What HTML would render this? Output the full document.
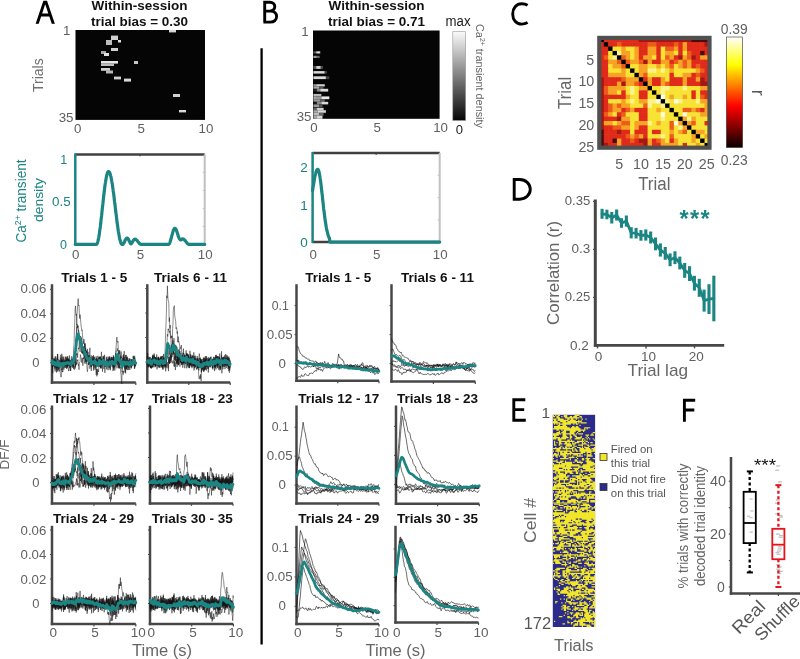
<!DOCTYPE html>
<html><head><meta charset="utf-8"><style>
html,body{margin:0;padding:0;background:#fff;}
svg{display:block;font-family:"Liberation Sans", sans-serif;will-change:transform;}
</style></head><body>
<svg width="800" height="659" viewBox="0 0 800 659">
<rect x="0" y="0" width="800" height="659" fill="#fff"/>
<g fill="none" stroke="#000" stroke-width="2.9" stroke-linejoin="miter" stroke-miterlimit="2"><path d="M36.7,25.2 L44.4,2.1 H46.0 L53.8,25.2 M40.2,15.0 H50.3"/><path d="M263.4,22.1 H270.3 C274.1,22.1 276.6,19.9 276.6,16.6 C276.6,13.4 274.3,11.1 270.3,11.1 H264.7 M264.7,22.1 V2.2 H269.8 C273.0,2.2 274.8,4.2 274.8,6.6 C274.8,9.2 272.8,11.1 269.8,11.1 H264.7"/><path d="M527.6,5.3 C525.8,4.2 524.0,3.8 521.8,3.8 C516.2,3.8 512.7,8.2 512.7,13.9 C512.7,19.8 516.2,24.1 521.8,24.1 C524.0,24.1 525.8,23.6 527.6,22.6"/><path d="M514.2,179.5 H519.8 A10.5 9.85 0 0 1 519.8 199.2 H514.2 Z"/><path d="M525.3,399.7 H513.8 V420.3 H525.8 M513.8,409.6 H524.2"/><path d="M695.2,400.2 H684.4 V421.7 M684.4,410.0 H694.3"/></g>
<rect x="33.00" y="23.80" width="24.00" height="2.60" fill="#fff" />
<text x="139.50" y="9.80" font-size="13.5" fill="#111" text-anchor="middle" font-weight="bold" textLength="96" lengthAdjust="spacingAndGlyphs" >Within-session</text>
<text x="139.50" y="25.60" font-size="13.5" fill="#111" text-anchor="middle" font-weight="bold" textLength="97" lengthAdjust="spacingAndGlyphs" >trial bias = 0.30</text>
<text x="376.60" y="9.80" font-size="13.5" fill="#111" text-anchor="middle" font-weight="bold" textLength="96" lengthAdjust="spacingAndGlyphs" >Within-session</text>
<text x="376.60" y="25.60" font-size="13.5" fill="#111" text-anchor="middle" font-weight="bold" textLength="97" lengthAdjust="spacingAndGlyphs" >trial bias = 0.71</text>
<rect x="75.50" y="30.00" width="129.50" height="89.90" fill="#050505" />
<rect x="169.00" y="30.00" width="7.00" height="2.40" fill="#d8d8d8" />
<rect x="111.00" y="35.60" width="7.00" height="4.40" fill="#cfcfcf" />
<rect x="106.00" y="40.00" width="6.00" height="5.00" fill="#bdbdbd" />
<rect x="118.00" y="40.00" width="3.00" height="2.50" fill="#e0e0e0" />
<rect x="111.00" y="48.00" width="7.00" height="3.00" fill="#d0d0d0" />
<rect x="101.00" y="51.00" width="5.00" height="3.00" fill="#a8a8a8" />
<rect x="104.00" y="53.00" width="5.00" height="3.00" fill="#e0e0e0" />
<rect x="134.00" y="61.00" width="4.00" height="3.00" fill="#c8c8c8" />
<rect x="101.00" y="61.00" width="17.00" height="2.60" fill="#e6e6e6" />
<rect x="101.00" y="63.50" width="13.00" height="2.50" fill="#bdbdbd" />
<rect x="101.00" y="68.00" width="9.00" height="2.80" fill="#cfcfcf" />
<rect x="106.00" y="70.50" width="7.00" height="3.00" fill="#b8b8b8" />
<rect x="114.00" y="76.60" width="7.00" height="2.80" fill="#cfcfcf" />
<rect x="124.00" y="78.60" width="7.00" height="3.00" fill="#d8d8d8" />
<rect x="173.00" y="94.00" width="7.00" height="3.00" fill="#d0d0d0" />
<rect x="179.00" y="110.00" width="7.00" height="2.40" fill="#d8d8d8" />
<text x="70.50" y="35.20" font-size="13.3" fill="#5f5f5f" text-anchor="end" >1</text>
<text x="73.50" y="122.00" font-size="13.3" fill="#5f5f5f" text-anchor="end" >35</text>
<text x="77.70" y="133.00" font-size="13.3" fill="#5f5f5f" text-anchor="middle" >0</text>
<text x="141.25" y="133.00" font-size="13.3" fill="#5f5f5f" text-anchor="middle" >5</text>
<text x="206.00" y="133.00" font-size="13.3" fill="#5f5f5f" text-anchor="middle" >10</text>
<text x="42.80" y="75.20" font-size="14" fill="#707070" text-anchor="middle" transform="rotate(-90 42.80 75.20)" >Trials</text>
<rect x="313.00" y="30.50" width="126.60" height="88.30" fill="#050505" />
<rect x="313.41" y="51.30" width="2.84" height="2.20" fill="#555" />
<rect x="316.25" y="51.30" width="3.98" height="2.20" fill="#d8d8d8" />
<rect x="313.41" y="55.80" width="3.41" height="2.20" fill="#999" />
<rect x="316.82" y="55.80" width="2.84" height="2.20" fill="#666" />
<rect x="313.41" y="66.00" width="2.84" height="2.90" fill="#555" />
<rect x="316.25" y="66.00" width="4.55" height="2.90" fill="#cfcfcf" />
<rect x="320.80" y="66.00" width="2.27" height="2.90" fill="#444" />
<rect x="313.41" y="71.10" width="11.36" height="2.50" fill="#dadada" />
<rect x="324.77" y="71.10" width="2.27" height="2.50" fill="#444" />
<rect x="313.41" y="76.30" width="12.50" height="2.80" fill="#dadada" />
<rect x="325.91" y="76.30" width="3.41" height="2.80" fill="#444" />
<rect x="313.41" y="84.20" width="2.84" height="2.30" fill="#999" />
<rect x="316.25" y="84.20" width="8.52" height="2.30" fill="#cfcfcf" />
<rect x="313.41" y="86.50" width="5.68" height="2.30" fill="#aaa" />
<rect x="319.09" y="86.50" width="4.55" height="2.30" fill="#555" />
<rect x="313.41" y="88.80" width="3.41" height="2.80" fill="#222" />
<rect x="316.82" y="88.80" width="3.41" height="2.80" fill="#888" />
<rect x="320.23" y="88.80" width="7.95" height="2.80" fill="#dadada" />
<rect x="313.41" y="93.90" width="7.95" height="2.50" fill="#bbb" />
<rect x="313.41" y="96.40" width="3.41" height="2.80" fill="#aaa" />
<rect x="316.82" y="96.40" width="4.55" height="2.80" fill="#999" />
<rect x="321.36" y="96.40" width="7.95" height="2.80" fill="#e8e8e8" />
<rect x="313.41" y="99.20" width="6.82" height="2.60" fill="#999" />
<rect x="320.23" y="99.20" width="4.55" height="2.60" fill="#666" />
<rect x="313.41" y="101.80" width="3.41" height="2.60" fill="#151515" />
<rect x="316.82" y="101.80" width="4.55" height="2.60" fill="#888" />
<rect x="321.36" y="101.80" width="6.82" height="2.60" fill="#d8d8d8" />
<rect x="313.41" y="104.40" width="5.68" height="2.80" fill="#999" />
<rect x="319.09" y="104.40" width="3.41" height="2.80" fill="#555" />
<rect x="313.41" y="107.80" width="3.41" height="2.40" fill="#666" />
<rect x="316.82" y="107.80" width="6.82" height="2.40" fill="#cfcfcf" />
<rect x="313.41" y="110.20" width="4.55" height="2.60" fill="#aaa" />
<rect x="317.95" y="110.20" width="7.95" height="2.60" fill="#dadada" />
<rect x="313.41" y="112.80" width="5.68" height="2.80" fill="#bbb" />
<rect x="319.09" y="112.80" width="4.55" height="2.80" fill="#666" />
<rect x="313.41" y="115.60" width="3.41" height="3.20" fill="#aaa" />
<rect x="316.82" y="115.60" width="5.68" height="3.20" fill="#d8d8d8" />
<text x="308.70" y="35.80" font-size="13.3" fill="#5f5f5f" text-anchor="end" >1</text>
<text x="311.50" y="120.50" font-size="13.3" fill="#5f5f5f" text-anchor="end" >35</text>
<text x="314.00" y="132.20" font-size="13.3" fill="#5f5f5f" text-anchor="middle" >0</text>
<text x="377.30" y="132.20" font-size="13.3" fill="#5f5f5f" text-anchor="middle" >5</text>
<text x="440.60" y="132.20" font-size="13.3" fill="#5f5f5f" text-anchor="middle" >10</text>
<defs><linearGradient id="gbar" x1="0" y1="0" x2="0" y2="1"><stop offset="0" stop-color="#fafafa"/><stop offset="1" stop-color="#050505"/></linearGradient><linearGradient id="hbar" x1="0" y1="1" x2="0" y2="0"><stop offset="0" stop-color="#0a0000"/><stop offset="0.375" stop-color="#ff0000"/><stop offset="0.75" stop-color="#ffff00"/><stop offset="1" stop-color="#ffffff"/></linearGradient></defs>
<rect x="452.80" y="31.70" width="12.90" height="88.80" fill="url(#gbar)" stroke="#9a9a9a" stroke-width="0.6"/>
<text x="458.00" y="25.80" font-size="14" fill="#1a1a1a" text-anchor="middle" textLength="25" lengthAdjust="spacingAndGlyphs" >max</text>
<text x="459.30" y="134.00" font-size="13" fill="#1a1a1a" text-anchor="middle" >0</text>
<text x="476" y="24" font-size="11" fill="#666" transform="rotate(90 476 24)" textLength="104" lengthAdjust="spacingAndGlyphs">Ca<tspan font-size="7" dy="-4">2+</tspan><tspan dy="4"> transient density</tspan></text>
<line x1="261.60" y1="48.20" x2="261.60" y2="644.60" stroke="#000" stroke-width="2.3" />
<line x1="75.30" y1="154.40" x2="204.70" y2="154.40" stroke="#404040" stroke-width="2.5" />
<line x1="204.70" y1="154.40" x2="204.70" y2="244.40" stroke="#c0c0c0" stroke-width="2" />
<line x1="202.70" y1="226.40" x2="204.70" y2="226.40" stroke="#c0c0c0" stroke-width="1" />
<line x1="202.70" y1="208.40" x2="204.70" y2="208.40" stroke="#c0c0c0" stroke-width="1" />
<line x1="202.70" y1="190.40" x2="204.70" y2="190.40" stroke="#c0c0c0" stroke-width="1" />
<line x1="202.70" y1="172.40" x2="204.70" y2="172.40" stroke="#c0c0c0" stroke-width="1" />
<line x1="140.00" y1="154.40" x2="140.00" y2="156.40" stroke="#404040" stroke-width="1" />
<polyline points="75.3,244.4 75.6,244.4 75.9,244.4 76.3,244.4 76.6,244.4 76.9,244.4 77.2,244.4 77.6,244.4 77.9,244.4 78.2,244.4 78.5,244.4 78.9,244.4 79.2,244.4 79.5,244.4 79.8,244.4 80.2,244.4 80.5,244.4 80.8,244.4 81.1,244.4 81.5,244.4 81.8,244.4 82.1,244.4 82.4,244.4 82.8,244.4 83.1,244.4 83.4,244.4 83.7,244.4 84.1,244.4 84.4,244.4 84.7,244.4 85.0,244.4 85.4,244.4 85.7,244.4 86.0,244.4 86.3,244.4 86.7,244.4 87.0,244.4 87.3,244.4 87.6,244.4 87.9,244.4 88.3,244.4 88.6,244.4 88.9,244.4 89.2,244.4 89.6,244.4 89.9,244.4 90.2,244.4 90.5,244.4 90.9,244.4 91.2,244.4 91.5,244.4 91.8,244.4 92.2,244.4 92.5,244.4 92.8,244.4 93.1,244.4 93.5,244.4 93.8,244.4 94.1,244.4 94.4,244.4 94.8,244.4 95.1,244.4 95.4,244.4 95.7,244.4 96.1,244.4 96.4,244.4 96.7,244.2 97.0,243.7 97.4,243.0 97.7,242.0 98.0,240.9 98.3,239.4 98.7,237.8 99.0,236.0 99.3,234.0 99.6,231.8 99.9,229.4 100.3,226.9 100.6,224.2 100.9,221.5 101.2,218.6 101.6,215.7 101.9,212.7 102.2,209.7 102.5,206.7 102.9,203.7 103.2,200.7 103.5,197.8 103.8,194.9 104.2,192.1 104.5,189.5 104.8,186.9 105.1,184.5 105.5,182.3 105.8,180.2 106.1,178.4 106.4,176.7 106.8,175.3 107.1,174.0 107.4,173.0 107.7,172.3 108.1,171.8 108.4,171.5 108.7,171.5 109.0,171.7 109.4,172.1 109.7,172.7 110.0,173.5 110.3,174.5 110.6,175.7 111.0,177.0 111.3,178.6 111.6,180.3 111.9,182.1 112.3,184.1 112.6,186.3 112.9,188.5 113.2,190.9 113.6,193.3 113.9,195.9 114.2,198.5 114.5,201.2 114.9,203.9 115.2,206.6 115.5,209.3 115.8,212.1 116.2,214.8 116.5,217.4 116.8,220.0 117.1,222.6 117.5,225.0 117.8,227.4 118.1,229.7 118.4,231.8 118.8,233.8 119.1,235.6 119.4,237.3 119.7,238.9 120.1,240.2 120.4,241.4 120.7,242.4 121.0,243.2 121.4,243.8 121.7,244.2 122.0,244.4 122.3,244.4 122.6,244.4 123.0,244.3 123.3,244.0 123.6,243.5 123.9,243.0 124.3,242.4 124.6,241.7 124.9,240.9 125.2,240.2 125.6,239.6 125.9,239.0 126.2,238.6 126.5,238.2 126.9,238.1 127.2,238.1 127.5,238.2 127.8,238.5 128.2,238.9 128.5,239.5 128.8,240.1 129.1,240.8 129.5,241.5 129.8,242.2 130.1,242.9 130.4,243.4 130.8,243.8 131.1,243.8 131.4,243.6 131.7,243.2 132.1,242.7 132.4,242.1 132.7,241.5 133.0,240.9 133.4,240.4 133.7,239.9 134.0,239.6 134.3,239.3 134.6,239.2 135.0,239.1 135.3,239.2 135.6,239.3 135.9,239.5 136.3,239.8 136.6,240.1 136.9,240.4 137.2,240.8 137.6,241.1 137.9,241.6 138.2,242.0 138.5,242.4 138.9,242.8 139.2,243.1 139.5,243.5 139.8,243.8 140.2,244.0 140.5,244.2 140.8,244.3 141.1,244.4 141.5,244.4 141.8,244.4 142.1,244.4 142.4,244.4 142.8,244.4 143.1,244.4 143.4,244.4 143.7,244.4 144.1,244.4 144.4,244.4 144.7,244.4 145.0,244.4 145.4,244.4 145.7,244.4 146.0,244.4 146.3,244.4 146.6,244.4 147.0,244.4 147.3,244.4 147.6,244.4 147.9,244.4 148.3,244.4 148.6,244.4 148.9,244.4 149.2,244.4 149.6,244.4 149.9,244.4 150.2,244.4 150.5,244.4 150.9,244.4 151.2,244.4 151.5,244.4 151.8,244.4 152.2,244.4 152.5,244.4 152.8,244.4 153.1,244.4 153.5,244.4 153.8,244.4 154.1,244.4 154.4,244.4 154.8,244.4 155.1,244.4 155.4,244.4 155.7,244.4 156.1,244.4 156.4,244.4 156.7,244.4 157.0,244.4 157.4,244.4 157.7,244.4 158.0,244.4 158.3,244.4 158.6,244.4 159.0,244.4 159.3,244.4 159.6,244.4 159.9,244.4 160.3,244.4 160.6,244.4 160.9,244.4 161.2,244.4 161.6,244.4 161.9,244.4 162.2,244.4 162.5,244.4 162.9,244.4 163.2,244.4 163.5,244.4 163.8,244.4 164.2,244.4 164.5,244.4 164.8,244.4 165.1,244.4 165.5,244.4 165.8,244.4 166.1,244.4 166.4,244.4 166.8,244.4 167.1,244.4 167.4,244.4 167.7,244.4 168.1,244.4 168.4,244.4 168.7,244.3 169.0,244.1 169.4,243.7 169.7,243.1 170.0,242.3 170.3,241.3 170.6,240.3 171.0,239.1 171.3,237.9 171.6,236.7 171.9,235.4 172.3,234.2 172.6,233.0 172.9,231.9 173.2,230.9 173.6,230.0 173.9,229.3 174.2,228.8 174.5,228.4 174.9,228.3 175.2,228.3 175.5,228.6 175.8,229.0 176.2,229.7 176.5,230.5 176.8,231.4 177.1,232.4 177.5,233.5 177.8,234.5 178.1,235.5 178.4,236.4 178.8,237.3 179.1,238.1 179.4,238.7 179.7,239.2 180.1,239.6 180.4,239.8 180.7,239.9 181.0,239.8 181.3,239.6 181.7,239.3 182.0,239.1 182.3,238.9 182.6,238.9 183.0,238.9 183.3,239.0 183.6,239.2 183.9,239.4 184.3,239.6 184.6,240.0 184.9,240.3 185.2,240.7 185.6,241.1 185.9,241.6 186.2,242.0 186.5,242.4 186.9,242.8 187.2,243.2 187.5,243.6 187.8,243.8 188.2,244.1 188.5,244.2 188.8,244.4 189.1,244.4 189.5,244.4 189.8,244.4 190.1,244.4 190.4,244.4 190.8,244.4 191.1,244.4 191.4,244.4 191.7,244.4 192.1,244.4 192.4,244.4 192.7,244.4 193.0,244.4 193.3,244.4 193.7,244.4 194.0,244.4 194.3,244.4 194.6,244.4 195.0,244.4 195.3,244.4 195.6,244.4 195.9,244.4 196.3,244.4 196.6,244.4 196.9,244.4 197.2,244.4 197.6,244.4 197.9,244.4 198.2,244.4 198.5,244.4 198.9,244.4 199.2,244.4 199.5,244.4 199.8,244.4 200.2,244.4 200.5,244.4 200.8,244.4 201.1,244.4 201.5,244.4 201.8,244.4 202.1,244.4 202.4,244.4 202.8,244.4 203.1,244.4 203.4,244.4 203.7,244.4 204.1,244.4 204.4,244.4 204.7,244.4" fill="none" stroke="#1a8582" stroke-width="3.2" stroke-linejoin="round" stroke-linecap="round" />
<line x1="75.30" y1="153.40" x2="75.30" y2="245.40" stroke="#1a8582" stroke-width="2.5" />
<text x="67.20" y="164.00" font-size="12.5" fill="#1a8582" text-anchor="end" >1</text>
<text x="70.60" y="206.30" font-size="12.5" fill="#1a8582" text-anchor="end" textLength="18.6" lengthAdjust="spacingAndGlyphs" >0.5</text>
<text x="67.00" y="248.60" font-size="12.5" fill="#1a8582" text-anchor="end" >0</text>
<text x="75.80" y="259.40" font-size="13.3" fill="#5f5f5f" text-anchor="middle" >0</text>
<text x="140.50" y="259.40" font-size="13.3" fill="#5f5f5f" text-anchor="middle" >5</text>
<text x="205.20" y="259.40" font-size="13.3" fill="#5f5f5f" text-anchor="middle" >10</text>
<text x="26.00" y="201.00" font-size="14" fill="#1a8582" text-anchor="middle" textLength="83" lengthAdjust="spacingAndGlyphs" transform="rotate(-90 26.00 201.00)" >Ca<tspan font-size="9" dy="-5">2+</tspan><tspan dy="5"> transient</tspan></text>
<text x="43.20" y="200.00" font-size="13.5" fill="#1a8582" text-anchor="middle" textLength="44" lengthAdjust="spacingAndGlyphs" transform="rotate(-90 43.20 200.00)" >density</text>
<line x1="312.60" y1="153.00" x2="439.70" y2="153.00" stroke="#404040" stroke-width="2.5" />
<line x1="439.70" y1="153.00" x2="439.70" y2="242.10" stroke="#c0c0c0" stroke-width="2" />
<line x1="437.70" y1="219.82" x2="439.70" y2="219.82" stroke="#c0c0c0" stroke-width="1" />
<line x1="437.70" y1="197.55" x2="439.70" y2="197.55" stroke="#c0c0c0" stroke-width="1" />
<line x1="437.70" y1="175.28" x2="439.70" y2="175.28" stroke="#c0c0c0" stroke-width="1" />
<line x1="376.15" y1="153.00" x2="376.15" y2="155.00" stroke="#404040" stroke-width="1" />
<line x1="312.60" y1="242.10" x2="439.70" y2="242.10" stroke="#404040" stroke-width="2.5" />
<polyline points="312.6,190.6 312.9,188.5 313.2,186.4 313.6,184.4 313.9,182.4 314.2,180.5 314.5,178.7 314.8,177.0 315.1,175.5 315.5,174.1 315.8,172.8 316.1,171.8 316.4,170.9 316.7,170.2 317.1,169.7 317.4,169.4 317.7,169.3 318.0,169.4 318.3,169.9 318.7,170.7 319.0,171.8 319.3,173.2 319.6,174.8 319.9,176.7 320.2,178.8 320.6,181.1 320.9,183.6 321.2,186.2 321.5,189.0 321.8,191.8 322.2,194.7 322.5,197.6 322.8,200.5 323.1,203.4 323.4,206.2 323.7,209.0 324.1,211.7 324.4,214.3 324.7,216.8 325.0,219.1 325.3,221.4 325.7,223.5 326.0,225.4 326.3,227.3 326.6,228.9 326.9,230.5 327.3,231.9 327.6,233.1 327.9,234.3 328.2,235.3 328.5,236.2 328.8,237.1 329.2,237.8 329.5,238.4 329.8,242.1 330.1,242.1 330.4,242.1 330.8,242.1 331.1,242.1 331.4,242.1 331.7,242.1 332.0,242.1 332.3,242.1 332.7,242.1 333.0,242.1 333.3,242.1 333.6,242.1 333.9,242.1 334.3,242.1 334.6,242.1 334.9,242.1 335.2,242.1 335.5,242.1 335.9,242.1 336.2,242.1 336.5,242.1 336.8,242.1 337.1,242.1 337.4,242.1 337.8,242.1 338.1,242.1 338.4,242.1 338.7,242.1 339.0,242.1 339.4,242.1 339.7,242.1 340.0,242.1 340.3,242.1 340.6,242.1 341.0,242.1 341.3,242.1 341.6,242.1 341.9,242.1 342.2,242.1 342.5,242.1 342.9,242.1 343.2,242.1 343.5,242.1 343.8,242.1 344.1,242.1 344.5,242.1 344.8,242.1 345.1,242.1 345.4,242.1 345.7,242.1 346.0,242.1 346.4,242.1 346.7,242.1 347.0,242.1 347.3,242.1 347.6,242.1 348.0,242.1 348.3,242.1 348.6,242.1 348.9,242.1 349.2,242.1 349.6,242.1 349.9,242.1 350.2,242.1 350.5,242.1 350.8,242.1 351.1,242.1 351.5,242.1 351.8,242.1 352.1,242.1 352.4,242.1 352.7,242.1 353.1,242.1 353.4,242.1 353.7,242.1 354.0,242.1 354.3,242.1 354.6,242.1 355.0,242.1 355.3,242.1 355.6,242.1 355.9,242.1 356.2,242.1 356.6,242.1 356.9,242.1 357.2,242.1 357.5,242.1 357.8,242.1 358.2,242.1 358.5,242.1 358.8,242.1 359.1,242.1 359.4,242.1 359.7,242.1 360.1,242.1 360.4,242.1 360.7,242.1 361.0,242.1 361.3,242.1 361.7,242.1 362.0,242.1 362.3,242.1 362.6,242.1 362.9,242.1 363.2,242.1 363.6,242.1 363.9,242.1 364.2,242.1 364.5,242.1 364.8,242.1 365.2,242.1 365.5,242.1 365.8,242.1 366.1,242.1 366.4,242.1 366.8,242.1 367.1,242.1 367.4,242.1 367.7,242.1 368.0,242.1 368.3,242.1 368.7,242.1 369.0,242.1 369.3,242.1 369.6,242.1 369.9,242.1 370.3,242.1 370.6,242.1 370.9,242.1 371.2,242.1 371.5,242.1 371.8,242.1 372.2,242.1 372.5,242.1 372.8,242.1 373.1,242.1 373.4,242.1 373.8,242.1 374.1,242.1 374.4,242.1 374.7,242.1 375.0,242.1 375.4,242.1 375.7,242.1 376.0,242.1 376.3,242.1 376.6,242.1 376.9,242.1 377.3,242.1 377.6,242.1 377.9,242.1 378.2,242.1 378.5,242.1 378.9,242.1 379.2,242.1 379.5,242.1 379.8,242.1 380.1,242.1 380.5,242.1 380.8,242.1 381.1,242.1 381.4,242.1 381.7,242.1 382.0,242.1 382.4,242.1 382.7,242.1 383.0,242.1 383.3,242.1 383.6,242.1 384.0,242.1 384.3,242.1 384.6,242.1 384.9,242.1 385.2,242.1 385.5,242.1 385.9,242.1 386.2,242.1 386.5,242.1 386.8,242.1 387.1,242.1 387.5,242.1 387.8,242.1 388.1,242.1 388.4,242.1 388.7,242.1 389.1,242.1 389.4,242.1 389.7,242.1 390.0,242.1 390.3,242.1 390.6,242.1 391.0,242.1 391.3,242.1 391.6,242.1 391.9,242.1 392.2,242.1 392.6,242.1 392.9,242.1 393.2,242.1 393.5,242.1 393.8,242.1 394.1,242.1 394.5,242.1 394.8,242.1 395.1,242.1 395.4,242.1 395.7,242.1 396.1,242.1 396.4,242.1 396.7,242.1 397.0,242.1 397.3,242.1 397.7,242.1 398.0,242.1 398.3,242.1 398.6,242.1 398.9,242.1 399.2,242.1 399.6,242.1 399.9,242.1 400.2,242.1 400.5,242.1 400.8,242.1 401.2,242.1 401.5,242.1 401.8,242.1 402.1,242.1 402.4,242.1 402.7,242.1 403.1,242.1 403.4,242.1 403.7,242.1 404.0,242.1 404.3,242.1 404.7,242.1 405.0,242.1 405.3,242.1 405.6,242.1 405.9,242.1 406.3,242.1 406.6,242.1 406.9,242.1 407.2,242.1 407.5,242.1 407.8,242.1 408.2,242.1 408.5,242.1 408.8,242.1 409.1,242.1 409.4,242.1 409.8,242.1 410.1,242.1 410.4,242.1 410.7,242.1 411.0,242.1 411.3,242.1 411.7,242.1 412.0,242.1 412.3,242.1 412.6,242.1 412.9,242.1 413.3,242.1 413.6,242.1 413.9,242.1 414.2,242.1 414.5,242.1 414.9,242.1 415.2,242.1 415.5,242.1 415.8,242.1 416.1,242.1 416.4,242.1 416.8,242.1 417.1,242.1 417.4,242.1 417.7,242.1 418.0,242.1 418.4,242.1 418.7,242.1 419.0,242.1 419.3,242.1 419.6,242.1 420.0,242.1 420.3,242.1 420.6,242.1 420.9,242.1 421.2,242.1 421.5,242.1 421.9,242.1 422.2,242.1 422.5,242.1 422.8,242.1 423.1,242.1 423.5,242.1 423.8,242.1 424.1,242.1 424.4,242.1 424.7,242.1 425.0,242.1 425.4,242.1 425.7,242.1 426.0,242.1 426.3,242.1 426.6,242.1 427.0,242.1 427.3,242.1 427.6,242.1 427.9,242.1 428.2,242.1 428.6,242.1 428.9,242.1 429.2,242.1 429.5,242.1 429.8,242.1 430.1,242.1 430.5,242.1 430.8,242.1 431.1,242.1 431.4,242.1 431.7,242.1 432.1,242.1 432.4,242.1 432.7,242.1 433.0,242.1 433.3,242.1 433.6,242.1 434.0,242.1 434.3,242.1 434.6,242.1 434.9,242.1 435.2,242.1 435.6,242.1 435.9,242.1 436.2,242.1 436.5,242.1 436.8,242.1 437.2,242.1 437.5,242.1 437.8,242.1 438.1,242.1 438.4,242.1 438.7,242.1 439.1,242.1 439.4,242.1 439.7,242.1" fill="none" stroke="#1a8582" stroke-width="3.2" stroke-linejoin="round" stroke-linecap="round" />
<line x1="312.60" y1="152.00" x2="312.60" y2="243.10" stroke="#1a8582" stroke-width="2.5" />
<text x="307.80" y="172.00" font-size="13.5" fill="#1a8582" text-anchor="end" >2</text>
<text x="307.80" y="209.60" font-size="13.5" fill="#1a8582" text-anchor="end" >1</text>
<text x="307.80" y="246.80" font-size="13.5" fill="#1a8582" text-anchor="end" >0</text>
<text x="313.10" y="259.40" font-size="13.3" fill="#5f5f5f" text-anchor="middle" >0</text>
<text x="376.65" y="259.40" font-size="13.3" fill="#5f5f5f" text-anchor="middle" >5</text>
<text x="440.20" y="259.40" font-size="13.3" fill="#5f5f5f" text-anchor="middle" >10</text>
<line x1="52.00" y1="284.20" x2="52.00" y2="383.80" stroke="#474747" stroke-width="2.5" />
<line x1="50.80" y1="382.60" x2="135.80" y2="382.60" stroke="#474747" stroke-width="2.5" />
<line x1="50.00" y1="289.30" x2="52.00" y2="289.30" stroke="#474747" stroke-width="1" />
<line x1="50.00" y1="313.80" x2="52.00" y2="313.80" stroke="#474747" stroke-width="1" />
<line x1="50.00" y1="338.30" x2="52.00" y2="338.30" stroke="#474747" stroke-width="1" />
<line x1="50.00" y1="362.80" x2="52.00" y2="362.80" stroke="#474747" stroke-width="1" />
<line x1="93.90" y1="382.60" x2="93.90" y2="385.00" stroke="#474747" stroke-width="1.2" />
<line x1="135.80" y1="382.60" x2="135.80" y2="385.00" stroke="#474747" stroke-width="1.2" />
<path d="M52.0 362.8l0.4-0.9 0.3 1.1 0.4 3.1 0.3-2.7 0.4 1.8 0.3-1 0.4-1.6 0.3 7.6 0.4 1.3 0.3-3.5 0.4-3 0.3-2.6 0.4 4 0.3-0.2 0.4-3.2 0.3 4.6 0.4-3.6 0.3 5.7 0.4-1.7 0.3 1.1 0.4-5.7 0.3 2.4 0.4-2.6 0.3 0.3 0.4 2 0.3 4.8 0.4-4 0.3-2.2 0.4 0.8 0.3 5 0.4-5.4 0.3 0 0.4-1.5 0.3-4.3 0.4 6.6 0.3 0 0.4-2.3 0.3 4.6 0.4-4 0.3 1 0.4 0.3 0.3 4.1 0.4-6.3 0.3-4.5 0.4 8.7 0.3-7.5 0.4 3.1 0.3 2.5 0.4-4.2 0.3 1.4 0.4 4.7 0.3-6.4 0.4-0.5 0.3 3.1 0.4-1.7 0.3 3.1 0.4-2 0.3-2.1 0.4 4 0.3-6.2 0.4-3.2 0.3-7.2 0.4-3.8 0.3-12.8 0.4-11 0.3-10.9 0.4-3.4 0.3 7.1 0.4 2.5 0.3-1.5 0.4 11.1 0.3-1 0.4 3.1 0.3-1.7 0.4 5.6 0.3 5.7 0.4 3.4 0.3-0.8 0.4-2.4 0.4 6 0.3 0.7 0.4-0.8 0.3 4.1 0.4 2.8 0.3 3.4 0.4-1.7 0.3 1.8 0.4-6.1 0.3 1.5 0.4 3.6 0.3 1.8 0.4 3.2 0.3-2.4 0.4 3.7 0.3-2.2 0.4 5.5 0.3-6.6 0.4 6.2 0.3 0.1 0.4-4.2 0.3 1.3 0.4-2.4 0.3-4.4 0.4 12.8 0.3-0.5 0.4-4.4 0.3-3 0.4 3.1 0.3 2.4 0.4-0.8 0.3-0.7 0.4 3.9 0.3-3.4 0.4 0.2 0.3 3.4 0.4-3.6 0.3 3.6 0.4-5.2 0.3 1.8 0.4-1.5 0.3 1.5 0.4-0.9 0.3 9.2 0.4-2.3 0.3-1.9 0.4 9.3 0.3-6.2 0.4 7.6 0.3-7.5 0.4 5.8 0.3-5 0.4 1.2 0.3 1.2 0.4-11.7 0.3-2.3 0.4 5.2 0.3 3.7 0.4-0.4 0.3 1.3 0.4-6.4 0.3 4.5 0.4-0.6 0.3-0.5 0.4-2 0.3-0.4 0.4-5.6 0.3 4.7 0.4-2.1 0.3 2.9 0.4 2.9 0.3-0.3 0.4 1.7 0.3-2.7 0.4-0.1 0.3-1.7 0.4 2.9 0.3 0.1 0.4-6 0.3 7.7 0.4-1.1 0.4-4.6 0.3-3.9 0.4 8.9 0.3-2.8 0.4 3.4 0.3 2.6 0.4-8.9 0.3 3.3 0.4-0.8 0.3 1.9 0.4-7.2 0.3 4.7 0.4-0.2 0.3 5.4 0.4-2.9 0.3-7.6 0.4 2.6 0.3 0.8 0.4 0.5 0.3 5 0.4 0.1 0.3-4.2 0.4 2.3 0.3-1.8 0.4 0.1 0.3-3.5 0.4 3 0.3 1.5 0.4 1.9 0.3 2.4 0.4-6.2 0.3 0.1 0.4 3.6 0.3-1.4 0.4-1 0.3-2 0.4-0.2 0.3 4.2 0.4-3.9 0.3 7.8 0.4-7.1 0.3 0.8 0.4-3.6 0.3-1.2 0.4 0 0.3 9.4 0.4 1.6 0.3-7.6 0.4 5.1 0.3-4.6 0.4-2 0.3 8.1 0.4 1.8 0.3-7.1 0.4-1.6 0.3 2 0.4-0.8 0.3 5.5 0.4 0.1 0.3-3 0.4 2.4 0.3 3.1 0.4-8.7 0.3 1.4 0.4-0.3 0.3 6 0.4-1.2 0.3-0.7 0.4-0.4 0.3-3.6 0.4 3 0.3-3.2 0.4-1.1 0.3-3.3 0.4 10.9 0.3-4.4 0.4 0 0.3-1 0.4 2.7 " fill="none" stroke="#141414" stroke-width="0.55" stroke-opacity="0.9" stroke-linejoin="round"/>
<path d="M52.0 361.8l0.4 2.8 0.3 8.6 0.4-9.2 0.3-0.1 0.4-4.3 0.3-1.8 0.4 5.7 0.3 5.3 0.4-2.7 0.3 0.1 0.4 0.7 0.3-2.6 0.4 8.2 0.3-10.4 0.4 6.1 0.3-5.7 0.4 1.7 0.3 1.1 0.4-0.8 0.3 3 0.4-0.9 0.3 1.8 0.4-7.4 0.3-5.3 0.4-1 0.3 2.9 0.4 1.7 0.3 4.7 0.4-7.5 0.3 4.7 0.4 1 0.3 1.8 0.4-1.8 0.3 2 0.4-2.1 0.3 3.4 0.4-3.3 0.3-5.7 0.4 5.9 0.3 0.5 0.4-2.5 0.3-2.2 0.4 5.1 0.3-5 0.4-2 0.3 3.1 0.4 2.7 0.3-3.4 0.4 5.9 0.3-2.5 0.4 2.7 0.3-4.1 0.4 10.3 0.3-1.7 0.4-2.8 0.3-2.8 0.4-1.8 0.3-1.7 0.4 7.7 0.3-6 0.4 4.7 0.3 2.5 0.4-2.9 0.3 3.4 0.4-0.1 0.3-8.6 0.4-3.4 0.3-6.7 0.4-12.9 0.3-8.1 0.4-14.3 0.3-3.6 0.4-4.9 0.3-7.3 0.4-1.1 0.3 7.2 0.4-0.7 0.3 7.4 0.4 6 0.4-3.9 0.3 3.4 0.4 4.4 0.3 3.8 0.4 1.9 0.3 2.5 0.4-0.8 0.3 6 0.4 3 0.3 1 0.4 4.1 0.3-4.8 0.4 3.1 0.3 3.6 0.4 7.6 0.3-10 0.4 5.4 0.3 5 0.4 2.7 0.3-5.2 0.4 0.2 0.3 4.6 0.4 0.9 0.3 3.6 0.4-1.7 0.3 1.7 0.4-1.9 0.3-5.6 0.4-5.3 0.3 9.1 0.4 0.5 0.3 2.3 0.4-4.3 0.3 5.7 0.4 0.4 0.3 0.1 0.4 3.6 0.3-2.4 0.4 0.9 0.3 4.4 0.4 0.4 0.3-5.5 0.4-2.7 0.3 0.5 0.4 4.7 0.3-4.7 0.4-1.2 0.3 0.7 0.4 3.8 0.3 0.3 0.4-4.7 0.3 4 0.4 2.8 0.3-1.7 0.4-7.9 0.3 3.9 0.4-3.6 0.3 3 0.4-3.3 0.3 6.2 0.4-1.6 0.3-9.7 0.4 5.3 0.3 6.4 0.4 0.1 0.3-0.6 0.4-2.1 0.3 3.8 0.4 4.2 0.3-4.2 0.4 1 0.3-0.5 0.4-3 0.3 2 0.4-2.6 0.3 4.3 0.4-6.3 0.3-3 0.4 4.1 0.3 2.3 0.4 1 0.4-5.7 0.3 8.9 0.4-4 0.3-0.9 0.4-1.5 0.3 5 0.4-1.4 0.3 0.5 0.4-0.7 0.3-1.1 0.4 3.7 0.3-1.9 0.4-0.6 0.3 6.8 0.4-4.5 0.3-4.3 0.4 2.6 0.3-2.8 0.4 5.3 0.3-7.8 0.4-5 0.3-0.3 0.4 7 0.3-5.2 0.4 0.6 0.3 1 0.4-1.9 0.3 9.5 0.4-6.2 0.3 4.6 0.4-3.5 0.3 4.4 0.4 3.3 0.3 0 0.4-1.1 0.3 6.6 0.4 1.2 0.3 7.4 0.4 2 0.3-12.2 0.4-0.6 0.3 1.6 0.4 1.9 0.3-3.8 0.4 1.9 0.3-1.9 0.4-2.6 0.3-3.3 0.4 7.2 0.3-9.3 0.4 4.9 0.3 1.2 0.4-4.7 0.3 4.5 0.4 1.3 0.3-2.7 0.4-5 0.3 0.2 0.4 2.5 0.3-2.1 0.4-0.8 0.3 3.5 0.4-3.5 0.3 3.2 0.4 1.9 0.3 0.8 0.4-2.8 0.3-0.2 0.4 0.3 0.3-1.7 0.4-3.8 0.3 2.5 0.4-2.3 0.3-2.4 0.4 1.6 0.3-3.5 0.4 10.7 0.3-4.1 0.4 2.3 " fill="none" stroke="#141414" stroke-width="0.55" stroke-opacity="0.9" stroke-linejoin="round"/>
<path d="M52.0 365.1l0.4 2.4 0.3-4 0.4-2.2 0.3 4.9 0.4-2.1 0.3 2.4 0.4-6 0.3-0.9 0.4 1.2 0.3 4.7 0.4-5.5 0.3 9.8 0.4-8 0.3 5.4 0.4 4.3 0.3-17.5 0.4 4.2 0.3 9.4 0.4-2.1 0.3-0.1 0.4 0.2 0.3 2.6 0.4-1.4 0.3-4.9 0.4 1.7 0.3-4.2 0.4 2.1 0.3-7.7 0.4 9.6 0.3-3.7 0.4 6.4 0.3-1.7 0.4-7.8 0.3 7.9 0.4-4.6 0.3 4.4 0.4 3.7 0.3-3.1 0.4 1 0.3-1.1 0.4-3.2 0.3-1.6 0.4 6.6 0.3 1.3 0.4-3.7 0.3-0.6 0.4-3.6 0.3-1.4 0.4 3.8 0.3 3 0.4-2.9 0.3 4.4 0.4-1.4 0.3 1.6 0.4-4.4 0.3 1.8 0.4-3.2 0.3 2.1 0.4-0.9 0.3 3 0.4-5.7 0.3 3.6 0.4-5.8 0.3 0.4 0.4-4 0.3 4.8 0.4-6.7 0.3-12.6 0.4 3.6 0.3-12.4 0.4-3.9 0.3 1.2 0.4-0.6 0.3-1.7 0.4 6.2 0.3-1.5 0.4 2 0.3 1.9 0.4 1.6 0.4 1.7 0.3-0.9 0.4-0.7 0.3 9.1 0.4-7.5 0.3 2.9 0.4 1.6 0.3 5.4 0.4 0.4 0.3-1.4 0.4 1.5 0.3 8.4 0.4-5.6 0.3-7.3 0.4 14.3 0.3-9.8 0.4 1.9 0.3 3.7 0.4-3.1 0.3 8.1 0.4-5.6 0.3-4.1 0.4 7.1 0.3 2.3 0.4-1.2 0.3 2.7 0.4-4.9 0.3 7.6 0.4-5.2 0.3 4.7 0.4-2.9 0.3 3.2 0.4 8.7 0.3-8.4 0.4 1.7 0.3-0.9 0.4-7.2 0.3 9.8 0.4-1.1 0.3-7.4 0.4 3 0.3-3.8 0.4 2.4 0.3 4.7 0.4-4.1 0.3-2.2 0.4-1.2 0.3 3.8 0.4-1.2 0.3 2.7 0.4-0.1 0.3-5.7 0.4 5.3 0.3 2.9 0.4-3 0.3-3.9 0.4 0.2 0.3 2.3 0.4 2.6 0.3-0.3 0.4 6.8 0.3-3.4 0.4-6.6 0.3 3 0.4-0.8 0.3-1.2 0.4 1.4 0.3 2.2 0.4-6.9 0.3 6.8 0.4 2.8 0.3-2.4 0.4-0.7 0.3 2.7 0.4-1.9 0.3-0.4 0.4 6.1 0.3-6.2 0.4 2.7 0.3 1.7 0.4 2.6 0.4-4.3 0.3-2.6 0.4-1.2 0.3 1.6 0.4-7.2 0.3 6.9 0.4-0.8 0.3-4.2 0.4 5.2 0.3-3 0.4-3.5 0.3 3.3 0.4 0.3 0.3-2.3 0.4-1.7 0.3 10 0.4-3.6 0.3 1.1 0.4-0.4 0.3-0.8 0.4-5.3 0.3-7.9 0.4-3.8 0.3-6.1 0.4-2.8 0.3 4.4 0.4 0.9 0.3-1.3 0.4 8.6 0.3 4.7 0.4-3.9 0.3 3.1 0.4-3.4 0.3 2.5 0.4 6.1 0.3-0.7 0.4-6.6 0.3 6.7 0.4-1.4 0.3 5.7 0.4 0 0.3 0 0.4-7.3 0.3 9.5 0.4-0.4 0.3-0.3 0.4-2.9 0.3-0.4 0.4 0.3 0.3-6 0.4 3.2 0.3-3.3 0.4 4.4 0.3-0.8 0.4 7.9 0.3-4.3 0.4 0.6 0.3 0.3 0.4 4.4 0.3-9.4 0.4 4 0.3 1.6 0.4-1.2 0.3 0.5 0.4-1.5 0.3 5.7 0.4-0.8 0.3-3.8 0.4 1.2 0.3-0.9 0.4-0.6 0.3-0.1 0.4 0.3 0.3-4.4 0.4 7.1 0.3-7.4 0.4 4.2 0.3 4.2 0.4-3.7 " fill="none" stroke="#141414" stroke-width="0.55" stroke-opacity="0.9" stroke-linejoin="round"/>
<path d="M52.0 358.5l0.4 3.6 0.3-1.6 0.4 3.2 0.3 2.1 0.4-3.1 0.3 0.7 0.4-3.8 0.3 4.8 0.4-7.9 0.3 5.2 0.4 1.4 0.3 0.5 0.4-0.6 0.3 2.2 0.4-1.9 0.3-4.2 0.4 0.2 0.3 4.9 0.4 0.8 0.3 6.7 0.4-0.7 0.3-1.8 0.4 1.1 0.3 3.8 0.4 2.9 0.3 0.1 0.4-0.5 0.3-8.2 0.4 3.7 0.3-1.4 0.4 1.2 0.3-3.4 0.4-7.5 0.3 4.7 0.4-0.8 0.3 1.5 0.4-5.7 0.3 4.1 0.4 0 0.3 1.9 0.4 1.1 0.3-4.8 0.4-6.7 0.3 10.3 0.4-4.8 0.3 4.5 0.4 4.8 0.3-1.3 0.4-2.5 0.3 0.7 0.4-7.9 0.3 10.8 0.4-7.6 0.3-1.9 0.4 1.7 0.3-3.5 0.4-0.7 0.3 2.4 0.4 0.6 0.3-2.8 0.4 8.1 0.3-9.4 0.4-1.3 0.3 5.9 0.4-0.2 0.3 6.1 0.4-4 0.3 0.5 0.4-3.1 0.3-8.4 0.4 1.7 0.3-1.5 0.4 4.2 0.3-6.1 0.4-3.9 0.3 1.4 0.4-1.1 0.3-6.6 0.4 9.4 0.4 1.1 0.3-0.7 0.4-4.8 0.3-3.1 0.4 5.8 0.3 2.9 0.4 0.9 0.3-4.2 0.4 5.6 0.3-7.6 0.4 1 0.3 4.6 0.4-0.2 0.3-0.9 0.4-1.2 0.3 10.3 0.4-6.4 0.3 4.6 0.4 0.6 0.3-0.6 0.4 2.5 0.3-0.8 0.4 1.5 0.3-1.1 0.4-4.9 0.3-0.2 0.4 0.6 0.3 0.1 0.4 6.9 0.3 0.8 0.4-1.6 0.3 2.2 0.4 2.2 0.3-3.9 0.4-0.9 0.3 2.1 0.4-5.1 0.3 4.4 0.4-8.3 0.3 4 0.4 0.3 0.3-0.1 0.4 0.8 0.3 2 0.4-0.4 0.3-2.2 0.4 1.7 0.3-3.3 0.4 8.8 0.3-5 0.4 1.5 0.3-0.5 0.4 2.4 0.3 1.2 0.4-5 0.3 0.1 0.4 2 0.3-7.2 0.4 0.6 0.3 5.1 0.4-3.2 0.3 5 0.4-4.1 0.3 1.8 0.4 1.9 0.3-2.5 0.4 3.8 0.3-2.4 0.4 1.2 0.3-1.8 0.4 2.1 0.3 9.3 0.4-11.2 0.3 4.9 0.4-6.6 0.3-2.7 0.4 3.9 0.3 2 0.4 0.5 0.3 0.2 0.4 1.4 0.4 0.6 0.3-1.2 0.4-8.4 0.3 3.9 0.4-2.8 0.3 5.4 0.4-2 0.3 1.4 0.4-2.2 0.3-3.2 0.4 2.4 0.3 4.5 0.4 1.6 0.3-6.5 0.4 4.8 0.3 4.7 0.4-6.4 0.3 0 0.4-2.2 0.3 2.9 0.4-9.1 0.3 6.4 0.4-0.2 0.3 4.7 0.4 3.9 0.3-0.7 0.4-6.3 0.3 1.2 0.4 2.4 0.3 3.3 0.4 0.2 0.3-3.5 0.4 3.6 0.3-6.2 0.4 0.9 0.3-7.4 0.4 6 0.3 3.1 0.4 1.9 0.3 5.2 0.4-7 0.3-0.3 0.4-3.2 0.3-1.2 0.4 0.5 0.3 2.3 0.4-1.8 0.3-4.3 0.4 5.6 0.3 0 0.4 3.6 0.3-8.2 0.4-0.8 0.3 3.7 0.4 5.7 0.3-2.9 0.4 0.9 0.3-1.1 0.4 0.6 0.3-2.7 0.4 2.3 0.3-2.1 0.4 1.3 0.3 1.5 0.4-2.4 0.3-0.2 0.4-2.1 0.3 5 0.4-0.9 0.3 0.3 0.4-0.7 0.3-7.6 0.4 7.3 0.3-3.8 0.4 2.2 0.3 6.9 0.4-4 0.3-2.6 0.4-1 " fill="none" stroke="#141414" stroke-width="0.55" stroke-opacity="0.9" stroke-linejoin="round"/>
<path d="M52.0 355.0l0.4 4.7 0.3 2.6 0.4 1 0.3-1.9 0.4-2.7 0.3 2.4 0.4 1.5 0.3-3.1 0.4 8.2 0.3-4.3 0.4-7.1 0.3 8.9 0.4-3.8 0.3-3.2 0.4 8.6 0.3-12.9 0.4 16.7 0.3-9.9 0.4-0.8 0.3 0.2 0.4 2.4 0.3-2.5 0.4 2.9 0.3-5.2 0.4 6.7 0.3-0.8 0.4-3.9 0.3 5.4 0.4-2.5 0.3-1.5 0.4 6.1 0.3-5.7 0.4 3.9 0.3 4.3 0.4-6.4 0.3-0.6 0.4 0.5 0.3-2.7 0.4 2.6 0.3-6.1 0.4 6.6 0.3-3.4 0.4 4.1 0.3-2.3 0.4 3.3 0.3-0.9 0.4 1.5 0.3-6.6 0.4 0.4 0.3-4.2 0.4 5.1 0.3 3.2 0.4 0.8 0.3-2.1 0.4-1.3 0.3-4.9 0.4 1 0.3 7.2 0.4 1.9 0.3-5.6 0.4 3.4 0.3-0.9 0.4-3.9 0.3 1.8 0.4 0 0.3-0.5 0.4 5.9 0.3-7.8 0.4 6.4 0.3-2.5 0.4 1.3 0.3-3.9 0.4 0.6 0.3-1.2 0.4 6 0.3-1.2 0.4 5.4 0.3-6.7 0.4-1 0.4-0.4 0.3-7 0.4 2 0.3 1.1 0.4 2.1 0.3 2.9 0.4-4.7 0.3 0.3 0.4 7.5 0.3-8.3 0.4 1.5 0.3-1.6 0.4 1.7 0.3 4.4 0.4-0.4 0.3-8 0.4 3.8 0.3 4.9 0.4-4.9 0.3 4.7 0.4 5.5 0.3 2.6 0.4-3 0.3-6.3 0.4 2.1 0.3 0.5 0.4-2 0.3-3.3 0.4 9 0.3-6 0.4 2.3 0.3 1.5 0.4 0.5 0.3-1.7 0.4-1.8 0.3 1.3 0.4-3.2 0.3-4.9 0.4 10.9 0.3 2.9 0.4-6.7 0.3 0.3 0.4-0.5 0.3 3.8 0.4-7.8 0.3 5.2 0.4 2.7 0.3-0.3 0.4-0.1 0.3-4.7 0.4-2.5 0.3 1.5 0.4-3 0.3 4.2 0.4-4.3 0.3 7.7 0.4 0.7 0.3-6.1 0.4 7.6 0.3-2.6 0.4 1.9 0.3 0 0.4-1.1 0.3-7 0.4 12.2 0.3-12.1 0.4-3.7 0.3 6.9 0.4 0.5 0.3-3.9 0.4-4.5 0.3 12 0.4-1.5 0.3 0.5 0.4-4.1 0.3-1.4 0.4 0.8 0.3 2.7 0.4 1 0.3-0.7 0.4 0.9 0.4-3.4 0.3 2.1 0.4 4.3 0.3-5.8 0.4 4.9 0.3 3.1 0.4-9.7 0.3 3.4 0.4-5.2 0.3 4 0.4 0.8 0.3 1.4 0.4-0.6 0.3-2.3 0.4-6.8 0.3 14.6 0.4-4.4 0.3 0.3 0.4 4.9 0.3-1.8 0.4-12.8 0.3 4.3 0.4-9.4 0.3 0.2 0.4-0.7 0.3-2.2 0.4 2.3 0.3-0.5 0.4 3.4 0.3 1.5 0.4-1.2 0.3-1.1 0.4 2.7 0.3 7.8 0.4-2.2 0.3-2.3 0.4 3.7 0.3-1.3 0.4 2.4 0.3-2.2 0.4-0.9 0.3-2.2 0.4 3.2 0.3-6.9 0.4 6.6 0.3-9.8 0.4 7.7 0.3 2.8 0.4 4.2 0.3 7.5 0.4-9.1 0.3-0.8 0.4-5.2 0.3 9.4 0.4-11 0.3 7.2 0.4-4.3 0.3 10.3 0.4-9.9 0.3 2 0.4-3.1 0.3 2.2 0.4 2.6 0.3-4.9 0.4 0.2 0.3 1.7 0.4-1.3 0.3-0.4 0.4 3.7 0.3 0.3 0.4 0.9 0.3-7.6 0.4 3.6 0.3 0.6 0.4 2.6 0.3-1.3 0.4 0 0.3-1 0.4 0.9 " fill="none" stroke="#141414" stroke-width="0.55" stroke-opacity="0.9" stroke-linejoin="round"/>
<path d="M52.0 360.7l0.4 1.2 0.3 1.9 0.4 0.3 0.3-0.2 0.4-0.8 0.3-0.8 0.4-0.1 0.3 0.9 0.4 1.4 0.3 0.2 0.4-1.1 0.3 0.1 0.4 1.3 0.3-0.6 0.4 0.8 0.3-2.2 0.4-1.6 0.3 3 0.4 0.6 0.3 0.7 0.4 0.6 0.3-0.2 0.4-0.5 0.3-1.9 0.4 0.1 0.3 1.5 0.4-0.2 0.3-1.2 0.4-0.4 0.3 0.7 0.4 1.2 0.3 0.1 0.4-2.4 0.3 0 0.4 0.7 0.3 0.2 0.4 0.1 0.3-1 0.4 0.3 0.3 0.2 0.4-0.2 0.3-0.5 0.4-0.5 0.3 0.2 0.4 0.2 0.3 0 0.4 0.7 0.3-0.2 0.4-0.7 0.3 0.2 0.4 0 0.3 1 0.4 0.9 0.3 0.1 0.4-1 0.3-1.5 0.4-1.2 0.3 0.1 0.4 2.1 0.3-0.4 0.4-1.1 0.3-0.4 0.4-2.9 0.3-1.9 0.4-1.7 0.3-2.4 0.4-2.1 0.3-3.1 0.4-2.3 0.3-3.6 0.4-3.7 0.3-1.3 0.4-0.6 0.3-1.6 0.4-0.5 0.3 2.4 0.4 2.1 0.3 0.4 0.4 0.9 0.4 1.8 0.3 0 0.4-0.5 0.3 1.6 0.4 2 0.3 1.9 0.4 1 0.3 0.5 0.4 1.9 0.3-0.4 0.4-0.3 0.3 2 0.4 1.1 0.3-0.1 0.4 2.2 0.3 0.4 0.4-0.9 0.3 2.1 0.4 1.4 0.3 0.8 0.4 0.6 0.3 0.1 0.4 0.8 0.3-0.1 0.4 0.1 0.3 1.1 0.4-0.8 0.3-1.7 0.4 0.4 0.3 2 0.4 0.8 0.3 0.6 0.4 2 0.3-0.1 0.4-1.2 0.3 0.5 0.4-0.9 0.3-0.5 0.4 0.8 0.3 0.3 0.4 0.1 0.3-1.2 0.4-0.9 0.3 1.9 0.4 1.1 0.3-1.6 0.4 0.6 0.3 0.6 0.4 1.3 0.3 0.5 0.4-1.4 0.3-0.6 0.4 0.3 0.3 1.6 0.4-2.4 0.3-2.6 0.4 1 0.3 0 0.4 0.3 0.3 1.7 0.4 0.7 0.3-0.6 0.4-1.1 0.3-0.3 0.4 1.5 0.3-0.6 0.4-2.3 0.3 0.9 0.4 1.3 0.3-0.4 0.4 0.4 0.3 2.3 0.4 0.3 0.3-0.7 0.4-0.8 0.3-1.7 0.4 0.5 0.3 0.3 0.4-0.2 0.3 1.4 0.4 1.6 0.4-1.3 0.3-1.4 0.4 0.3 0.3-0.4 0.4-0.8 0.3 2 0.4 0 0.3-1.8 0.4 0 0.3-0.5 0.4-0.5 0.3 0.8 0.4 1.3 0.3 0.2 0.4-1.1 0.3 0.7 0.4 0.8 0.3-1 0.4 0.8 0.3 0.5 0.4-3.4 0.3-3.4 0.4-0.6 0.3-1.2 0.4-0.7 0.3 0 0.4-0.3 0.3 0.8 0.4 2.1 0.3 2.6 0.4 0.2 0.3-1.2 0.4 1.3 0.3 1.3 0.4 0.5 0.3-0.3 0.4-0.1 0.3 2.4 0.4 2.1 0.3 0.5 0.4-1.1 0.3-1.6 0.4-0.9 0.3-1.3 0.4 0.5 0.3 0.9 0.4 0.1 0.3-1 0.4 0.9 0.3 1 0.4-1.2 0.3-0.2 0.4-0.8 0.3 0.6 0.4 1.2 0.3 0.1 0.4-0.9 0.3 0.7 0.4 1.2 0.3-1.7 0.4-1 0.3 1.3 0.4-0.1 0.3-0.8 0.4-0.1 0.3 1.2 0.4 0.6 0.3-0.8 0.4 0.4 0.3-0.2 0.4-0.7 0.3-1.7 0.4-0.8 0.3-0.6 0.4 1.1 0.3 1.5 0.4 0.1 0.3 0.7 0.4-0.4 " fill="none" stroke="#1a8582" stroke-width="2.8" stroke-linejoin="round" stroke-linecap="round"/>
<text x="94.30" y="281.60" font-size="13.5" fill="#111" text-anchor="middle" font-weight="bold" >Trials 1 - 5</text>
<line x1="147.30" y1="284.20" x2="147.30" y2="383.80" stroke="#474747" stroke-width="2.5" />
<line x1="146.10" y1="382.60" x2="230.20" y2="382.60" stroke="#474747" stroke-width="2.5" />
<line x1="145.30" y1="288.50" x2="147.30" y2="288.50" stroke="#474747" stroke-width="1" />
<line x1="145.30" y1="313.00" x2="147.30" y2="313.00" stroke="#474747" stroke-width="1" />
<line x1="145.30" y1="337.50" x2="147.30" y2="337.50" stroke="#474747" stroke-width="1" />
<line x1="145.30" y1="362.00" x2="147.30" y2="362.00" stroke="#474747" stroke-width="1" />
<line x1="188.75" y1="382.60" x2="188.75" y2="385.00" stroke="#474747" stroke-width="1.2" />
<line x1="230.20" y1="382.60" x2="230.20" y2="385.00" stroke="#474747" stroke-width="1.2" />
<path d="M147.3 356.3l0.3 5.9 0.4-3.9 0.3 4.5 0.4 0.9 0.3 2.9 0.4-2.5 0.3-0.9 0.4-0.4 0.3 5 0.4-2.7 0.3 0.3 0.4 3.2 0.3-3.8 0.4-1 0.3-6.8 0.3 9.9 0.4-8 0.3 4.7 0.4-4.2 0.3-2.8 0.4 4.1 0.3-1.3 0.4 5 0.3-7.4 0.4 3.5 0.3-2.8 0.4 6.8 0.3-0.7 0.4-6.4 0.3 2.1 0.4-0.9 0.3-1.8 0.3 6.2 0.4-5 0.3 3 0.4-1.7 0.3 3.6 0.4-5.1 0.3 3.9 0.4-4.3 0.3 0.8 0.4-1.5 0.3 0.1 0.4-1 0.3 11.8 0.4-9.5 0.3 5.3 0.3-1.2 0.4-1.3 0.3 2 0.4-10 0.3-9 0.4-14 0.3-4.8 0.4-12.3 0.3-17.1 0.4 2.4 0.3-12.3 0.4 9.7 0.3 4.7 0.4 1 0.3 2.1 0.4 18.3 0.3-4 0.3 11 0.4-3.6 0.3 8.5 0.4 4.7 0.3-2 0.4 1.5 0.3-1.9 0.4 3.5 0.3 5.9 0.4 5.6 0.3 2.6 0.4-1.1 0.3 2.1 0.4-0.9 0.3 6.5 0.3-5.7 0.4-1.1 0.3-7.3 0.4 5.8 0.3 6.1 0.4-0.5 0.3 4.9 0.4-3 0.3 5 0.4-10 0.3 5.1 0.4 4.9 0.3-0.5 0.4-6.8 0.3 0.5 0.4-1.7 0.3 6.8 0.3-1.6 0.4 0.4 0.3-3.1 0.4 4.2 0.3-1 0.4-6.5 0.3 8 0.4-5.6 0.3 2.5 0.4-1.8 0.3-3.5 0.4 2.6 0.3 1.2 0.4 4.9 0.3-0.2 0.3-5.9 0.4-2.7 0.3 0.7 0.4 1.5 0.3 6 0.4-0.5 0.3-3.9 0.4 6 0.3 2.6 0.4 0.9 0.3-7 0.4 5.7 0.3-4.1 0.4 3.4 0.3-7.9 0.4 6.5 0.3-3.6 0.3 5.9 0.4-4.7 0.3-5.5 0.4 8.9 0.3-0.5 0.4 0.9 0.3 4.8 0.4-9.8 0.3-0.1 0.4 3.7 0.3-4.3 0.4 4 0.3 2.1 0.4-1.7 0.3-0.2 0.3-8.3 0.4 11.7 0.3-5.4 0.4-2.2 0.3 9 0.4 1.4 0.3-7.3 0.4 1.4 0.3-5.2 0.4-1.5 0.3 4.3 0.4 4.8 0.3 4.9 0.4-6.7 0.3 2.1 0.4-4.5 0.3-1.7 0.3 6.2 0.4-9.6 0.3 3.6 0.4 0.6 0.3 7.6 0.4-1.2 0.3-0.9 0.4-0.9 0.3 0.3 0.4-5.3 0.3 1.1 0.4-0.8 0.3 4.9 0.4-5.6 0.3 3.8 0.3 7.7 0.4-6 0.3-3 0.4-1.8 0.3 5.2 0.4 0.3 0.3-1.2 0.4-6.2 0.3 2.2 0.4-0.5 0.3 0.2 0.4-2.8 0.3 5.7 0.4 4.9 0.3-6.2 0.4 2.5 0.3-4.4 0.3-0.5 0.4-1.8 0.3-0.2 0.4 4.7 0.3-1.5 0.4 3.7 0.3-8 0.4 5.4 0.3-3 0.4 4 0.3 4 0.4-9.5 0.3 2.4 0.4 0.3 0.3 0 0.3 0.5 0.4 0.7 0.3 5.8 0.4-9.5 0.3 2.6 0.4-0.6 0.3-5.3 0.4 3 0.3 3.2 0.4 5.1 0.3-5.2 0.4-0.3 0.3 0.8 0.4 2.4 0.3-2 0.4 4.4 0.3-5.5 0.3-3.3 0.4-4.2 0.3 6.9 0.4 0.4 0.3 0.3 0.4 3.6 0.3-2.7 0.4-5.8 0.3 3.7 0.4-2.6 0.3 5.5 0.4-0.5 0.3 7.4 0.4-5.5 0.3-1.6 " fill="none" stroke="#141414" stroke-width="0.55" stroke-opacity="0.9" stroke-linejoin="round"/>
<path d="M147.3 357.0l0.3-4.2 0.4 3.2 0.3 3.3 0.4 0.2 0.3 1.4 0.4-3.1 0.3-0.3 0.4 0.6 0.3 2.1 0.4 2.9 0.3 1.4 0.4-0.2 0.3-5 0.4 2.4 0.3 5.9 0.3-3.7 0.4 3.4 0.3-2.5 0.4-2.3 0.3 0.5 0.4 1.7 0.3-2.8 0.4 2.1 0.3 0.7 0.4 0.7 0.3-2.5 0.4-3.7 0.3 10.1 0.4-6.6 0.3-0.8 0.4 3.1 0.3-1.9 0.3 3.7 0.4-1.1 0.3 0.6 0.4-2.2 0.3-3.4 0.4-2.4 0.3 4.6 0.4-1.4 0.3 1 0.4-2.5 0.3 7.8 0.4-6 0.3 0.6 0.4 0.3 0.3-8.8 0.3 9.5 0.4 0.2 0.3-2.7 0.4 5.7 0.3-3.5 0.4 2.7 0.3-0.4 0.4-3.9 0.3-2.2 0.4-2.9 0.3-0.4 0.4 1.5 0.3 1.8 0.4 3.1 0.3-5.7 0.4 6.1 0.3 0.9 0.3-7.2 0.4 1.7 0.3 2.5 0.4-1.5 0.3-3.6 0.4 2 0.3-11.5 0.4-5.1 0.3-12.3 0.4-4.9 0.3-13.8 0.4-2.8 0.3-0.8 0.4-0.7 0.3 9.4 0.3 2.4 0.4 2.1 0.3 1.8 0.4 7.5 0.3-1.4 0.4 1 0.3 5.1 0.4-2.1 0.3 10.6 0.4-5.5 0.3 5.7 0.4-1.1 0.3 1.6 0.4 2.3 0.3 4.5 0.4-2 0.3 0 0.3 0.8 0.4-3.4 0.3 7.9 0.4 4.8 0.3 0.4 0.4-2 0.3-3.4 0.4 1.5 0.3-1.2 0.4 7.4 0.3-5.2 0.4 1 0.3 3.2 0.4 1.2 0.3 1.4 0.3-7.8 0.4-1.1 0.3 5 0.4 4.1 0.3-8.7 0.4 9.7 0.3-5.5 0.4-3.1 0.3 5.7 0.4-2.9 0.3 3.9 0.4-2.6 0.3-1.2 0.4-3.3 0.3 5.6 0.4 3.5 0.3-6.1 0.3 4.6 0.4 0.2 0.3-6 0.4 5.9 0.3-0.5 0.4-1.6 0.3 6.1 0.4 2.4 0.3-10 0.4 6 0.3 0.2 0.4 1.9 0.3 1.6 0.4 1.6 0.3-3.5 0.3-6.6 0.4 4.7 0.3-1.8 0.4 4.9 0.3-5.1 0.4 4.9 0.3-5.8 0.4 5.2 0.3-0.1 0.4 0.6 0.3-1.5 0.4-0.6 0.3-5.1 0.4 7.7 0.3 0.9 0.4-3.3 0.3 0.5 0.3-2.6 0.4-0.5 0.3 2.5 0.4-1.6 0.3-1.4 0.4-2.4 0.3 9.9 0.4-5.4 0.3 2 0.4 0.6 0.3-4.2 0.4 4.2 0.3-2.8 0.4-2.2 0.3 6.9 0.3-6.8 0.4-4.7 0.3 3.4 0.4-2.3 0.3 3.5 0.4 4.5 0.3-1.3 0.4-7.2 0.3-1.1 0.4 6 0.3-0.3 0.4-0.6 0.3 6.7 0.4-3.3 0.3-6.7 0.4-1.5 0.3 4.8 0.3-4.9 0.4 5.4 0.3 1.4 0.4 4.1 0.3-10.9 0.4 5.2 0.3-7.2 0.4 7.6 0.3-2.1 0.4 4.7 0.3-8.9 0.4 7.8 0.3 1 0.4 4.9 0.3-9.5 0.3-3.4 0.4 6.8 0.3-2.9 0.4 1.2 0.3-3.1 0.4 3.8 0.3-3.6 0.4 4.9 0.3-0.2 0.4 0.7 0.3 4.8 0.4-3.9 0.3-8.4 0.4 2.9 0.3 1.4 0.4-2.5 0.3 6.4 0.3-4 0.4-1 0.3-0.1 0.4 3.3 0.3-8.2 0.4-0.2 0.3 7.5 0.4-2.4 0.3 5.8 0.4 1 0.3-4.3 0.4 10 0.3 0 0.4-2.5 0.3-4.6 " fill="none" stroke="#141414" stroke-width="0.55" stroke-opacity="0.9" stroke-linejoin="round"/>
<path d="M147.3 358.8l0.3 4.9 0.4-7 0.3 3.6 0.4 1.7 0.3-0.6 0.4-2.9 0.3-1.6 0.4 1.9 0.3-1.5 0.4 0.7 0.3 8.1 0.4-2.3 0.3 2.1 0.4-4.4 0.3-5.9 0.3-0.7 0.4 4.4 0.3 0.6 0.4-3.6 0.3 6.7 0.4-2.2 0.3-1.7 0.4 6.8 0.3-8.4 0.4 3.3 0.3-1.8 0.4 6.4 0.3-0.7 0.4-0.5 0.3-4.6 0.4-0.2 0.3 0.6 0.3-3.1 0.4 3 0.3 5.6 0.4 0.7 0.3-7.4 0.4 5 0.3-4.3 0.4-0.1 0.3 5.4 0.4-1 0.3-0.3 0.4 1.8 0.3-2.2 0.4-1.3 0.3-0.4 0.3 5 0.4-1.3 0.3-0.3 0.4 3.4 0.3-10.2 0.4 13.3 0.3-5.2 0.4-6.1 0.3-3.6 0.4-14.4 0.3-7.7 0.4 2.1 0.3-7.5 0.4 1.3 0.3-1.4 0.4 3.5 0.3 0.2 0.3-1.7 0.4 4 0.3 0.5 0.4 4.2 0.3 8.5 0.4-3.4 0.3 0.5 0.4 6 0.3-7.9 0.4 4.1 0.3-1.2 0.4 7.4 0.3-2.1 0.4 1.7 0.3 1.6 0.3 1.1 0.4 5.2 0.3-11.2 0.4 7.5 0.3 6.1 0.4-2.1 0.3-0.1 0.4-6.4 0.3 6.1 0.4-2 0.3 6.3 0.4-10.5 0.3 3 0.4-5 0.3 6.6 0.4-4.3 0.3 6.2 0.3-0.5 0.4-0.8 0.3 5.2 0.4-2.8 0.3-1 0.4 1.9 0.3-3.9 0.4 1.5 0.3 2.6 0.4-2.2 0.3 0.7 0.4 6.3 0.3-3.1 0.4-4 0.3-3 0.3 1.7 0.4-3.3 0.3 2.9 0.4-0.7 0.3 2 0.4-6.8 0.3 1.3 0.4 6.1 0.3 0.7 0.4-3.8 0.3 6.5 0.4-5 0.3 2.4 0.4 0.6 0.3-3.2 0.4 1.8 0.3 0.3 0.3 6.6 0.4-11.8 0.3 2.7 0.4 0.8 0.3 5.7 0.4-5.5 0.3-2.5 0.4-1.7 0.3 1.9 0.4 6.8 0.3-3.1 0.4 2.2 0.3 2.2 0.4-1.8 0.3-3.3 0.3-1.2 0.4 8.5 0.3-6.9 0.4 2.2 0.3 10.4 0.4 5.1 0.3 0.2 0.4-2.5 0.3-0.9 0.4 3 0.3-4.6 0.4 6.8 0.3-9.3 0.4-5.8 0.3 3.2 0.4-2.2 0.3 2.3 0.3-2 0.4 3 0.3 1.2 0.4-3.3 0.3-1.3 0.4-5.1 0.3-1.1 0.4 4.1 0.3 5.1 0.4 0.8 0.3-3 0.4-6.3 0.3 4.4 0.4-0.4 0.3 1.7 0.3-7 0.4 3.8 0.3 1.8 0.4-0.3 0.3-6.9 0.4 5.4 0.3-6.8 0.4 2.4 0.3 1.6 0.4 0.9 0.3 3.2 0.4 2.7 0.3-2.6 0.4-0.5 0.3-2.7 0.4-0.3 0.3-0.1 0.3-1.6 0.4 11.2 0.3-10.9 0.4 6 0.3-8.2 0.4 3.1 0.3-2.1 0.4-2.6 0.3 8.3 0.4-8 0.3 0 0.4 7 0.3-7.5 0.4 2.7 0.3 0.6 0.3 1.2 0.4-7.2 0.3 11.4 0.4 2.5 0.3-3.8 0.4-1.6 0.3 1.5 0.4-3.8 0.3 0.5 0.4-2.5 0.3 3.5 0.4 3.4 0.3-2 0.4-1.1 0.3-4.6 0.4-1.7 0.3 2.1 0.3 3.9 0.4 1.1 0.3-4.9 0.4 5.6 0.3-3.3 0.4-3.4 0.3 4.9 0.4-2.3 0.3 3.1 0.4 2.2 0.3-3.6 0.4-1 0.3-1.3 0.4 3.4 0.3-1.4 " fill="none" stroke="#141414" stroke-width="0.55" stroke-opacity="0.9" stroke-linejoin="round"/>
<path d="M147.3 366.9l0.3-0.6 0.4-5 0.3 0.9 0.4 1.6 0.3-2.5 0.4-0.2 0.3 4.1 0.4-2.9 0.3 3.4 0.4 2.4 0.3-1.4 0.4-8.3 0.3 8.2 0.4-5.3 0.3-5.5 0.3 5.9 0.4-7.1 0.3 0.7 0.4 1.8 0.3-3.6 0.4 3 0.3 5.7 0.4-4.5 0.3 4.3 0.4 1.4 0.3 1.9 0.4-10.8 0.3 10.4 0.4-0.9 0.3 1.7 0.4-2.1 0.3-1.8 0.3 1.7 0.4 0.5 0.3 2.2 0.4-2.7 0.3-2.6 0.4-4.4 0.3 3.4 0.4-3.7 0.3 2.5 0.4 0.3 0.3 4.1 0.4-2.5 0.3 9.3 0.4-5.7 0.3-6.9 0.3 2.7 0.4-2.2 0.3 4 0.4 2.3 0.3-3 0.4 1.2 0.3-2.9 0.4-0.6 0.3 8.8 0.4-3.6 0.3-0.1 0.4 0.4 0.3 4.1 0.4-5.1 0.3-1.2 0.4-2.2 0.3 3.2 0.3-4.2 0.4 4.3 0.3-8.6 0.4 3.8 0.3-5.4 0.4 1.3 0.3-1.3 0.4 1 0.3-2.9 0.4-10.7 0.3 3.4 0.4 0 0.3-5.7 0.4 9.2 0.3 0 0.3 2.9 0.4-5.4 0.3 3.2 0.4-2.4 0.3 2.8 0.4-1.4 0.3-0.2 0.4 11.5 0.3-7 0.4-0.7 0.3-0.9 0.4 5 0.3-5.3 0.4 4.3 0.3-2.9 0.4 1.7 0.3 2.8 0.3-1.9 0.4 4.7 0.3 0.3 0.4 0.8 0.3-3.5 0.4-1.1 0.3 0 0.4-6 0.3 4.6 0.4 4.3 0.3-0.7 0.4-0.5 0.3-0.4 0.4-0.4 0.3 2.5 0.3-7.6 0.4 5.9 0.3 0.6 0.4 1.5 0.3 0.7 0.4-2.7 0.3 1.8 0.4-2.2 0.3 12.1 0.4-11.1 0.3-0.7 0.4-5.5 0.3 6.4 0.4 6.2 0.3-3.5 0.4 4.5 0.3 2.3 0.3-4.4 0.4-6.9 0.3-0.5 0.4 1.4 0.3 6.1 0.4-10.1 0.3 10.9 0.4-3.7 0.3 3.3 0.4-7.2 0.3 5.4 0.4 0.1 0.3 1.6 0.4 1.4 0.3-0.7 0.3 5.8 0.4-10.7 0.3 0.9 0.4 2.5 0.3-3.1 0.4-1.8 0.3-3.4 0.4 3.2 0.3 2.3 0.4 0.1 0.3 5.1 0.4-3.6 0.3 2.2 0.4-0.2 0.3 0.2 0.4-3.3 0.3 0.1 0.3-1.1 0.4-0.8 0.3 0.8 0.4 1.8 0.3-2.6 0.4 8.9 0.3-10.2 0.4 8.5 0.3-6.6 0.4 2.8 0.3-2.6 0.4 3.9 0.3 2.3 0.4-6.8 0.3 3.4 0.3 1.6 0.4 0.6 0.3-4 0.4-0.5 0.3 0.9 0.4 5.9 0.3-3.3 0.4 0.2 0.3-2.6 0.4 4.2 0.3 1.4 0.4-5.7 0.3 5.2 0.4-2.4 0.3-0.3 0.4 3.1 0.3-6.1 0.3 1.5 0.4 3.7 0.3 1.6 0.4-5.7 0.3-5.7 0.4 4.3 0.3 1.4 0.4-3.9 0.3 8.4 0.4 2.1 0.3-4.8 0.4 1.7 0.3-3.1 0.4 2.3 0.3-3.5 0.3 3.3 0.4-0.8 0.3 1.1 0.4-2.3 0.3-0.4 0.4 0.2 0.3 0.6 0.4 11.7 0.3-7.3 0.4-2.6 0.3-0.9 0.4 4.2 0.3-7.6 0.4 1.7 0.3 3.2 0.4-3.3 0.3 3.1 0.3 2 0.4-2.7 0.3 1.5 0.4 1.4 0.3-4.2 0.4-0.9 0.3 3.3 0.4-4.1 0.3 8.9 0.4-7.4 0.3 1.5 0.4 4.8 0.3-2.4 0.4-4.3 0.3 1.9 " fill="none" stroke="#141414" stroke-width="0.55" stroke-opacity="0.9" stroke-linejoin="round"/>
<path d="M147.3 364.8l0.3-2.5 0.4-2.9 0.3 8.1 0.4-3.7 0.3 1.3 0.4-3.7 0.3-2.5 0.4 0.8 0.3 8.4 0.4-5.6 0.3-1.4 0.4 6.8 0.3-7 0.4 3.5 0.3-3.3 0.3 2.2 0.4-4.3 0.3 5.8 0.4-0.8 0.3-8.3 0.4 6.9 0.3 0.1 0.4 3.6 0.3-7.8 0.4 2.6 0.3-1.6 0.4 1.7 0.3 1.3 0.4 2.5 0.3-0.7 0.4-2.8 0.3-0.7 0.3-3.5 0.4 5.4 0.3 0.8 0.4 0 0.3-3.7 0.4 5.7 0.3-4.5 0.4-2.7 0.3 6.8 0.4-5 0.3 6.2 0.4-3.7 0.3 6.4 0.4-6.4 0.3 0.7 0.3 1.8 0.4-3 0.3-2 0.4 2.6 0.3-1.4 0.4 5.7 0.3-4.6 0.4-8.4 0.3 4.1 0.4-5.1 0.3 0.9 0.4-5.5 0.3-0.3 0.4 2.8 0.3 5.5 0.4-3.5 0.3-3.9 0.3 5.6 0.4-2.9 0.3 4 0.4 3.9 0.3-4.9 0.4-0.8 0.3 3.1 0.4-0.8 0.3-2 0.4 0.7 0.3-4.8 0.4 4.4 0.3 7.2 0.4-4.8 0.3-0.2 0.3 2.9 0.4-3.2 0.3 1 0.4-3.8 0.3-0.9 0.4 5.3 0.3 6.1 0.4-3.3 0.3-7.2 0.4 4 0.3 2.5 0.4 0.3 0.3-2 0.4 0.5 0.3-1.7 0.4 5.2 0.3 0.2 0.3-0.2 0.4-2.6 0.3 4.6 0.4-3.7 0.3 3.9 0.4-7.5 0.3-0.6 0.4 0.5 0.3 3.4 0.4 2.5 0.3-4.2 0.4 2.2 0.3-1.9 0.4 4.2 0.3 0.1 0.3-2.3 0.4-5.5 0.3 4.5 0.4-5.2 0.3 0.7 0.4 11.3 0.3-5.2 0.4 1.1 0.3-1.5 0.4-0.3 0.3 0.4 0.4-3.7 0.3 2.4 0.4-0.1 0.3 0.5 0.4 0.1 0.3 0.3 0.3 0.4 0.4 0.6 0.3-1.1 0.4 5.8 0.3-5.6 0.4-3.3 0.3 2.3 0.4 4.1 0.3-6 0.4 3.3 0.3 6.1 0.4-9.7 0.3 1.4 0.4 2.4 0.3-2 0.3 1.6 0.4-0.9 0.3 6.2 0.4-3.5 0.3-0.9 0.4-0.5 0.3 6.2 0.4-2.5 0.3-3.7 0.4 6.1 0.3 0.1 0.4-5.4 0.3-3.2 0.4 2.7 0.3 6.7 0.4-5.4 0.3 2.2 0.3-6.3 0.4 2.4 0.3 0.9 0.4-2.3 0.3 3 0.4-3.4 0.3-0.5 0.4 1.8 0.3-4.7 0.4 4.5 0.3-4.5 0.4 3.4 0.3 5 0.4-2.5 0.3 2.3 0.3-0.1 0.4 0.8 0.3-3.6 0.4 4.6 0.3-2.2 0.4 3.4 0.3-4.4 0.4-3.7 0.3 1.9 0.4 1.2 0.3 1 0.4 1.6 0.3-3.5 0.4 6.5 0.3-0.3 0.4-5.9 0.3 4.1 0.3-7.5 0.4 8.8 0.3-7.1 0.4 4.2 0.3-3.3 0.4 5.8 0.3-6.1 0.4-1.2 0.3 0 0.4-0.8 0.3-0.7 0.4 6.6 0.3-3.6 0.4 1.5 0.3 1 0.3-5.5 0.4 12.5 0.3-5.6 0.4 4.9 0.3-4 0.4-1.3 0.3-13.1 0.4 9.8 0.3-1.4 0.4-0.3 0.3 6.3 0.4-2.8 0.3-2.2 0.4 0.9 0.3-0.4 0.4 0 0.3 8 0.3-2.9 0.4-6.2 0.3 1.1 0.4 6.2 0.3 0.6 0.4-2.2 0.3-1.9 0.4-3.8 0.3 3.7 0.4 1.4 0.3 5.8 0.4-3.5 0.3-5.1 0.4 5.8 0.3-4 " fill="none" stroke="#141414" stroke-width="0.55" stroke-opacity="0.9" stroke-linejoin="round"/>
<path d="M147.3 364.4l0.3-3.5 0.4 5.8 0.3-0.7 0.4-1.5 0.3-0.5 0.4 2.6 0.3-7.1 0.4 2.3 0.3 0.8 0.4-2.2 0.3 1.9 0.4 0.1 0.3-2.3 0.4 0.9 0.3 1.4 0.3-4.9 0.4 7.4 0.3-4.5 0.4 3.3 0.3 0.8 0.4-4.3 0.3 7.1 0.4-5.8 0.3 5.3 0.4-3.9 0.3-2.9 0.4 3.2 0.3 2 0.4-0.4 0.3 0.2 0.4 2.6 0.3-1.2 0.3-3.8 0.4-0.9 0.3 6.3 0.4-6.1 0.3-1.9 0.4 2.5 0.3 5.1 0.4-5.4 0.3 4.9 0.4-7.1 0.3-3.7 0.4 9.8 0.3-5.8 0.4 0.5 0.3 1.9 0.3 0.8 0.4 0.1 0.3 2.7 0.4-2.9 0.3-3.3 0.4 1.5 0.3 0.3 0.4-1.7 0.3 1.6 0.4 0.4 0.3 1.5 0.4-1.4 0.3 4.2 0.4 4.6 0.3-10.2 0.4-3.8 0.3 6.5 0.3-1.5 0.4 0.5 0.3-1.9 0.4-0.1 0.3-3.4 0.4 5.1 0.3-0.8 0.4 0.9 0.3 1 0.4-3 0.3 2.1 0.4-0.6 0.3 4.5 0.4-5.1 0.3 5.5 0.3-4.4 0.4 7.7 0.3-3.7 0.4-7.2 0.3 4 0.4-2.2 0.3 5.9 0.4-7.3 0.3 3.2 0.4 2.2 0.3-4.4 0.4-1.5 0.3-2.7 0.4 4.5 0.3 5.8 0.4-4.5 0.3-4 0.3 1.8 0.4 3 0.3-2.3 0.4 2.1 0.3-1 0.4 5.9 0.3-1.6 0.4-4.9 0.3 3.3 0.4-1.8 0.3-6.3 0.4 5.4 0.3-0.7 0.4 2.5 0.3 0.5 0.3-2.8 0.4 3.8 0.3 3.2 0.4-9.2 0.3 6.2 0.4-3.4 0.3 0.5 0.4-1.9 0.3-0.9 0.4 1.5 0.3 7 0.4-9.7 0.3 6.6 0.4-3.8 0.3-6 0.4 6.3 0.3-4.7 0.3 6.2 0.4-2.3 0.3 1.1 0.4-0.1 0.3 3.7 0.4 0.7 0.3-4.1 0.4 4.6 0.3-1 0.4-4.7 0.3 5.4 0.4-1 0.3 0.5 0.4-4.9 0.3 1.6 0.3-0.7 0.4 0.8 0.3-4.5 0.4 5.1 0.3 4.7 0.4-7.3 0.3-0.3 0.4-2.5 0.3 6.4 0.4-5.1 0.3 7.7 0.4 1.5 0.3 4.4 0.4-5.5 0.3 2.8 0.4-3.8 0.3 4 0.3 0.8 0.4-4 0.3 4.9 0.4-3.7 0.3 2.1 0.4-5.7 0.3 1.7 0.4 0.2 0.3 3.1 0.4-3.6 0.3-2.4 0.4 0.8 0.3-1.3 0.4 2.2 0.3 3.7 0.3-5.9 0.4-4 0.3 3.4 0.4 0.4 0.3-2.5 0.4 3.1 0.3 2.5 0.4-3 0.3-2.6 0.4-0.9 0.3-0.2 0.4 0.2 0.3 2.1 0.4-2.2 0.3 2.7 0.4-0.2 0.3 2.1 0.3-1.2 0.4-2 0.3 1.9 0.4 5.1 0.3-7.9 0.4 9.6 0.3-10.2 0.4 2.4 0.3-0.5 0.4 2.7 0.3 2.1 0.4-1.8 0.3-1.2 0.4 2 0.3-5.4 0.3-0.4 0.4-0.5 0.3 6.9 0.4 3.2 0.3-7.1 0.4 1.8 0.3-3.1 0.4-1.9 0.3-0.8 0.4 3.9 0.3-3.7 0.4-1.1 0.3 3.4 0.4-0.8 0.3-2.6 0.4 1.6 0.3 2.7 0.3 0.6 0.4-2.9 0.3 2.7 0.4-2.4 0.3 4.8 0.4-5.4 0.3 1.9 0.4 5.7 0.3-7 0.4 2.9 0.3-5.5 0.4 3 0.3 1.6 0.4-0.6 0.3 2.6 " fill="none" stroke="#141414" stroke-width="0.55" stroke-opacity="0.9" stroke-linejoin="round"/>
<path d="M147.3 361.4l0.3 0 0.4-0.8 0.3 0.8 0.4 1.5 0.3 0.1 0.4-0.6 0.3-1.5 0.4-0.5 0.3 1.7 0.4 1.1 0.3 0.4 0.4 0.7 0.3-0.7 0.4-1 0.3-1.5 0.3-0.5 0.4 0.4 0.3 0.1 0.4-0.1 0.3-1.1 0.4 0.2 0.3 1.4 0.4 1.2 0.3-0.5 0.4-0.5 0.3-0.2 0.4-0.5 0.3 2.2 0.4 0.8 0.3-1.2 0.4-0.2 0.3-0.6 0.3-0.4 0.4 0.2 0.3 1.7 0.4 0.6 0.3-2.3 0.4-1.2 0.3 0.8 0.4-0.8 0.3 0.3 0.4 0.4 0.3-0.2 0.4 1.1 0.3 1.5 0.4-0.2 0.3-2.5 0.3 0.9 0.4 0.9 0.3-0.3 0.4 0.4 0.3-2.5 0.4-1.6 0.3-0.6 0.4-4.2 0.3-3.5 0.4-2.6 0.3-3.4 0.4-1 0.3 1.2 0.4 1.2 0.3-0.3 0.4 0.6 0.3 1.8 0.3 0.4 0.4 0.5 0.3 0.8 0.4 1.6 0.3 0.4 0.4-0.4 0.3-0.5 0.4-0.6 0.3-1 0.4-2.2 0.3-1.7 0.4-0.4 0.3 1.1 0.4 0.4 0.3 1.8 0.3 1.8 0.4 0.4 0.3-0.9 0.4-0.7 0.3 2 0.4 1.4 0.3 1.8 0.4 0.9 0.3 0 0.4-0.1 0.3 0.2 0.4 0.9 0.3-0.7 0.4-0.5 0.3 1.1 0.4 0.6 0.3 0.5 0.3 0.9 0.4-0.1 0.3 1.2 0.4 1.5 0.3 0.3 0.4-1 0.3-0.9 0.4-1.2 0.3 0.2 0.4 1.9 0.3-0.8 0.4-0.2 0.3 1.2 0.4 0.6 0.3 0.8 0.3-1.9 0.4-2.3 0.3 1.1 0.4 0.8 0.3-0.1 0.4 1.2 0.3-0.3 0.4-0.4 0.3 2 0.4 0.3 0.3-0.5 0.4-0.9 0.3-0.6 0.4 1.2 0.3-0.9 0.4 0.7 0.3 0.9 0.3 0.6 0.4-0.4 0.3-2.9 0.4 1.1 0.3 2.7 0.4-0.9 0.3-0.1 0.4 1.1 0.3-1.3 0.4-0.3 0.3 1.4 0.4 0.6 0.3 0.6 0.4 0.6 0.3-1 0.3-1.4 0.4 0.4 0.3 0.2 0.4-0.2 0.3 2 0.4 1.4 0.3-0.8 0.4-0.6 0.3 0.1 0.4 0.1 0.3 1.2 0.4 1.2 0.3-0.2 0.4-1.1 0.3 0.6 0.4-0.5 0.3-1.3 0.3 0.2 0.4-1.2 0.3 0.4 0.4 0.4 0.3-0.1 0.4-0.1 0.3-0.8 0.4 0.6 0.3 0.6 0.4-0.1 0.3-1.3 0.4-0.9 0.3 1.5 0.4-0.2 0.3 0.5 0.3 1 0.4-1.7 0.3-0.9 0.4-0.2 0.3-0.2 0.4 1.8 0.3 0.6 0.4-2.6 0.3-1.6 0.4 0.9 0.3 1.4 0.4 0 0.3 0.8 0.4 1.4 0.3-0.9 0.4-1.3 0.3-0.2 0.3-1.1 0.4 0.9 0.3 1 0.4 0.4 0.3-1.6 0.4-0.5 0.3 0 0.4-2.1 0.3 1.6 0.4 1.3 0.3-0.3 0.4 0.3 0.3 0 0.4 0.1 0.3-0.2 0.3-1.8 0.4 0.6 0.3 2.4 0.4 1.3 0.3-1.3 0.4-1.1 0.3-1.7 0.4 0.1 0.3 1.4 0.4-0.1 0.3 0.7 0.4 0.4 0.3-1.4 0.4-0.8 0.3 0.1 0.4-0.6 0.3 1.3 0.3 1.1 0.4-1.6 0.3-0.7 0.4 1.8 0.3 0.3 0.4-1.5 0.3 0.4 0.4 0 0.3 0.5 0.4 1.3 0.3-0.3 0.4 1 0.3 1.1 0.4-0.3 0.3-0.9 " fill="none" stroke="#1a8582" stroke-width="2.8" stroke-linejoin="round" stroke-linecap="round"/>
<text x="190.50" y="281.60" font-size="13.5" fill="#111" text-anchor="middle" font-weight="bold" >Trials 6 - 11</text>
<line x1="52.00" y1="405.50" x2="52.00" y2="504.60" stroke="#474747" stroke-width="2.5" />
<line x1="50.80" y1="503.40" x2="135.80" y2="503.40" stroke="#474747" stroke-width="2.5" />
<line x1="50.00" y1="408.90" x2="52.00" y2="408.90" stroke="#474747" stroke-width="1" />
<line x1="50.00" y1="433.40" x2="52.00" y2="433.40" stroke="#474747" stroke-width="1" />
<line x1="50.00" y1="457.90" x2="52.00" y2="457.90" stroke="#474747" stroke-width="1" />
<line x1="50.00" y1="482.40" x2="52.00" y2="482.40" stroke="#474747" stroke-width="1" />
<line x1="93.90" y1="503.40" x2="93.90" y2="505.80" stroke="#474747" stroke-width="1.2" />
<line x1="135.80" y1="503.40" x2="135.80" y2="505.80" stroke="#474747" stroke-width="1.2" />
<path d="M52.0 488.1l0.4-1.8 0.3-2.8 0.4 0.1 0.3-0.9 0.4 4.5 0.3-7.6 0.4 4.1 0.3-0.7 0.4 2.2 0.3-5.9 0.4 6 0.3-3.5 0.4-0.1 0.3-2 0.4 1 0.3 0.5 0.4 4.8 0.3-10.7 0.4 1.4 0.3 1.2 0.4 4 0.3 2.1 0.4 2 0.3-6.7 0.4-0.6 0.3 6.8 0.4-4.4 0.3 2.2 0.4-2.4 0.3 0.5 0.4-3.4 0.3-0.4 0.4-0.1 0.3 9.1 0.4-4.8 0.3 3.6 0.4 2.1 0.3-6.9 0.4 4.9 0.3-7.3 0.4-1.8 0.3 6 0.4-4 0.3 1.8 0.4-0.2 0.3 4.9 0.4-7.3 0.3 2.1 0.4-2 0.3 4.3 0.4-2.2 0.3 2.5 0.4-0.5 0.3-5.2 0.4-0.2 0.3-8.1 0.4-0.3 0.3-4.5 0.4-0.6 0.3-8.7 0.4-6.3 0.3-0.6 0.4-6 0.3-0.5 0.4 2 0.3-5.9 0.4-4 0.3 3.4 0.4 5.1 0.3-3.3 0.4 6.1 0.3-5.3 0.4 8 0.3 3.6 0.4 2.9 0.3-1.3 0.4 2.3 0.3 2.8 0.4 0.9 0.4 4.8 0.3-5 0.4 6.1 0.3 0.5 0.4 3 0.3 6.4 0.4-10.6 0.3 11.6 0.4-11.5 0.3 9.2 0.4-3.4 0.3-4.4 0.4 13.9 0.3-2.3 0.4-7.6 0.3 4.2 0.4 5.1 0.3-2.1 0.4 3.6 0.3-3.1 0.4-1.5 0.3 6.1 0.4-1.7 0.3-4.3 0.4-3.7 0.3 6 0.4-2.5 0.3 4.4 0.4 1.4 0.3-0.4 0.4-2.2 0.3 5.5 0.4 3.7 0.3-2 0.4-3.3 0.3-3.4 0.4 5.2 0.3-0.5 0.4-1 0.3 0.2 0.4 1.2 0.3-3.1 0.4-6.1 0.3 6.5 0.4 1.5 0.3 4.9 0.4-4.1 0.3 2.2 0.4-7.7 0.3 4.2 0.4-6.1 0.3 0.9 0.4 0.5 0.3 9.4 0.4-9.4 0.3 4.1 0.4 2.8 0.3 1.7 0.4-1.8 0.3-0.8 0.4 6.3 0.3-6.7 0.4 1.5 0.3 4.3 0.4-3.4 0.3-7.9 0.4 5.1 0.3 5.1 0.4-8 0.3 7.3 0.4-3.7 0.3 4.3 0.4-2.3 0.3-1.7 0.4-0.9 0.3 4.3 0.4-4.2 0.3 0.5 0.4 1.6 0.3 0.2 0.4-1.1 0.4 0.5 0.3-3.1 0.4 5.8 0.3-6 0.4 1.1 0.3 1.4 0.4-1.2 0.3 0.1 0.4-0.1 0.3-0.7 0.4 3.2 0.3 1.7 0.4-6.1 0.3 0.2 0.4 1.4 0.3-3.7 0.4 1.1 0.3 1.2 0.4 1.8 0.3-7.5 0.4 5.8 0.3-2.4 0.4 5.8 0.3-3.2 0.4-6 0.3 3.1 0.4-1.1 0.3-0.1 0.4 1.8 0.3-4.4 0.4 3.6 0.3 0.6 0.4 5 0.3-8.1 0.4 6.9 0.3 1 0.4-3.9 0.3 6 0.4-1.1 0.3 2.7 0.4-2.8 0.3 0.7 0.4-0.3 0.3 0.3 0.4 1.1 0.3-2.9 0.4-0.1 0.3 0.9 0.4-3.5 0.3-0.8 0.4 2.3 0.3 2 0.4-4.8 0.3 4.9 0.4-3.2 0.3 3 0.4 0 0.3 1.1 0.4-0.1 0.3-8.2 0.4 5.4 0.3-0.9 0.4-3.4 0.3 2.3 0.4-5.4 0.3 6.2 0.4 0.6 0.3-9.1 0.4 12.4 0.3 0.5 0.4-1.2 0.3-3.8 0.4 6.4 0.3-2.2 0.4 2.6 0.3-3 0.4-1 0.3 1.4 0.4 2.8 " fill="none" stroke="#141414" stroke-width="0.55" stroke-opacity="0.9" stroke-linejoin="round"/>
<path d="M52.0 480.3l0.4 3.4 0.3 1 0.4-3.7 0.3 3.1 0.4 4.7 0.3 2.5 0.4-5.6 0.3 2.1 0.4-5.3 0.3 5.3 0.4-3.5 0.3 3.4 0.4-4.4 0.3 0.3 0.4-5 0.3-2.9 0.4 4 0.3 3.5 0.4-7.1 0.3 6.3 0.4-4.1 0.3 0.5 0.4-3.6 0.3 2.7 0.4 2.1 0.3 1.3 0.4 6.5 0.3-1.1 0.4-1.1 0.3-0.6 0.4-2.1 0.3-2.9 0.4 0.1 0.3 2.7 0.4 5.8 0.3-7.9 0.4 0.3 0.3 4.1 0.4-3.4 0.3 1 0.4 0.5 0.3 6.8 0.4-1.2 0.3-1.3 0.4-8.2 0.3 6.3 0.4-2.6 0.3 3 0.4-1.3 0.3-4.2 0.4 8.7 0.3 0.7 0.4-8.7 0.3-0.2 0.4 3.6 0.3-4.4 0.4 0.5 0.3 8.9 0.4-7.2 0.3-5.2 0.4 0.6 0.3-5 0.4-4.6 0.3 3.1 0.4 0.8 0.3-8.4 0.4-2.9 0.3-8.9 0.4 3.2 0.3-11.5 0.4 3.9 0.3-6.2 0.4 2.6 0.3-1.2 0.4-4.5 0.3 1.6 0.4-2.5 0.3 4.3 0.4 0.1 0.4 4.7 0.3 3.8 0.4 5.4 0.3-4.3 0.4 3 0.3-1.6 0.4 6.7 0.3 0.4 0.4 6.6 0.3-1.7 0.4 3.7 0.3-2.1 0.4 1.8 0.3 1 0.4 6.9 0.3-14.8 0.4 7.8 0.3-3.1 0.4 2.9 0.3 11 0.4-5.7 0.3-6.3 0.4 13.2 0.3-9.8 0.4 7.4 0.3-1.3 0.4-1.1 0.3 7 0.4-5.5 0.3 3.4 0.4-0.2 0.3-4.4 0.4-8.3 0.3 10.3 0.4-0.3 0.3-0.2 0.4 2 0.3-2.2 0.4-1.2 0.3 2.9 0.4-2 0.3 3.4 0.4-7 0.3 12.1 0.4-7.1 0.3-0.4 0.4 2.9 0.3 5.5 0.4 3.3 0.3-5.1 0.4-3.2 0.3-0.4 0.4 0.4 0.3-4.5 0.4 0 0.3 5.2 0.4 3.4 0.3 0.9 0.4-8.8 0.3 2.9 0.4-1 0.3-3.1 0.4-3.3 0.3 4.6 0.4 8.3 0.3-1.8 0.4 1.9 0.3 0.4 0.4 0.9 0.3-3 0.4 0.4 0.3-4.4 0.4-0.2 0.3 4.7 0.4-0.1 0.3-1.6 0.4-4.4 0.3 1.2 0.4 0.8 0.3 11.3 0.4-8.4 0.4 0.7 0.3-3.6 0.4 2.5 0.3-3.2 0.4 1.6 0.3-10.3 0.4 5.8 0.3 3.6 0.4 0.8 0.3 0 0.4-2.2 0.3 1.9 0.4-0.4 0.3-2.5 0.4 1.8 0.3 3 0.4-4.4 0.3 3.3 0.4 2 0.3 5 0.4-3.7 0.3-0.3 0.4-6.1 0.3-0.8 0.4 4.9 0.3 2.8 0.4-7.1 0.3 0.1 0.4 5.5 0.3-2.1 0.4-4.1 0.3 2.8 0.4 2.4 0.3 5.9 0.4-8.9 0.3 1.9 0.4 1.6 0.3-0.6 0.4 2.2 0.3-4.2 0.4 1.7 0.3-4.2 0.4 4.5 0.3-7 0.4 3.8 0.3-2.1 0.4 5.9 0.3-3.2 0.4-2.4 0.3 1.8 0.4 5.1 0.3-3 0.4-0.1 0.3 4.3 0.4-0.5 0.3-6.2 0.4 5.5 0.3-4.6 0.4 6.9 0.3 0.8 0.4-3 0.3-4.3 0.4 6.2 0.3-2.6 0.4-1.4 0.3 4 0.4-7.6 0.3 1.4 0.4-1.5 0.3 8 0.4 0.5 0.3 4.6 0.4-7.3 0.3-2 0.4-4.8 0.3-2 0.4 5.5 0.3 0.8 0.4-2.7 " fill="none" stroke="#141414" stroke-width="0.55" stroke-opacity="0.9" stroke-linejoin="round"/>
<path d="M52.0 482.4l0.4 4.9 0.3-2.9 0.4 4 0.3-4.4 0.4-5.8 0.3 3.4 0.4 2.4 0.3 9.2 0.4-7.3 0.3-0.6 0.4-6.5 0.3 7 0.4-2.1 0.3 1.1 0.4-11 0.3 8.5 0.4-3.2 0.3-6.8 0.4 7.5 0.3 2.3 0.4-3.9 0.3-0.3 0.4 3.2 0.3 10.1 0.4-7.6 0.3 5 0.4-11.8 0.3 4.1 0.4 0.2 0.3-4.8 0.4 2.9 0.3 8.2 0.4-7.6 0.3 5.5 0.4 5 0.3-9.3 0.4-1.8 0.3-1.1 0.4 2.6 0.3 2.1 0.4-5.9 0.3-4.6 0.4 5.7 0.3-2.9 0.4 8.1 0.3-7.4 0.4 0.7 0.3 7.7 0.4 2.4 0.3-4.4 0.4-5.4 0.3-3.2 0.4 1.8 0.3-1.7 0.4-1.4 0.3-2.6 0.4-3 0.3-2.5 0.4-1.5 0.3-3.2 0.4-1.6 0.3-5.5 0.4 0.5 0.3-7.9 0.4 2.4 0.3-1.4 0.4 3.5 0.3 2 0.4 0.7 0.3 3.8 0.4 3.3 0.3 2.9 0.4-3 0.3 0.1 0.4 1.7 0.3-2.9 0.4 6.9 0.3 4.6 0.4-3 0.4 4.3 0.3 0.1 0.4-4.9 0.3 5.1 0.4 4.4 0.3 0.7 0.4-3.5 0.3 3.4 0.4-4.9 0.3 4.9 0.4-4.7 0.3 5.5 0.4-7 0.3 5.2 0.4-3.8 0.3 6.3 0.4-6.2 0.3 3.7 0.4 3.4 0.3 0.5 0.4-0.9 0.3 0.2 0.4-3.2 0.3 3.3 0.4 10 0.3-7.4 0.4 5 0.3-4 0.4-1.8 0.3 5.5 0.4-3.6 0.3-5 0.4 0 0.3-3.8 0.4 6.3 0.3 0.6 0.4-1.8 0.3 5.9 0.4 0.1 0.3 0.1 0.4-3.5 0.3-2.7 0.4-0.4 0.3 1.9 0.4 3.3 0.3 1.5 0.4 3.6 0.3-5.6 0.4-4.6 0.3 11.1 0.4-0.6 0.3-11.2 0.4 9.9 0.3-5.6 0.4 6.1 0.3-6.1 0.4 0.1 0.3 3.4 0.4-3 0.3 2.3 0.4-3.7 0.3-4.8 0.4 1.4 0.3 6.5 0.4 0.8 0.3-1.2 0.4 0.8 0.3-1.8 0.4 1.8 0.3-6 0.4 4.4 0.3-1.6 0.4-0.1 0.3-3.9 0.4 7.6 0.3-6.1 0.4 4.1 0.3-2.1 0.4-0.2 0.3-2.1 0.4 1.6 0.4 0.9 0.3 2.4 0.4 3.6 0.3-6.4 0.4 1 0.3-0.5 0.4-5.8 0.3 12.2 0.4-4.8 0.3-5.7 0.4 1.3 0.3-2.3 0.4 10.2 0.3-1.6 0.4-4.6 0.3 0.4 0.4-5 0.3 6.7 0.4 0.1 0.3-0.3 0.4 0.1 0.3 0.2 0.4 1 0.3-3.9 0.4-1 0.3-3 0.4 8.6 0.3 1.5 0.4-4.8 0.3-0.4 0.4 2.4 0.3-0.2 0.4 2.2 0.3-7.9 0.4 9.7 0.3-11.2 0.4 8.9 0.3-4.3 0.4 3.7 0.3 1.5 0.4-2.3 0.3 1.3 0.4 0.1 0.3-0.5 0.4-10.3 0.3 2.4 0.4 7.1 0.3 1.6 0.4-1.2 0.3-3.1 0.4-4.2 0.3 3.6 0.4-2.3 0.3 3.3 0.4-2.4 0.3-1 0.4 7.7 0.3-4 0.4-1.1 0.3 3.8 0.4 3.7 0.3-6.4 0.4 0.6 0.3 1.9 0.4-5.7 0.3 5.2 0.4 3.7 0.3-5.5 0.4-0.9 0.3-6.7 0.4 7.4 0.3 2.7 0.4 0.6 0.3-3.4 0.4 4.1 0.3-5 0.4 3.1 0.3-6.3 0.4-3 " fill="none" stroke="#141414" stroke-width="0.55" stroke-opacity="0.9" stroke-linejoin="round"/>
<path d="M52.0 480.3l0.4 4.4 0.3-0.5 0.4-8.3 0.3 8.6 0.4-3.6 0.3 1.7 0.4-6.4 0.3 1.7 0.4 4.3 0.3 3.6 0.4-1 0.3-5.5 0.4-1.2 0.3 7.5 0.4-8.1 0.3 7 0.4-0.4 0.3-3.1 0.4 3.6 0.3 0.9 0.4 1.2 0.3-2.3 0.4 0.9 0.3 3.3 0.4-8 0.3 4.8 0.4-7.9 0.3 1 0.4-2.8 0.3 5.5 0.4 0.1 0.3 6.5 0.4 0.5 0.3-8.5 0.4 6.7 0.3-6.9 0.4-0.4 0.3 1.9 0.4-5.4 0.3 1.7 0.4 2.8 0.3 2.5 0.4-2 0.3 6 0.4-2.6 0.3-3.4 0.4 1.8 0.3-4.3 0.4 8 0.3 0.9 0.4-7.5 0.3-6.3 0.4 3.4 0.3-5.2 0.4 0.1 0.3 6 0.4-3.4 0.3 0.6 0.4-4.4 0.3-2.9 0.4-2 0.3 4.7 0.4-0.8 0.3 2.7 0.4-0.2 0.3-3.2 0.4-0.1 0.3-6.4 0.4 0.4 0.3-0.6 0.4 2.7 0.3 0.4 0.4-1.2 0.3 1.6 0.4 5.4 0.3 0.2 0.4 0.3 0.3 0.4 0.4 0.1 0.4 5.3 0.3-6.5 0.4 5.9 0.3-5 0.4 7.1 0.3-5.7 0.4 1.5 0.3 1.6 0.4-2.9 0.3 2.2 0.4 1.2 0.3 0.1 0.4-4.3 0.3 11.8 0.4-9.1 0.3 2.3 0.4-0.4 0.3-2.4 0.4 1.8 0.3 1.1 0.4 1.7 0.3 2.9 0.4-3.2 0.3-3.8 0.4 6.9 0.3-2.4 0.4 4.7 0.3-0.9 0.4-1.2 0.3-6.2 0.4-2.6 0.3 3 0.4 6.8 0.3-2.4 0.4 4 0.3-3.3 0.4-4.7 0.3 0.9 0.4-1.8 0.3 2.2 0.4 8.1 0.3 1.1 0.4-3.4 0.3-3.3 0.4-2.1 0.3 3.9 0.4-0.1 0.3-0.3 0.4-2.2 0.3 1.4 0.4 3.3 0.3-8.4 0.4 2.3 0.3 1.9 0.4 6.4 0.3-2.1 0.4 2.2 0.3-0.9 0.4-6.7 0.3 1.1 0.4-0.1 0.3-0.2 0.4 5.6 0.3-6.6 0.4 6.5 0.3-4.5 0.4 5.6 0.3-6.4 0.4-0.3 0.3-0.7 0.4-1.7 0.3 9.1 0.4-5.7 0.3 3.8 0.4-4.1 0.3-1 0.4 1.5 0.3 2.3 0.4-0.7 0.3-6.4 0.4 2 0.4-1.1 0.3 5.6 0.4-7.5 0.3 8.3 0.4-4.5 0.3 4.3 0.4-0.6 0.3 0.7 0.4-2.5 0.3 2.2 0.4-5.5 0.3 3.5 0.4-2.9 0.3-0.5 0.4 5.5 0.3-4.3 0.4 0.4 0.3 4.1 0.4-8.5 0.3 3.9 0.4-5.2 0.3 8.2 0.4-0.8 0.3-0.5 0.4 6.4 0.3-7.3 0.4 6.5 0.3-6.8 0.4-1.8 0.3 4.2 0.4 4.1 0.3-4.5 0.4 0.4 0.3-0.3 0.4 3.7 0.3 2.1 0.4-3.9 0.3 0.2 0.4-7 0.3 9.3 0.4 0.3 0.3-2.6 0.4 1.5 0.3-4.3 0.4-3 0.3 0.5 0.4 1 0.3-2.8 0.4 2.2 0.3 7.1 0.4-1.9 0.3-2 0.4 1.8 0.3-4.6 0.4 0.5 0.3-1.2 0.4 4 0.3-1.9 0.4 3.9 0.3-4.9 0.4 5.3 0.3-7.9 0.4 6.2 0.3 0.4 0.4-3 0.3 3.8 0.4-2.3 0.3 0.2 0.4 2.3 0.3 4.7 0.4 1.8 0.3-6.9 0.4 1.3 0.3-2 0.4-0.3 0.3-0.3 0.4-7 0.3 7.6 0.4-7.2 " fill="none" stroke="#141414" stroke-width="0.55" stroke-opacity="0.9" stroke-linejoin="round"/>
<path d="M52.0 484.2l0.4-4.2 0.3 9.4 0.4-2.4 0.3-2.7 0.4 0.5 0.3 1.8 0.4-7.3 0.3 3.2 0.4-1.2 0.3 3.6 0.4-5.5 0.3 5 0.4 1.3 0.3 4 0.4-10.2 0.3 0.4 0.4-1.8 0.3-0.3 0.4 5.2 0.3-0.6 0.4-0.5 0.3 1.6 0.4-1.3 0.3 1 0.4 0.4 0.3 3.7 0.4-6 0.3 3 0.4 5.2 0.3-4.3 0.4 3.1 0.3 4.2 0.4-14.5 0.3-1.3 0.4 8.4 0.3-1.1 0.4-0.7 0.3-0.4 0.4 1.9 0.3-2.7 0.4-0.1 0.3-0.1 0.4-2 0.3 2.8 0.4 1 0.3-2.7 0.4 2.6 0.3-6.5 0.4 8.9 0.3-2.7 0.4-2.7 0.3 0.5 0.4 0.2 0.3-4 0.4 6.4 0.3-1.6 0.4 1.3 0.3 3.5 0.4-0.5 0.3-4.9 0.4 5.7 0.3-2.1 0.4-0.3 0.3 1.5 0.4-0.6 0.3-0.5 0.4-2.4 0.3-0.2 0.4-0.8 0.3-3.4 0.4 6.9 0.3-6.1 0.4 6.2 0.3-1.7 0.4 0 0.3-0.4 0.4 4.3 0.3-11.2 0.4 10.5 0.4 0.4 0.3-2.8 0.4-1 0.3-5.6 0.4-1.4 0.3 6.7 0.4 0.5 0.3-1.2 0.4 4.2 0.3-1.5 0.4 0.4 0.3 0.9 0.4-6.5 0.3 4.8 0.4-4.3 0.3 0.2 0.4 7 0.3-5.1 0.4-5.2 0.3 4.9 0.4 3.1 0.3-0.4 0.4-5.2 0.3-6 0.4 9.1 0.3-4.4 0.4 6 0.3-1.2 0.4-1.1 0.3 1.8 0.4 3.4 0.3-9 0.4 5.2 0.3 1.1 0.4-1.3 0.3 2.8 0.4-11.2 0.3-13.7 0.4 9.2 0.3-2.8 0.4 2.1 0.3 2.3 0.4 4.7 0.3-0.9 0.4 5 0.3-4.7 0.4 1.2 0.3 0 0.4 4.8 0.3 1.9 0.4 1.7 0.3-3.1 0.4-1.6 0.3-3.7 0.4 2.3 0.3 2.4 0.4-1.9 0.3 1.7 0.4-1.4 0.3 6.5 0.4-2.3 0.3-0.3 0.4-3 0.3 3.9 0.4-2.4 0.3-4.6 0.4 4.6 0.3-4.1 0.4 3.2 0.3 0.5 0.4-5.2 0.3 8.2 0.4 2.2 0.3-2.6 0.4-0.8 0.3 2.4 0.4 4.8 0.3-6.4 0.4-2.3 0.3-6.9 0.4 2.7 0.4 3.1 0.3 1.1 0.4-2.5 0.3 8.8 0.4-3.9 0.3-2.2 0.4 0 0.3-2.1 0.4 2.4 0.3-0.3 0.4-3.6 0.3 2.1 0.4 3.2 0.3 0.6 0.4-3.7 0.3-1.8 0.4 0.3 0.3-1.3 0.4 2.4 0.3 3.8 0.4-8.4 0.3 3.6 0.4 0.3 0.3-1.8 0.4 7.6 0.3-3.2 0.4-1.6 0.3-3.6 0.4 7.1 0.3-2.4 0.4-8.6 0.3 2.2 0.4 5.2 0.3-2.6 0.4 7.9 0.3-5.5 0.4 1.7 0.3-1.7 0.4 1.1 0.3 0.2 0.4-4.9 0.3 4.4 0.4-5.1 0.3 5 0.4-2.9 0.3 3.2 0.4-0.4 0.3-3.6 0.4-1.6 0.3 9.6 0.4-6.5 0.3-1 0.4 8.2 0.3-2 0.4-5 0.3 3.5 0.4 1.2 0.3-5.8 0.4 9 0.3 0.1 0.4 5.5 0.3-5.7 0.4 0.2 0.3-11.2 0.4 1.9 0.3 6.5 0.4-8 0.3 3.7 0.4 4.7 0.3-4.2 0.4 0.7 0.3 2.4 0.4 3.6 0.3-1.9 0.4-2.6 0.3 0.8 0.4-0.6 0.3-5.5 0.4 6.4 " fill="none" stroke="#141414" stroke-width="0.55" stroke-opacity="0.9" stroke-linejoin="round"/>
<path d="M52.0 482.5l0.4 0.2 0.3 1.1 0.4 1.2 0.3 2.7 0.4-0.4 0.3-1.9 0.4-4.3 0.3 0.9 0.4 3.3 0.3 0 0.4 0.8 0.3-11.9 0.4 3.3 0.3-2.6 0.4 10.4 0.3-0.7 0.4-2.9 0.3 0.6 0.4 0.6 0.3 4.7 0.4-3.2 0.3 0.5 0.4-1 0.3 3.4 0.4 3.5 0.3-8.9 0.4-5.2 0.3 8 0.4 0.6 0.3-3 0.4 1.1 0.3 1.3 0.4-9.2 0.3 2.8 0.4 5.8 0.3 1.5 0.4-8 0.3-4.8 0.4 5.7 0.3-0.4 0.4 10.1 0.3-4.8 0.4 4.8 0.3-13.5 0.4 6.9 0.3 8.4 0.4-1.8 0.3-8.2 0.4 0.1 0.3 3.3 0.4-4 0.3-6.3 0.4 3.1 0.3 5.9 0.4-4 0.3 0.7 0.4-1.9 0.3-5.5 0.4 0.3 0.3 1.8 0.4-2.3 0.3 4.5 0.4-4.2 0.3-1.1 0.4-2.7 0.3 2.4 0.4-1.3 0.3 1.9 0.4 0.5 0.3 1.4 0.4-1 0.3 4.6 0.4-8.7 0.3 11.1 0.4-3.2 0.3-0.1 0.4-1.8 0.3-0.5 0.4 3.6 0.4 1.9 0.3 2.7 0.4-2.6 0.3 2.1 0.4-9.6 0.3 11.2 0.4-1.3 0.3-1.1 0.4-3.1 0.3 9.5 0.4-1.1 0.3-5.1 0.4-0.1 0.3 4.2 0.4-0.1 0.3-3.4 0.4-5.9 0.3 3.1 0.4-0.7 0.3 5.7 0.4 0.4 0.3-1.7 0.4 2.5 0.3-2.8 0.4 4.5 0.3-2.9 0.4-1.8 0.3 0.5 0.4-0.9 0.3-3.6 0.4 1 0.3 2.7 0.4 2.7 0.3-4.6 0.4-1.6 0.3 9.7 0.4 0.7 0.3-3.6 0.4 1.4 0.3 0.5 0.4-2.2 0.3-6.6 0.4 0.7 0.3 0.2 0.4 0.2 0.3 4.3 0.4-2.8 0.3 7 0.4-2.9 0.3 0.4 0.4-5.8 0.3 4.1 0.4 6.7 0.3-1.4 0.4-3.7 0.3-2.2 0.4-5.6 0.3 2.1 0.4-0.8 0.3 6.6 0.4-2 0.3 6.1 0.4-9.1 0.3-0.4 0.4 2 0.3-2 0.4-2.4 0.3 2.1 0.4 8.4 0.3-3 0.4 5.7 0.3-5.2 0.4 1.7 0.3-4.8 0.4-1.2 0.3 2.2 0.4 1.6 0.3 1.7 0.4 1.9 0.3-1.3 0.4 5.6 0.4-3.7 0.3-1.1 0.4 3.7 0.3 8.1 0.4-1.5 0.3-0.4 0.4 4.8 0.3-8 0.4 5.6 0.3-6.4 0.4 0.8 0.3-10.7 0.4 8 0.3-1.3 0.4-4.9 0.3 3.8 0.4-1 0.3 7 0.4-9.1 0.3-0.7 0.4 5.8 0.3-6.3 0.4 3.5 0.3-2.7 0.4 1.4 0.3-0.1 0.4-3.5 0.3 5.7 0.4-8.1 0.3-0.8 0.4 1.3 0.3 5.4 0.4-3.2 0.3 2.7 0.4-5.7 0.3-1.9 0.4 1.4 0.3-2 0.4-0.9 0.3-2.3 0.4 9.1 0.3-5.7 0.4 3.2 0.3 0.8 0.4-7.2 0.3 4.8 0.4-0.4 0.3 1.1 0.4-0.3 0.3 7.2 0.4-8.2 0.3 4.8 0.4-0.3 0.3-2.2 0.4-5.6 0.3 5.1 0.4-3.6 0.3 3.2 0.4-5.3 0.3 4 0.4-7.4 0.3 12.1 0.4-1.7 0.3 1.4 0.4 0.7 0.3-3.6 0.4 2.8 0.3 0.2 0.4-2.1 0.3 2.1 0.4-4.3 0.3-0.2 0.4-3.1 0.3 5.6 0.4-3.4 0.3 3.2 0.4-2.9 0.3-3.1 0.4 5.2 " fill="none" stroke="#141414" stroke-width="0.55" stroke-opacity="0.9" stroke-linejoin="round"/>
<path d="M52.0 483.0l0.4 0.5 0.3 1.1 0.4-0.3 0.3-0.3 0.4 0.5 0.3 0 0.4-1.4 0.3-0.1 0.4 1.1 0.3 0.1 0.4-0.3 0.3-1.2 0.4-0.8 0.3 0.5 0.4-1.2 0.3-0.9 0.4 1.1 0.3-1.3 0.4-0.5 0.3 2.2 0.4 0.7 0.3-0.4 0.4 0.2 0.3 1.1 0.4 0.3 0.3 0.2 0.4-1.3 0.3-1 0.4 1.5 0.3-0.6 0.4-0.5 0.3 1.6 0.4-1.2 0.3-1.7 0.4 3.1 0.3 0.6 0.4-2.4 0.3-1.3 0.4-0.1 0.3 0.1 0.4 0 0.3 0.9 0.4 0.6 0.3-0.5 0.4-0.1 0.3 0.9 0.4-0.1 0.3-1 0.4 0.8 0.3 1.1 0.4-1.3 0.3-2.1 0.4-1.1 0.3-0.9 0.4-0.5 0.3-0.4 0.4-1.5 0.3-0.5 0.4-1.1 0.3-3.1 0.4-2.4 0.3-0.8 0.4-1.6 0.3-1.5 0.4 0 0.3-1.3 0.4-2 0.3-1.3 0.4 0.1 0.3-0.4 0.4 0.7 0.3 1 0.4-0.5 0.3 1.5 0.4 1.3 0.3-0.1 0.4 0.6 0.3 0.8 0.4 1.1 0.4 2.8 0.3 1.1 0.4 0.1 0.3 0.1 0.4 0 0.3 2 0.4 0.9 0.3 0.7 0.4 0.2 0.3 0.9 0.4 1.6 0.3-0.7 0.4-0.6 0.3 1.8 0.4 0.6 0.3-1.9 0.4 0.1 0.3 0.2 0.4 0 0.3 2.1 0.4 1.4 0.3-0.1 0.4 0.2 0.3-1.7 0.4 0.9 0.3 1.8 0.4-0.2 0.3 1.4 0.4-0.3 0.3-0.7 0.4-0.3 0.3-1 0.4 0.2 0.3 0.8 0.4 0.2 0.3 0.8 0.4-0.3 0.3-1.9 0.4-0.5 0.3 0.8 0.4 0.5 0.3-0.1 0.4-1.5 0.3 0.5 0.4 1.4 0.3 0.9 0.4 0.8 0.3 0.8 0.4 0 0.3 0.4 0.4 0.2 0.3-2.4 0.4 0 0.3 1.2 0.4-0.1 0.3 0.2 0.4 0.2 0.3 0.8 0.4-1.1 0.3-0.4 0.4 1.4 0.3-1 0.4-1.3 0.3 0.4 0.4 2 0.3-0.8 0.4-0.6 0.3 0.9 0.4 0.1 0.3 0.1 0.4-0.4 0.3 0.9 0.4 0.5 0.3-0.8 0.4-0.3 0.3 0.1 0.4 0.3 0.3 0 0.4-0.1 0.3-0.4 0.4-0.2 0.4 0.2 0.3 0.2 0.4 0.6 0.3 1.2 0.4 0.3 0.3-1.2 0.4-0.3 0.3 0.7 0.4 0.7 0.3-0.8 0.4-1.4 0.3-0.8 0.4 0.7 0.3 0.5 0.4-0.7 0.3-0.6 0.4-1 0.3 1 0.4 0.8 0.3-0.5 0.4-0.1 0.3-0.3 0.4 0.6 0.3-0.8 0.4 0.1 0.3 0.4 0.4-0.5 0.3-0.1 0.4-0.3 0.3-0.5 0.4-0.6 0.3 0.4 0.4 1.5 0.3 0.2 0.4 0.3 0.3 0 0.4-0.7 0.3 0.3 0.4-0.4 0.3 0.5 0.4 0.7 0.3-0.5 0.4-0.1 0.3-0.2 0.4-2 0.3-1.1 0.4 1.6 0.3 0.6 0.4-1 0.3 1.2 0.4 0.7 0.3-0.7 0.4 0.5 0.3 0.6 0.4-1.1 0.3-1.1 0.4 1.5 0.3 0.3 0.4 0.1 0.3 0.7 0.4 0.4 0.3-0.3 0.4-0.4 0.3 0 0.4-1.7 0.3 0.8 0.4 0.9 0.3-1.6 0.4 0.4 0.3 1.6 0.4 0.8 0.3 0.4 0.4 0 0.3-0.4 0.4-0.9 0.3-0.9 0.4-0.7 0.3-0.7 0.4-0.3 " fill="none" stroke="#1a8582" stroke-width="2.8" stroke-linejoin="round" stroke-linecap="round"/>
<text x="93.50" y="402.50" font-size="13.5" fill="#111" text-anchor="middle" font-weight="bold" >Trials 12 - 17</text>
<line x1="150.00" y1="405.50" x2="150.00" y2="504.60" stroke="#474747" stroke-width="2.5" />
<line x1="148.80" y1="503.40" x2="233.00" y2="503.40" stroke="#474747" stroke-width="2.5" />
<line x1="148.00" y1="408.50" x2="150.00" y2="408.50" stroke="#474747" stroke-width="1" />
<line x1="148.00" y1="433.00" x2="150.00" y2="433.00" stroke="#474747" stroke-width="1" />
<line x1="148.00" y1="457.50" x2="150.00" y2="457.50" stroke="#474747" stroke-width="1" />
<line x1="148.00" y1="482.00" x2="150.00" y2="482.00" stroke="#474747" stroke-width="1" />
<line x1="191.50" y1="503.40" x2="191.50" y2="505.80" stroke="#474747" stroke-width="1.2" />
<line x1="233.00" y1="503.40" x2="233.00" y2="505.80" stroke="#474747" stroke-width="1.2" />
<path d="M150.0 483.9l0.3-3.7 0.4-1.5 0.3-2.5 0.4 7.4 0.3-2.9 0.4 0.8 0.3 4.5 0.4 2.5 0.3-2.1 0.4-10.1 0.3 0.1 0.4 6 0.3-1.7 0.4 0.4 0.3-2.2 0.4 2 0.3-7.8 0.4 11.4 0.3-5.6 0.3 4.9 0.4-1.8 0.3 2.4 0.4-0.8 0.3 3.2 0.4-2.8 0.3-2 0.4 4.5 0.3-7.4 0.4 10.3 0.3-6.8 0.4-6.9 0.3 8.8 0.4-4.9 0.3-0.4 0.4 2.6 0.3 4.1 0.3-9.3 0.4 3 0.3 3.3 0.4-6.3 0.3 6.7 0.4-6.9 0.3 6.2 0.4-2.9 0.3 6.3 0.4-3 0.3 0.9 0.4-4.6 0.3-2.8 0.4 1 0.3 1.9 0.4-4.3 0.3 4.3 0.4 4 0.3-3.8 0.3-3.1 0.4-3.2 0.3 1.9 0.4 2.2 0.3 4.9 0.4-2.1 0.3 7.2 0.4-7.5 0.3 0.8 0.4-1.1 0.3 4.1 0.4-2.4 0.3 1.5 0.4-5.6 0.3 6.9 0.4-5.9 0.3 2.2 0.4-6.1 0.3 5.6 0.3-2.4 0.4-2.1 0.3-11.6 0.4-8.5 0.3-0.7 0.4 7.4 0.3 0.9 0.4 2.1 0.3 3.8 0.4 1 0.3-0.6 0.4-0.8 0.3 4.7 0.4-1.4 0.3 1.5 0.4 2 0.3 3.6 0.3-0.4 0.4 4.3 0.3-2 0.4-2.8 0.3 4.5 0.4-7.6 0.3-4 0.4-1.1 0.3-13.7 0.4-0.5 0.3-0.9 0.4 2.6 0.3 3.6 0.4 3.5 0.3 2.3 0.4-4.7 0.3 7.9 0.4 2.9 0.3 0.1 0.3 0.5 0.4 4.4 0.3 1.3 0.4 7.1 0.3-10.3 0.4 5.8 0.3 0.9 0.4-3.6 0.3 2.6 0.4-7.8 0.3 5.9 0.4-0.6 0.3-1.4 0.4 3.9 0.3-0.9 0.4 2.9 0.3-1.3 0.4-0.6 0.3-1.9 0.3 0 0.4-5 0.3 1.1 0.4 4 0.3 3.7 0.4-5 0.3-1 0.4 5.3 0.3 2.9 0.4-5 0.3-1.1 0.4 7.7 0.3-8.3 0.4 6.2 0.3-5.6 0.4-3.2 0.3 7 0.4 0.1 0.3 1.5 0.3-5.2 0.4-7.4 0.3 1.5 0.4 7.1 0.3-2.1 0.4-0.3 0.3-6.3 0.4 8.4 0.3-1.6 0.4 5.9 0.3 3.1 0.4-10 0.3 2.9 0.4 1.7 0.3 1.6 0.4 0.9 0.3-0.4 0.3 2.7 0.4-9.5 0.3 1.5 0.4 0.2 0.3 4.7 0.4-2.2 0.3 0.1 0.4-2.3 0.3 2.3 0.4-0.7 0.3 1.9 0.4 2 0.3-0.6 0.4-1.2 0.3-0.7 0.4 0.9 0.3-8.1 0.4 5.5 0.3 9.5 0.3-2.2 0.4-0.2 0.3-6.2 0.4-2.9 0.3 4.1 0.4-4.7 0.3 1.5 0.4-1.9 0.3 0.5 0.4 3.8 0.3-2.3 0.4 1.1 0.3 1.7 0.4 3.2 0.3-5.9 0.4 0.2 0.3 1.5 0.4 1.5 0.3 1.3 0.3 0.2 0.4-2.1 0.3-3.4 0.4 4 0.3-4.7 0.4 5.3 0.3 1 0.4-5.8 0.3-1.6 0.4 3.8 0.3-1.9 0.4-1 0.3 0.3 0.4 4.3 0.3 1.2 0.4 5.3 0.3-7.1 0.3-2 0.4-2.4 0.3 7.5 0.4-0.6 0.3 0.4 0.4-5.9 0.3 10.7 0.4-4.5 0.3-9.2 0.4 2.3 0.3 5.4 0.4-4 0.3-2.9 0.4 0.7 0.3 1.1 0.4 2.7 0.3-5.8 0.4 7.1 0.3-0.2 " fill="none" stroke="#141414" stroke-width="0.55" stroke-opacity="0.9" stroke-linejoin="round"/>
<path d="M150.0 482.7l0.3-2.9 0.4-4.6 0.3 7.8 0.4 6.9 0.3-6.8 0.4 2.1 0.3-1 0.4-0.6 0.3-11 0.4 9.9 0.3 2.5 0.4-1.5 0.3-4.3 0.4 3.1 0.3-1 0.4 1.3 0.3 2.8 0.4-1.8 0.3-0.9 0.3 2.6 0.4-3.1 0.3 4.4 0.4-6.7 0.3 7.1 0.4-2.7 0.3 5.2 0.4-6.3 0.3 1 0.4-8.7 0.3 6.8 0.4-1.1 0.3 6.1 0.4-3.6 0.3-1.7 0.4 4.7 0.3-6.5 0.3 2.5 0.4-2.1 0.3-0.9 0.4 3.2 0.3-4.4 0.4 5.6 0.3-4.7 0.4-1.2 0.3 0.4 0.4-0.4 0.3 1.2 0.4-1 0.3-0.9 0.4 2.8 0.3 3.8 0.4-4.7 0.3 3.2 0.4 0.7 0.3-0.9 0.3-11.6 0.4 0.5 0.3 1.6 0.4-1.8 0.3 5.2 0.4-0.3 0.3 3 0.4 7.9 0.3-9.3 0.4-2.2 0.3 4 0.4 5 0.3-3.2 0.4 2 0.3-3.1 0.4-4.5 0.3 7.6 0.4 3.1 0.3-5.6 0.3-2.6 0.4 2.6 0.3 3.1 0.4-2.8 0.3 3.1 0.4-0.9 0.3 1.6 0.4-2.3 0.3 0.8 0.4-0.3 0.3 2.4 0.4-1.6 0.3 1.6 0.4-0.7 0.3-5.1 0.4-0.3 0.3 0.9 0.3 1.6 0.4 0.6 0.3-1.9 0.4 2.9 0.3 0.3 0.4 0.1 0.3-2.2 0.4 0.4 0.3-4.5 0.4 4.2 0.3 1.4 0.4-4.2 0.3 4.1 0.4-3.7 0.3 0.8 0.4-8.2 0.3 11.1 0.4-4.8 0.3 1.5 0.3-1.7 0.4 1.4 0.3 5.8 0.4 0 0.3-3.7 0.4-3.1 0.3 6.1 0.4 2.1 0.3-6.3 0.4 1.2 0.3-1.4 0.4 4 0.3 0.7 0.4-1.5 0.3-0.6 0.4-3.3 0.3 0.2 0.4-2.7 0.3 6.2 0.3 1.2 0.4-0.3 0.3 1 0.4-1.2 0.3 1.5 0.4 0.8 0.3-6.1 0.4 5 0.3 0.2 0.4-4.5 0.3 3.9 0.4-0.4 0.3 0.5 0.4 2.9 0.3-1.2 0.4-2.1 0.3 0.8 0.4-3.1 0.3-1.5 0.3-0.6 0.4-2.2 0.3-5.3 0.4 5.5 0.3 2.8 0.4-0.8 0.3 1.7 0.4 0.8 0.3 2.2 0.4-8.5 0.3 6.5 0.4-6.3 0.3 1.1 0.4 5.6 0.3-2.6 0.4 0.2 0.3 1 0.3-9.6 0.4 6.1 0.3 2.9 0.4 1.6 0.3-1.7 0.4-1 0.3 1.7 0.4 6.5 0.3-3.4 0.4-2.2 0.3-0.9 0.4 2.3 0.3 0.4 0.4-2.7 0.3-0.9 0.4 3.7 0.3 5.6 0.4-8.6 0.3-3.5 0.3 1.2 0.4-1.1 0.3 0.9 0.4 5.8 0.3 4.6 0.4-8.1 0.3 1.7 0.4-3.1 0.3 1.8 0.4 0.6 0.3-4.7 0.4 7.2 0.3-3.2 0.4 4.7 0.3-4.2 0.4-1.1 0.3-1.7 0.4 1.7 0.3 3.3 0.3-2.6 0.4-2 0.3 1.7 0.4-4.2 0.3 4.7 0.4 1.6 0.3 0.6 0.4-1.4 0.3-1.9 0.4 5 0.3-5.4 0.4 1.4 0.3 5.7 0.4-4.7 0.3 6.2 0.4-3.6 0.3-0.4 0.3-5.4 0.4 3.1 0.3-3 0.4 7.8 0.3-3.7 0.4 0 0.3-5.5 0.4 5.7 0.3 1.9 0.4 0.5 0.3-7.1 0.4 3.6 0.3-8.4 0.4 14.1 0.3-7 0.4 9.4 0.3-9.6 0.4 3.3 0.3-7.8 " fill="none" stroke="#141414" stroke-width="0.55" stroke-opacity="0.9" stroke-linejoin="round"/>
<path d="M150.0 482.6l0.3-1.5 0.4 0.9 0.3 2.4 0.4-9.4 0.3 4.2 0.4 7.2 0.3-4.6 0.4 5.4 0.3-8.9 0.4 3.7 0.3 0.3 0.4-2.9 0.3 2.2 0.4 0.6 0.3-3.3 0.4 3.8 0.3-2 0.4 2.4 0.3-3.1 0.3 1.5 0.4-1.7 0.3 5.6 0.4-9.4 0.3 5.2 0.4-5.7 0.3 7.2 0.4-0.5 0.3 0.3 0.4-4.4 0.3 4.6 0.4-2.5 0.3 5.6 0.4-0.4 0.3-2 0.4 0.9 0.3 4.7 0.3-5.6 0.4 6.1 0.3-9.4 0.4 4 0.3-6.4 0.4 3.7 0.3 3.1 0.4 0.4 0.3 0.3 0.4-3.1 0.3 6.3 0.4-8.2 0.3 8.1 0.4-2.4 0.3 4.8 0.4-9.2 0.3-1.7 0.4 2.1 0.3 0.8 0.3 1.3 0.4-0.9 0.3-7.4 0.4 3.9 0.3-2.3 0.4 1.5 0.3 5.4 0.4-0.2 0.3-0.6 0.4 1.5 0.3-9.3 0.4 9.2 0.3-6.9 0.4 0.5 0.3 8.7 0.4-5.9 0.3-1.2 0.4-1.7 0.3 6.9 0.3-1.8 0.4 5.7 0.3-2.6 0.4-4.9 0.3-2.2 0.4-5.6 0.3 5.8 0.4-1.5 0.3 8.4 0.4-1.9 0.3-1.5 0.4-7.6 0.3 10.3 0.4 0.8 0.3-3.1 0.4-4.3 0.3 8.7 0.3-3.2 0.4 1.6 0.3-8.8 0.4-0.1 0.3 3.1 0.4 3.2 0.3 2.2 0.4-2.1 0.3-0.5 0.4-1.3 0.3-0.8 0.4-4.2 0.3 2.6 0.4-3.9 0.3 10.6 0.4-7.7 0.3 1 0.4-1.8 0.3 4.2 0.3 2.7 0.4-3.2 0.3-4.5 0.4 3 0.3 0.9 0.4-0.1 0.3 0.9 0.4 1.9 0.3 5.4 0.4-4.8 0.3-4.2 0.4-3.4 0.3 6.1 0.4 0.4 0.3-4.1 0.4 4.4 0.3 1.3 0.4-4.1 0.3-2.3 0.3-0.2 0.4 8.7 0.3-5.2 0.4 2.4 0.3-4.3 0.4 3.3 0.3 0.6 0.4 1.3 0.3-1.9 0.4-1.8 0.3 9.2 0.4-10.1 0.3 4.3 0.4 2.1 0.3-0.9 0.4-2.5 0.3-1.2 0.4 5 0.3-2.1 0.3 0 0.4-0.5 0.3 1.3 0.4-5.4 0.3 3.1 0.4-4.7 0.3 0.3 0.4 0.5 0.3 3.8 0.4-0.7 0.3-0.3 0.4-1.2 0.3 2.2 0.4 0.4 0.3 2.7 0.4-2.7 0.3 0.2 0.3-1.1 0.4-6.6 0.3 7.8 0.4 0.2 0.3-8.5 0.4 3.7 0.3-3.4 0.4-4.7 0.3-4 0.4 3.4 0.3-2.1 0.4-0.1 0.3 8.2 0.4-2 0.3-2.1 0.4 5.5 0.3 2.6 0.4-1.3 0.3-3.7 0.3 6.5 0.4-3.3 0.3-0.7 0.4 3.1 0.3-3.6 0.4-0.9 0.3-0.7 0.4 1.1 0.3 9.3 0.4-6.7 0.3 0.6 0.4-3.4 0.3 4.9 0.4-4.4 0.3 3.4 0.4 4.4 0.3-5.9 0.4 4.7 0.3 0.9 0.3-4.2 0.4 2.7 0.3-2.5 0.4 0 0.3-0.5 0.4-2.4 0.3 1.4 0.4-3.1 0.3-0.1 0.4 7 0.3-4.3 0.4 3.4 0.3 0.8 0.4-2.4 0.3-3.5 0.4 4.4 0.3 6 0.3-5.1 0.4-1 0.3 1.4 0.4-1.2 0.3-0.4 0.4-8.1 0.3 3.3 0.4 6 0.3-0.7 0.4-0.7 0.3-4.3 0.4 0.2 0.3 1.4 0.4-0.5 0.3 6 0.4 0.8 0.3-9.5 0.4 4.8 0.3-7.7 " fill="none" stroke="#141414" stroke-width="0.55" stroke-opacity="0.9" stroke-linejoin="round"/>
<path d="M150.0 476.7l0.3 0.7 0.4 1.5 0.3 3.8 0.4 3.2 0.3-5.2 0.4 1.7 0.3 0.8 0.4-0.7 0.3-6.2 0.4 3.2 0.3 5.4 0.4-1.4 0.3-2.8 0.4 1.9 0.3 1 0.4 4.9 0.3-1.1 0.4-1.7 0.3 2.7 0.3-4.8 0.4 0.2 0.3 2.4 0.4-3.9 0.3-0.1 0.4-0.8 0.3 2.4 0.4-8.1 0.3 1.5 0.4 7.3 0.3-7.5 0.4 7.2 0.3 3.8 0.4-0.9 0.3 1.9 0.4-7.1 0.3 5.3 0.3-6.8 0.4 3.8 0.3 2.4 0.4-5 0.3 4.8 0.4-4.8 0.3-2.6 0.4 1.1 0.3 5.2 0.4-2.2 0.3-0.7 0.4-2.8 0.3-5.6 0.4 0.1 0.3 1.1 0.4 7.1 0.3-0.4 0.4-3.9 0.3-2.5 0.3 9.6 0.4-3.7 0.3-4 0.4 7.9 0.3-0.5 0.4-2.4 0.3-3.6 0.4 0.1 0.3 2 0.4 3 0.3-5.5 0.4 1.2 0.3 4.1 0.4-2 0.3-2.4 0.4 4.6 0.3 1 0.4-1 0.3 0 0.3 5.7 0.4-8 0.3-6.5 0.4 5.6 0.3-5.3 0.4 17.1 0.3-9.6 0.4-1.6 0.3-5.7 0.4 8 0.3-1.5 0.4-0.5 0.3 5.1 0.4-2.3 0.3 1.9 0.4-5.8 0.3-1.4 0.3-3.8 0.4 1.2 0.3 6.9 0.4-0.9 0.3 5.4 0.4-3.9 0.3-0.3 0.4 0.4 0.3-3 0.4 9.7 0.3-8.3 0.4-1.2 0.3 5.1 0.4-9.5 0.3 6.8 0.4-9.8 0.3 4.1 0.4-1 0.3 2.1 0.3-2.7 0.4 7.9 0.3-1.4 0.4 3.7 0.3-6.8 0.4 6.3 0.3-2.5 0.4 0.8 0.3 3.4 0.4-6.6 0.3 0.8 0.4 0.3 0.3-1.4 0.4-0.4 0.3 1.1 0.4-3.3 0.3 7 0.4 0.8 0.3-1 0.3-3.4 0.4 3.4 0.3-7 0.4 15.6 0.3-6 0.4 0.5 0.3-3.9 0.4-3.4 0.3 3.1 0.4 3.5 0.3-5.8 0.4-2.4 0.3 11.1 0.4-9.8 0.3 1.3 0.4 2.7 0.3-2.7 0.4-1.9 0.3 2.7 0.3 3.3 0.4-0.1 0.3-4.6 0.4 3.1 0.3-0.9 0.4 0 0.3-2.4 0.4-1 0.3 3.7 0.4-1.9 0.3 4.4 0.4-7 0.3-0.1 0.4 4.5 0.3-1.3 0.4 8.8 0.3-4.8 0.3 6.3 0.4 6.3 0.3-5.8 0.4 2.4 0.3-0.2 0.4-2.6 0.3-3.2 0.4-0.9 0.3-0.7 0.4-1.9 0.3-1.8 0.4 11.1 0.3-7.6 0.4 1.4 0.3 1.4 0.4-7.8 0.3-1.3 0.4 6.3 0.3 0.9 0.3-3.3 0.4 2.5 0.3-3.2 0.4 2.8 0.3-6.7 0.4-2.8 0.3 2.9 0.4 0.7 0.3-4.3 0.4 4.9 0.3-2.7 0.4 1.2 0.3-0.8 0.4 9.9 0.3-2.6 0.4 2.4 0.3-12.3 0.4 6.6 0.3-1.3 0.3 0.9 0.4-2.1 0.3 7.2 0.4-14.5 0.3 8.9 0.4-1.2 0.3 4.7 0.4-4.1 0.3 0.8 0.4 1.3 0.3-3.1 0.4 4.2 0.3-3.2 0.4-1.7 0.3-2.3 0.4 0.4 0.3 1.1 0.3 2.1 0.4-6.2 0.3 3.9 0.4 4.1 0.3-4.8 0.4 6.3 0.3-3 0.4-2.6 0.3-0.4 0.4 3.7 0.3-1.1 0.4-0.6 0.3 3.3 0.4 0.1 0.3-5 0.4-2.3 0.3 2.3 0.4-1.6 0.3 4 " fill="none" stroke="#141414" stroke-width="0.55" stroke-opacity="0.9" stroke-linejoin="round"/>
<path d="M150.0 488.6l0.3-3.8 0.4 1.7 0.3-2.1 0.4-6.4 0.3 0 0.4 2.2 0.3-0.6 0.4-5.7 0.3 5.4 0.4 0 0.3 0.9 0.4 7.5 0.3 0.3 0.4-5.1 0.3-2.6 0.4 1.8 0.3 1.3 0.4-0.7 0.3-5.7 0.3 3.5 0.4 2.7 0.3-4.3 0.4 1.3 0.3 0.6 0.4-4 0.3-1.4 0.4 3 0.3 3.7 0.4 5.8 0.3-7.9 0.4 1.3 0.3-4.4 0.4 0.1 0.3 1.9 0.4-4 0.3 5.5 0.3 0.4 0.4 1.3 0.3-3.4 0.4-2.5 0.3-1.1 0.4 6.4 0.3-3.7 0.4-4 0.3 10.9 0.4-4.9 0.3 1.9 0.4-3.3 0.3-1.5 0.4 1 0.3 4.9 0.4 3.3 0.3-1.7 0.4 0.2 0.3-1.8 0.3 3.7 0.4-7.4 0.3 9.9 0.4-5.3 0.3 0.9 0.4 1.7 0.3-4.3 0.4 1.7 0.3-0.1 0.4-1.6 0.3 1.2 0.4-8.3 0.3 3.7 0.4 5.2 0.3 5.3 0.4-12.3 0.3 4.6 0.4 0.2 0.3 2.9 0.3 0.8 0.4 1 0.3-11.6 0.4 3 0.3 6.2 0.4-6.9 0.3 12.2 0.4-5 0.3-0.3 0.4 3.7 0.3-5.3 0.4 1.3 0.3-4.2 0.4-4.4 0.3 1.5 0.4 3.4 0.3-1.2 0.3 9.1 0.4-11.9 0.3 5.5 0.4 2.2 0.3-4.1 0.4 3.7 0.3-1.8 0.4-0.5 0.3 7.5 0.4-10.6 0.3-0.7 0.4 8.7 0.3-8.6 0.4 2 0.3-1.6 0.4-1.9 0.3 10 0.4-6.9 0.3 7.3 0.3-11.9 0.4 11.4 0.3-1.2 0.4-5.5 0.3 0.3 0.4 2.5 0.3-1.6 0.4-0.6 0.3-2.3 0.4 5.8 0.3-0.9 0.4-0.1 0.3 0.7 0.4 0.1 0.3 3.3 0.4-5.6 0.3 3 0.4-0.1 0.3-3.1 0.3 1.8 0.4-5.9 0.3 4 0.4 0.8 0.3-3.2 0.4 3.5 0.3-3.7 0.4 4.7 0.3-0.7 0.4-1.8 0.3 4.6 0.4-2.4 0.3 1.3 0.4-2.1 0.3 1.5 0.4 1.6 0.3 1.1 0.4-4.4 0.3 4.5 0.3 3 0.4-1.8 0.3-1.9 0.4 1.6 0.3-0.3 0.4-10.7 0.3-1.8 0.4 5.5 0.3 2.4 0.4 5.7 0.3-7.4 0.4 5.7 0.3-5.4 0.4 1.9 0.3-0.8 0.4 0.6 0.3 3.7 0.3-12.8 0.4 11.7 0.3-2.7 0.4 2.5 0.3-2.7 0.4-4.6 0.3 10.1 0.4-3.8 0.3-1 0.4 2.1 0.3-2.1 0.4 1.5 0.3 1.3 0.4 0.4 0.3-2.2 0.4-2.3 0.3 0.2 0.4-4.6 0.3 5.8 0.3 2.1 0.4-1.5 0.3 3.6 0.4-7.6 0.3 4.8 0.4-0.9 0.3-9.2 0.4 10.6 0.3-3.6 0.4 0.9 0.3 3.5 0.4-0.5 0.3 0.3 0.4-10.3 0.3 11.8 0.4-1.7 0.3-5.8 0.4 6.5 0.3 6.2 0.3 3.5 0.4-0.7 0.3-8.1 0.4 7.5 0.3 3.1 0.4-4.6 0.3 2.1 0.4-8.4 0.3 2.3 0.4-4.2 0.3 4.4 0.4-4.3 0.3 4.2 0.4-0.1 0.3 1.9 0.4-1.9 0.3-3.6 0.3 2.2 0.4-8.1 0.3 8.2 0.4 2.6 0.3-5.7 0.4 3.9 0.3-4.9 0.4 1.2 0.3 3.4 0.4-5.3 0.3-0.7 0.4-4.4 0.3 3.7 0.4 6.8 0.3-2 0.4-3.3 0.3-1.2 0.4-1.2 0.3-1 " fill="none" stroke="#141414" stroke-width="0.55" stroke-opacity="0.9" stroke-linejoin="round"/>
<path d="M150.0 480.5l0.3 12.7 0.4-6.7 0.3-6.3 0.4 2.6 0.3-4.8 0.4 6.8 0.3-2.8 0.4 1.4 0.3 2.4 0.4-0.5 0.3-2.7 0.4-3.4 0.3 3.1 0.4 1 0.3-12.1 0.4 15.5 0.3-3 0.4-1.5 0.3 4 0.3-3.9 0.4-2.6 0.3 3.4 0.4-4.3 0.3 6.7 0.4-1.7 0.3-6.8 0.4 7.4 0.3-4.5 0.4-1.7 0.3 1.7 0.4 0.2 0.3 3 0.4 0.7 0.3-3 0.4-1.1 0.3 3.8 0.3 1 0.4-6.5 0.3 6.2 0.4-3.4 0.3 4.5 0.4 4.2 0.3-11.7 0.4 3.1 0.3-2.4 0.4 6.1 0.3-5.1 0.4-0.8 0.3 3.7 0.4-6.7 0.3 11.5 0.4-9.5 0.3 8.3 0.4-2.6 0.3-0.7 0.3-5.2 0.4 6.3 0.3-0.6 0.4-1 0.3 0.6 0.4-3.1 0.3-0.2 0.4-3.5 0.3 2.2 0.4 7.7 0.3-4.7 0.4-4 0.3 3.3 0.4-0.3 0.3 2.3 0.4 1.6 0.3-0.6 0.4 2.4 0.3-5.4 0.3 4.1 0.4-7.3 0.3 6.4 0.4-5.8 0.3 1.3 0.4 8.6 0.3-7.2 0.4 2.9 0.3-5.4 0.4 4.3 0.3-1.8 0.4 1.6 0.3-3.2 0.4 11.9 0.3-6.5 0.4 1.7 0.3 0.1 0.3-2.7 0.4-3.9 0.3-1.7 0.4-1.6 0.3 7.2 0.4 6.3 0.3-4.2 0.4-2.8 0.3 0.1 0.4-7 0.3-0.6 0.4 3.5 0.3 5.2 0.4-8.5 0.3 6.9 0.4 0.6 0.3-3.8 0.4 3.1 0.3 0.6 0.3-0.8 0.4-2.4 0.3 3 0.4-3 0.3 14.9 0.4-9.8 0.3-0.7 0.4-3.4 0.3 1.9 0.4-3.2 0.3 4.6 0.4-3 0.3-3.2 0.4 2.2 0.3 3.1 0.4-1.1 0.3-4.1 0.4 8.9 0.3-12.2 0.3 5.3 0.4 2.5 0.3-1.7 0.4 1.6 0.3-2.3 0.4 5.8 0.3-3.8 0.4 4.6 0.3-5 0.4-1.9 0.3 3.8 0.4-0.9 0.3 2.3 0.4-4.7 0.3 2.7 0.4 2.7 0.3-3.3 0.4 0.4 0.3-0.7 0.3-4.1 0.4 4.3 0.3 0.5 0.4 4.9 0.3-1.2 0.4-4.1 0.3 3.7 0.4-2.9 0.3-2.7 0.4-3.1 0.3 1.6 0.4 1.3 0.3 6.3 0.4-5.8 0.3 4.2 0.4-3.5 0.3 4 0.3-7.9 0.4 4.1 0.3 3.1 0.4 3.5 0.3-6.8 0.4 2.1 0.3-2.3 0.4 2.2 0.3 0.7 0.4-5.5 0.3-0.8 0.4 8.2 0.3-1.6 0.4-3.3 0.3-0.7 0.4 0.4 0.3-7 0.4 9.9 0.3-2.3 0.3 2.6 0.4-0.7 0.3 5.3 0.4-11.3 0.3 2.7 0.4 3.9 0.3-5.5 0.4 7.6 0.3 1.8 0.4 0.7 0.3-7.3 0.4 3.4 0.3 2.6 0.4 2.1 0.3-4.3 0.4-3.3 0.3 1.9 0.4 6.8 0.3-4.4 0.3-1.8 0.4-6.5 0.3 9.2 0.4 3.3 0.3-10.4 0.4 1.8 0.3 1 0.4-3.9 0.3 4.3 0.4 2.2 0.3 1.2 0.4-5.3 0.3-0.8 0.4 5.7 0.3-7.2 0.4 6.5 0.3-8.5 0.3 5.8 0.4 4.1 0.3 0.1 0.4 2.3 0.3-0.9 0.4-4 0.3 6.4 0.4-4.9 0.3 5.7 0.4-0.3 0.3-2.3 0.4 5.3 0.3-6.8 0.4 8 0.3-3.4 0.4-1.2 0.3-5.9 0.4-1.3 0.3 1.9 " fill="none" stroke="#141414" stroke-width="0.55" stroke-opacity="0.9" stroke-linejoin="round"/>
<path d="M150.0 482.5l0.3 0.1 0.4-0.6 0.3-0.4 0.4 0.6 0.3-1 0.4 0.5 0.3 1.4 0.4-0.1 0.3-1.5 0.4-1.2 0.3 1.1 0.4 0.8 0.3 0.1 0.4-0.1 0.3-1.5 0.4 0.8 0.3 1.6 0.4-0.1 0.3-0.1 0.3-0.4 0.4-0.2 0.3 0.6 0.4-0.8 0.3-0.1 0.4 0.4 0.3-1.1 0.4 0.4 0.3-0.4 0.4 0.3 0.3-0.1 0.4-0.9 0.3 1.8 0.4 1.1 0.3-1 0.4-0.6 0.3 1.1 0.3-0.1 0.4-1 0.3 0.3 0.4-1 0.3-0.5 0.4 1 0.3-0.4 0.4-1.4 0.3 1.4 0.4 1.1 0.3-0.2 0.4-1.4 0.3-1.6 0.4-0.3 0.3 2 0.4 0.9 0.3-0.5 0.4 1.1 0.3-0.8 0.3-1.2 0.4-1.1 0.3-0.6 0.4 0.5 0.3 1.2 0.4 0.3 0.3 0.2 0.4 0.4 0.3-0.6 0.4 0.1 0.3-0.4 0.4-0.9 0.3 0.1 0.4 0.1 0.3 1.3 0.4-0.5 0.3-0.9 0.4 0.7 0.3 0 0.3 0.5 0.4-0.5 0.3-2.7 0.4-3.1 0.3-1 0.4 1.8 0.3 1.9 0.4-0.1 0.3-0.3 0.4 1.4 0.3 0.7 0.4-1.2 0.3 0.7 0.4 1.6 0.3-0.4 0.4-0.9 0.3 0.8 0.3 1.1 0.4-0.5 0.3-0.7 0.4-0.1 0.3 1.5 0.4 1.6 0.3-0.6 0.4-1.2 0.3-1.6 0.4-1.5 0.3-1.3 0.4-0.3 0.3 1.4 0.4-0.6 0.3 0.5 0.4-0.4 0.3-0.2 0.4 1.9 0.3 0.6 0.3 0.2 0.4 0.4 0.3 1.9 0.4 0.7 0.3 0 0.4-0.2 0.3 0.4 0.4 0 0.3 0.2 0.4-0.9 0.3-0.9 0.4 0.2 0.3-0.1 0.4 0.5 0.3 0.5 0.4-0.3 0.3 0 0.4 0.7 0.3-1 0.3-0.8 0.4 0.6 0.3-0.3 0.4 1.3 0.3 1 0.4-0.1 0.3-0.8 0.4 0 0.3 1.3 0.4-1 0.3 0.2 0.4 0.5 0.3 0.3 0.4 0.4 0.3-0.6 0.4-0.2 0.3 0.1 0.4-0.1 0.3 0.1 0.3 0.1 0.4-0.9 0.3-1.3 0.4 0.7 0.3 1.5 0.4-1.5 0.3-2.1 0.4 0.6 0.3 1.6 0.4 0.5 0.3 0.5 0.4-0.8 0.3-0.8 0.4 1.3 0.3 1 0.4 0.7 0.3 0.7 0.3-1.5 0.4-0.8 0.3 1.6 0.4 1.5 0.3-0.4 0.4-1.6 0.3-0.1 0.4 0.1 0.3-0.8 0.4-0.9 0.3-0.8 0.4 1.7 0.3 2.1 0.4-0.6 0.3-1 0.4-0.4 0.3-0.6 0.4 0 0.3 1.2 0.3 1.2 0.4 0.3 0.3-0.4 0.4-0.8 0.3-0.3 0.4-0.6 0.3-1.9 0.4 0.5 0.3 1.7 0.4 0.9 0.3-0.7 0.4-0.3 0.3 1.3 0.4 0.9 0.3 0.3 0.4 0 0.3-1.7 0.4 0.5 0.3 2.8 0.3 0.2 0.4-1.2 0.3-0.5 0.4 0.1 0.3-0.2 0.4 0.1 0.3 1 0.4-1.3 0.3-1.8 0.4 1.6 0.3 0.5 0.4-0.8 0.3 0.4 0.4 0.8 0.3-0.2 0.4 0.6 0.3 0 0.3-1.2 0.4-1.1 0.3 0.7 0.4 2.8 0.3 0 0.4-1.8 0.3-0.1 0.4 0.7 0.3 0.2 0.4 0.1 0.3-0.8 0.4-0.8 0.3-0.7 0.4 1.6 0.3 1.7 0.4-0.4 0.3-1.9 0.4-1.5 0.3 0.1 " fill="none" stroke="#1a8582" stroke-width="2.8" stroke-linejoin="round" stroke-linecap="round"/>
<text x="192.30" y="402.50" font-size="13.5" fill="#111" text-anchor="middle" font-weight="bold" >Trials 18 - 23</text>
<line x1="52.00" y1="525.80" x2="52.00" y2="625.20" stroke="#474747" stroke-width="2.5" />
<line x1="50.80" y1="624.00" x2="135.80" y2="624.00" stroke="#474747" stroke-width="2.5" />
<line x1="50.00" y1="530.00" x2="52.00" y2="530.00" stroke="#474747" stroke-width="1" />
<line x1="50.00" y1="554.50" x2="52.00" y2="554.50" stroke="#474747" stroke-width="1" />
<line x1="50.00" y1="579.00" x2="52.00" y2="579.00" stroke="#474747" stroke-width="1" />
<line x1="50.00" y1="603.50" x2="52.00" y2="603.50" stroke="#474747" stroke-width="1" />
<line x1="93.90" y1="624.00" x2="93.90" y2="626.40" stroke="#474747" stroke-width="1.2" />
<line x1="135.80" y1="624.00" x2="135.80" y2="626.40" stroke="#474747" stroke-width="1.2" />
<path d="M52.0 597.4l0.4 0.9 0.3 6.5 0.4-8 0.3 1.9 0.4 9 0.3-6.6 0.4 5.5 0.3-4.7 0.4 0.5 0.3-0.1 0.4 7.2 0.3-4.3 0.4 0.6 0.3-4.7 0.4-0.6 0.3 2.8 0.4-3.5 0.3 3.9 0.4 1.4 0.3-2.5 0.4 5.5 0.3-3.2 0.4 4.2 0.3-6.2 0.4 1.6 0.3-3.2 0.4 6.7 0.3-0.6 0.4-0.3 0.3-1.3 0.4-1.7 0.3 3.6 0.4 0.7 0.3 1.5 0.4-7.7 0.3 7.4 0.4-3.2 0.3 1 0.4-5.3 0.3 4.9 0.4-5.6 0.3 5.2 0.4-4.8 0.3-2 0.4-0.1 0.3 7.8 0.4-0.6 0.3-0.5 0.4 6.3 0.3-9.8 0.4-0.5 0.3-4.9 0.4 8 0.3-4.9 0.4 1.4 0.3-2.5 0.4 4.2 0.3-3.2 0.4-3.9 0.3 7.9 0.4 2.1 0.3 0 0.4 4.5 0.3-7.3 0.4-7.1 0.3 5.9 0.4-1.2 0.3-3.1 0.4 0.9 0.3 2 0.4 2.7 0.3 0.5 0.4-1.6 0.3-3.4 0.4 1.9 0.3-2.1 0.4 6.5 0.3-8 0.4 3.3 0.4-0.2 0.3-0.2 0.4 0 0.3 1.4 0.4-0.3 0.3 2.6 0.4-0.4 0.3-4 0.4 0.6 0.3 4 0.4 0.2 0.3 1.8 0.4-1.6 0.3-0.2 0.4-2.9 0.3 1.5 0.4-3.4 0.3-3.2 0.4 9 0.3-5.4 0.4 2.2 0.3 3.3 0.4-1.8 0.3-0.3 0.4-6.9 0.3 4 0.4 1.7 0.3 0.3 0.4 5.5 0.3-3.5 0.4-0.8 0.3 2.9 0.4-3.7 0.3-9.5 0.4 6.6 0.3 3.2 0.4-2.6 0.3 4.5 0.4-3 0.3-3.4 0.4 8.8 0.3-3.4 0.4-0.7 0.3 0.9 0.4 1.1 0.3-2.8 0.4-3.8 0.3 2.6 0.4-3.3 0.3 1 0.4 4.5 0.3-0.9 0.4 2.3 0.3-1.5 0.4 2.6 0.3-2.4 0.4-6.6 0.3 7.8 0.4 5 0.3-5 0.4-2.8 0.3 1 0.4-2.4 0.3-3 0.4 3.9 0.3 1.7 0.4 1.4 0.3-1.1 0.4-1.5 0.3 3.3 0.4-1.8 0.3-4.2 0.4 9.9 0.3-1.7 0.4-6.3 0.3 5.9 0.4-11.7 0.3 10.8 0.4-3.1 0.3 1.1 0.4-5.6 0.4 2 0.3 1.2 0.4 2.3 0.3-2 0.4 6.6 0.3-8.4 0.4-3.3 0.3 7.2 0.4-1.5 0.3-1.8 0.4-0.7 0.3 3.6 0.4-6 0.3 7.1 0.4-1.9 0.3 7.5 0.4-3.1 0.3-2 0.4-9.2 0.3 12.2 0.4 0.3 0.3-7.8 0.4 3.4 0.3 8.5 0.4-9.7 0.3-1.7 0.4-6.6 0.3 9.4 0.4-10.1 0.3-8 0.4-2.6 0.3 4.9 0.4-4.5 0.3 1.7 0.4-8.4 0.3 8.3 0.4-4 0.3 2 0.4 5.3 0.3 1.3 0.4 2.2 0.3 3.8 0.4-4.1 0.3 1.2 0.4 2.5 0.3 0.1 0.4 4 0.3 0.6 0.4-4 0.3-0.1 0.4 2.3 0.3-2.6 0.4 1.2 0.3 0.8 0.4-3.8 0.3 9.9 0.4-0.4 0.3-2.7 0.4-1.3 0.3-0.9 0.4 2.9 0.3-3.7 0.4 0.6 0.3 2.7 0.4 0.4 0.3 0.7 0.4-2.3 0.3-1.7 0.4 4.5 0.3-3.4 0.4 5 0.3 7.8 0.4-3.7 0.3-4.6 0.4-2.5 0.3 4.4 0.4-8.3 0.3 9.6 0.4 2.8 " fill="none" stroke="#141414" stroke-width="0.55" stroke-opacity="0.9" stroke-linejoin="round"/>
<path d="M52.0 605.3l0.4 1.1 0.3-4.5 0.4-0.5 0.3 3 0.4-2.8 0.3-2.7 0.4-1.2 0.3 2 0.4 4 0.3 5 0.4 1.3 0.3-7.8 0.4 0.5 0.3-4.3 0.4 7.9 0.3 2.7 0.4-2.5 0.3 1.2 0.4 1.3 0.3-6.9 0.4-3 0.3 3.4 0.4 2.5 0.3 0.6 0.4 1.3 0.3 2.7 0.4-8.5 0.3 0.6 0.4-1.2 0.3 5.4 0.4-1.9 0.3 0.7 0.4 7.3 0.3-13.9 0.4 11.5 0.3-5.1 0.4-1.7 0.3 6 0.4-7.2 0.3 3.6 0.4-3.9 0.3 1.2 0.4 0.5 0.3 0.1 0.4-1.1 0.3-2.1 0.4-0.6 0.3 4.7 0.4-0.9 0.3 0 0.4-2.1 0.3 3.9 0.4 1.6 0.3 3.2 0.4-8.4 0.3 7.2 0.4-8.9 0.3 0.6 0.4 0.9 0.3 2.7 0.4 0.2 0.3-2 0.4 0.3 0.3 0.3 0.4-2.4 0.3 5.4 0.4-4.1 0.3-3.2 0.4-0.7 0.3 4 0.4-0.1 0.3 1.7 0.4 2 0.3 5.2 0.4-6.6 0.3 3.8 0.4-10.4 0.3 2.3 0.4 2.9 0.4-3.2 0.3 1 0.4 3.6 0.3-1.1 0.4-0.3 0.3 5.2 0.4-4.8 0.3-0.8 0.4-1.6 0.3 0.9 0.4 0.5 0.3 2.5 0.4-0.3 0.3 1.9 0.4-3.5 0.3-4.7 0.4 0.1 0.3 6.6 0.4 3.6 0.3-9.7 0.4 6.5 0.3-2.3 0.4-0.7 0.3 0.7 0.4 3.3 0.3 2.6 0.4-6 0.3 1.5 0.4 1.3 0.3 4.3 0.4-3.4 0.3 1.7 0.4-2.7 0.3 8.2 0.4-9.3 0.3-2.7 0.4 6.7 0.3-3.7 0.4-0.2 0.3 2.2 0.4-3.3 0.3 2.9 0.4-1.5 0.3 1.3 0.4 0.1 0.3 0.7 0.4 0.7 0.3-5.9 0.4 5.9 0.3-5.5 0.4 3.2 0.3 1.5 0.4-2 0.3 3.1 0.4-1.6 0.3-1.5 0.4-2.7 0.3 0.4 0.4 1.4 0.3 2.8 0.4 3.1 0.3-4.9 0.4 1.2 0.3-2.8 0.4 0.2 0.3-1.6 0.4-2.2 0.3 9.3 0.4-4.8 0.3-2.1 0.4 2.5 0.3 3.1 0.4-4.1 0.3 2.1 0.4-2.1 0.3-2.6 0.4 3.5 0.3 1 0.4 7 0.3 2.1 0.4-1.9 0.4 2.6 0.3-3 0.4 7.8 0.3 2.1 0.4 2.7 0.3-3.7 0.4 0.3 0.3-3.5 0.4 3.4 0.3-4.9 0.4-5.4 0.3 10.1 0.4-10.6 0.3 6.2 0.4-4.7 0.3 3 0.4-11 0.3 11.2 0.4-2.8 0.3-2.7 0.4 6.4 0.3 3.2 0.4-6.8 0.3 2.9 0.4 1.8 0.3-3.4 0.4-1.1 0.3-8.5 0.4 1.7 0.3 8 0.4-5.2 0.3 1.6 0.4-6.4 0.3 6 0.4-9 0.3 7.3 0.4 1.3 0.3-1.2 0.4-1.9 0.3-5.1 0.4 5.7 0.3 2.2 0.4-4.2 0.3-5 0.4 5.7 0.3 0.5 0.4-8.3 0.3 2.8 0.4 3.1 0.3-1.4 0.4-2.7 0.3 12.2 0.4-9.3 0.3 3.5 0.4-3.9 0.3 1.3 0.4-8.2 0.3 9.9 0.4-3.6 0.3 11.6 0.4-6.7 0.3-4.9 0.4 7.4 0.3 3.3 0.4-5.4 0.3-5 0.4-1.7 0.3 8 0.4-2.6 0.3 5.1 0.4-11.1 0.3 9.2 0.4-6.7 0.3 3.9 0.4-1.4 0.3-4.7 0.4 7.1 0.3-6.8 0.4 4.6 " fill="none" stroke="#141414" stroke-width="0.55" stroke-opacity="0.9" stroke-linejoin="round"/>
<path d="M52.0 611.3l0.4-3.2 0.3 0 0.4-8.1 0.3 2.6 0.4 0.7 0.3 3.2 0.4-3.6 0.3-2.5 0.4 1.6 0.3-2.4 0.4 3.1 0.3-1.1 0.4 0.8 0.3 4.6 0.4-3.4 0.3 3.1 0.4-3.8 0.3 2.9 0.4-1.8 0.3-2.6 0.4 3.5 0.3-0.8 0.4 2.1 0.3-2.8 0.4 1 0.3 3.6 0.4-5.5 0.3 3.3 0.4 0.4 0.3-1.2 0.4 1.3 0.3-3.9 0.4-8 0.3 6.3 0.4-0.7 0.3 6.6 0.4-1.8 0.3 0 0.4-1.7 0.3-4.9 0.4 3.7 0.3-0.2 0.4 5.3 0.3-6.4 0.4 6.6 0.3-1.9 0.4-4.1 0.3-0.9 0.4 0.9 0.3 0 0.4 6.8 0.3-2.1 0.4-6.2 0.3-1.8 0.4 10 0.3-0.4 0.4 4 0.3-4 0.4-2.1 0.3-1.5 0.4 4 0.3-6.9 0.4 1.5 0.3-1.1 0.4-1.5 0.3 3.9 0.4 3.6 0.3-7.4 0.4-7.9 0.3 4.8 0.4-0.8 0.3-0.4 0.4-0.8 0.3-2.2 0.4 10.8 0.3-3.3 0.4-1 0.3 0.6 0.4-6.4 0.4-2.5 0.3 3.2 0.4 4.4 0.3-1.6 0.4 0.4 0.3 7.3 0.4-0.8 0.3-3.9 0.4-2.2 0.3 5.6 0.4-5.5 0.3 6.8 0.4-4.7 0.3 0.2 0.4 9.6 0.3-8.3 0.4-0.7 0.3 4.4 0.4-6 0.3-1.5 0.4 1 0.3 5 0.4 1.7 0.3 0.7 0.4 0.1 0.3-6.5 0.4 3.1 0.3 1.9 0.4-3.8 0.3 0.8 0.4-0.2 0.3 2.5 0.4-1.2 0.3-2.9 0.4 5 0.3-5.8 0.4 5 0.3 0.2 0.4-6.3 0.3 6.7 0.4-4.2 0.3 2 0.4-5.4 0.3 4.4 0.4 2 0.3 1.6 0.4 4.1 0.3-7.4 0.4 2.5 0.3-4.1 0.4 6.9 0.3-4.9 0.4 10 0.3-9.5 0.4 3.9 0.3 0.1 0.4 0.9 0.3-8.6 0.4 6.3 0.3-2.2 0.4 2.6 0.3 0 0.4-1.6 0.3-1.6 0.4 5.4 0.3-0.2 0.4 1.3 0.3-4.8 0.4 2.4 0.3 1.3 0.4-4.9 0.3 0.3 0.4 0.5 0.3 3.8 0.4-1.3 0.3-3 0.4 1.7 0.3-3.5 0.4 2.7 0.3 0.7 0.4-1.5 0.4 2.5 0.3 3.7 0.4-7.8 0.3-2.4 0.4 4.4 0.3-2.7 0.4 4.1 0.3 2.1 0.4-0.5 0.3-3 0.4-1.3 0.3 2.1 0.4 0.1 0.3 5.6 0.4-9 0.3 5.3 0.4-0.2 0.3-4.7 0.4-0.5 0.3-4.6 0.4 3.9 0.3 3.1 0.4-3.1 0.3 4.7 0.4-0.9 0.3 0.8 0.4-4.3 0.3 8.6 0.4-9.4 0.3 6.9 0.4-9.1 0.3 9.7 0.4-5.8 0.3-2.2 0.4 8.3 0.3 1.7 0.4-12.8 0.3 6 0.4 3.5 0.3-5.7 0.4 11 0.3-5.1 0.4-1.3 0.3-0.8 0.4 4.9 0.3-6.4 0.4-0.6 0.3-0.6 0.4-0.5 0.3 3.3 0.4-3.7 0.3 4 0.4-3.7 0.3-0.7 0.4 3.2 0.3 5 0.4-5.3 0.3-8.5 0.4 4.4 0.3-2.2 0.4 12.7 0.3-5.5 0.4 0.6 0.3 2.8 0.4-3.8 0.3-5.5 0.4 1.3 0.3 2.4 0.4-1.4 0.3-0.2 0.4 5.4 0.3-3.6 0.4-4.3 0.3 6.6 0.4-5.9 0.3 3.1 0.4-3.6 0.3 0.1 0.4 4 " fill="none" stroke="#141414" stroke-width="0.55" stroke-opacity="0.9" stroke-linejoin="round"/>
<path d="M52.0 605.6l0.4 2.5 0.3-3.1 0.4-0.9 0.3 2.5 0.4-4.2 0.3 4.9 0.4 0.2 0.3-2.8 0.4-0.4 0.3 3.6 0.4-2.6 0.3 3 0.4-4.8 0.3 4.6 0.4-1.6 0.3 0.3 0.4-3.3 0.3 6.6 0.4-4.9 0.3 4 0.4-5.5 0.3 1.3 0.4-3.8 0.3 6.9 0.4-0.7 0.3-5.5 0.4 2.5 0.3-3.3 0.4 4.7 0.3-3.3 0.4 4.8 0.3 2.3 0.4-7.5 0.3 4.4 0.4-3.6 0.3 1.7 0.4 5.3 0.3-5 0.4-0.8 0.3 1.8 0.4-2.2 0.3 0.3 0.4 0 0.3 0.9 0.4 4 0.3-6.8 0.4-1.3 0.3 2.2 0.4 3.4 0.3-3.9 0.4 2.2 0.3-5 0.4 4.7 0.3 0 0.4 0.6 0.3 2.7 0.4-0.4 0.3-3.9 0.4 7.1 0.3-12.6 0.4 6.7 0.3-1.2 0.4 3.7 0.3-0.9 0.4 0.1 0.3-0.1 0.4 2.6 0.3-1.7 0.4 5.5 0.3-4.5 0.4 0.5 0.3-2 0.4-2.3 0.3-3.8 0.4 0.1 0.3 2.7 0.4 3.8 0.3-8.7 0.4 8.8 0.4-2.4 0.3-1.8 0.4 1.4 0.3-6.2 0.4 2.2 0.3-2.8 0.4 5.3 0.3 0.5 0.4 5.2 0.3-2 0.4-4.7 0.3-1.5 0.4-0.2 0.3 2.3 0.4 3.5 0.3-3.1 0.4 7.9 0.3-7.4 0.4 1.8 0.3-3.8 0.4 12.4 0.3-15.7 0.4 5.6 0.3 2.4 0.4-4.1 0.3 0.4 0.4-0.3 0.3-5.5 0.4 7.6 0.3-1.9 0.4 0.3 0.3 3 0.4-3.5 0.3-4.3 0.4 7 0.3-4.9 0.4 0.9 0.3 1.3 0.4 10.5 0.3-7.1 0.4-0.4 0.3-5.7 0.4 5.2 0.3-4.4 0.4 9.8 0.3-5.4 0.4 3.5 0.3-8.8 0.4 1.9 0.3 7.5 0.4-6.2 0.3 2.6 0.4 4.7 0.3-2.1 0.4-1.8 0.3-1.6 0.4 1.5 0.3-3.5 0.4-1.1 0.3 2.1 0.4 2.3 0.3-2.3 0.4-0.4 0.3 8.1 0.4-11.8 0.3 0.6 0.4 2.3 0.3-4.3 0.4 6.7 0.3 0.3 0.4 2.5 0.3 1.1 0.4-6.1 0.3 5 0.4-0.5 0.3-3.7 0.4-4.8 0.3 5.2 0.4 1.9 0.3-3.7 0.4-2.4 0.4 3.4 0.3-4.6 0.4 2.1 0.3 3.6 0.4-1.4 0.3-5 0.4 3.6 0.3-3.4 0.4 1.5 0.3 3.2 0.4-0.9 0.3-0.4 0.4 0.1 0.3 0 0.4-0.4 0.3 3.7 0.4 0.9 0.3 0.3 0.4-0.8 0.3-0.7 0.4 2.4 0.3-2.8 0.4 3.2 0.3-5.1 0.4-1.6 0.3-0.2 0.4 6.1 0.3-7.1 0.4-1.2 0.3 6.4 0.4-1.5 0.3 2.7 0.4-0.6 0.3-2.8 0.4 4.3 0.3-7.3 0.4 3.2 0.3-0.3 0.4-3.3 0.3 2.5 0.4 2.9 0.3-0.9 0.4 1.6 0.3-2.7 0.4-0.8 0.3 0.4 0.4 1.6 0.3-1 0.4 0.3 0.3 1 0.4-0.2 0.3-10 0.4 12.9 0.3 3.5 0.4-6.5 0.3 3.8 0.4-1.3 0.3-1.6 0.4 0 0.3-0.1 0.4-2.7 0.3-3.7 0.4-3.6 0.3 3 0.4 4.7 0.3-3.5 0.4 3 0.3-4 0.4 2.3 0.3-7 0.4 6.3 0.3-4.1 0.4 6.9 0.3 4.2 0.4-1.7 0.3-1.2 0.4-0.1 0.3 5.5 0.4-5.7 " fill="none" stroke="#141414" stroke-width="0.55" stroke-opacity="0.9" stroke-linejoin="round"/>
<path d="M52.0 604.4l0.4 1.7 0.3-3.8 0.4 2.5 0.3 1 0.4-5.6 0.3-0.2 0.4 8.7 0.3 0.7 0.4-4.9 0.3 4.7 0.4-5.4 0.3 3.1 0.4-4.4 0.3 3 0.4-1 0.3-1.9 0.4 0.1 0.3 2.8 0.4-7 0.3 8.4 0.4-6.7 0.3 7.6 0.4-0.4 0.3-4 0.4 0 0.3 1.3 0.4 6.7 0.3-3.2 0.4-5.2 0.3-1.7 0.4 1.8 0.3-5.3 0.4 4.5 0.3-5.3 0.4 2 0.3 2 0.4 2 0.3-1.7 0.4 0.8 0.3 0.1 0.4 1.2 0.3-3.2 0.4-4.1 0.3 7 0.4-0.4 0.3 1.5 0.4-4.5 0.3 9.4 0.4-11.3 0.3 2.9 0.4-0.1 0.3 0.4 0.4-2.8 0.3 2.6 0.4-2.5 0.3-0.3 0.4 3.8 0.3-0.1 0.4-1.3 0.3 1.1 0.4 3.7 0.3-4.2 0.4-3 0.3 6.3 0.4-0.7 0.3 1.2 0.4-1.1 0.3 0 0.4-2.6 0.3-5 0.4 6.7 0.3 4.9 0.4-5.4 0.3 1.7 0.4-5.2 0.3 11.1 0.4-6.3 0.3-2.9 0.4 7.8 0.4-1.2 0.3-2.6 0.4-2 0.3 0.9 0.4-1.6 0.3 5.2 0.4-1.5 0.3-7.4 0.4 5.7 0.3-4.1 0.4 0.3 0.3-0.5 0.4 3 0.3-0.4 0.4-1.6 0.3 1 0.4 8.5 0.3-6.4 0.4-6.4 0.3 0.2 0.4 6.5 0.3 7.3 0.4-2.9 0.3-9.4 0.4 0 0.3 0.3 0.4 7.2 0.3-0.6 0.4-3.2 0.3 4.7 0.4-4.4 0.3 1 0.4-5.5 0.3 4.2 0.4 3.6 0.3-5.3 0.4-2.4 0.3 1.6 0.4 3 0.3 1.6 0.4 4.5 0.3 1.3 0.4-4.6 0.3-1 0.4-5 0.3 1.7 0.4 1.8 0.3-2 0.4 4.1 0.3-3.7 0.4 0 0.3 0.4 0.4 1.7 0.3-4.3 0.4 0.3 0.3 4.3 0.4-3.7 0.3 6.8 0.4-5 0.3 1.3 0.4-4.8 0.3 8 0.4 0.3 0.3 0.6 0.4-4.5 0.3 2.4 0.4 1.8 0.3-3.5 0.4-2.4 0.3 0 0.4 0.6 0.3 4.7 0.4-0.6 0.3-1.5 0.4 4.2 0.3-10.4 0.4 9.9 0.3-6 0.4 6 0.3-3.2 0.4-1.7 0.4-0.4 0.3 4.4 0.4 0.1 0.3-3.6 0.4 1.8 0.3 0.7 0.4-1.8 0.3 11.4 0.4-9.8 0.3-6.9 0.4-3.9 0.3 2 0.4 6.4 0.3-5.5 0.4-1.9 0.3 7.1 0.4 0.8 0.3-0.1 0.4 3.3 0.3 7.2 0.4-1.9 0.3-6 0.4-3.5 0.3-1.4 0.4 3.7 0.3-2.4 0.4-2.9 0.3-5.4 0.4 7.4 0.3 2.9 0.4-4.6 0.3 2.6 0.4 0.4 0.3-1.4 0.4-0.4 0.3 7.4 0.4-0.7 0.3-4.2 0.4-3.4 0.3-4.4 0.4 2.9 0.3 5 0.4 0.2 0.3 2.3 0.4 0 0.3 0 0.4-4.3 0.3-2.1 0.4 3.1 0.3-3.4 0.4 0.9 0.3-0.9 0.4 2.3 0.3-1.5 0.4 0.9 0.3 7.7 0.4-7.8 0.3 0.6 0.4 2.1 0.3-5.1 0.4 2.2 0.3-1.3 0.4 3.7 0.3-2.9 0.4 1.5 0.3 7.3 0.4-1.8 0.3-1.9 0.4 0.3 0.3-2.1 0.4 0.2 0.3-3.1 0.4 1.2 0.3 0.5 0.4 0.8 0.3 0.4 0.4-0.5 0.3 2 0.4 0.6 " fill="none" stroke="#141414" stroke-width="0.55" stroke-opacity="0.9" stroke-linejoin="round"/>
<path d="M52.0 603.0l0.4-2 0.3 1.2 0.4 6.2 0.3-7.6 0.4 4.3 0.3-2.8 0.4 0.5 0.3 3.4 0.4-2.5 0.3-5.5 0.4 5.5 0.3-3.8 0.4 0 0.3 3.9 0.4-0.7 0.3 0.6 0.4-1.2 0.3-2.5 0.4 3.5 0.3 1.5 0.4 0.8 0.3 2 0.4-2.8 0.3-2.4 0.4-3 0.3 8.7 0.4-2.1 0.3 0 0.4-4.5 0.3 1.4 0.4-1.9 0.3 2 0.4-7.3 0.3 6.3 0.4 2.8 0.3 2 0.4 1.3 0.3-1.9 0.4 1.9 0.3-2.4 0.4 0.1 0.3-5.2 0.4 2.5 0.3 2.6 0.4-2.9 0.3-1 0.4-4.5 0.3 3.1 0.4 7.5 0.3-3 0.4 2.3 0.3 0.2 0.4 0.6 0.3-7.8 0.4-0.7 0.3 1.7 0.4-0.4 0.3 3.1 0.4 1.6 0.3-6 0.4 9.9 0.3-5.1 0.4-4.4 0.3-0.3 0.4 9.7 0.3-3.2 0.4 4.6 0.3-3.8 0.4 3.9 0.3-9 0.4-6.1 0.3 3.4 0.4 5.9 0.3 4.2 0.4-6.8 0.3-3.5 0.4 6 0.3-4.7 0.4 7.3 0.4-2.5 0.3-6.1 0.4 6.1 0.3-5.3 0.4 0.3 0.3 3 0.4-1.5 0.3-2.8 0.4-0.1 0.3-2.6 0.4-1.3 0.3 10.5 0.4-7.5 0.3 2.3 0.4 3.6 0.3-2.2 0.4 3 0.3-0.2 0.4 1.6 0.3-3.3 0.4 0.1 0.3-4 0.4 1.6 0.3-1 0.4 3.6 0.3-4.6 0.4 11.1 0.3-5.7 0.4-5 0.3 1.8 0.4-3.1 0.3-1.8 0.4 5.3 0.3 7.6 0.4-2.6 0.3 0.2 0.4-4.4 0.3 0 0.4 4.9 0.3-3.4 0.4 0.6 0.3-6.5 0.4 7.3 0.3-1.5 0.4 0 0.3-3 0.4 0.6 0.3 2.4 0.4-0.6 0.3-0.1 0.4-1 0.3 2.1 0.4 0.8 0.3-0.8 0.4-2.3 0.3 0.2 0.4 2.5 0.3 0.2 0.4 1.1 0.3-2.9 0.4 2.7 0.3 1.8 0.4-7.7 0.3 5.6 0.4 2.1 0.3-6.1 0.4 3.3 0.3 3.1 0.4-2 0.3 7.1 0.4-7 0.3-0.8 0.4-1.4 0.3 5.3 0.4-2.2 0.3-3.5 0.4-4.7 0.3 8.1 0.4-6.1 0.3 3.2 0.4-2.4 0.4 5.9 0.3-7.5 0.4 4.9 0.3-0.3 0.4 3.6 0.3 7.4 0.4-7.8 0.3-1 0.4-2.9 0.3 2.5 0.4-1.8 0.3-4.1 0.4 4.4 0.3-2 0.4-1.5 0.3 5.3 0.4-0.8 0.3 3.5 0.4 3.2 0.3-3 0.4-4.8 0.3-0.1 0.4 1.9 0.3-4.7 0.4 6.4 0.3-3.1 0.4 1.9 0.3-3.6 0.4 1.1 0.3 1.5 0.4 0.7 0.3-3.3 0.4-1 0.3 3.9 0.4-5.3 0.3 3.9 0.4-5.4 0.3 3.6 0.4 5.8 0.3-1.2 0.4-7.1 0.3 5.9 0.4-1.1 0.3 1.1 0.4-3.4 0.3-1 0.4 2.8 0.3-5 0.4 8.9 0.3-2.8 0.4 1.4 0.3-2.9 0.4-2.7 0.3-2.4 0.4 9.6 0.3-0.9 0.4-3.7 0.3-1 0.4-2.1 0.3 2 0.4-4.5 0.3 6.5 0.4-5 0.3-0.4 0.4-3.9 0.3 10.5 0.4-3.8 0.3-1.1 0.4 3.7 0.3-2.7 0.4 4.1 0.3 1.4 0.4-0.4 0.3-4.4 0.4 0 0.3 1 0.4-6.8 0.3 6.3 0.4-5.6 " fill="none" stroke="#141414" stroke-width="0.55" stroke-opacity="0.9" stroke-linejoin="round"/>
<path d="M52.0 603.3l0.4 0.1 0.3-0.3 0.4-1 0.3-0.5 0.4 0.5 0.3-0.3 0.4 0.5 0.3 0.5 0.4-0.4 0.3 0.3 0.4 1.2 0.3-0.2 0.4-1.5 0.3 0 0.4 0.6 0.3 0.7 0.4-0.6 0.3 0.1 0.4 0.6 0.3-0.4 0.4-0.3 0.3 0.4 0.4 1 0.3-0.5 0.4-0.7 0.3 0.7 0.4 0.6 0.3-0.3 0.4-0.8 0.3-0.5 0.4 0.1 0.3 0.2 0.4-1 0.3-0.9 0.4 0.4 0.3 1.5 0.4 1.4 0.3 0 0.4-1.2 0.3-0.7 0.4-0.3 0.3-0.7 0.4-0.3 0.3 0.2 0.4 0.7 0.3 0.3 0.4-1.5 0.3 0.2 0.4 2 0.3-0.7 0.4-0.4 0.3 0.1 0.4-0.2 0.3-0.2 0.4-0.7 0.3 0.7 0.4 0.9 0.3-0.4 0.4-0.4 0.3-0.5 0.4 1.5 0.3 0.6 0.4-1.4 0.3 0 0.4-0.4 0.3 0.9 0.4 1.4 0.3-1.2 0.4-1.7 0.3-0.7 0.4-0.4 0.3 0.9 0.4 0.5 0.3 0 0.4-0.3 0.3 0.2 0.4 0.6 0.3-1.9 0.4 0.2 0.4 1 0.3-1.5 0.4 0.6 0.3 0.1 0.4-0.9 0.3 1.8 0.4 1.4 0.3-1.9 0.4-0.8 0.3 0.8 0.4-0.8 0.3 0.8 0.4 0.7 0.3-0.4 0.4 1.2 0.3-0.5 0.4-0.1 0.3 0.8 0.4-0.2 0.3-1.6 0.4 0.5 0.3 1.8 0.4-0.2 0.3-0.2 0.4-0.9 0.3-0.6 0.4 1.1 0.3 0.8 0.4-0.5 0.3 0.8 0.4-0.4 0.3-0.2 0.4-0.1 0.3-0.6 0.4 1.1 0.3-0.3 0.4-1 0.3 0.7 0.4 1.1 0.3 0.5 0.4 0.3 0.3-0.3 0.4-0.7 0.3 0.1 0.4 0.7 0.3 0.1 0.4 0.1 0.3-1 0.4-0.6 0.3 0.5 0.4 0.3 0.3 0.7 0.4 1.6 0.3 0.3 0.4-1.1 0.3 0.1 0.4-0.7 0.3-0.3 0.4 0.9 0.3 0.4 0.4 0 0.3 0.7 0.4-0.6 0.3-0.2 0.4 0.2 0.3-0.5 0.4 0.4 0.3 0.6 0.4-0.1 0.3 0.7 0.4 0.2 0.3-0.3 0.4 0.3 0.3 1 0.4 0.4 0.3-2.1 0.4-1.9 0.3 0.9 0.4 2 0.3 0.8 0.4-1.3 0.4 0.1 0.3 0.8 0.4 0.4 0.3 0.5 0.4 1.3 0.3 0.5 0.4-1.4 0.3 0.7 0.4 0.2 0.3-1.7 0.4-2.1 0.3 0 0.4 0.6 0.3 0.4 0.4-0.7 0.3 1 0.4 1.6 0.3-0.5 0.4 0.1 0.3 0.1 0.4 1.1 0.3-0.4 0.4-1.3 0.3 0 0.4 0.3 0.3-0.9 0.4-1.5 0.3-1.2 0.4-1.5 0.3 0.6 0.4-0.5 0.3-0.4 0.4 0 0.3-1.2 0.4-0.5 0.3 0.8 0.4 0.2 0.3-1.1 0.4 0.9 0.3-0.6 0.4 0.4 0.3 2.3 0.4 0.1 0.3-1.2 0.4 0.4 0.3 0.1 0.4-1 0.3-0.9 0.4 0.4 0.3 0.5 0.4-0.5 0.3-0.2 0.4 0 0.3 0.2 0.4 0.2 0.3 2.1 0.4 0 0.3-2.5 0.4-0.4 0.3 0.3 0.4 0.8 0.3-0.8 0.4-0.8 0.3 1 0.4 0.1 0.3-0.2 0.4-0.1 0.3-0.3 0.4 0.6 0.3-0.3 0.4-0.1 0.3 1.5 0.4 0 0.3-0.1 0.4-0.4 0.3-0.7 0.4-0.7 0.3 0.3 0.4 1.4 " fill="none" stroke="#1a8582" stroke-width="2.8" stroke-linejoin="round" stroke-linecap="round"/>
<text x="93.50" y="523.00" font-size="13.5" fill="#111" text-anchor="middle" font-weight="bold" >Trials 24 - 29</text>
<line x1="150.00" y1="525.80" x2="150.00" y2="625.20" stroke="#474747" stroke-width="2.5" />
<line x1="148.80" y1="624.00" x2="233.40" y2="624.00" stroke="#474747" stroke-width="2.5" />
<line x1="148.00" y1="530.00" x2="150.00" y2="530.00" stroke="#474747" stroke-width="1" />
<line x1="148.00" y1="554.50" x2="150.00" y2="554.50" stroke="#474747" stroke-width="1" />
<line x1="148.00" y1="579.00" x2="150.00" y2="579.00" stroke="#474747" stroke-width="1" />
<line x1="148.00" y1="603.50" x2="150.00" y2="603.50" stroke="#474747" stroke-width="1" />
<line x1="191.70" y1="624.00" x2="191.70" y2="626.40" stroke="#474747" stroke-width="1.2" />
<line x1="233.40" y1="624.00" x2="233.40" y2="626.40" stroke="#474747" stroke-width="1.2" />
<path d="M150.0 608.3l0.3-0.5 0.4-8 0.3 5.5 0.4 1.6 0.3-4.5 0.4 8 0.3-4.7 0.4-2.6 0.3 1.9 0.4 0.5 0.3-6.4 0.4 5.3 0.3-2.3 0.4 0.9 0.3 6.2 0.4-6.2 0.3 5.5 0.4-2.1 0.3-0.3 0.4-5.1 0.3 5.6 0.4 0.3 0.3-0.9 0.4-3 0.3 4.8 0.4-8.8 0.3 6.8 0.4-1.4 0.3 0.5 0.4 0.2 0.3 2.1 0.4-5.5 0.3-2.8 0.4 5.4 0.3-0.7 0.4-1.8 0.3-0.4 0.4 0.5 0.3 0.8 0.4-1.2 0.3 4.1 0.4-1 0.3 2.6 0.4 0.2 0.3 5.9 0.4-2.2 0.3-8.8 0.3-2.3 0.4 1.4 0.3 4.1 0.4 2.5 0.3-3.1 0.4 1.2 0.3-1.9 0.4-4 0.3 9.8 0.4-4.4 0.3-0.9 0.4 3 0.3-2.8 0.4-4.1 0.3 1.4 0.4 3.3 0.3-6.1 0.4 6.9 0.3-9.5 0.4 6.2 0.3 2.4 0.4-5.6 0.3-0.3 0.4-0.1 0.3 1.6 0.4 5.5 0.3 1.8 0.4-5.1 0.3-3 0.4 5.3 0.3-1 0.4 5.5 0.3-1.4 0.4-5.3 0.3-3.2 0.4-0.2 0.3-2.3 0.4 6.4 0.3-1.2 0.4-2.3 0.3 4.3 0.4-1.4 0.3 0.8 0.4-0.4 0.3-2.3 0.4 0.3 0.3 4.5 0.4 4.5 0.3-10.3 0.3-2.7 0.4 2.7 0.3 3.4 0.4 4.9 0.3-4 0.4 2 0.3-4.9 0.4 3.5 0.3-1.4 0.4 2.8 0.3-1 0.4 2.6 0.3-7.6 0.4-2.9 0.3 13.5 0.4-10.6 0.3 5.5 0.4-0.7 0.3-4.4 0.4 0.7 0.3 1.4 0.4-3.3 0.3 4 0.4-1.3 0.3 1.5 0.4-1.4 0.3 2.3 0.4 0.7 0.3 2.4 0.4-4.1 0.3 3 0.4-5.3 0.3-2.4 0.4-0.7 0.3 7.2 0.4-6.4 0.3 8.6 0.4-8.2 0.3 10.1 0.4-2.1 0.3-5.6 0.4 1.7 0.3 3.3 0.4 0.9 0.3-5.3 0.4 4.8 0.3-8.9 0.3-0.3 0.4-0.1 0.3 4.7 0.4 0.2 0.3 1.3 0.4-9.6 0.3 5.6 0.4 2.6 0.3 1.5 0.4-1.9 0.3 7.4 0.4-8.5 0.3 3.5 0.4 6.8 0.3-10.6 0.4 5.1 0.3-3.4 0.4 3.9 0.3-1.5 0.4-5.7 0.3 5.3 0.4-1.4 0.3 4.8 0.4-9.6 0.3 5 0.4-3.5 0.3 5.9 0.4-4.7 0.3-0.1 0.4 5.7 0.3-2.6 0.4 2.9 0.3-5.7 0.4 1.8 0.3 2.2 0.4-10.2 0.3 6.4 0.4 1.7 0.3-2.3 0.4 0.7 0.3-4.7 0.4 6.1 0.3-6.6 0.4 8.4 0.3-0.3 0.4 0.2 0.3-1.2 0.4-5.4 0.3 4.5 0.3 5.6 0.4-2.9 0.3 0 0.4-4.7 0.3 2.8 0.4-2.2 0.3-5.5 0.4 7.4 0.3-2.5 0.4-2.1 0.3-10.8 0.4-1.2 0.3-9.2 0.4-2.9 0.3-2.6 0.4 0.9 0.3 3 0.4 3.4 0.3 0.7 0.4 4.7 0.3 3.2 0.4 0.4 0.3 1 0.4 3.4 0.3 0.1 0.4 0.9 0.3 3.7 0.4-10.6 0.3 5.3 0.4-0.2 0.3-0.1 0.4 10.6 0.3-5.1 0.4 1.4 0.3 1.8 0.4 1.8 0.3-1.2 0.4 5.8 0.3-1.9 0.4-4.8 0.3 6.1 0.4-3.9 0.3-1.9 0.4 1.5 0.3-0.6 0.4 4.2 0.3 3.1 " fill="none" stroke="#141414" stroke-width="0.55" stroke-opacity="0.9" stroke-linejoin="round"/>
<path d="M150.0 607.6l0.3-8.2 0.4 3.9 0.3 2 0.4-1.1 0.3-1.5 0.4 3.7 0.3-4 0.4-1.3 0.3 7.4 0.4-4.7 0.3 6.2 0.4-3.8 0.3-6.7 0.4 0.2 0.3-3.4 0.4 8.5 0.3-4.6 0.4-0.2 0.3-4.4 0.4 2.1 0.3 2.5 0.4 2 0.3 3 0.4-3.2 0.3 2.9 0.4-2.9 0.3 1.8 0.4-1.6 0.3 3.1 0.4 0.7 0.3 0.8 0.4-4.7 0.3 5.8 0.4-10.8 0.3 4.4 0.4 4.4 0.3-3.8 0.4 6.6 0.3-2.4 0.4 3.2 0.3-4.8 0.4-0.7 0.3-1.4 0.4 2.1 0.3-4.9 0.4 3 0.3-1.6 0.3-2.1 0.4 1.5 0.3 5.7 0.4-5.8 0.3 5.4 0.4-6.9 0.3 3.5 0.4 0 0.3 5.2 0.4-6.5 0.3 2.6 0.4-2.9 0.3 2.6 0.4 1.7 0.3-3.8 0.4 0.6 0.3 4.7 0.4-0.6 0.3-1.5 0.4-0.3 0.3 0.3 0.4-3.2 0.3 1.7 0.4 1.5 0.3-3.9 0.4-2.8 0.3 6.3 0.4 0.6 0.3-2 0.4-5.7 0.3 12.6 0.4-6.1 0.3-4.3 0.4 4.9 0.3-5.5 0.4 2 0.3 4.1 0.4-2.1 0.3-0.9 0.4 4.8 0.3-4.4 0.4-0.1 0.3 2.4 0.4-1.3 0.3 0.9 0.4-2.7 0.3 5.6 0.4-5.5 0.3 3.5 0.3-4.7 0.4-1.7 0.3 1.6 0.4 3.5 0.3 0 0.4 2.1 0.3 0 0.4 2.4 0.3 1.5 0.4-6.6 0.3-1.9 0.4-4.1 0.3-1.2 0.4 12.2 0.3-0.6 0.4-4.7 0.3-1.5 0.4 1.1 0.3 0.8 0.4 3.6 0.3-10.1 0.4 10 0.3-2.3 0.4 1 0.3 2.7 0.4-7.3 0.3-1.3 0.4 4.2 0.3 2.5 0.4-2.4 0.3-1.5 0.4-2.4 0.3 3.1 0.4-0.4 0.3 0.7 0.4 7.7 0.3-3.8 0.4-4 0.3 2.7 0.4 0.2 0.3-3.5 0.4 0.3 0.3-0.6 0.4 4.1 0.3 0.2 0.4-1.5 0.3-5.1 0.3 7.1 0.4-1.4 0.3-3.1 0.4-1.6 0.3 3.3 0.4 2.4 0.3-4.6 0.4 4.8 0.3-1.9 0.4 1.6 0.3-7.8 0.4 0.9 0.3 8 0.4-0.5 0.3-3.3 0.4-1.3 0.3-1.4 0.4 6.1 0.3 5.2 0.4-3.4 0.3-2.9 0.4 4.8 0.3-2.6 0.4 4.3 0.3 2.6 0.4-2.2 0.3-3.4 0.4 2 0.3 4.6 0.4 1.4 0.3-5.2 0.4 6.6 0.3-1.2 0.4-6.7 0.3 10.4 0.4-4.7 0.3 3 0.4-1.4 0.3-4.9 0.4 4.2 0.3 1.2 0.4-1.5 0.3-1.1 0.4-3.1 0.3-7.8 0.4 8.6 0.3-1 0.4-1.1 0.3 4.9 0.3-10.3 0.4 2.1 0.3 6.4 0.4-2.3 0.3-0.8 0.4 2 0.3-7.1 0.4 5.3 0.3 2.3 0.4-6.3 0.3 1.5 0.4-0.8 0.3 4.2 0.4-0.5 0.3-2.2 0.4-1.5 0.3-1.2 0.4-2.9 0.3-3 0.4 3.4 0.3-2.2 0.4-3.4 0.3 7 0.4-0.1 0.3 3.4 0.4-3.6 0.3-1.7 0.4 0.3 0.3-0.3 0.4 2.6 0.3-2.3 0.4-2.1 0.3-1.1 0.4 12.8 0.3-6 0.4-5.4 0.3 1.9 0.4-3.2 0.3 1.4 0.4-1.1 0.3 2.4 0.4 0.5 0.3 0.5 0.4 3.4 0.3-2.9 0.4 5.5 0.3-0.5 " fill="none" stroke="#141414" stroke-width="0.55" stroke-opacity="0.9" stroke-linejoin="round"/>
<path d="M150.0 601.2l0.3-2 0.4 3.7 0.3 6.3 0.4-2.9 0.3-3.5 0.4-0.7 0.3-5 0.4 7.7 0.3 0.7 0.4 4.6 0.3-12.5 0.4 3.1 0.3 4 0.4 5.9 0.3-8.9 0.4 6.7 0.3-1.8 0.4 1.8 0.3-0.7 0.4-0.6 0.3 0.9 0.4-9.1 0.3 2.7 0.4 0.2 0.3 3.8 0.4-3.1 0.3 5.4 0.4-4.3 0.3 4.4 0.4-1.5 0.3-2.8 0.4 3 0.3 1.5 0.4-7.9 0.3 7.6 0.4-1.2 0.3-0.5 0.4-0.9 0.3-1.5 0.4 9.5 0.3-9 0.4-6 0.3 3.1 0.4 1.3 0.3 1.6 0.4-1.6 0.3 3.3 0.3 4 0.4-4.4 0.3-2.9 0.4 2.1 0.3-2.5 0.4-3.6 0.3 3.5 0.4-2.7 0.3 3.7 0.4 5.6 0.3-5.5 0.4 0.4 0.3 3.2 0.4-1.8 0.3-0.9 0.4 9.1 0.3-16.4 0.4 4.5 0.3 2.3 0.4 1.1 0.3 1.2 0.4-12.6 0.3 12.2 0.4-0.2 0.3 3.8 0.4-1.6 0.3-5.8 0.4 3.7 0.3-2.4 0.4 3 0.3-0.7 0.4-0.1 0.3 1.8 0.4-5.4 0.3 2.2 0.4-1.8 0.3-1.1 0.4 3.9 0.3-1.4 0.4 10.4 0.3-3.3 0.4 2.7 0.3-12.8 0.4 1 0.3 1.8 0.4-2.1 0.3 6.6 0.4-2.9 0.3-3.5 0.3 2.9 0.4-5.1 0.3 7.2 0.4-2.4 0.3 1.7 0.4-1 0.3-1.9 0.4 0.3 0.3-4.4 0.4 5 0.3-2.7 0.4 5.4 0.3-3.5 0.4 5 0.3-5.6 0.4 1.8 0.3 0.8 0.4 0.6 0.3 1.8 0.4 0.8 0.3-1.8 0.4 0.6 0.3-4.1 0.4 3.1 0.3 3.8 0.4-1.7 0.3-6.8 0.4-2.3 0.3 2.4 0.4-6.1 0.3 9 0.4-2.7 0.3 6.5 0.4-7.9 0.3 3.9 0.4-2.8 0.3 0 0.4 3.7 0.3 0 0.4 7.8 0.3-8.3 0.4 0 0.3-4.8 0.4 1.4 0.3 3.8 0.4 4.6 0.3 0.5 0.3-5.7 0.4-0.7 0.3-2.1 0.4 3.5 0.3-1.5 0.4 2.2 0.3-2.3 0.4 4 0.3-1.9 0.4 4.7 0.3-3.5 0.4 0.4 0.3 1.4 0.4-6.4 0.3 3.6 0.4-10.5 0.3 7.1 0.4 1 0.3-0.2 0.4 0.5 0.3 0.6 0.4-2.8 0.3 3.6 0.4-1.6 0.3 2.3 0.4-4.6 0.3 0.2 0.4 6.3 0.3-8.4 0.4 2.7 0.3 0 0.4 0.2 0.3 1.1 0.4-0.6 0.3-6.5 0.4 9.1 0.3 0.5 0.4-1.5 0.3-2.5 0.4-3.1 0.3 6.6 0.4 1.8 0.3 3.1 0.4-3.1 0.3-2.9 0.4 0.4 0.3-5.5 0.4 1.2 0.3 0.6 0.3 7.8 0.4-3.4 0.3-0.1 0.4-3.7 0.3 3.2 0.4 3.4 0.3-4.6 0.4-1.1 0.3-1.2 0.4 4.3 0.3 0.3 0.4-4.8 0.3 3.8 0.4-3.2 0.3 5.9 0.4-1.5 0.3-1.6 0.4-0.3 0.3-3.6 0.4 8.6 0.3-3.9 0.4 7.9 0.3-9.1 0.4 3.2 0.3-6.8 0.4-2.9 0.3 8.7 0.4-0.6 0.3 2.8 0.4-1.7 0.3-0.2 0.4 0.3 0.3-4.2 0.4 0.7 0.3-0.2 0.4 5 0.3-2.2 0.4 3.9 0.3-4.1 0.4 5.9 0.3-8 0.4 4.3 0.3 5.8 0.4 2.8 0.3 4.4 0.4-5.9 0.3-1.5 " fill="none" stroke="#141414" stroke-width="0.55" stroke-opacity="0.9" stroke-linejoin="round"/>
<path d="M150.0 602.3l0.3-0.1 0.4-1.9 0.3 3.7 0.4 0.9 0.3 4.1 0.4-8.3 0.3 1.8 0.4 3.6 0.3 1.8 0.4-3.4 0.3-1.4 0.4-2.5 0.3-0.6 0.4 3.5 0.3 0.6 0.4 2.6 0.3-3.5 0.4 1.6 0.3-3.5 0.4 1.1 0.3 1 0.4 5.3 0.3-6.7 0.4 3.7 0.3 0.5 0.4-2.1 0.3 0.3 0.4 1.5 0.3-2.9 0.4-0.3 0.3-5 0.4 4.8 0.3-3.1 0.4 11.8 0.3-10.5 0.4 2.5 0.3-3.2 0.4 4.4 0.3-2.7 0.4-0.2 0.3 1.9 0.4 0.6 0.3 8.7 0.4-8.6 0.3 2.2 0.4-0.5 0.3-3.3 0.3 0.6 0.4-0.3 0.3 5.3 0.4-2.5 0.3 0.7 0.4-3.6 0.3 1.3 0.4 1.1 0.3-2.5 0.4-4.2 0.3 8.5 0.4-7.8 0.3 3.1 0.4 6.1 0.3-6.4 0.4-4.7 0.3 6.5 0.4 5.8 0.3-3.1 0.4 1.2 0.3-12.4 0.4 8.2 0.3 9.1 0.4-11.4 0.3 0.7 0.4 5 0.3-1 0.4-1.8 0.3-4.7 0.4 7.7 0.3 0.9 0.4-6.8 0.3 5.3 0.4 1.8 0.3-1.4 0.4-4.3 0.3-0.9 0.4 1.2 0.3-6.2 0.4 1.6 0.3 7.5 0.4-2.2 0.3-0.4 0.4-0.2 0.3 1.3 0.4-0.2 0.3-3.7 0.4-2.4 0.3 4.1 0.3 3.9 0.4-5.4 0.3-0.3 0.4 3.4 0.3 0.1 0.4-3.9 0.3 3.8 0.4 2.5 0.3-1.2 0.4-4.7 0.3 1.7 0.4-2.2 0.3 3 0.4-1.8 0.3-1.9 0.4 4.6 0.3 0.5 0.4-4.3 0.3 7.1 0.4 3 0.3-2.4 0.4-7.6 0.3 3.6 0.4-4.9 0.3 4 0.4-1 0.3-2.1 0.4 5.9 0.3-4.4 0.4 1.6 0.3 0.3 0.4-2.2 0.3 3.1 0.4 0.6 0.3 1.8 0.4-4.2 0.3 1.4 0.4-1.4 0.3-1 0.4 4.7 0.3 1 0.4-6.7 0.3 6.3 0.4-8.7 0.3 4.4 0.4-1.3 0.3-0.4 0.3 2.4 0.4 0.7 0.3 0.3 0.4 4.8 0.3-1.1 0.4-7.4 0.3 3.7 0.4 0.5 0.3-0.1 0.4-1 0.3 4.3 0.4-3.4 0.3 4.6 0.4 4.2 0.3 0.4 0.4 0 0.3-2.6 0.4 7 0.3-6.7 0.4 2.3 0.3-5.5 0.4-0.1 0.3-2.4 0.4 1.8 0.3 3.5 0.4 3.4 0.3-9.1 0.4 5.6 0.3-5.9 0.4-6.9 0.3 4.3 0.4 3.1 0.3 2.5 0.4-2.2 0.3-0.2 0.4-7.6 0.3 0.7 0.4 1.1 0.3 2.1 0.4 3.5 0.3 1.1 0.4-2.9 0.3-3.4 0.4-0.7 0.3 3.9 0.4 2.6 0.3-5.3 0.4 5.7 0.3-4 0.3 3.9 0.4-3.4 0.3 8.9 0.4-3.7 0.3 5 0.4-13 0.3 4.7 0.4 5.1 0.3-7.9 0.4 1.5 0.3-2.5 0.4 7.3 0.3-6.2 0.4-3.6 0.3 1.1 0.4 3 0.3 4 0.4 1.8 0.3-8 0.4 5 0.3-0.3 0.4-1.8 0.3 1.9 0.4-4.9 0.3 7.7 0.4-10.5 0.3 10.1 0.4-2.2 0.3-0.7 0.4-6.4 0.3 1.1 0.4 0.9 0.3-0.7 0.4-4.2 0.3 7 0.4-1 0.3 0.8 0.4 3.8 0.3 0.4 0.4-1.2 0.3-4 0.4 4.2 0.3 2.2 0.4-0.7 0.3 1.4 0.4-12.3 0.3 2.3 " fill="none" stroke="#141414" stroke-width="0.55" stroke-opacity="0.9" stroke-linejoin="round"/>
<path d="M150.0 602.2l0.3 0.9 0.4-0.4 0.3-1.4 0.4 1.9 0.3-0.5 0.4 3.9 0.3-1.8 0.4-5.2 0.3 3 0.4 1.2 0.3-1.1 0.4-2 0.3 0.3 0.4 0.3 0.3 4.7 0.4-2 0.3 0.2 0.4-0.3 0.3-4 0.4 0.8 0.3 3.9 0.4-3.8 0.3 0.7 0.4-1.5 0.3 0.1 0.4 7 0.3-0.9 0.4 0.7 0.3-6.5 0.4 5.1 0.3-3 0.4 3.3 0.3-2.4 0.4 6.1 0.3-7.5 0.4 0.8 0.3-1.6 0.4-6.6 0.3 8.8 0.4-1.9 0.3 2.7 0.4-4.5 0.3-1.5 0.4 0.9 0.3 4.4 0.4 4.8 0.3-4.2 0.3 7.4 0.4-1.6 0.3-2 0.4 0 0.3-4.3 0.4 2.5 0.3 1.4 0.4-4.6 0.3 2.5 0.4-4.8 0.3 2.3 0.4 2.1 0.3-4.8 0.4 4.6 0.3 1.2 0.4-4 0.3 7.7 0.4-8 0.3-3.6 0.4 13 0.3-15.6 0.4 12.5 0.3-1.2 0.4 3 0.3-3.6 0.4-0.6 0.3 1.8 0.4-4.9 0.3-2.1 0.4 5.9 0.3-1.2 0.4 0.2 0.3-1.6 0.4 2.2 0.3-6.1 0.4-3 0.3 2.5 0.4 3.8 0.3 1.2 0.4-1 0.3 5.3 0.4-3.1 0.3-0.4 0.4 0 0.3 1 0.4-5.5 0.3 1.3 0.4 3.5 0.3-9.7 0.3 6.1 0.4 0.7 0.3-5.4 0.4 3.9 0.3 5.5 0.4-6.9 0.3 0 0.4-0.3 0.3 7.9 0.4-6.1 0.3 2.8 0.4-5.8 0.3 7.3 0.4 0 0.3 3.7 0.4-3.6 0.3-5.7 0.4 3.7 0.3 2.8 0.4-6.3 0.3 2.5 0.4-2.3 0.3-0.5 0.4 1.6 0.3-1.8 0.4 1 0.3-1.7 0.4 1.7 0.3-1.7 0.4 5.4 0.3 2.7 0.4-8.6 0.3 2 0.4-0.3 0.3 6.5 0.4-4.3 0.3 4.5 0.4-2.1 0.3 0.6 0.4 0 0.3-2 0.4 0.5 0.3-1.7 0.4-1.5 0.3-1.5 0.4 2.9 0.3-0.3 0.3 1.8 0.4-1.5 0.3-3 0.4 6.7 0.3-5.4 0.4 0.3 0.3-2.3 0.4 12 0.3-4 0.4 2.4 0.3-11.3 0.4 4.6 0.3-1.6 0.4 2.3 0.3-1.9 0.4 1.4 0.3 4 0.4 4.4 0.3-9.8 0.4-1.3 0.3 3.3 0.4 0.4 0.3-4.7 0.4 7.2 0.3 2.1 0.4-5.1 0.3-2.5 0.4 8.5 0.3-0.4 0.4-1.3 0.3-5.6 0.4-2.3 0.3-3 0.4 6.5 0.3 1.6 0.4 1.1 0.3-6.6 0.4 7.2 0.3 4.7 0.4-1.4 0.3-0.8 0.4-5.7 0.3 4.6 0.4-8.8 0.3 1 0.4 8.8 0.3-2.9 0.4 3.2 0.3-4.5 0.3 1.4 0.4-4 0.3-1.8 0.4 1.3 0.3 6.1 0.4 3.1 0.3-0.4 0.4-7.8 0.3 6.7 0.4-2.1 0.3-6.2 0.4 3 0.3-2.9 0.4 2.2 0.3-0.8 0.4 4.8 0.3-3.1 0.4-2 0.3-0.7 0.4 5.2 0.3-2.1 0.4-2.5 0.3 2.6 0.4-3 0.3 1.1 0.4 1.9 0.3 2.3 0.4 0.2 0.3 2 0.4-5.3 0.3 2.4 0.4-1 0.3-2.7 0.4 3.8 0.3-0.6 0.4-0.1 0.3-4.7 0.4-2.2 0.3 6.1 0.4 2.6 0.3 0.7 0.4-6.9 0.3 2.4 0.4 2.3 0.3 8.1 0.4-4.1 0.3 0.1 " fill="none" stroke="#141414" stroke-width="0.55" stroke-opacity="0.9" stroke-linejoin="round"/>
<path d="M150.0 601.2l0.3 9 0.4-3.5 0.3 4.8 0.4-6 0.3-2.9 0.4-0.9 0.3 3.7 0.4 3.5 0.3-0.9 0.4-2.4 0.3-2.9 0.4-6.7 0.3 0.5 0.4 4.1 0.3 1.7 0.4 1.3 0.3-1.2 0.4 2.5 0.3-3.9 0.4 8.1 0.3-1.5 0.4-1 0.3-6.2 0.4-4.1 0.3 3.3 0.4 3.8 0.3 1.5 0.4-0.7 0.3-0.5 0.4-6.8 0.3-1.3 0.4 6.3 0.3 0.5 0.4 3.6 0.3-8.2 0.4 9.4 0.3-2.1 0.4-9.1 0.3 8.4 0.4 3 0.3 2.3 0.4-9.9 0.3-0.4 0.4 2.6 0.3 7.5 0.4-5.5 0.3 1.2 0.3-4.5 0.4-2 0.3 4.7 0.4-0.2 0.3-3.8 0.4 0.4 0.3 7.9 0.4-2.9 0.3 3.6 0.4-2.3 0.3-8.2 0.4 7.6 0.3-1.2 0.4-4.3 0.3 2.5 0.4 5 0.3-4.5 0.4-0.9 0.3 4.6 0.4-6 0.3 7.4 0.4-2.6 0.3-3 0.4 1.2 0.3 5 0.4-4.7 0.3-0.3 0.4 1.6 0.3-4.2 0.4 0.5 0.3-1.4 0.4 4.2 0.3 1.1 0.4-5.7 0.3 10.5 0.4-10.3 0.3 3.8 0.4 2.1 0.3-1.6 0.4-0.9 0.3 7.2 0.4-5.2 0.3-1.5 0.4 1.1 0.3-2.7 0.4-6.1 0.3 5.5 0.4 2.2 0.3 3.9 0.3 0.8 0.4-7 0.3 2.9 0.4-3.9 0.3 1.1 0.4 1.8 0.3-5.2 0.4 1.8 0.3-2.9 0.4 7.9 0.3-5.3 0.4 0.6 0.3 7.8 0.4-0.8 0.3-1.5 0.4-6.7 0.3 1.2 0.4 3.8 0.3-4 0.4 6.2 0.3-1 0.4 0.2 0.3 1.8 0.4-7.9 0.3 4.3 0.4 7.9 0.3-4.4 0.4-5 0.3 9.9 0.4-9.7 0.3 1.3 0.4 3.6 0.3-4.3 0.4 3.6 0.3 1.9 0.4-3.8 0.3 2.4 0.4 4.4 0.3-5.9 0.4-2.9 0.3 6.2 0.4-5.9 0.3 3.8 0.4-4.1 0.3-1.5 0.4 4.8 0.3-2 0.3 0.4 0.4-0.7 0.3 0 0.4-3.3 0.3 1.2 0.4-2.2 0.3-2.3 0.4 6.8 0.3-4.3 0.4 0.9 0.3-2.4 0.4 8.2 0.3-4.3 0.4-1.1 0.3-0.1 0.4-2.9 0.3 4.6 0.4-3.1 0.3 4.3 0.4-1.7 0.3 2.2 0.4 0.7 0.3-6 0.4 7 0.3-2.8 0.4 0.4 0.3 2.5 0.4-1.6 0.3-0.6 0.4 0.8 0.3-2.5 0.4-0.1 0.3-2.8 0.4 3.6 0.3-2.7 0.4 5.1 0.3-3.6 0.4 7 0.3-2.5 0.4 1.7 0.3-7.4 0.4 8.8 0.3-6.5 0.4 1.6 0.3-3.3 0.4 5.9 0.3 0.3 0.4-4.8 0.3 4.2 0.3-1.5 0.4-4.9 0.3 9.2 0.4-8 0.3 0.8 0.4-0.2 0.3 6.9 0.4 0.9 0.3-2.2 0.4-1.4 0.3-6.6 0.4 4.8 0.3-5.7 0.4 4.4 0.3-3 0.4 5.5 0.3 0.5 0.4-2.1 0.3-2.4 0.4 4.1 0.3-6.4 0.4 5.4 0.3-4.5 0.4 7.9 0.3-3 0.4-3.9 0.3 5.3 0.4 0.7 0.3-3.7 0.4-2.6 0.3 2.9 0.4-3.3 0.3 1.4 0.4 2.7 0.3-3.6 0.4 4.7 0.3 1.2 0.4-7.3 0.3 6.3 0.4-0.5 0.3 1.5 0.4-0.8 0.3-2.4 0.4 0.8 0.3 2 0.4-0.1 0.3-3.7 " fill="none" stroke="#141414" stroke-width="0.55" stroke-opacity="0.9" stroke-linejoin="round"/>
<path d="M150.0 600.4l0.3 0.2 0.4-0.4 0.3 1.4 0.4 1.5 0.3-1 0.4-0.1 0.3-0.2 0.4-0.2 0.3 1.9 0.4 0.9 0.3-1.7 0.4-1.9 0.3-0.8 0.4 1 0.3 1.5 0.4 1.1 0.3 0.6 0.4 0 0.3-1 0.4-0.8 0.3 1.7 0.4 0.7 0.3-1.1 0.4-1.1 0.3 0.7 0.4 0.9 0.3 0.8 0.4 0.9 0.3-0.5 0.4-0.3 0.3-0.9 0.4-0.1 0.3 0.7 0.4 0.7 0.3-0.5 0.4 0 0.3 0.3 0.4-1.3 0.3 0.6 0.4 2 0.3 0.9 0.4-2 0.3-0.8 0.4 0.8 0.3 1.3 0.4 1.3 0.3-1.3 0.3-0.9 0.4-0.1 0.3 0.8 0.4 0.9 0.3-1 0.4-1.4 0.3 0.4 0.4 0.2 0.3 0.8 0.4 0.4 0.3-1.5 0.4 0.1 0.3 0.1 0.4 0.2 0.3-0.4 0.4 0.3 0.3 0 0.4-0.1 0.3-0.3 0.4 0.3 0.3-0.1 0.4-1.8 0.3 1.3 0.4 0.9 0.3-0.2 0.4 0.3 0.3 0.2 0.4-0.3 0.3-2.1 0.4-0.2 0.3 2.1 0.4 0.5 0.3-0.2 0.4-0.6 0.3-1 0.4-1.8 0.3-1 0.4 1.7 0.3 0.4 0.4 0.1 0.3 2.5 0.4 0.5 0.3-1.8 0.4-1 0.3 0 0.4-1.4 0.3 0.3 0.4 1.5 0.3-1 0.3-0.5 0.4-0.8 0.3-0.6 0.4 1.5 0.3 1.2 0.4-0.2 0.3-1.2 0.4 0.2 0.3 0.8 0.4-0.2 0.3-0.7 0.4-0.8 0.3 0.2 0.4 1.4 0.3 1.6 0.4-1 0.3-1.5 0.4 0.4 0.3 0.7 0.4 1 0.3-0.3 0.4-1.2 0.3 0.1 0.4-0.5 0.3 0.5 0.4 1 0.3-1.4 0.4-0.7 0.3 1.3 0.4-0.3 0.3-0.1 0.4-0.2 0.3-0.8 0.4 0.2 0.3 1.4 0.4 0.7 0.3-0.1 0.4 0.5 0.3-0.1 0.4 1.2 0.3-0.4 0.4-1.8 0.3-0.3 0.4-0.2 0.3-0.7 0.4 1.2 0.3-0.1 0.3-0.9 0.4 0.2 0.3-0.6 0.4 0.6 0.3 0.7 0.4-1.4 0.3-1.4 0.4 2.4 0.3 1.7 0.4-0.4 0.3-0.5 0.4-1 0.3 1.2 0.4 1.4 0.3-0.5 0.4-1.7 0.3 0 0.4 2.3 0.3 0.9 0.4-1.5 0.3-0.5 0.4 0.4 0.3-0.5 0.4 0.1 0.3 1.8 0.4 0.1 0.3-1.5 0.4 0.8 0.3 0.5 0.4-0.7 0.3-0.8 0.4-0.1 0.3 0.1 0.4-0.6 0.3 0.6 0.4-0.2 0.3-0.6 0.4 1.2 0.3 0.8 0.4 0 0.3 0.1 0.4 0.2 0.3-0.3 0.4-1.4 0.3-1.3 0.4 1.5 0.3 0.8 0.4-1.4 0.3 0.3 0.3 1.1 0.4-0.9 0.3 0.5 0.4 0 0.3-0.3 0.4 0.8 0.3-1.2 0.4 0.3 0.3 0.4 0.4-1 0.3-2.6 0.4-1.4 0.3-0.7 0.4-1.6 0.3-0.5 0.4 0.8 0.3 1 0.4-0.1 0.3-1.6 0.4 1.2 0.3 1.5 0.4-0.4 0.3 0.4 0.4 0.4 0.3 0.8 0.4-1.3 0.3 0.9 0.4 1.3 0.3-0.5 0.4-0.6 0.3-0.8 0.4 0.8 0.3-0.5 0.4 0.4 0.3 1.4 0.4 0.3 0.3 0.1 0.4-0.2 0.3 0.8 0.4 0.8 0.3 0 0.4-0.3 0.3 0.4 0.4 1.4 0.3 1.9 0.4 0.1 0.3-1.1 " fill="none" stroke="#1a8582" stroke-width="2.8" stroke-linejoin="round" stroke-linecap="round"/>
<text x="192.30" y="523.00" font-size="13.5" fill="#111" text-anchor="middle" font-weight="bold" >Trials 30 - 35</text>
<text x="46.30" y="293.40" font-size="13" fill="#5f5f5f" text-anchor="end" textLength="25.7" lengthAdjust="spacingAndGlyphs" >0.06</text>
<text x="46.30" y="317.90" font-size="13" fill="#5f5f5f" text-anchor="end" textLength="25.7" lengthAdjust="spacingAndGlyphs" >0.04</text>
<text x="46.30" y="342.40" font-size="13" fill="#5f5f5f" text-anchor="end" textLength="25.7" lengthAdjust="spacingAndGlyphs" >0.02</text>
<text x="39.60" y="366.90" font-size="13" fill="#5f5f5f" text-anchor="end" >0</text>
<text x="46.30" y="413.60" font-size="13" fill="#5f5f5f" text-anchor="end" textLength="25.7" lengthAdjust="spacingAndGlyphs" >0.06</text>
<text x="46.30" y="438.10" font-size="13" fill="#5f5f5f" text-anchor="end" textLength="25.7" lengthAdjust="spacingAndGlyphs" >0.04</text>
<text x="46.30" y="462.60" font-size="13" fill="#5f5f5f" text-anchor="end" textLength="25.7" lengthAdjust="spacingAndGlyphs" >0.02</text>
<text x="39.60" y="487.10" font-size="13" fill="#5f5f5f" text-anchor="end" >0</text>
<text x="46.30" y="534.50" font-size="13" fill="#5f5f5f" text-anchor="end" textLength="25.7" lengthAdjust="spacingAndGlyphs" >0.06</text>
<text x="46.30" y="559.00" font-size="13" fill="#5f5f5f" text-anchor="end" textLength="25.7" lengthAdjust="spacingAndGlyphs" >0.04</text>
<text x="46.30" y="583.50" font-size="13" fill="#5f5f5f" text-anchor="end" textLength="25.7" lengthAdjust="spacingAndGlyphs" >0.02</text>
<text x="39.60" y="608.00" font-size="13" fill="#5f5f5f" text-anchor="end" >0</text>
<text x="8.50" y="454.50" font-size="13" fill="#666" text-anchor="middle" textLength="30" lengthAdjust="spacingAndGlyphs" transform="rotate(-90 8.50 454.50)" >DF/F</text>
<text x="53.20" y="636.80" font-size="13.5" fill="#5f5f5f" text-anchor="middle" >0</text>
<text x="95.10" y="636.80" font-size="13.5" fill="#5f5f5f" text-anchor="middle" >5</text>
<text x="138.20" y="636.80" font-size="13.5" fill="#5f5f5f" text-anchor="middle" >10</text>
<text x="151.20" y="636.80" font-size="13.5" fill="#5f5f5f" text-anchor="middle" >0</text>
<text x="192.90" y="636.80" font-size="13.5" fill="#5f5f5f" text-anchor="middle" >5</text>
<text x="235.80" y="636.80" font-size="13.5" fill="#5f5f5f" text-anchor="middle" >10</text>
<text x="162.00" y="656.00" font-size="16" fill="#666" text-anchor="middle" textLength="60" lengthAdjust="spacingAndGlyphs" >Time (s)</text>
<line x1="296.50" y1="284.20" x2="296.50" y2="382.00" stroke="#474747" stroke-width="2.5" />
<line x1="295.30" y1="380.80" x2="379.00" y2="380.80" stroke="#474747" stroke-width="2.5" />
<line x1="294.50" y1="305.60" x2="296.50" y2="305.60" stroke="#474747" stroke-width="1" />
<line x1="294.50" y1="334.60" x2="296.50" y2="334.60" stroke="#474747" stroke-width="1" />
<line x1="294.50" y1="363.60" x2="296.50" y2="363.60" stroke="#474747" stroke-width="1" />
<line x1="337.75" y1="380.80" x2="337.75" y2="383.20" stroke="#474747" stroke-width="1.2" />
<line x1="379.00" y1="380.80" x2="379.00" y2="383.20" stroke="#474747" stroke-width="1.2" />
<path d="M296.5 345.8l0.6 0.8 0.5 0.4 0.6-0.1 0.5 1.9 0.6 2.4 0.5 0.7 0.6 1.5 0.5 0.6 0.6 0.2 0.5 0.5 0.6 1.5 0.5 0 0.6-0.1 0.6 1 0.5-0.3 0.6 0.9 0.5 0.8 0.6-0.4 0.5 0.4 0.6 0.7 0.5 0.2 0.6-0.6 0.5 1 0.6 1.1 0.5-0.4 0.6-0.1 0.5 0.6 0.6 0.3 0.6-0.4 0.5-0.1 0.6 0.5 0.5 1.1 0.6-0.8 0.5-0.4 0.6 0.3 0.5 0.5 0.6 0.9 0.5 0.9 0.6 0.8 0.5-0.8 0.6-0.6 0.6 0.2 0.5-0.3 0.6-0.5 0.5 0.7 0.6 0.1 0.5-0.1 0.6 0.6 0.5 0 0.6-1 0.5-1.6 0.6 2.4 0.5 0.4 0.6-0.5 0.6 0.7 0.5 0.1 0.6 0.9 0.5 0.4 0.6 0.3 0.5-0.1 0.6 0.8 0.5 0.6 0.6 0.1 0.5-1.4 0.6 0 0.5-0.9 0.6 0.2 0.6 0.4 0.5-1 0.6 1.5 0.5 0.4 0.6-0.6 0.5 1.4 0.6-1.1 0.5-1.5 0.6 1.2 0.5-0.3 0.6-0.7 0.5 0.9 0.6-0.6 0.5 0 0.6 1.3 0.6-0.3 0.5-0.5 0.6 0.7 0.5 0.6 0.6 0.4 0.5-0.3 0.6 0.5 0.5 0.1 0.6-1.3 0.5 0.7 0.6 0.6 0.5 0.6 0.6-0.5 0.6-0.7 0.5-1.1 0.6 0.8 0.5-0.7 0.6-0.2 0.5 1.6 0.6-1.6 0.5-0.6 0.6 0.8 0.5 0 0.6 0.1 0.5 0.2 0.6-0.4 0.6-0.4 0.5 0.7 0.6 2.5 0.5 0.1 0.6-0.8 0.5-0.2 0.6 0.2 0.5-0.1 0.6-1 0.5 0.1 0.6 1 0.5-0.7 0.6-0.2 0.6 1.2 0.5-0.3 0.6 0.3 0.5-0.6 0.6-0.3 0.5-0.4 0.6-1 0.5 0.7 0.6 0.6 0.5-0.9 0.6-0.2 0.5-0.8 0.6 0.2 0.5 0.8 0.6 0.2 0.6 0.9 0.5-0.6 0.6 0.8 0.5 0.4 0.6-0.3 0.5 0.7 0.6-0.3 0.5 0 0.6 0.2 0.5-0.3 0.6 0.1 0.5 1.4 0.6-0.9 " fill="none" stroke="#151515" stroke-width="0.7" stroke-opacity="0.9" stroke-linejoin="round"/>
<path d="M296.5 362.6l0.6-0.3 0.5-1.3 0.6-1.1 0.5 1.7 0.6 2 0.5-0.1 0.6-0.5 0.5-0.1 0.6 0.5 0.5-0.2 0.6-0.3 0.5 0.1 0.6 0.7 0.6-0.3 0.5 0 0.6 0.2 0.5-0.3 0.6 0.4 0.5 0.1 0.6 0.1 0.5 0.2 0.6 0.1 0.5 0.3 0.6 0 0.5-1.3 0.6-0.3 0.5 1.3 0.6 0.9 0.6-0.5 0.5-1.3 0.6 0.3 0.5-0.8 0.6 1.2 0.5 0.5 0.6-1.1 0.5-1.5 0.6 0.3 0.5 0.9 0.6-0.1 0.5 0.8 0.6-0.4 0.6 0.8 0.5 0.3 0.6 0.1 0.5-0.8 0.6-0.3 0.5 0.6 0.6 1.6 0.5-0.5 0.6-0.4 0.5 0.6 0.6 0 0.5 1.3 0.6 0.1 0.6 0 0.5-0.5 0.6 0.7 0.5 0.3 0.6-0.7 0.5 0.1 0.6-0.2 0.5-0.1 0.6-0.4 0.5-0.2 0.6-2.1 0.5-0.4 0.6 1.7 0.6 0.5 0.5 0.2 0.6 0.3 0.5 0.6 0.6-0.7 0.5-1.2 0.6-2.8 0.5-3.3 0.6-4.7 0.5 2.2 0.6 1.5 0.5-0.1 0.6 1 0.5 0.9 0.6-0.6 0.6 1.2 0.5 1.1 0.6-0.1 0.5 3.1 0.6 2 0.5-1.3 0.6 0.1 0.5 1 0.6-1 0.5-0.8 0.6 1.5 0.5 0.3 0.6-0.5 0.6 0.7 0.5 0.5 0.6 0.3 0.5-0.7 0.6 0.5 0.5 0.8 0.6-0.6 0.5-0.5 0.6 1.7 0.5 0.7 0.6-1.2 0.5 0.5 0.6-0.5 0.6-0.9 0.5-0.5 0.6 1.3 0.5 0.3 0.6-0.7 0.5-1 0.6 0.7 0.5 0.7 0.6-0.2 0.5 0.5 0.6 1.3 0.5-0.5 0.6-1.5 0.6 0.7 0.5 0.8 0.6 0.2 0.5-1.5 0.6 1 0.5 1.3 0.6-0.7 0.5-0.9 0.6 0.2 0.5 0.4 0.6-0.4 0.5-0.4 0.6 2.5 0.5 0.5 0.6-2.7 0.6 0.8 0.5 1.7 0.6-0.3 0.5-1.7 0.6 0.1 0.5 0.1 0.6 0.1 0.5 1.3 0.6 0 0.5-1 0.6 0 0.5 0.8 0.6-0.9 " fill="none" stroke="#151515" stroke-width="0.7" stroke-opacity="0.9" stroke-linejoin="round"/>
<path d="M296.5 378.9l0.6-0.8 0.5-0.3 0.6-0.2 0.5-1 0.6-0.2 0.5 0.6 0.6 0.4 0.5-1.1 0.6-1.6 0.5 1.5 0.6 0.1 0.5-0.5 0.6 0.6 0.6-1.4 0.5-1 0.6-0.4 0.5 0.7 0.6 0.9 0.5 0.3 0.6-0.1 0.5 0.1 0.6 0.1 0.5-1.6 0.6-0.9 0.5 0.3 0.6 0 0.5-0.3 0.6 0 0.6 0.5 0.5-0.7 0.6-1.1 0.5-0.4 0.6 0.2 0.5-1.2 0.6 0.2 0.5 0.7 0.6-1.6 0.5-1 0.6 0 0.5 1.1 0.6-0.3 0.6-0.7 0.5 1.3 0.6 0.3 0.5-1.1 0.6 1 0.5 1.1 0.6-1.5 0.5-1.3 0.6-0.4 0.5-0.2 0.6-0.1 0.5-0.3 0.6-0.6 0.6 1.3 0.5-0.7 0.6-0.5 0.5 0.9 0.6-0.6 0.5 0.9 0.6 0.5 0.5-0.3 0.6-1 0.5-0.7 0.6-0.9 0.5 0.5 0.6-1.1 0.6-0.8 0.5-0.6 0.6 1 0.5 0.2 0.6-0.6 0.5 1 0.6-0.3 0.5 0.5 0.6 0.2 0.5 0.2 0.6-1.1 0.5 1.2 0.6 2.2 0.5-0.4 0.6-0.9 0.6-0.6 0.5 0.2 0.6-1 0.5 0.3 0.6 1.7 0.5-0.3 0.6-1.8 0.5-0.2 0.6 0.5 0.5 0.1 0.6-0.1 0.5 0 0.6 0.2 0.6 0.3 0.5-1.1 0.6-1 0.5 0.8 0.6 0.9 0.5 0.9 0.6 0 0.5 0.6 0.6 0.4 0.5 0.1 0.6-0.7 0.5 0 0.6 0.2 0.6 0.2 0.5 1 0.6-0.6 0.5-1 0.6-1 0.5 0.3 0.6 0.3 0.5-0.7 0.6-1.4 0.5-0.4 0.6 0.8 0.5 1 0.6 0.4 0.6 0.4 0.5 0.5 0.6-0.1 0.5 0.1 0.6-1 0.5-1 0.6 0.1 0.5 1 0.6 0.6 0.5-0.7 0.6-0.9 0.5 0.8 0.6 0.3 0.5-0.9 0.6 0.1 0.6 0.4 0.5 0.9 0.6 1 0.5-0.9 0.6-0.8 0.5 1.2 0.6 0.8 0.5-0.4 0.6 1.1 0.5-1.1 0.6-0.4 0.5 1.5 0.6 1.5 " fill="none" stroke="#151515" stroke-width="0.7" stroke-opacity="0.9" stroke-linejoin="round"/>
<path d="M296.5 364.8l0.6-0.4 0.5 0.4 0.6 1.1 0.5 0 0.6 0.8 0.5-0.1 0.6 0.2 0.5 1.1 0.6 0.1 0.5 1.2 0.6 0.2 0.5 0.1 0.6-0.5 0.6-1.6 0.5-0.7 0.6 0.9 0.5-0.3 0.6 0 0.5-0.7 0.6-0.8 0.5 1.2 0.6 0.2 0.5-1 0.6 0.4 0.5 0.4 0.6-0.3 0.5-0.1 0.6 0.2 0.6-1 0.5 0.1 0.6 0.8 0.5-1 0.6 0.2 0.5 0.4 0.6 0.8 0.5 1.8 0.6-0.6 0.5-0.4 0.6 1.2 0.5-1.3 0.6-0.9 0.6 0.9 0.5 0 0.6-1.2 0.5 0.5 0.6-0.8 0.5 0.2 0.6 1 0.5-1.5 0.6-0.5 0.5 0.8 0.6 0 0.5-0.3 0.6-0.8 0.6-0.5 0.5 1.1 0.6 0 0.5-0.1 0.6 1 0.5 0.3 0.6-1.2 0.5 0 0.6-0.4 0.5 0.2 0.6 1.6 0.5-0.1 0.6-0.9 0.6-0.8 0.5 0.5 0.6 0.1 0.5-0.7 0.6-0.3 0.5-0.2 0.6 1.4 0.5-0.2 0.6-1.7 0.5 0.9 0.6-0.5 0.5-0.4 0.6 0.4 0.5-0.5 0.6 1.5 0.6 0.1 0.5-0.3 0.6 0.4 0.5 0.8 0.6-0.7 0.5 0.4 0.6-0.1 0.5 0.1 0.6 0 0.5-0.1 0.6 0.6 0.5-0.5 0.6-0.1 0.6-0.2 0.5 0.2 0.6-0.6 0.5-0.8 0.6 0.8 0.5 0.1 0.6 0.4 0.5-0.6 0.6-0.1 0.5 2.1 0.6 0.1 0.5 0 0.6 0.3 0.6 0.4 0.5 0.2 0.6-0.3 0.5-0.2 0.6 0.5 0.5 0.3 0.6 0.3 0.5 0.2 0.6-0.9 0.5-0.9 0.6 1 0.5 0.1 0.6 0.5 0.6 1.4 0.5-1 0.6 0.4 0.5-1.2 0.6-1.7 0.5 1.1 0.6 0.2 0.5 2.2 0.6 0.3 0.5-0.4 0.6-1.1 0.5 0.2 0.6 1 0.5-1.8 0.6 0.1 0.6 1.6 0.5-1 0.6-1.7 0.5 2.6 0.6 1.9 0.5-0.2 0.6-1.3 0.5-0.1 0.6 0.2 0.5 0.6 0.6-0.4 0.5-0.2 0.6 0.6 " fill="none" stroke="#151515" stroke-width="0.7" stroke-opacity="0.9" stroke-linejoin="round"/>
<path d="M296.5 361.4l0.6-1 0.5-0.1 0.6 1.6 0.5-0.5 0.6-0.6 0.5 0.9 0.6 0.5 0.5-0.2 0.6-0.5 0.5 1 0.6 0.4 0.5-1.1 0.6 0.2 0.6 2.2 0.5-1.3 0.6-0.1 0.5 1.6 0.6 0.4 0.5-0.5 0.6 0.3 0.5-0.1 0.6-1.1 0.5-0.8 0.6-0.1 0.5 1.7 0.6 0.4 0.5 0.2 0.6-0.7 0.6-0.8 0.5 2 0.6 1.6 0.5-1.1 0.6-1.9 0.5 0.6 0.6 0.4 0.5 0 0.6 0.4 0.5-0.6 0.6-1 0.5-0.2 0.6 1 0.6-1 0.5-0.1 0.6-0.1 0.5 0.4 0.6-1 0.5 0 0.6 1.4 0.5 0.5 0.6-0.1 0.5 0 0.6 1.2 0.5 0.3 0.6 0 0.6-0.2 0.5-1.7 0.6-1.6 0.5 2.3 0.6 0.8 0.5-1.4 0.6 0.9 0.5 1.6 0.6-1.1 0.5-0.8 0.6 0.7 0.5 0.1 0.6 1.2 0.6 0.7 0.5-0.5 0.6-1.1 0.5 0.2 0.6 1.1 0.5-0.5 0.6-0.1 0.5 0.4 0.6 1.3 0.5 0.9 0.6-1.2 0.5-0.5 0.6 0.4 0.5 0.1 0.6-1 0.6 0.3 0.5 0.5 0.6-0.7 0.5-0.7 0.6 0 0.5 0.5 0.6 0.3 0.5-0.7 0.6-0.9 0.5 0.4 0.6 0.4 0.5-0.2 0.6 0.1 0.6-1.6 0.5 0.4 0.6 0.6 0.5 0 0.6 1.2 0.5-0.8 0.6-0.7 0.5 0.6 0.6-0.1 0.5 0.1 0.6-1.7 0.5 0.3 0.6 2 0.6-0.4 0.5-1.7 0.6 0.5 0.5 1.9 0.6 0.2 0.5-1 0.6-1.4 0.5 0.6 0.6-0.4 0.5-1.3 0.6-1 0.5 0.4 0.6 2.8 0.6 1.5 0.5-1.1 0.6-0.6 0.5 2 0.6 1.1 0.5-1.2 0.6 0.2 0.5 1.1 0.6 1.8 0.5 0.6 0.6 0.3 0.5 0.3 0.6 1 0.5-1.2 0.6-0.7 0.6 0.9 0.5 1.4 0.6-0.8 0.5 0.4 0.6 1.7 0.5-0.4 0.6 0 0.5-1 0.6-0.7 0.5 0.2 0.6 1.3 0.5-0.4 0.6-0.9 " fill="none" stroke="#151515" stroke-width="0.7" stroke-opacity="0.9" stroke-linejoin="round"/>
<path d="M296.5 362.7l0.6 0.2 0.5-0.1 0.6 0 0.5 0.2 0.6-0.2 0.5 0.2 0.6-0.1 0.5 0 0.6 0 0.5 0 0.6 0.3 0.5 0 0.6 0.1 0.6-0.2 0.5-0.4 0.6 0 0.5-0.1 0.6 0.7 0.5 0.4 0.6 0.4 0.5 0.1 0.6-0.4 0.5-0.1 0.6-0.2 0.5 0.1 0.6 0.2 0.5 0.2 0.6 0 0.6 0.1 0.5-0.1 0.6 0.1 0.5 0.2 0.6 0.1 0.5 0.2 0.6 0.1 0.5 0.3 0.6 0.1 0.5 0.3 0.6-0.1 0.5-0.2 0.6-0.3 0.6-0.1 0.5-0.1 0.6-0.2 0.5 0.1 0.6 0 0.5 0.3 0.6 0.2 0.5 0.2 0.6 0.1 0.5 0 0.6 0.1 0.5 0.1 0.6 0 0.6-0.2 0.5 0 0.6 0.1 0.5-0.1 0.6 0.5 0.5 0.2 0.6 0.2 0.5 0.3 0.6 0 0.5 0.1 0.6-0.1 0.5-0.1 0.6-0.4 0.6-0.1 0.5-0.2 0.6 0.2 0.5 0.3 0.6 0.3 0.5 0.3 0.6 0.3 0.5-0.1 0.6 0.1 0.5-0.2 0.6 0.1 0.5-0.2 0.6-0.2 0.5 0.2 0.6-0.4 0.6 0.3 0.5 0.1 0.6 0.1 0.5 0.4 0.6-0.1 0.5 0.1 0.6-0.1 0.5-0.1 0.6 0.2 0.5 0.3 0.6 0.1 0.5 0.5 0.6 0 0.6-0.2 0.5 0.2 0.6-0.5 0.5 0.1 0.6 0.4 0.5 0 0.6 0.3 0.5-0.1 0.6 0 0.5 0.1 0.6 0 0.5 0.1 0.6-0.2 0.6 0.3 0.5 0.1 0.6-0.1 0.5 0 0.6-0.1 0.5 0.2 0.6 0.2 0.5 0.3 0.6 0.2 0.5 0.1 0.6 0.4 0.5-0.1 0.6-0.2 0.6 0.1 0.5-0.2 0.6 0.2 0.5 0.3 0.6-0.3 0.5 0.1 0.6 0.3 0.5 0 0.6 0.1 0.5 0.1 0.6-0.3 0.5-0.1 0.6 0 0.5-0.1 0.6 0.2 0.6 0.1 0.5 0.2 0.6 0.5 0.5 0.2 0.6-0.1 0.5-0.2 0.6-0.1 0.5 0 0.6 0.3 0.5 0.4 0.6 0 0.5-0.1 0.6-0.2 " fill="none" stroke="#1a8582" stroke-width="2.7" stroke-linejoin="round" stroke-linecap="round"/>
<text x="338.20" y="281.60" font-size="13.5" fill="#111" text-anchor="middle" font-weight="bold" >Trials 1 - 5</text>
<line x1="391.50" y1="284.20" x2="391.50" y2="382.70" stroke="#474747" stroke-width="2.5" />
<line x1="390.30" y1="381.50" x2="475.30" y2="381.50" stroke="#474747" stroke-width="2.5" />
<line x1="389.50" y1="305.60" x2="391.50" y2="305.60" stroke="#474747" stroke-width="1" />
<line x1="389.50" y1="334.60" x2="391.50" y2="334.60" stroke="#474747" stroke-width="1" />
<line x1="389.50" y1="363.60" x2="391.50" y2="363.60" stroke="#474747" stroke-width="1" />
<line x1="433.40" y1="381.50" x2="433.40" y2="383.90" stroke="#474747" stroke-width="1.2" />
<line x1="475.30" y1="381.50" x2="475.30" y2="383.90" stroke="#474747" stroke-width="1.2" />
<path d="M391.5 338.6l0.6 1.5 0.5 2.1 0.6-0.3 0.5 0.5 0.6 2 0.6-0.3 0.5 0.8 0.6 0.8 0.6 2.6 0.5 0.8 0.6 0.2 0.5 1.3 0.6 1 0.6 0 0.5 0.9 0.6 0 0.6-0.5 0.5 1.4 0.6 1.7 0.5 0.8 0.6-0.4 0.6 1.2 0.5 0.3 0.6 0 0.6 0.4 0.5 0.1 0.6 0.3 0.5 0.6 0.6-0.5 0.6 0.8 0.5 1.4 0.6 0.5 0.6-0.3 0.5-0.2 0.6 1 0.5 0.8 0.6-0.2 0.6-0.3 0.5 0.5 0.6-0.2 0.6 0.8 0.5 0.9 0.6-0.9 0.5 0.9 0.6 1.2 0.6-1.1 0.5 0.4 0.6 0.4 0.6-1.6 0.5 0.1 0.6 0.1 0.5-0.2 0.6 1.5 0.6 0.7 0.5-0.5 0.6-0.5 0.6-0.5 0.5 0.3 0.6 1.1 0.5 1 0.6-0.4 0.6-0.2 0.5 0.4 0.6-0.5 0.6 1.5 0.5-0.4 0.6-0.7 0.5 0.6 0.6-0.5 0.6 0.1 0.5-0.4 0.6-0.1 0.6 0 0.5 1.1 0.6 0.6 0.5-1.3 0.6-0.9 0.6 0.8 0.5 0.9 0.6 0.5 0.6 0.3 0.5-2.7 0.6-0.4 0.5 2 0.6-0.4 0.6-0.5 0.5 0.1 0.6 1.1 0.6 0.2 0.5-0.5 0.6-1 0.5 0.2 0.6 0.2 0.6 0.5 0.5 0.4 0.6-1.4 0.6-0.9 0.5 0.7 0.6 0.6 0.5 1.7 0.6-0.6 0.6-1 0.5 0.2 0.6 0.2 0.6 0.2 0.5 1.9 0.6-0.4 0.5-2.1 0.6 0.6 0.6 0.8 0.5 0.1 0.6-0.2 0.6 0.9 0.5-0.5 0.6-0.5 0.5-1.3 0.6 0.5 0.6 0.1 0.5-0.3 0.6-0.6 0.6-0.6 0.5 0.1 0.6 0.3 0.5 1.2 0.6-0.3 0.6 0.8 0.5 0.3 0.6-0.6 0.6 0.9 0.5 1.2 0.6-0.7 0.5-0.2 0.6-0.8 0.6 1.1 0.5 1.2 0.6-0.7 0.6-0.5 0.5-0.9 0.6-1 0.5-0.3 0.6 0.6 0.6 0.6 0.5-0.3 0.6-0.9 0.6 0.2 0.5 1.2 0.6 0.3 0.5-0.2 0.6 0.4 " fill="none" stroke="#151515" stroke-width="0.7" stroke-opacity="0.9" stroke-linejoin="round"/>
<path d="M391.5 350.4l0.6-0.5 0.5-1 0.6 1.2 0.5 1.2 0.6 1.5 0.6 1.5 0.5 0.2 0.6-0.1 0.6 0.2 0.5 0.8 0.6 0.7 0.5 0.2 0.6-0.1 0.6-0.7 0.5 0 0.6 0.3 0.6 1.2 0.5 1.6 0.6 0.8 0.5 1.9 0.6-0.9 0.6-1.2 0.5 0.6 0.6 1 0.6 1.3 0.5 2.1 0.6 0.1 0.5-0.9 0.6 1 0.6-0.8 0.5-1.1 0.6-0.4 0.6-1 0.5-0.1 0.6 1.2 0.5 0.3 0.6-0.8 0.6 0.1 0.5 1.2 0.6 0.6 0.6-0.2 0.5 0.1 0.6 0.7 0.5 0.2 0.6-0.3 0.6 0.4 0.5 0.3 0.6 0.1 0.6-1.4 0.5-0.2 0.6 0.8 0.5 0 0.6 0.8 0.6-0.5 0.5-0.1 0.6-1.4 0.6-1.4 0.5 0.2 0.6 0.7 0.5 0.1 0.6 0.7 0.6 0.3 0.5-1 0.6 0.7 0.6 0.8 0.5 0.8 0.6 0.4 0.5-0.3 0.6 0 0.6 0.7 0.5 0.5 0.6 0 0.6 0.3 0.5-1.3 0.6-0.6 0.5 0.9 0.6 0.5 0.6-0.4 0.5-0.8 0.6 0.3 0.6 0.1 0.5 0.1 0.6 1.7 0.5-1.1 0.6-0.6 0.6-0.3 0.5 0 0.6 0.9 0.6 0.3 0.5-0.3 0.6-0.8 0.5-0.1 0.6-0.4 0.6 0.6 0.5 0.8 0.6 0.3 0.6-1 0.5 1.8 0.6 1.1 0.5-1.8 0.6-0.7 0.6-1.1 0.5-0.7 0.6 0.9 0.6 1.1 0.5-0.4 0.6 0.4 0.5 0 0.6-1.2 0.6-0.9 0.5 0.4 0.6 1.2 0.6-0.4 0.5-1 0.6-2 0.5 1.4 0.6 1.5 0.6-0.5 0.5-0.5 0.6 0.6 0.6 1.8 0.5-0.3 0.6 0.9 0.5-0.9 0.6-0.5 0.6 0.7 0.5 0.7 0.6-0.4 0.6 0.2 0.5 0.8 0.6-1 0.5 0.1 0.6-0.5 0.6 0 0.5-1.2 0.6-0.6 0.6 0.3 0.5-0.7 0.6 0.5 0.5-0.5 0.6 0.1 0.6 1 0.5-1 0.6 0.3 0.6 2 0.5-0.2 0.6-2.2 0.5-0.6 0.6 0.4 " fill="none" stroke="#151515" stroke-width="0.7" stroke-opacity="0.9" stroke-linejoin="round"/>
<path d="M391.5 362.1l0.6-0.2 0.5-0.7 0.6-0.7 0.5 1.1 0.6-0.2 0.6-0.4 0.5 0.9 0.6-0.3 0.6 0.6 0.5-0.8 0.6-0.5 0.5-0.5 0.6 0 0.6 0.9 0.5 0.2 0.6-1.1 0.6 1.3 0.5 1.9 0.6-0.3 0.5-1.4 0.6-0.2 0.6 1.8 0.5-0.2 0.6 1 0.6 1.1 0.5 0.1 0.6-0.4 0.5 0.5 0.6 0.8 0.6 0.2 0.5-1.1 0.6-0.4 0.6-0.1 0.5-0.6 0.6 0.2 0.5-1.6 0.6 0.9 0.6 0.7 0.5-1.3 0.6-0.3 0.6 0.9 0.5 0.8 0.6-0.3 0.5 1.2 0.6-0.3 0.6-1.4 0.5 0.3 0.6 1.2 0.6 0 0.5-1.4 0.6 1.4 0.5 0.4 0.6-2.1 0.6 0.9 0.5 1 0.6 0.1 0.6-0.4 0.5 0 0.6 1.3 0.5 0.3 0.6-0.4 0.6 0.2 0.5-1.7 0.6 0 0.6 1.1 0.5 0.1 0.6-0.3 0.5-0.6 0.6 0.7 0.6 0 0.5-0.7 0.6 0.9 0.6 1.6 0.5-1.2 0.6-1.8 0.5 1.2 0.6 0.1 0.6-0.7 0.5-0.4 0.6 0.6 0.6-0.4 0.5-0.9 0.6 1.7 0.5 1 0.6-2.2 0.6-0.8 0.5 1.2 0.6-0.3 0.6 1.2 0.5-0.9 0.6-1.2 0.5-0.3 0.6 1.8 0.6 0.4 0.5-2.3 0.6-0.1 0.6 1.2 0.5 0 0.6-0.5 0.5 1.8 0.6 0 0.6-2 0.5-0.2 0.6 0.6 0.6-0.6 0.5 0.1 0.6 1.4 0.5-0.5 0.6-0.5 0.6-0.4 0.5 0.1 0.6 0.6 0.6 0.2 0.5-0.4 0.6-2.1 0.5 0.5 0.6 0.4 0.6-0.4 0.5 0.6 0.6 0.6 0.6-0.5 0.5-0.1 0.6 0.4 0.5-0.2 0.6-1.1 0.6 0.8 0.5 1.2 0.6-2 0.6 0.5 0.5-0.5 0.6 0.5 0.5 1.3 0.6-0.5 0.6 0.4 0.5 0.6 0.6-0.8 0.6 0.8 0.5 0.2 0.6-1 0.5 0.9 0.6 0.5 0.6-1.2 0.5 0.2 0.6-0.5 0.6-1.4 0.5 0.6 0.6 0.2 0.5-0.1 0.6-0.4 " fill="none" stroke="#151515" stroke-width="0.7" stroke-opacity="0.9" stroke-linejoin="round"/>
<path d="M391.5 369.3l0.6 0.4 0.5-0.3 0.6 0.3 0.5 0.7 0.6-0.3 0.6 0 0.5-0.7 0.6 0.1 0.6 0.7 0.5 1.1 0.6-0.1 0.5-1.7 0.6 1 0.6 1.8 0.5 0.3 0.6-0.6 0.6 0.9 0.5 1.5 0.6 0 0.5-1.1 0.6-1.1 0.6 0.9 0.5-0.4 0.6-0.9 0.6 0.7 0.5-0.1 0.6-1.3 0.5-1.2 0.6 0.6 0.6-0.1 0.5 0.2 0.6 0.5 0.6-0.9 0.5 0 0.6 1.2 0.5 0.6 0.6 0 0.6 0.4 0.5 0.5 0.6-0.4 0.6-0.8 0.5 0.1 0.6-0.6 0.5-1.1 0.6-0.9 0.6-0.6 0.5-0.5 0.6 0 0.6 1.6 0.5-0.9 0.6-0.6 0.5 0.8 0.6-0.7 0.6-1.4 0.5 0.5 0.6 1.4 0.6 0.6 0.5 0.3 0.6-1.4 0.5 0.1 0.6 1.7 0.6-0.9 0.5-1 0.6 0.9 0.6 0 0.5-1.6 0.6 1.2 0.5 0.4 0.6-1.5 0.6-0.8 0.5 0.5 0.6 1 0.6-0.2 0.5-0.2 0.6-1 0.5 0.1 0.6 1 0.6 1.2 0.5-1.4 0.6 0.3 0.6 1.2 0.5 0.1 0.6-1.1 0.5 0.2 0.6 1.3 0.6-0.7 0.5-0.3 0.6-1 0.6 1.2 0.5 0.5 0.6 0.5 0.5-1 0.6-0.6 0.6 0.4 0.5 0.4 0.6 1.3 0.6 0.5 0.5-0.2 0.6-2.3 0.5 0 0.6 0.4 0.6 0.4 0.5-2.2 0.6-0.6 0.6 2.2 0.5-0.3 0.6-1.2 0.5-1.4 0.6 0.9 0.6 0.4 0.5-0.3 0.6 0.2 0.6 0.8 0.5-0.4 0.6 0 0.5 0.4 0.6 0.3 0.6-1.1 0.5-0.6 0.6 1.3 0.6 0.7 0.5-0.3 0.6 0.4 0.5-0.2 0.6-1.4 0.6 1.4 0.5 0 0.6-0.4 0.6 0.3 0.5 0.9 0.6-0.8 0.5-0.5 0.6 0.7 0.6-0.1 0.5-1.4 0.6 0.8 0.6 0.3 0.5-1.1 0.6 2.6 0.5 0.4 0.6-1.5 0.6-0.2 0.5-0.4 0.6-1 0.6-0.8 0.5-0.2 0.6 0.1 0.5-0.7 0.6-0.4 " fill="none" stroke="#151515" stroke-width="0.7" stroke-opacity="0.9" stroke-linejoin="round"/>
<path d="M391.5 364.4l0.6 0 0.5 0.2 0.6 0.5 0.5-0.3 0.6-0.1 0.6 0.5 0.5 0.9 0.6 0.7 0.6 0.6 0.5 0.2 0.6 0 0.5 0.3 0.6-0.1 0.6-0.5 0.5 0.2 0.6 1.1 0.6-0.4 0.5-0.6 0.6-0.2 0.5 0.5 0.6 1 0.6 0.9 0.5-0.5 0.6-0.3 0.6 0.1 0.5 1.2 0.6 0.2 0.5-0.7 0.6 1 0.6-0.6 0.5-0.9 0.6-0.6 0.6 1.9 0.5 0.9 0.6-1.7 0.5-0.7 0.6-0.2 0.6 0.5 0.5 0.1 0.6-0.3 0.6 0.5 0.5-0.3 0.6 0.5 0.5 0.3 0.6-1 0.6 0 0.5 2 0.6 1.6 0.6 1.2 0.5-0.7 0.6-1.2 0.5 1.3 0.6 0.2 0.6 0.3 0.5 0.1 0.6 0.5 0.6 0.1 0.5-0.7 0.6 0.7 0.5-0.3 0.6-0.1 0.6 0.6 0.5-0.6 0.6-0.8 0.6 0 0.5 0.4 0.6 0.7 0.5 0.7 0.6-0.7 0.6 0.2 0.5-0.2 0.6-0.9 0.6 0.1 0.5 0.7 0.6-0.2 0.5-0.7 0.6 1.6 0.6 0.3 0.5-0.6 0.6-0.9 0.6 0.3 0.5-0.8 0.6-0.2 0.5 1.7 0.6-0.2 0.6-0.6 0.5-0.1 0.6-0.8 0.6-0.4 0.5 0 0.6 0.4 0.5 0.9 0.6-0.5 0.6-1.4 0.5 0.2 0.6-0.3 0.6-0.4 0.5-0.2 0.6-1 0.5 0.3 0.6 0.4 0.6-0.6 0.5-0.5 0.6-0.6 0.6 1 0.5 0.4 0.6-0.8 0.5-0.2 0.6-1.4 0.6 0.6 0.5 0.8 0.6-0.2 0.6 0.2 0.5-0.6 0.6-1.2 0.5-0.4 0.6 0.1 0.6 0.2 0.5 0.4 0.6-0.7 0.6 0.1 0.5 0.3 0.6-0.9 0.5-0.6 0.6-0.8 0.6 0.3 0.5 0.4 0.6 1.8 0.6 0.9 0.5-0.2 0.6 0.1 0.5 1.3 0.6-0.4 0.6-1.9 0.5 0.2 0.6 1.1 0.6 0.4 0.5-0.3 0.6 1.1 0.5-0.3 0.6-1.1 0.6 0 0.5 0 0.6 0.2 0.6 0 0.5 0.6 0.6 1.5 0.5-0.2 0.6-1 " fill="none" stroke="#151515" stroke-width="0.7" stroke-opacity="0.9" stroke-linejoin="round"/>
<path d="M391.5 362.2l0.6 0.9 0.5 1.6 0.6 0.9 0.5 0.8 0.6-0.5 0.6 0.5 0.5 0.8 0.6-0.8 0.6 0.4 0.5 0.3 0.6-0.9 0.5-1 0.6 1.1 0.6-0.5 0.5 0.8 0.6 0.2 0.6-0.9 0.5-1.3 0.6 0.1 0.5 0.7 0.6-1.3 0.6 2 0.5 0.4 0.6-1.3 0.6 0.7 0.5-0.5 0.6-0.4 0.5 0.2 0.6-1.5 0.6-0.2 0.5 0.7 0.6 0.1 0.6 2.1 0.5-1.2 0.6-1.3 0.5 0.8 0.6 1 0.6 2.1 0.5 0 0.6-1.1 0.6 0.1 0.5-0.5 0.6 0.8 0.5 0.4 0.6-0.9 0.6 0.8 0.5-0.6 0.6 0.6 0.6 0.6 0.5-0.8 0.6-0.8 0.5 0.4 0.6-0.1 0.6 0.3 0.5 1.1 0.6-0.6 0.6-1.3 0.5-0.6 0.6 1 0.5 0.1 0.6-1.1 0.6-0.6 0.5 1.5 0.6 1.2 0.6-1.5 0.5-0.6 0.6 1 0.5 0.3 0.6 0 0.6 0.9 0.5-0.1 0.6 0.8 0.6 0.1 0.5-0.9 0.6-1.4 0.5-0.6 0.6 0.5 0.6 0.3 0.5-0.3 0.6-1.3 0.6-1 0.5 1.2 0.6 0 0.5 0.2 0.6 0.5 0.6-0.6 0.5 1.7 0.6 0.3 0.6-0.4 0.5-0.5 0.6-0.7 0.5 1.7 0.6 1.3 0.6-2 0.5-0.8 0.6 0.5 0.6-0.6 0.5-0.3 0.6-0.6 0.5 0.4 0.6 2.3 0.6-0.9 0.5-0.8 0.6 0.9 0.6-0.1 0.5 0.2 0.6 0 0.5 1.2 0.6 0 0.6-0.9 0.5 0.4 0.6-0.1 0.6 0 0.5-0.7 0.6-1.2 0.5 0.6 0.6 0.8 0.6-0.3 0.5-0.3 0.6-0.7 0.6 0.3 0.5 0.4 0.6-0.8 0.5 1.1 0.6 0.1 0.6 1.1 0.5 0.3 0.6 0.3 0.6 1.1 0.5-0.3 0.6 0.2 0.5 1.1 0.6-0.7 0.6 0.2 0.5 0.7 0.6-0.1 0.6 0.6 0.5 0 0.6-0.4 0.5-1.7 0.6 1 0.6 1.2 0.5 0 0.6 0.6 0.6 1 0.5 0.4 0.6 0.2 0.5-0.3 0.6-0.3 " fill="none" stroke="#151515" stroke-width="0.7" stroke-opacity="0.9" stroke-linejoin="round"/>
<path d="M391.5 356.3l0.6-0.3 0.5 0 0.6 0 0.5-0.1 0.6 0.4 0.6 0 0.5 0.5 0.6 0.6 0.6 0.4 0.5 0.6 0.6 0 0.5 0 0.6 0.2 0.6 0.2 0.5 0.5 0.6 0.8 0.6 0.4 0.5 0.5 0.6 0.8 0.5 0.3 0.6 0.4 0.6 0.3 0.5 0 0.6 0.5 0.6 0.1 0.5 0.2 0.6 0.1 0.5-0.2 0.6 0.3 0.6-0.1 0.5 0.5 0.6 0.3 0.6 0.2 0.5 0.2 0.6 0 0.5 0.1 0.6 0.2 0.6 0.1 0.5 0.3 0.6 0.4 0.6 0.3 0.5 0.4 0.6 0 0.5 0.4 0.6 0.3 0.6 0 0.5 0.4 0.6-0.1 0.6 0 0.5 0.5 0.6 0.2 0.5 0 0.6 0.2 0.6-0.3 0.5 0.4 0.6 0 0.6 0.2 0.5 0.1 0.6-0.1 0.5 0.1 0.6-0.2 0.6 0.3 0.5 0.1 0.6 0.2 0.6 0.4 0.5-0.1 0.6 0 0.5-0.1 0.6 0.2 0.6 0.1 0.5-0.2 0.6 0.1 0.6-0.1 0.5 0 0.6-0.1 0.5-0.1 0.6-0.2 0.6 0 0.5 0.4 0.6-0.1 0.6 0 0.5-0.2 0.6-0.4 0.5 0.2 0.6 0 0.6 0 0.5 0.3 0.6 0.2 0.6-0.4 0.5 0.2 0.6-0.4 0.5-0.5 0.6-0.2 0.6 0 0.5 0 0.6 0 0.6 0.3 0.5-0.1 0.6-0.2 0.5 0.3 0.6-0.2 0.6-0.1 0.5 0.1 0.6-0.2 0.6 0.1 0.5-0.2 0.6-0.1 0.5-0.4 0.6-0.1 0.6 0.1 0.5 0 0.6 0.1 0.6 0.1 0.5-0.3 0.6 0 0.5-0.3 0.6 0 0.6 0.2 0.5-0.2 0.6 0.4 0.6-0.4 0.5-0.4 0.6-0.3 0.5-0.5 0.6 0 0.6 0.4 0.5 0.1 0.6 0.2 0.6 0 0.5-0.3 0.6 0.1 0.5 0 0.6 0 0.6-0.3 0.5 0 0.6-0.2 0.6-0.1 0.5 0.2 0.6-0.2 0.5-0.2 0.6-0.2 0.6-0.2 0.5-0.2 0.6 0 0.6 0.2 0.5 0.1 0.6 0 0.5 0.2 0.6 0 " fill="none" stroke="#1a8582" stroke-width="2.7" stroke-linejoin="round" stroke-linecap="round"/>
<text x="437.50" y="281.60" font-size="13.5" fill="#111" text-anchor="middle" font-weight="bold" >Trials 6 - 11</text>
<line x1="296.50" y1="405.50" x2="296.50" y2="504.60" stroke="#474747" stroke-width="2.5" />
<line x1="295.30" y1="503.40" x2="379.00" y2="503.40" stroke="#474747" stroke-width="2.5" />
<line x1="294.50" y1="427.20" x2="296.50" y2="427.20" stroke="#474747" stroke-width="1" />
<line x1="294.50" y1="456.20" x2="296.50" y2="456.20" stroke="#474747" stroke-width="1" />
<line x1="294.50" y1="485.20" x2="296.50" y2="485.20" stroke="#474747" stroke-width="1" />
<line x1="337.75" y1="503.40" x2="337.75" y2="505.80" stroke="#474747" stroke-width="1.2" />
<line x1="379.00" y1="503.40" x2="379.00" y2="505.80" stroke="#474747" stroke-width="1.2" />
<path d="M296.5 473.0l0.6-5.2 0.5-5.2 0.6-3.1 0.5-2.7 0.6-4.2 0.5-5 0.6-5.1 0.5-4.2 0.6-3.5 0.5-3.9 0.6-4.7 0.5-4 0.6 3.4 0.6 4.5 0.5 1.7 0.6 2 0.5 3.6 0.6 2.8 0.5 3.9 0.6 2.4 0.5 2.3 0.6 2.5 0.5 1.9 0.6 1.8 0.5 0.1 0.6 0.8 0.5 2.3 0.6 0.8 0.6 0.6 0.5 1.9 0.6 1.3 0.5 0.7 0.6 0.8 0.5-0.6 0.6 1.8 0.5 1.4 0.6-0.1 0.5 1 0.6 0 0.5 2.3 0.6 1.4 0.6 0.3 0.5 1 0.6 0.3 0.5 0.1 0.6 0.7 0.5-0.9 0.6 1.4 0.5 1.2 0.6-1.6 0.5 0.4 0.6-0.5 0.5 0.2 0.6 0.1 0.6 0.4 0.5 1.1 0.6 1.1 0.5-0.1 0.6-0.4 0.5-0.1 0.6 0.1 0.5 0.4 0.6 0.7 0.5-0.4 0.6 1.5 0.5 1.3 0.6-0.8 0.6-0.3 0.5-0.3 0.6-0.1 0.5 0.7 0.6 1.2 0.5-0.9 0.6 0.5 0.5 0.6 0.6 0 0.5 0.5 0.6 0.8 0.5 1.7 0.6 1.1 0.5 0.6 0.6 0.5 0.6 0.1 0.5-1 0.6-0.8 0.5 0.2 0.6 0.4 0.5 0.6 0.6 0.1 0.5-0.8 0.6 0.2 0.5 1.4 0.6 0.5 0.5-0.9 0.6-0.6 0.6 0.8 0.5 0.3 0.6-0.7 0.5 0.4 0.6 1.1 0.5 0.2 0.6-1 0.5 0.3 0.6 0.2 0.5-0.6 0.6 0 0.5 0.6 0.6 0.6 0.6-0.4 0.5 0.2 0.6-0.4 0.5 0.1 0.6 0.1 0.5 0.4 0.6-0.6 0.5 0.2 0.6-0.2 0.5-0.6 0.6 1.1 0.5 0 0.6-0.5 0.6 0.2 0.5 0.4 0.6-0.7 0.5-0.4 0.6 0.2 0.5-0.6 0.6 1.1 0.5-0.1 0.6-2.5 0.5 0.1 0.6 0.8 0.5 0 0.6-0.2 0.5-1.3 0.6 0.9 0.6 2.3 0.5-0.8 0.6-1.4 0.5 0.3 0.6 0.2 0.5 0.6 0.6 0.4 0.5-0.3 0.6 0.4 0.5-0.2 0.6 1 0.5 1.1 0.6-0.5 " fill="none" stroke="#151515" stroke-width="0.7" stroke-opacity="0.9" stroke-linejoin="round"/>
<path d="M296.5 465.8l0.6-2.8 0.5-2.9 0.6-1.3 0.5-1.2 0.6-0.9 0.5 1.2 0.6 2.4 0.5 1 0.6 2.4 0.5 2.6 0.6 1.3 0.5 1.2 0.6 1.6 0.6 1 0.5 1.9 0.6 1.2 0.5-0.1 0.6-0.2 0.5-0.6 0.6 1.8 0.5 1.3 0.6 0.3 0.5 1.3 0.6-0.4 0.5 0.5 0.6 1.1 0.5-1.3 0.6 1.9 0.6 1.8 0.5-0.2 0.6 0.6 0.5 1.2 0.6-0.2 0.5 0.2 0.6 0.4 0.5 0.4 0.6 0.4 0.5 0.3 0.6 0.3 0.5-0.1 0.6 1.1 0.6 0.5 0.5-0.6 0.6-0.1 0.5-0.4 0.6-0.3 0.5-0.5 0.6-1.1 0.5 0.8 0.6 1.2 0.5-0.6 0.6 0.6 0.5-0.4 0.6 0.9 0.6-0.1 0.5-1.2 0.6 1.5 0.5-0.4 0.6-2.1 0.5-0.2 0.6-0.5 0.5-1.6 0.6 1.1 0.5 1 0.6-0.1 0.5-0.8 0.6-0.4 0.6 0.8 0.5 1.5 0.6-0.4 0.5 0.5 0.6 0.6 0.5-0.6 0.6 0.1 0.5 0.4 0.6-0.2 0.5-0.9 0.6 0.2 0.5 0.8 0.6-0.7 0.5-0.2 0.6 0.6 0.6 1 0.5-1.4 0.6-0.1 0.5 0.7 0.6 0.4 0.5 1 0.6 0.1 0.5 0.1 0.6-0.4 0.5-0.3 0.6-0.9 0.5 1.3 0.6 0.6 0.6 1.1 0.5-1.2 0.6-0.8 0.5 0.9 0.6 0 0.5-1.2 0.6-0.6 0.5 0.3 0.6-0.2 0.5 0.4 0.6 0 0.5 1.6 0.6-0.2 0.6-0.1 0.5-0.1 0.6-0.3 0.5 1.6 0.6 0.6 0.5 0.2 0.6-0.1 0.5-0.6 0.6 1 0.5 0.9 0.6-0.7 0.5-1.1 0.6 1.4 0.6-0.1 0.5-1.4 0.6-0.1 0.5 0.3 0.6 0.6 0.5 1.4 0.6-0.8 0.5-0.9 0.6-0.2 0.5-0.5 0.6 0 0.5 0 0.6 1 0.5-0.5 0.6-1.7 0.6-0.4 0.5 1.6 0.6-0.3 0.5-1.7 0.6 0.2 0.5 0.5 0.6-0.9 0.5 0.6 0.6-0.4 0.5 0.1 0.6-0.1 0.5-1.5 0.6 0.5 " fill="none" stroke="#151515" stroke-width="0.7" stroke-opacity="0.9" stroke-linejoin="round"/>
<path d="M296.5 488.9l0.6-0.3 0.5 0 0.6 1.8 0.5-0.3 0.6-1.5 0.5 0.5 0.6-0.6 0.5-1 0.6 0.9 0.5-0.9 0.6-0.7 0.5 0.9 0.6-0.6 0.6 1.8 0.5 0.5 0.6 0 0.5 2.1 0.6-0.4 0.5-0.5 0.6-0.3 0.5-0.1 0.6 0.4 0.5-0.4 0.6 0 0.5-0.3 0.6-0.4 0.5-0.7 0.6-0.2 0.6-0.6 0.5-0.1 0.6 0.7 0.5-0.8 0.6-0.1 0.5-0.9 0.6 0.1 0.5 1.3 0.6 0.4 0.5-0.3 0.6 0.5 0.5 0.8 0.6 0.5 0.6 0.7 0.5-0.5 0.6 0.7 0.5 0.6 0.6 0.1 0.5-1.4 0.6-0.8 0.5-0.2 0.6-0.1 0.5-0.3 0.6 0 0.5 1 0.6-0.6 0.6-0.6 0.5 0.3 0.6 0.1 0.5-1.5 0.6-1.3 0.5 0.4 0.6-0.5 0.5 0.6 0.6 0.4 0.5-0.4 0.6 0.6 0.5 0.1 0.6 0.1 0.6 0.4 0.5-0.3 0.6 0.9 0.5-0.7 0.6-1.4 0.5 0.4 0.6-0.2 0.5 0.3 0.6 0.4 0.5-0.2 0.6 0.9 0.5 1.7 0.6-1 0.5-0.2 0.6 0.5 0.6-0.4 0.5 0.9 0.6 1.3 0.5 0 0.6-0.2 0.5-0.1 0.6-0.6 0.5-1.8 0.6 0.3 0.5 0.5 0.6 0.4 0.5-0.4 0.6-0.1 0.6 0.5 0.5-0.3 0.6 0.8 0.5-0.7 0.6-0.9 0.5-0.3 0.6 1 0.5-0.1 0.6 0.1 0.5-0.8 0.6-0.1 0.5 0.6 0.6 0.5 0.6-0.3 0.5-0.9 0.6 0 0.5 0.4 0.6 1.3 0.5-1.3 0.6-1.1 0.5 2.7 0.6-0.2 0.5-0.2 0.6 0.2 0.5-1.3 0.6 1.2 0.6 0.4 0.5-0.8 0.6 0.5 0.5 1.1 0.6 1.3 0.5-0.4 0.6-0.2 0.5 0.6 0.6-1.5 0.5-0.3 0.6-0.5 0.5-0.5 0.6-0.4 0.5 0.8 0.6 0.6 0.6 0.3 0.5-0.4 0.6-1.2 0.5 0 0.6 1.4 0.5 1.5 0.6 1.2 0.5 0 0.6-0.4 0.5-0.1 0.6 0.7 0.5-0.1 0.6-0.4 " fill="none" stroke="#151515" stroke-width="0.7" stroke-opacity="0.9" stroke-linejoin="round"/>
<path d="M296.5 491.3l0.6 0.3 0.5 0.5 0.6 1.2 0.5 0.5 0.6-0.6 0.5-0.3 0.6 1.2 0.5 0.8 0.6-1.1 0.5 0 0.6-0.1 0.5-0.3 0.6-0.2 0.6 0.4 0.5 0.2 0.6-1 0.5 0.7 0.6-0.8 0.5-0.3 0.6 2.4 0.5-0.8 0.6-1 0.5-0.5 0.6 0.7 0.5-1 0.6-1 0.5-0.1 0.6 0.7 0.6-0.9 0.5-0.4 0.6-0.2 0.5-2.2 0.6 1.5 0.5-0.2 0.6 0.4 0.5 1 0.6 0.1 0.5-0.3 0.6-0.4 0.5 0.4 0.6 1.3 0.6 0.2 0.5 0 0.6 0.3 0.5-1.2 0.6-0.5 0.5 0.5 0.6-0.4 0.5 0.1 0.6 0.8 0.5-0.7 0.6-0.7 0.5-1.1 0.6 1 0.6 1.2 0.5 0.4 0.6-1.3 0.5 0.2 0.6 1.2 0.5 0.5 0.6 0 0.5-1.4 0.6-0.3 0.5 0.3 0.6 0.4 0.5 0.7 0.6 0.5 0.6 0.1 0.5 0.2 0.6-1.6 0.5-0.7 0.6 0.4 0.5 1.5 0.6 0.6 0.5-1.3 0.6 0.3 0.5-0.5 0.6-0.6 0.5 0.3 0.6-0.4 0.5 0 0.6 0.4 0.6-0.5 0.5-1.5 0.6 0 0.5-0.5 0.6 1.1 0.5 2.7 0.6 0.8 0.5-0.8 0.6-0.4 0.5-0.8 0.6 0.3 0.5 1.2 0.6-0.5 0.6-0.6 0.5-0.5 0.6-0.1 0.5 0.1 0.6 1.6 0.5 0.1 0.6-0.1 0.5-0.4 0.6-3.5 0.5-0.4 0.6 0.9 0.5-0.2 0.6 1.1 0.6 0.8 0.5-0.6 0.6 0.7 0.5-0.2 0.6-0.4 0.5-0.4 0.6 0.7 0.5 0.4 0.6-0.9 0.5 0.4 0.6 0.4 0.5-0.2 0.6-0.3 0.6-0.2 0.5 0.3 0.6 0.4 0.5-1.1 0.6 0.7 0.5-0.8 0.6-1.2 0.5 0.5 0.6-1.2 0.5-0.5 0.6 0.1 0.5 1 0.6 0.4 0.5 0.4 0.6 0.6 0.6-0.5 0.5-1.1 0.6 0.4 0.5 0.5 0.6-0.9 0.5 1.2 0.6-1.2 0.5-0.9 0.6 0.4 0.5-0.5 0.6-0.3 0.5-1.1 0.6 0 " fill="none" stroke="#151515" stroke-width="0.7" stroke-opacity="0.9" stroke-linejoin="round"/>
<path d="M296.5 484.4l0.6 0.2 0.5-0.1 0.6 0.3 0.5 0.6 0.6 0.8 0.5 0.2 0.6-0.6 0.5 0.1 0.6 0.2 0.5 0.5 0.6 0.7 0.5-0.3 0.6-0.3 0.6 0.6 0.5-0.6 0.6 0 0.5 2.6 0.6 0.3 0.5-1.7 0.6-0.4 0.5 0.4 0.6 0.3 0.5-0.8 0.6 0.7 0.5 0.6 0.6-1 0.5-0.4 0.6-0.8 0.6 1 0.5 1.8 0.6-0.5 0.5-0.4 0.6-0.7 0.5 0.5 0.6 0.2 0.5-1.1 0.6-0.4 0.5 1 0.6 0 0.5-0.7 0.6 0.3 0.6 0.8 0.5 0.9 0.6 0.2 0.5-0.8 0.6-0.1 0.5 1.1 0.6 0.8 0.5 0 0.6 0.1 0.5 0.6 0.6-0.9 0.5-0.8 0.6-0.5 0.6 0.2 0.5 1.3 0.6 0.5 0.5-0.3 0.6-0.5 0.5-0.5 0.6 1.2 0.5 0.5 0.6-2.2 0.5-1 0.6 0.7 0.5 2.3 0.6 0.1 0.6-2.6 0.5 0.4 0.6-1.2 0.5-0.4 0.6 0.4 0.5 0.2 0.6 0.6 0.5-0.5 0.6 0 0.5 1.4 0.6 0.1 0.5-1.2 0.6 0.6 0.5 0.4 0.6 0.5 0.6-0.6 0.5 0.1 0.6 1.8 0.5-0.8 0.6-0.9 0.5-0.1 0.6-0.2 0.5 1.2 0.6-0.3 0.5-0.9 0.6 0 0.5-0.2 0.6-1.1 0.6 0.2 0.5 0.7 0.6-0.4 0.5 0.8 0.6 0 0.5-0.1 0.6-0.1 0.5 0.2 0.6-1.9 0.5-0.9 0.6 1.6 0.5 0.5 0.6 0.1 0.6 0.3 0.5 0.2 0.6 0.5 0.5-0.5 0.6-2 0.5 1.5 0.6 1.5 0.5-0.9 0.6 0.7 0.5-1.7 0.6-0.4 0.5 1.8 0.6-0.2 0.6 0.3 0.5-0.2 0.6-0.4 0.5 0.3 0.6 0.4 0.5 0.2 0.6-0.8 0.5 0.2 0.6 2.2 0.5 0 0.6-0.6 0.5 0.2 0.6-0.5 0.5-0.7 0.6 0.8 0.6 1.4 0.5 0.3 0.6-0.3 0.5-0.5 0.6-0.2 0.5 0 0.6 0.3 0.5-0.9 0.6 0.9 0.5 0.5 0.6-0.1 0.5-0.8 0.6-0.7 " fill="none" stroke="#151515" stroke-width="0.7" stroke-opacity="0.9" stroke-linejoin="round"/>
<path d="M296.5 487.2l0.6-0.6 0.5-0.8 0.6 0.3 0.5 1.3 0.6 0.8 0.5-0.2 0.6 0.7 0.5-0.3 0.6-0.5 0.5 0.8 0.6 0.9 0.5 0.8 0.6 1.1 0.6 0.9 0.5-0.9 0.6 0.1 0.5 0.9 0.6 0.4 0.5 0.3 0.6 0.4 0.5-0.2 0.6-0.6 0.5-0.1 0.6-0.6 0.5 0 0.6 0.4 0.5-2.2 0.6 0.3 0.6-0.2 0.5-0.4 0.6 0.7 0.5 0.7 0.6 1.9 0.5 0.1 0.6-0.3 0.5 1 0.6-0.1 0.5-1.5 0.6 0.4 0.5-0.5 0.6 0.2 0.6-0.9 0.5 0.5 0.6 1 0.5-1.6 0.6-1.4 0.5 0.3 0.6 0.2 0.5 0.1 0.6-0.2 0.5-0.9 0.6 0.6 0.5-1.2 0.6-0.4 0.6 2.1 0.5-0.6 0.6-0.9 0.5-0.7 0.6 0.1 0.5 2 0.6-1.6 0.5-0.5 0.6 2.8 0.5-1.1 0.6-1.6 0.5-0.7 0.6 0.4 0.6 0.8 0.5-0.5 0.6 0.1 0.5 0 0.6-1.5 0.5-1.7 0.6 1.5 0.5 0.3 0.6-1 0.5 0.3 0.6 1.5 0.5-0.1 0.6-0.5 0.5-1.1 0.6 0.4 0.6 1.9 0.5 0.1 0.6 0.1 0.5 0.1 0.6 0.2 0.5-0.3 0.6-0.8 0.5-0.9 0.6 0.5 0.5 0.1 0.6 0 0.5 0.4 0.6 0.4 0.6-1 0.5-0.3 0.6 0.8 0.5 0.1 0.6-0.5 0.5-0.2 0.6 0.9 0.5-0.1 0.6 0.2 0.5 1.1 0.6 0.2 0.5-2.7 0.6 0.4 0.6 1.2 0.5-1.5 0.6 0.1 0.5 1.2 0.6 0.5 0.5 0 0.6-0.2 0.5 0.5 0.6-0.4 0.5-0.7 0.6-0.3 0.5-0.5 0.6 0 0.6-0.6 0.5 0.1 0.6 2 0.5 0.6 0.6-1 0.5-1.3 0.6-0.9 0.5 0.9 0.6-0.3 0.5-0.4 0.6 1.3 0.5 0.3 0.6-0.7 0.5-0.6 0.6 0.5 0.6 1.4 0.5-1.4 0.6 0 0.5 0.1 0.6-0.3 0.5 0.3 0.6-1 0.5 0.2 0.6 0.4 0.5-0.4 0.6 0.3 0.5 1.2 0.6 0.3 " fill="none" stroke="#151515" stroke-width="0.7" stroke-opacity="0.9" stroke-linejoin="round"/>
<path d="M296.5 476.8l0.6-1.1 0.5-1.3 0.6-1.4 0.5-1.1 0.6-0.7 0.5-0.3 0.6 0.1 0.5 0.3 0.6 0.6 0.5 0.3 0.6 0.2 0.5 0.4 0.6 0.3 0.6 0.4 0.5 0.9 0.6 0.7 0.5 0.6 0.6 0.5 0.5 0.1 0.6 0.5 0.5 0.2 0.6 0.3 0.5 0.7 0.6 0.2 0.5 0.5 0.6 0.1 0.5 0.4 0.6 0.2 0.6 0.5 0.5 0.7 0.6 0.3 0.5 0.3 0.6 0.4 0.5 0.3 0.6 0.1 0.5 0.3 0.6 0.5 0.5 0.2 0.6 0.3 0.5 0.8 0.6 0.1 0.6 0.4 0.5 0.3 0.6 0.1 0.5 0.2 0.6 0.1 0.5 0.1 0.6 0.2 0.5 0 0.6 0.2 0.5 0.3 0.6-0.3 0.5 0.2 0.6 0.3 0.6 0.1 0.5 0.4 0.6-0.2 0.5-0.3 0.6 0.2 0.5-0.1 0.6 0.6 0.5 0.3 0.6 0 0.5-0.2 0.6-0.2 0.5 0.1 0.6-0.2 0.6 0.5 0.5 0 0.6 0.3 0.5 0.3 0.6-0.2 0.5 0.6 0.6-0.1 0.5 0 0.6 0.2 0.5-0.3 0.6 0.1 0.5 0.1 0.6-0.1 0.5 0 0.6 0.3 0.6 0.3 0.5 0.4 0.6-0.2 0.5 0 0.6-0.3 0.5-0.3 0.6 0.1 0.5-0.2 0.6-0.1 0.5-0.3 0.6 0.1 0.5 0.2 0.6 0 0.6 0.2 0.5-0.4 0.6-0.2 0.5-0.1 0.6 0 0.5-0.2 0.6 0.1 0.5-0.1 0.6 0.1 0.5 0.4 0.6-0.2 0.5 0 0.6 0.1 0.6 0 0.5 0.3 0.6 0.6 0.5-0.4 0.6-0.1 0.5-0.1 0.6-0.3 0.5 0.4 0.6-0.1 0.5-0.2 0.6-0.1 0.5-0.1 0.6 0.2 0.6 0.3 0.5 0 0.6 0.4 0.5-0.1 0.6-0.1 0.5-0.3 0.6 0 0.5 0.1 0.6-0.1 0.5 0.6 0.6-0.6 0.5-0.2 0.6 0 0.5-0.5 0.6 0.6 0.6 0 0.5 0.2 0.6 0.2 0.5-0.3 0.6 0.1 0.5-0.3 0.6 0 0.5-0.2 0.6 0 0.5 0.2 0.6-0.1 0.5 0.2 0.6 0.2 " fill="none" stroke="#1a8582" stroke-width="2.7" stroke-linejoin="round" stroke-linecap="round"/>
<text x="338.80" y="402.50" font-size="13.5" fill="#111" text-anchor="middle" font-weight="bold" >Trials 12 - 17</text>
<line x1="396.00" y1="405.50" x2="396.00" y2="505.00" stroke="#474747" stroke-width="2.5" />
<line x1="394.80" y1="503.80" x2="479.30" y2="503.80" stroke="#474747" stroke-width="2.5" />
<line x1="394.00" y1="426.40" x2="396.00" y2="426.40" stroke="#474747" stroke-width="1" />
<line x1="394.00" y1="455.40" x2="396.00" y2="455.40" stroke="#474747" stroke-width="1" />
<line x1="394.00" y1="484.40" x2="396.00" y2="484.40" stroke="#474747" stroke-width="1" />
<line x1="437.65" y1="503.80" x2="437.65" y2="506.20" stroke="#474747" stroke-width="1.2" />
<line x1="479.30" y1="503.80" x2="479.30" y2="506.20" stroke="#474747" stroke-width="1.2" />
<path d="M396.0 478.8l0.6-6.8 0.5-6.8 0.6-7.8 0.5-6.8 0.6-6.9 0.6-7.8 0.5-7.6 0.6-7.7 0.5-6.3 0.6-7.4 0.5 0.5 0.6 2.6 0.6 2.8 0.5 0.3 0.6 3.2 0.5 3.9 0.6-0.3 0.6 2.2 0.5 3 0.6 2 0.5 3.1 0.6 1.9 0.6 0 0.5 0.6 0.6 1.3 0.5 3 0.6 2.6 0.6 1 0.5-0.1 0.6 0.9 0.5 2.4 0.6 1.1 0.5 2.3 0.6 2 0.6 0.9 0.5 2.3 0.6 2.6 0.5 1.3 0.6 0.9 0.6 1.2 0.5 1 0.6 0.7 0.5 1.4 0.6 1.5 0.6 1.1 0.5 1.1 0.6 1.6 0.5 1.4 0.6-0.3 0.6 1 0.5 1.3 0.6-0.2 0.5 1.3 0.6 0 0.5 0.3 0.6 1.8 0.6-0.7 0.5-0.2 0.6 1.2 0.5-0.2 0.6 1 0.6 1.2 0.5 1.2 0.6 0.7 0.5 0 0.6 0.4 0.6 0.5 0.5 1.5 0.6 0.8 0.5-1.1 0.6 0.6 0.6-0.2 0.5 0 0.6 1.2 0.5 0.2 0.6-0.3 0.5 0.2 0.6-0.2 0.6-0.7 0.5 1.5 0.6 1 0.5-0.3 0.6-0.1 0.6 0.4 0.5-1.2 0.6 0.1 0.5 0.4 0.6-1 0.6 0.1 0.5 0.6 0.6 0.8 0.5-0.3 0.6 0.7 0.6 0 0.5-0.7 0.6 0.2 0.5 0.8 0.6 0.4 0.5 0.7 0.6 0.1 0.6-0.9 0.5 0.6 0.6 0.6 0.5 0.9 0.6 0.8 0.6-1.3 0.5 0.2 0.6 1.2 0.5-0.6 0.6-0.5 0.6-0.7 0.5-1.5 0.6 0.8 0.5 1.4 0.6-0.4 0.6 0.7 0.5 0 0.6 0.3 0.5 1.3 0.6-0.1 0.5-0.1 0.6-0.5 0.6-0.8 0.5 0.2 0.6 0.5 0.5 0.8 0.6 0.2 0.6 0 0.5 0.4 0.6 0 0.5-1.4 0.6-0.2 0.6-0.3 0.5-0.7 0.6 0.7 0.5-0.6 0.6-1.1 0.6 1.1 0.5 0.7 0.6-0.7 0.5 1.3 0.6 1.2 0.5 0 0.6-0.6 0.6-0.2 0.5-0.8 0.6 0.2 0.5 1.2 0.6-0.3 " fill="none" stroke="#151515" stroke-width="0.7" stroke-opacity="0.9" stroke-linejoin="round"/>
<path d="M396.0 487.5l0.6-6.7 0.5-6.6 0.6-6.2 0.5-6.7 0.6-6.3 0.6-6.3 0.5-7.1 0.6-7.1 0.5-6.5 0.6-5.7 0.5-6.5 0.6 1.8 0.6 4.5 0.5 4.4 0.6 2.3 0.5 3.5 0.6 3.7 0.6 2.4 0.5 3.6 0.6 3.6 0.5 3.7 0.6 2.3 0.6 2.1 0.5 0.4 0.6 1 0.5 1.8 0.6 1.2 0.6 0.6 0.5 0.6 0.6 2.6 0.5 1.9 0.6 0.6 0.5 1.3 0.6 0.8 0.6-0.1 0.5 3.1 0.6 1.6 0.5 0.3 0.6 1.1 0.6 0.7 0.5 0.7 0.6 0.8 0.5 2.3 0.6 1 0.6 0 0.5 1.7 0.6 1.4 0.5 0.4 0.6 2 0.6 0.3 0.5-1 0.6 1.5 0.5 1.9 0.6-1.2 0.5-0.9 0.6 0.6 0.6 0.5 0.5 0.2 0.6-0.4 0.5 0.4 0.6 0.4 0.6-0.5 0.5 0.3 0.6 0.5 0.5 0.4 0.6 0.5 0.6-0.1 0.5-1.1 0.6 0.3 0.5-0.6 0.6-1.1 0.6-0.7 0.5-0.3 0.6 2.8 0.5 0.6 0.6-0.8 0.5-0.4 0.6-0.2 0.6 0.9 0.5 0.3 0.6 0.1 0.5-0.2 0.6-0.3 0.6 0.6 0.5 0 0.6-0.4 0.5 0 0.6-0.5 0.6 1.1 0.5 0.7 0.6-1 0.5-0.5 0.6-0.4 0.6 0.6 0.5 0.8 0.6-0.3 0.5-0.6 0.6 0 0.5 0.1 0.6 0.5 0.6 0.1 0.5-0.4 0.6 1.1 0.5-0.1 0.6-1.2 0.6 1.2 0.5 0.8 0.6-1.3 0.5-0.5 0.6 0.7 0.6-0.7 0.5 0.8 0.6-1 0.5-0.7 0.6 0.7 0.6-0.1 0.5 1.5 0.6-0.4 0.5 0 0.6-0.4 0.5-1.1 0.6 0.5 0.6 0.9 0.5 0 0.6-0.5 0.5 0.3 0.6-0.3 0.6-0.1 0.5 1.2 0.6 0.8 0.5-0.7 0.6-1.1 0.6 0.3 0.5 0 0.6-0.1 0.5-0.4 0.6 0.1 0.6 1.5 0.5-0.3 0.6 0.7 0.5 0 0.6-0.1 0.5-0.5 0.6-1.6 0.6 1.2 0.5 0.9 0.6-0.6 0.5 0.3 0.6-0.6 " fill="none" stroke="#151515" stroke-width="0.7" stroke-opacity="0.9" stroke-linejoin="round"/>
<path d="M396.0 474.6l0.6-2.3 0.5-2.3 0.6-1.7 0.5-3 0.6-2.4 0.6-2 0.5 2.7 0.6 2.4 0.5 1.8 0.6 3 0.5 1.5 0.6 1.2 0.6 2.1 0.5 1.1 0.6 1.7 0.5 2.3 0.6 2.5 0.6 2.1 0.5-1.5 0.6 1.7 0.5 1.2 0.6-2.1 0.6-0.1 0.5 0.4 0.6-1.1 0.5 0.7 0.6 0.9 0.6 0.9 0.5 0.6 0.6-0.5 0.5-1.1 0.6 0.6 0.5 0.6 0.6-2.1 0.6-0.5 0.5 1.3 0.6 1 0.5 0.5 0.6 0.2 0.6-0.6 0.5-0.4 0.6 0 0.5 1 0.6-1.4 0.6 1 0.5 0.6 0.6-0.9 0.5 1 0.6 0.8 0.6 0.2 0.5-1.1 0.6 0.5 0.5-0.4 0.6-1.6 0.5 0.7 0.6 0.1 0.6-0.4 0.5 0.8 0.6 0.4 0.5-0.3 0.6-0.8 0.6 0.3 0.5 1.8 0.6 0.3 0.5-1.5 0.6-0.6 0.6-0.2 0.5 0.3 0.6 0.4 0.5 1.4 0.6-0.7 0.6-0.5 0.5 0.2 0.6 0.4 0.5 0.1 0.6-0.6 0.5-0.2 0.6-1.4 0.6-0.6 0.5 1.7 0.6 0 0.5-0.5 0.6 1 0.6-1.1 0.5 0.6 0.6-0.1 0.5-1.7 0.6 2 0.6 1.1 0.5 0.2 0.6-0.6 0.5-0.9 0.6 0.5 0.6 0.7 0.5 0.3 0.6 0.2 0.5 0.2 0.6-0.2 0.5 0.8 0.6-0.1 0.6 0.8 0.5 0.1 0.6-1.5 0.5-1.7 0.6 0.5 0.6 0.6 0.5-1 0.6 1.3 0.5 0.3 0.6 0.5 0.6-0.3 0.5-0.5 0.6 0.9 0.5 0.1 0.6-1.2 0.6 1.5 0.5 2.2 0.6-1.9 0.5-1.3 0.6 0.6 0.5-0.2 0.6-0.6 0.6 0.3 0.5-0.9 0.6 0.4 0.5 0.8 0.6-0.8 0.6 0.3 0.5-0.6 0.6 0.3 0.5 1.6 0.6-0.4 0.6-0.9 0.5-1.2 0.6 0.2 0.5 0.4 0.6-0.2 0.6-0.5 0.5 0.1 0.6 0.8 0.5-0.3 0.6-0.5 0.5-0.8 0.6 2 0.6 0.7 0.5-0.9 0.6-0.1 0.5 0.4 0.6 0.3 " fill="none" stroke="#151515" stroke-width="0.7" stroke-opacity="0.9" stroke-linejoin="round"/>
<path d="M396.0 484.7l0.6-0.3 0.5 1.1 0.6 1.6 0.5 0.1 0.6-0.7 0.6-0.2 0.5 0.9 0.6 0.2 0.5-0.6 0.6 0.2 0.5 0.5 0.6-0.6 0.6-0.2 0.5-0.1 0.6 1.3 0.5 0.4 0.6-0.1 0.6-0.4 0.5-0.8 0.6 1 0.5 0 0.6-0.8 0.6-0.8 0.5 0.6 0.6 0.8 0.5-0.8 0.6 0.4 0.6 2.2 0.5-0.2 0.6-0.5 0.5 1.7 0.6-0.2 0.5-0.6 0.6 0.2 0.6-0.7 0.5-0.4 0.6-0.2 0.5 1 0.6-0.2 0.6-1.7 0.5 0.2 0.6 1.2 0.5-0.4 0.6-0.4 0.6 0.6 0.5 0 0.6 1.1 0.5 1.7 0.6 0.3 0.6-0.7 0.5-0.1 0.6 0.5 0.5 1.1 0.6-0.3 0.5-1.2 0.6 0.6 0.6 0.5 0.5 0.4 0.6 0.1 0.5-0.5 0.6-0.1 0.6 1.1 0.5-1.6 0.6-1.2 0.5 0.4 0.6 0.1 0.6 1.2 0.5-0.4 0.6-0.7 0.5-0.3 0.6 0.5 0.6 0 0.5-1 0.6-0.8 0.5 1.3 0.6 1.2 0.5-0.8 0.6 1.2 0.6 0.2 0.5-0.1 0.6 0 0.5-1.6 0.6-0.4 0.6-1.2 0.5 0 0.6 0.3 0.5-0.7 0.6 1.6 0.6 0.2 0.5-0.8 0.6-0.2 0.5-1.2 0.6-0.2 0.6 0.3 0.5 0.6 0.6 0.9 0.5-0.6 0.6-0.9 0.5-0.3 0.6 0.6 0.6 0.9 0.5-0.3 0.6-1.3 0.5-0.7 0.6 0.7 0.6-0.1 0.5-1.4 0.6 0.4 0.5 0.7 0.6 0 0.6 0 0.5-0.7 0.6 0.3 0.5-0.9 0.6-0.6 0.6-0.4 0.5 0.9 0.6 1.6 0.5 0 0.6-0.8 0.5-1 0.6 0.5 0.6 0.6 0.5-0.2 0.6 0.5 0.5 0.3 0.6 0.1 0.6 0.2 0.5 0.3 0.6-0.2 0.5-0.1 0.6-0.3 0.6-0.6 0.5-1.3 0.6 0.8 0.5 1.3 0.6-1.4 0.6-0.6 0.5 0.3 0.6-1.3 0.5 0.4 0.6 2.4 0.5-0.1 0.6-0.8 0.6 0 0.5-0.4 0.6-1.3 0.5-0.2 0.6 0 " fill="none" stroke="#151515" stroke-width="0.7" stroke-opacity="0.9" stroke-linejoin="round"/>
<path d="M396.0 487.6l0.6 0.4 0.5-0.7 0.6 0.2 0.5 0 0.6-0.3 0.6 1.4 0.5-0.8 0.6-0.5 0.5 1.2 0.6 1 0.5-1 0.6 0.2 0.6-0.1 0.5 0.7 0.6-0.3 0.5-0.4 0.6 1.1 0.6-0.2 0.5-0.5 0.6-0.1 0.5 0.2 0.6-1.7 0.6-1 0.5 0.4 0.6 0 0.5-0.5 0.6-1 0.6-0.6 0.5 0.7 0.6 0.4 0.5 0.7 0.6 0.6 0.5 0.8 0.6-0.4 0.6-1 0.5 0.4 0.6 1.5 0.5 0.7 0.6-1.1 0.6 0.5 0.5 1.4 0.6-0.3 0.5-0.1 0.6 0 0.6-1 0.5 1.2 0.6-0.5 0.5-1 0.6 1 0.6-0.6 0.5 0.3 0.6-0.5 0.5 0.8 0.6 0.6 0.5 0.1 0.6 1.1 0.6-0.7 0.5-0.4 0.6-0.2 0.5 0.3 0.6 1.1 0.6-0.8 0.5-1.1 0.6 1.1 0.5 1.2 0.6-1 0.6-0.8 0.5 0.8 0.6 0.6 0.5 0 0.6 0.1 0.6 1.2 0.5 0.7 0.6-1 0.5-1.7 0.6 0 0.5-0.6 0.6-0.1 0.6 0.5 0.5 0 0.6 0.1 0.5 1 0.6 0.1 0.6-2.2 0.5-0.3 0.6 1.7 0.5-1.1 0.6-0.3 0.6 2.5 0.5 1.5 0.6-0.3 0.5-1.1 0.6-1 0.6-0.8 0.5 1 0.6-0.4 0.5 1.7 0.6 0.1 0.5-1.6 0.6-1.5 0.6 1.1 0.5 2.2 0.6-0.2 0.5-0.7 0.6-0.7 0.6 0 0.5-0.8 0.6-0.9 0.5 0 0.6 2.2 0.6 0.9 0.5-1 0.6-0.5 0.5-0.4 0.6-0.9 0.6 0.3 0.5 0.3 0.6-0.5 0.5 0.2 0.6 1.6 0.5-0.4 0.6-0.5 0.6-0.2 0.5 0.5 0.6-0.2 0.5-1.2 0.6-0.1 0.6-0.3 0.5 0.7 0.6 1.3 0.5 0.4 0.6-1.9 0.6 0.5 0.5 0.2 0.6-0.1 0.5 1.4 0.6-0.1 0.6 0 0.5-1.4 0.6-0.4 0.5 1.4 0.6 0.4 0.5-0.1 0.6 0.4 0.6 0.6 0.5 0.1 0.6-1.3 0.5-0.2 0.6-0.4 " fill="none" stroke="#151515" stroke-width="0.7" stroke-opacity="0.9" stroke-linejoin="round"/>
<path d="M396.0 490.2l0.6 0.5 0.5-0.5 0.6 0.1 0.5-0.7 0.6 0.6 0.6 2.7 0.5 0.2 0.6-1.2 0.5-1.2 0.6-0.4 0.5-0.5 0.6-0.4 0.6 0.5 0.5 0.4 0.6-1.1 0.5 1 0.6-1.1 0.6-1.4 0.5 1.7 0.6-0.1 0.5-1.4 0.6 1.2 0.6 1.4 0.5-0.6 0.6-0.4 0.5-0.6 0.6-0.1 0.6 0.9 0.5 2.3 0.6 0.1 0.5-1.9 0.6-0.8 0.5-0.2 0.6-0.5 0.6-0.6 0.5 1.6 0.6-0.2 0.5-0.8 0.6-0.3 0.6-0.8 0.5 0.3 0.6-0.4 0.5 0.2 0.6 0.7 0.6 0.9 0.5-0.9 0.6-0.7 0.5-0.2 0.6 0.5 0.6 0.1 0.5-0.1 0.6 1.1 0.5-0.7 0.6-0.4 0.5 0.3 0.6-0.2 0.6-1.6 0.5 0.1 0.6 0.7 0.5 0.4 0.6 0.2 0.6-0.4 0.5 0.5 0.6 0.6 0.5-1 0.6 0.9 0.6 0.1 0.5 0.1 0.6 0.3 0.5-1.3 0.6-0.3 0.6 1.1 0.5 1.1 0.6-0.8 0.5 0.5 0.6 0.3 0.5 0.5 0.6-0.4 0.6 0.6 0.5-0.3 0.6-0.6 0.5 0.7 0.6-0.5 0.6 0 0.5 0.2 0.6-0.1 0.5 0.6 0.6 0.2 0.6 0.1 0.5-0.1 0.6 0.8 0.5-0.1 0.6-1.3 0.6-1 0.5-0.2 0.6 1.6 0.5-0.3 0.6-1.1 0.5 1.1 0.6 0.7 0.6 0.1 0.5 0.3 0.6 0.9 0.5 0.5 0.6-1.1 0.6-1.7 0.5 0.3 0.6 0.3 0.5-1.5 0.6-0.2 0.6 0.8 0.5 0.7 0.6-0.3 0.5-1.5 0.6-0.7 0.6 0.2 0.5 0.1 0.6 1.9 0.5-0.1 0.6-1.3 0.5-0.1 0.6-0.7 0.6-0.7 0.5 0.3 0.6 0.9 0.5-0.2 0.6-0.2 0.6-0.3 0.5 1 0.6-0.1 0.5-1 0.6 0.3 0.6 0.7 0.5 0.1 0.6-0.1 0.5 0.5 0.6-1 0.6 0 0.5 0.4 0.6 0.5 0.5-0.2 0.6-1.5 0.5-0.3 0.6 1.6 0.6 0.8 0.5-0.5 0.6-1.3 0.5-0.2 0.6 0.5 " fill="none" stroke="#151515" stroke-width="0.7" stroke-opacity="0.9" stroke-linejoin="round"/>
<path d="M396.0 475.9l0.6-1.3 0.5-1.6 0.6-2.1 0.5-2.3 0.6-1.9 0.6-2.1 0.5-2.2 0.6-2.3 0.5-1.5 0.6-1.3 0.5 0.1 0.6 0.4 0.6 0.9 0.5 1.6 0.6 1.3 0.5 1.6 0.6 1.3 0.6 1.5 0.5 1.2 0.6 1.2 0.5 1.5 0.6 1.1 0.6 1.1 0.5 0.8 0.6 0.3 0.5 0.3 0.6 0.3 0.6 0.2 0.5 0.4 0.6 0.3 0.5 0.4 0.6 0.7 0.5 0.5 0.6 0.5 0.6 0.4 0.5 0.4 0.6 0.4 0.5 0.5 0.6 0.6 0.6 0.1 0.5 0.2 0.6 0.2 0.5 0.3 0.6 0.3 0.6 0.5 0.5 0.1 0.6 0 0.5 0.3 0.6 0.2 0.6 0.1 0.5 0.6 0.6 0.4 0.5-0.3 0.6 0.3 0.5-0.3 0.6 0.2 0.6 0.3 0.5 0.4 0.6 0.3 0.5 0 0.6 0.6 0.6-0.1 0.5 0.6 0.6 0.1 0.5 0 0.6 0.4 0.6-0.1 0.5 0.4 0.6 0.3 0.5 0.2 0.6-0.1 0.6 0.1 0.5 0.1 0.6 0.2 0.5-0.1 0.6-0.2 0.5 0.4 0.6-0.2 0.6 0 0.5 0.1 0.6-0.3 0.5 0.1 0.6 0.3 0.6-0.2 0.5 0.2 0.6 0.5 0.5 0.4 0.6 0.6 0.6 0.4 0.5-0.4 0.6 0 0.5-0.1 0.6-0.3 0.6 0 0.5 0.1 0.6-0.3 0.5 0.2 0.6 0 0.5 0 0.6 0.2 0.6-0.1 0.5 0 0.6-0.2 0.5 0 0.6-0.2 0.6 0.3 0.5 0.1 0.6 0.2 0.5 0.5 0.6 0.1 0.6-0.1 0.5-0.2 0.6-0.4 0.5-0.1 0.6 0.2 0.6 0.2 0.5 0 0.6-0.1 0.5-0.1 0.6-0.2 0.5 0 0.6-0.1 0.6-0.1 0.5 0.1 0.6-0.2 0.5-0.2 0.6 0.3 0.6-0.1 0.5 0.1 0.6 0.3 0.5-0.2 0.6 0 0.6-0.3 0.5-0.3 0.6-0.3 0.5-0.1 0.6 0.2 0.6 0 0.5 0.2 0.6-0.4 0.5-0.3 0.6 0 0.5 0.2 0.6 0.4 0.6 0 0.5-0.1 0.6-0.3 0.5-0.2 0.6 0 " fill="none" stroke="#1a8582" stroke-width="2.7" stroke-linejoin="round" stroke-linecap="round"/>
<text x="437.50" y="402.50" font-size="13.5" fill="#111" text-anchor="middle" font-weight="bold" >Trials 18 - 23</text>
<line x1="296.50" y1="525.80" x2="296.50" y2="625.20" stroke="#474747" stroke-width="2.5" />
<line x1="295.30" y1="624.00" x2="379.00" y2="624.00" stroke="#474747" stroke-width="2.5" />
<line x1="294.50" y1="547.40" x2="296.50" y2="547.40" stroke="#474747" stroke-width="1" />
<line x1="294.50" y1="576.90" x2="296.50" y2="576.90" stroke="#474747" stroke-width="1" />
<line x1="294.50" y1="606.40" x2="296.50" y2="606.40" stroke="#474747" stroke-width="1" />
<line x1="337.75" y1="624.00" x2="337.75" y2="626.40" stroke="#474747" stroke-width="1.2" />
<line x1="379.00" y1="624.00" x2="379.00" y2="626.40" stroke="#474747" stroke-width="1.2" />
<path d="M296.5 613.2l0.6-12.2 0.5-12.6 0.6-13.1 0.5-13 0.6-11.9 0.5-12 0.6-7.9 0.5 1.5 0.6 1.2 0.5 1.8 0.6 1.9 0.5 2.9 0.6 2.2 0.6 1.4 0.5 2 0.6 1.6 0.5 1.8 0.6 1.7 0.5 0.6 0.6 2.8 0.5 3 0.6 0.6 0.5 2 0.6 1.6 0.5 2.4 0.6 1.6 0.5 1.3 0.6 2.3 0.6 3 0.5 0.9 0.6 1.3 0.5 2 0.6 0.5 0.5 3.4 0.6 2.6 0.5 0.3 0.6-0.5 0.5 1.5 0.6 1.1 0.5 0.8 0.6-0.6 0.6 1.3 0.5 2.4 0.6 0.1 0.5-0.5 0.6 1.6 0.5 1.6 0.6 0.3 0.5 0.9 0.6 1.7 0.5 0.9 0.6 1.3 0.5 1.4 0.6 0.9 0.6 0.4 0.5-2.6 0.6 1.3 0.5 2.2 0.6-0.9 0.5 0.2 0.6-0.3 0.5-0.7 0.6 0.8 0.5 1.1 0.6-0.3 0.5 0 0.6-0.1 0.6 0.9 0.5 0.7 0.6 0.5 0.5 1.2 0.6 0.7 0.5 0.4 0.6-1.3 0.5-0.4 0.6 1.2 0.5 0.8 0.6 0.5 0.5 0 0.6 0.5 0.5 1.5 0.6 0 0.6 0.2 0.5-0.1 0.6 0 0.5 0.2 0.6 0.4 0.5-0.9 0.6-1.4 0.5-0.6 0.6 0.9 0.5 1.1 0.6-0.6 0.5-0.6 0.6-0.3 0.6 0.6 0.5 0.7 0.6 0.5 0.5-0.5 0.6 0.5 0.5 0.9 0.6 0.5 0.5-1.3 0.6-1.1 0.5 1.1 0.6 0.8 0.5-0.9 0.6 0.9 0.6 1.4 0.5-0.8 0.6-0.9 0.5 1.1 0.6 0.1 0.5-0.5 0.6-0.1 0.5-0.8 0.6 1 0.5-0.7 0.6-0.6 0.5 1.1 0.6-0.6 0.6-0.1 0.5 0.6 0.6-0.5 0.5 1.2 0.6 0.2 0.5-1.1 0.6-0.1 0.5 1.6 0.6 1 0.5-2 0.6 0.6 0.5 1.6 0.6 0.5 0.5 1.7 0.6-1 0.6-0.1 0.5 2.3 0.6-1.1 0.5-2.3 0.6 0.2 0.5 0.5 0.6 0.7 0.5 0.2 0.6-0.5 0.5 0.4 0.6-0.9 0.5 0.1 0.6 0.3 " fill="none" stroke="#151515" stroke-width="0.7" stroke-opacity="0.9" stroke-linejoin="round"/>
<path d="M296.5 591.5l0.6-4.2 0.5-2.8 0.6-2.4 0.5-5.1 0.6-3 0.5-3.4 0.6-3.8 0.5-2.6 0.6-4.6 0.5-3.7 0.6-2.2 0.5-1.8 0.6-1.8 0.6-3.6 0.5-4.3 0.6-3.4 0.5 0.8 0.6 2.5 0.5 1.3 0.6 2.3 0.5 2.6 0.6 1.1 0.5 2.4 0.6 2 0.5 1.3 0.6 1.9 0.5 1.6 0.6 2.2 0.6 2.5 0.5 2.5 0.6 0.6 0.5 2 0.6 0.4 0.5 2.2 0.6 1.2 0.5-0.3 0.6 1.5 0.5 1.7 0.6 1.6 0.5 0.6 0.6 1.1 0.6 1.2 0.5 1.4 0.6 1.9 0.5 1.3 0.6 0.7 0.5 1 0.6 0.1 0.5 1.1 0.6-0.1 0.5-0.2 0.6 0.6 0.5 0.7 0.6 1.1 0.6-0.8 0.5 0.5 0.6 1.7 0.5 0.9 0.6 0.8 0.5 0.5 0.6 1 0.5 2.1 0.6-0.1 0.5-0.7 0.6 0.3 0.5 1.6 0.6 0.8 0.6-0.6 0.5 1.1 0.6 0.6 0.5 1.2 0.6 0.7 0.5 0.1 0.6-1.3 0.5 0.5 0.6 0.9 0.5 0.6 0.6 1.1 0.5-0.5 0.6 0.8 0.5 0.6 0.6-0.3 0.6 1.3 0.5 0.8 0.6-0.5 0.5 0.2 0.6-0.6 0.5 0 0.6 0 0.5 0 0.6 0.7 0.5-0.4 0.6-0.2 0.5 1 0.6-0.5 0.6-0.3 0.5-0.3 0.6-0.4 0.5 0.1 0.6 0.7 0.5 0.3 0.6 0.2 0.5 0.1 0.6 0.7 0.5 2 0.6 1.1 0.5-0.2 0.6-1.7 0.6 0 0.5 3.3 0.6-0.9 0.5-3.3 0.6 1.5 0.5 1 0.6-1.1 0.5 0.6 0.6 1.3 0.5 0.1 0.6-0.5 0.5-0.1 0.6 0.9 0.6-0.4 0.5 0.3 0.6 0.4 0.5 0.8 0.6 1.1 0.5-0.2 0.6-0.9 0.5 1.2 0.6-0.9 0.5-0.2 0.6 0.3 0.5-0.2 0.6 0.6 0.5-0.6 0.6 0.2 0.6 0.2 0.5 0.4 0.6 0.2 0.5-1.6 0.6-0.8 0.5 2.1 0.6-0.1 0.5 0.6 0.6-0.8 0.5-0.9 0.6 1 0.5 0.8 0.6 0.6 " fill="none" stroke="#151515" stroke-width="0.7" stroke-opacity="0.9" stroke-linejoin="round"/>
<path d="M296.5 616.3l0.6 1.3 0.5 0 0.6-0.4 0.5-4.8 0.6-6 0.5-5.5 0.6-5.2 0.5-6.6 0.6-5.9 0.5-5.5 0.6-5 0.5-5.2 0.6 0.1 0.6 2.2 0.5 2.5 0.6 1 0.5 1.7 0.6 1.7 0.5 1 0.6 2.6 0.5 0.6 0.6 1.9 0.5 1.9 0.6 0.7 0.5 2.9 0.6 2 0.5 1.9 0.6 1.2 0.6 1.2 0.5 0.6 0.6 0.1 0.5 0.8 0.6-1.3 0.5 1.2 0.6 1.7 0.5-0.6 0.6-0.3 0.5 0 0.6 1.1 0.5 0.5 0.6 0.3 0.6 1 0.5-0.6 0.6 1 0.5 1.2 0.6-1.2 0.5 0.3 0.6 1.1 0.5 0 0.6 0.4 0.5 0.3 0.6 1.1 0.5 0.4 0.6 0.2 0.6 1.1 0.5-0.4 0.6 0.4 0.5 0.6 0.6-0.1 0.5 1.3 0.6-1 0.5-1.9 0.6 0.7 0.5 0.5 0.6-0.2 0.5-1.2 0.6 1.1 0.6 0.2 0.5-1 0.6-0.2 0.5 1.3 0.6 0 0.5-0.6 0.6 1.1 0.5-0.3 0.6-1.1 0.5 0.2 0.6 0.2 0.5 0.3 0.6 0.6 0.5-0.6 0.6 1.2 0.6 0.1 0.5-0.5 0.6-0.4 0.5-0.7 0.6 0 0.5 1.4 0.6 0.7 0.5 0.4 0.6 1.4 0.5 0 0.6-0.2 0.5 0.5 0.6-1.2 0.6 0 0.5 1.7 0.6 0.2 0.5-1.2 0.6-1.9 0.5 0.2 0.6 0.8 0.5-0.4 0.6 0 0.5 0.6 0.6 0.2 0.5 1.3 0.6-0.5 0.6-0.5 0.5 0.6 0.6 0.1 0.5 0.9 0.6 0 0.5-1.3 0.6 0.8 0.5 1.6 0.6-2.4 0.5 0.5 0.6 0.6 0.5-0.7 0.6-0.6 0.6 0.4 0.5 0.9 0.6 0.5 0.5-0.1 0.6 0.8 0.5 0.8 0.6-1 0.5 0 0.6-0.9 0.5-0.6 0.6 0.2 0.5 1.1 0.6 0 0.5-0.1 0.6 0.8 0.6 0.7 0.5-0.3 0.6 0 0.5-0.2 0.6-0.9 0.5 0.7 0.6 0.3 0.5 0.3 0.6 0.5 0.5 0.3 0.6-0.4 0.5-0.7 0.6 0 " fill="none" stroke="#151515" stroke-width="0.7" stroke-opacity="0.9" stroke-linejoin="round"/>
<path d="M296.5 609.9l0.6 0.8 0.5 0.3 0.6-0.8 0.5-0.5 0.6 0.7 0.5-1 0.6-1.4 0.5-0.2 0.6 0.4 0.5-0.7 0.6-0.5 0.5 1.3 0.6 0.1 0.6 0.7 0.5 0.3 0.6-1.1 0.5-0.5 0.6 1.6 0.5 0.9 0.6 0.2 0.5-1.7 0.6-0.9 0.5 2.3 0.6-0.8 0.5-0.9 0.6 1.5 0.5 0 0.6 0.4 0.6-0.6 0.5-0.1 0.6-0.5 0.5 0.2 0.6 0.1 0.5-0.1 0.6-1.8 0.5-1.3 0.6 0.6 0.5 1.2 0.6 0.8 0.5-1.9 0.6 0.1 0.6 0.8 0.5 0.4 0.6-0.8 0.5 0 0.6-0.1 0.5 0.7 0.6 0.1 0.5-1.2 0.6 0.8 0.5-0.2 0.6 0.1 0.5-0.9 0.6-1 0.6 0.7 0.5 1 0.6-1.6 0.5-0.5 0.6-0.2 0.5-0.6 0.6 1.2 0.5 0.2 0.6-0.2 0.5-0.5 0.6 0.8 0.5 1 0.6-0.6 0.6-0.5 0.5 0.1 0.6 0.4 0.5 0.9 0.6-0.5 0.5-0.1 0.6 1.3 0.5-0.4 0.6 0.1 0.5 0 0.6-0.6 0.5-0.1 0.6-0.7 0.5 1.1 0.6 0.6 0.6 0.2 0.5-0.3 0.6-0.6 0.5 0 0.6-0.1 0.5 1.8 0.6-0.5 0.5-0.3 0.6 1.8 0.5 0.6 0.6-1.9 0.5-0.2 0.6 0.6 0.6-0.1 0.5-0.6 0.6 0.1 0.5 1.4 0.6-0.2 0.5 0.1 0.6-0.9 0.5-0.4 0.6 0.7 0.5-0.1 0.6 0.3 0.5 1 0.6 0.4 0.6 0.1 0.5-1.4 0.6-1 0.5 0.7 0.6 0.4 0.5 0.1 0.6 0 0.5-0.5 0.6 1.6 0.5-0.7 0.6 0.4 0.5 0.7 0.6-1.3 0.6-0.1 0.5-0.5 0.6 0.8 0.5 0.3 0.6 0.8 0.5 0.6 0.6-0.7 0.5-1.3 0.6 0.6 0.5-0.2 0.6-0.5 0.5 1.8 0.6 0.3 0.5-1.7 0.6-0.4 0.6 1 0.5-0.2 0.6-0.3 0.5 0.9 0.6-0.3 0.5-1.2 0.6-0.2 0.5 0 0.6 0.7 0.5-0.2 0.6-0.3 0.5 0.7 0.6 0.6 " fill="none" stroke="#151515" stroke-width="0.7" stroke-opacity="0.9" stroke-linejoin="round"/>
<path d="M296.5 592.3l0.6-4.3 0.5-5.5 0.6-5 0.5-4.1 0.6-5.7 0.5-6 0.6-4 0.5-5.1 0.6-5.7 0.5 0.6 0.6 2.3 0.5 0.7 0.6-0.2 0.6 2.8 0.5 2.4 0.6 1.6 0.5 2.2 0.6 2.1 0.5-0.1 0.6 2.2 0.5 1.1 0.6 0.9 0.5 2.3 0.6 1.2 0.5 0.5 0.6 0.8 0.5 1.4 0.6 1 0.6 0.2 0.5-0.1 0.6 1.3 0.5 1.7 0.6 0.4 0.5 0.2 0.6 0.9 0.5 2.2 0.6 0.9 0.5 0.6 0.6 1.2 0.5 0.5 0.6 1.3 0.6 1.4 0.5 0.7 0.6-1.1 0.5 0.6 0.6 1.7 0.5 0.6 0.6 1.4 0.5-0.1 0.6-1.5 0.5 1.2 0.6 1 0.5 0.7 0.6 1.6 0.6 0.2 0.5 1.1 0.6-0.2 0.5 1.8 0.6 0.8 0.5 0.7 0.6 0.8 0.5-0.8 0.6-0.2 0.5 2 0.6 0.7 0.5-0.7 0.6 1.1 0.6 0.3 0.5 1.1 0.6 1.2 0.5-0.8 0.6-0.4 0.5 1.2 0.6 1.4 0.5 0.8 0.6-0.6 0.5 0.1 0.6-1 0.5 0.9 0.6 1 0.5-0.7 0.6-0.6 0.6-0.3 0.5-1.6 0.6-0.5 0.5 1.4 0.6 1.5 0.5-0.9 0.6-0.2 0.5 0.4 0.6-0.1 0.5 1.4 0.6-0.5 0.5 0.8 0.6-0.2 0.6 0.4 0.5 0.9 0.6 1 0.5 0.1 0.6-0.9 0.5 0.6 0.6 0 0.5 0.6 0.6 1.2 0.5-0.2 0.6-1 0.5 0.4 0.6 0.5 0.6 0.9 0.5-0.5 0.6-0.6 0.5-0.2 0.6-0.1 0.5 0.9 0.6-0.4 0.5-0.9 0.6-0.3 0.5 0.1 0.6 1.1 0.5 0.8 0.6 0.1 0.6 0 0.5-0.1 0.6 0.4 0.5-0.2 0.6 0.6 0.5 0.5 0.6 0 0.5 0.8 0.6-0.1 0.5 0.7 0.6-1.1 0.5-0.7 0.6 0.4 0.5 0.9 0.6 0.5 0.6 0.6 0.5 1 0.6-0.5 0.5-1 0.6-0.2 0.5 0 0.6 0.7 0.5 1.6 0.6-0.2 0.5-1.3 0.6-0.6 0.5 1.6 0.6 0 " fill="none" stroke="#151515" stroke-width="0.7" stroke-opacity="0.9" stroke-linejoin="round"/>
<path d="M296.5 606.4l0.6-4 0.5-4.8 0.6-3.9 0.5-3.2 0.6-3.9 0.5-3 0.6-3.6 0.5-5.1 0.6-3.8 0.5-5 0.6-4.5 0.5-3.4 0.6-3.9 0.6-1.2 0.5 1.1 0.6 0.7 0.5 1.4 0.6 1 0.5 0.5 0.6 1.9 0.5 1.1 0.6 2.3 0.5 0.2 0.6 1 0.5 2.7 0.6 0.4 0.5 0.1 0.6 1.7 0.6 0.7 0.5 0.9 0.6 1 0.5 0.8 0.6 0.5 0.5 1 0.6 1.5 0.5 0.7 0.6-0.1 0.5 0.9 0.6 2.2 0.5 1 0.6-0.3 0.6 0.6 0.5 1.4 0.6 1.3 0.5 1 0.6-0.1 0.5 0.3 0.6 0.4 0.5 0.1 0.6 0.9 0.5 1.8 0.6 1.1 0.5 1.4 0.6 0.4 0.6 0.6 0.5 0.9 0.6 0.5 0.5-0.3 0.6-0.1 0.5 2 0.6 0.2 0.5 0.5 0.6 0 0.5 1.3 0.6 1.5 0.5-0.9 0.6-0.6 0.6 0 0.5 1.7 0.6 1.2 0.5-0.1 0.6-0.2 0.5-0.3 0.6 1.3 0.5 1 0.6-0.4 0.5 2.1 0.6 0.6 0.5-0.9 0.6 0.1 0.5-0.3 0.6-0.7 0.6 0 0.5 0.4 0.6-0.2 0.5 0.4 0.6 1.2 0.5 0.5 0.6 1 0.5 0.3 0.6-0.8 0.5 0.3 0.6 0.8 0.5 0.6 0.6 0 0.6 0.9 0.5 1.1 0.6 1.1 0.5-0.4 0.6 0.2 0.5 2.7 0.6 0.7 0.5-1.3 0.6 0.3 0.5-0.2 0.6 0.2 0.5 0.2 0.6 0.6 0.6 0.9 0.5 1 0.6-0.4 0.5-0.5 0.6-0.2 0.5-0.1 0.6 0.7 0.5 0.2 0.6 0.8 0.5 0 0.6 1.3 0.5 0.7 0.6-0.5 0.6 0.4 0.5-0.1 0.6 0.7 0.5 0.5 0.6 0 0.5-0.8 0.6-0.9 0.5 1.6 0.6 0.8 0.5-0.9 0.6 0.3 0.5 0.5 0.6-1.2 0.5-0.3 0.6 1.8 0.6 0.6 0.5 0.4 0.6 0.2 0.5 0.8 0.6 0.8 0.5-0.1 0.6 0 0.5-0.6 0.6-0.7 0.5-0.2 0.6 0.2 0.5-0.5 0.6 1.2 " fill="none" stroke="#151515" stroke-width="0.7" stroke-opacity="0.9" stroke-linejoin="round"/>
<path d="M296.5 593.5l0.6-1.6 0.5-2.3 0.6-3 0.5-2.6 0.6-2.7 0.5-2.8 0.6-2.7 0.5-2.8 0.6-2.9 0.5-2.9 0.6-2.3 0.5-1.9 0.6-0.6 0.6-0.4 0.5 0.7 0.6 1.2 0.5 0.9 0.6 1.4 0.5 0.8 0.6 0.9 0.5 1.4 0.6 1.2 0.5 1.3 0.6 1.3 0.5 1 0.6 1.1 0.5 1.4 0.6 1.3 0.6 1 0.5 1.2 0.6 0.8 0.5 1.4 0.6 1.6 0.5 1.4 0.6 1.4 0.5 0.5 0.6 1 0.5 0.7 0.6 0.5 0.5 1 0.6 0 0.6 0.7 0.5 0.9 0.6 0.7 0.5 0.8 0.6 0.6 0.5 0.4 0.6 0.3 0.5 0.7 0.6 0.4 0.5 0.6 0.6 0.5 0.5 0.5 0.6 0.6 0.6 0.6 0.5 0.4 0.6 0.2 0.5 0.2 0.6 0.6 0.5 0.6 0.6 0.6 0.5 0.4 0.6 0.3 0.5 0.6 0.6 0.2 0.5 0.4 0.6 0.4 0.6 0.1 0.5 0.3 0.6 0.3 0.5 0 0.6 0.2 0.5 0.4 0.6 0.2 0.5 0.2 0.6 0.7 0.5 0.2 0.6 0.3 0.5 0.4 0.6-0.3 0.5 0.3 0.6 0 0.6 0.1 0.5 0.5 0.6 0.4 0.5-0.1 0.6 0.4 0.5-0.1 0.6-0.1 0.5 0.5 0.6 0 0.5 0.5 0.6 0.4 0.5 0.1 0.6 0.2 0.6-0.2 0.5-0.1 0.6 0.3 0.5 0.2 0.6 0.4 0.5 0.2 0.6 0.3 0.5 0.1 0.6-0.1 0.5-0.1 0.6 0 0.5 0 0.6 0.2 0.6-0.1 0.5-0.2 0.6 0 0.5-0.1 0.6 0.1 0.5-0.1 0.6-0.1 0.5-0.5 0.6-0.2 0.5-0.1 0.6 0.1 0.5 0.2 0.6-0.4 0.6-0.4 0.5-0.1 0.6-0.4 0.5 0.2 0.6 0.5 0.5-0.4 0.6 0.1 0.5 0 0.6-0.1 0.5 0 0.6 0.3 0.5 0.2 0.6-0.1 0.5 0.3 0.6 0.4 0.6 0 0.5 0.5 0.6 0.4 0.5-0.3 0.6 0.2 0.5 0.2 0.6-0.1 0.5 0.7 0.6 0.3 0.5 0.5 0.6 0.3 0.5-0.3 0.6-0.1 " fill="none" stroke="#1a8582" stroke-width="2.7" stroke-linejoin="round" stroke-linecap="round"/>
<text x="338.80" y="523.00" font-size="13.5" fill="#111" text-anchor="middle" font-weight="bold" >Trials 24 - 29</text>
<line x1="395.50" y1="525.80" x2="395.50" y2="623.70" stroke="#474747" stroke-width="2.5" />
<line x1="394.30" y1="622.50" x2="478.50" y2="622.50" stroke="#474747" stroke-width="2.5" />
<line x1="393.50" y1="549.00" x2="395.50" y2="549.00" stroke="#474747" stroke-width="1" />
<line x1="393.50" y1="577.30" x2="395.50" y2="577.30" stroke="#474747" stroke-width="1" />
<line x1="393.50" y1="605.60" x2="395.50" y2="605.60" stroke="#474747" stroke-width="1" />
<line x1="437.00" y1="622.50" x2="437.00" y2="624.90" stroke="#474747" stroke-width="1.2" />
<line x1="478.50" y1="622.50" x2="478.50" y2="624.90" stroke="#474747" stroke-width="1.2" />
<path d="M395.5 581.4l0.6-4.3 0.5-5.3 0.6-6.8 0.5-6.3 0.6-5.1 0.5-5.3 0.6-5 0.6-6.3 0.5 0 0.6 2.2 0.5 1.5 0.6 1.5 0.5 0.5 0.6 1.5 0.6 0.7 0.5 0.9 0.6 2.3 0.5 1.5 0.6-0.3 0.5 1.5 0.6 2.2 0.6 3.3 0.5 2 0.6 0.1 0.5-0.3 0.6 1.9 0.5 2.1 0.6 1.4 0.6 0.4 0.5 1.1 0.6 2 0.5 1.2 0.6 0.5 0.5 0.9 0.6 1.1 0.6 0.5 0.5 1.1 0.6 1.4 0.5 0.9 0.6 0.6 0.5 1.3 0.6 1.1 0.6 1.2 0.5 0 0.6 1.8 0.5 1.8 0.6 0.9 0.5 1.3 0.6 1.3 0.6 1 0.5 0.4 0.6 0.9 0.5 0.3 0.6 1.1 0.5-0.6 0.6-0.5 0.6 0.9 0.5 0.2 0.6 1.2 0.5-0.4 0.6 0 0.5 1.6 0.6 0.9 0.6-0.1 0.5 2 0.6 0.7 0.5 1.2 0.6 0.9 0.5 0.5 0.6 0.5 0.6 0.2 0.5 0 0.6-0.6 0.5 0.5 0.6-0.1 0.5 0.6 0.6-0.1 0.5 0.7 0.6 1.3 0.6 0.2 0.5-0.3 0.6 0 0.5-0.7 0.6 1.1 0.5 0.9 0.6 0.3 0.6 0.1 0.5 1.2 0.6 1.1 0.5-0.8 0.6-0.7 0.5 0.3 0.6 1.2 0.6 0.2 0.5 1 0.6-0.2 0.5 0.4 0.6 0.9 0.5-1.3 0.6 0.5 0.6 1.1 0.5-0.1 0.6-0.9 0.5-0.7 0.6-0.5 0.5 0.7 0.6-0.6 0.6 0.1 0.5-0.1 0.6 0.3 0.5 0.5 0.6 0.2 0.5 0.8 0.6 0.4 0.6-1.4 0.5-0.2 0.6 1.6 0.5-0.7 0.6-0.4 0.5 0.8 0.6 0.3 0.6-0.2 0.5 1.1 0.6 0.3 0.5-1.2 0.6-1 0.5 0.5 0.6 0.5 0.6 1.7 0.5-0.7 0.6-0.7 0.5 0.9 0.6-0.2 0.5-2.3 0.6 0 0.6 1.8 0.5 0.6 0.6 0 0.5 0.2 0.6 0.3 0.5-0.4 0.6-0.7 0.6-0.2 0.5-0.4 0.6-0.7 0.5 0.3 0.6 0 0.5 0.5 0.6-0.5 " fill="none" stroke="#151515" stroke-width="0.7" stroke-opacity="0.9" stroke-linejoin="round"/>
<path d="M395.5 592.8l0.6-7.8 0.5-8.5 0.6-7.6 0.5-6.5 0.6-7 0.5-7.3 0.6-6.8 0.6-0.6 0.5 2.6 0.6 1.4 0.5 3.8 0.6 3.1 0.5 4.1 0.6 4.2 0.6 2.9 0.5 3.6 0.6 0.7 0.5 1.4 0.6 2.9 0.5 2.7 0.6 4.9 0.6 2.2 0.5 1.7 0.6 2.1 0.5 0.6 0.6 0.8 0.5 0.3 0.6 0.6 0.6 1.7 0.5 1 0.6-0.5 0.5 0.7 0.6 0 0.5 0.3 0.6 0.9 0.6 1.3 0.5-0.2 0.6 1 0.5 1.1 0.6-0.1 0.5 0.6 0.6 0.8 0.6 1.3 0.5 0.9 0.6 0.6 0.5 0 0.6-0.2 0.5 0.8 0.6 0.3 0.6 0 0.5 0.9 0.6 1.3 0.5 0.4 0.6 0.7 0.5-0.1 0.6-0.9 0.6-0.3 0.5 1.4 0.6 0.9 0.5-0.3 0.6 0.6 0.5-0.5 0.6-0.3 0.6 1.5 0.5 0.5 0.6-0.7 0.5 0.7 0.6-0.4 0.5-1 0.6-0.5 0.6 1.3 0.5 1.5 0.6 0.5 0.5 0.6 0.6 0.2 0.5 0.9 0.6-0.2 0.5 0.2 0.6 0.1 0.6-1.2 0.5 2.1 0.6 1.3 0.5-1.4 0.6-1.4 0.5-0.2 0.6 0.5 0.6-1 0.5 0.6 0.6 1.9 0.5 0.8 0.6 0.3 0.5-0.6 0.6-0.5 0.6 0.9 0.5-0.5 0.6 0.2 0.5 1.1 0.6-0.6 0.5-0.1 0.6 0.1 0.6 0.1 0.5 0.2 0.6-0.6 0.5 0.1 0.6 0.8 0.5 0 0.6-0.3 0.6 0.2 0.5-0.7 0.6-0.4 0.5 1.1 0.6-0.7 0.5 0.8 0.6 0.9 0.6 0.2 0.5 0.4 0.6 0.2 0.5 0.2 0.6 0.2 0.5-0.5 0.6 0.3 0.6-0.3 0.5-0.1 0.6 0.3 0.5 0.3 0.6 0.4 0.5 0.1 0.6-0.6 0.6 0.1 0.5 0.5 0.6-0.4 0.5-0.8 0.6 1.3 0.5 0.8 0.6 0.5 0.6 0.7 0.5-0.4 0.6 0.4 0.5 0.1 0.6 1.3 0.5-0.5 0.6 0 0.6 0.7 0.5 0 0.6-0.6 0.5-0.3 0.6 0.8 0.5 0.2 0.6 0.2 " fill="none" stroke="#151515" stroke-width="0.7" stroke-opacity="0.9" stroke-linejoin="round"/>
<path d="M395.5 581.8l0.6-5.3 0.5-4.9 0.6-4.1 0.5-5.8 0.6-6.1 0.5-4.8 0.6-3.9 0.6-4 0.5-4.3 0.6 1.1 0.5 0.7 0.6 2.1 0.5 1 0.6 1.4 0.6 1.4 0.5 1.1 0.6 1.7 0.5 2 0.6 1.2 0.5 1 0.6 1 0.6 1.8 0.5 0.9 0.6 1.1 0.5 2.7 0.6 2.6 0.5 0.6 0.6-0.3 0.6 1.4 0.5 2.7 0.6 1.5 0.5 1.1 0.6 1.1 0.5 0.6 0.6 2.4 0.6 1.3 0.5 0.5 0.6-0.3 0.5 0.5 0.6 2.3 0.5 1 0.6 1.8 0.6 0.6 0.5-0.4 0.6 1.7 0.5 0.5 0.6-0.7 0.5 0.6 0.6 2.7 0.6 1.5 0.5 0.7 0.6 0.7 0.5 1.3 0.6 1.1 0.5 0.4 0.6-0.7 0.6 0.6 0.5 0.9 0.6 1.7 0.5-0.3 0.6-0.1 0.5 0.6 0.6 1.1 0.6 0.8 0.5-0.4 0.6 1.3 0.5 1.8 0.6 0.4 0.5 0.2 0.6 0.2 0.6-0.7 0.5 0.1 0.6-0.1 0.5 0.4 0.6 1 0.5 0.5 0.6-0.1 0.5 0 0.6 0.4 0.6 0.8 0.5 0.5 0.6 0.3 0.5 0.3 0.6-0.6 0.5-0.6 0.6 1.4 0.6 1 0.5-0.7 0.6-1.2 0.5 0.3 0.6 1.7 0.5 1.3 0.6-1.5 0.6-0.9 0.5 0.8 0.6 1 0.5 0 0.6 0 0.5 0.7 0.6 0.1 0.6-0.2 0.5 1 0.6-1.6 0.5-0.5 0.6 0.6 0.5-0.4 0.6 0.4 0.6-0.5 0.5 0.4 0.6 0.3 0.5-0.1 0.6 0.1 0.5 1.6 0.6 1.1 0.6-0.3 0.5 0.7 0.6-1.1 0.5-0.7 0.6 0.1 0.5 0.8 0.6 0.4 0.6-2 0.5 0.1 0.6 1.9 0.5 0.3 0.6-0.8 0.5 0.9 0.6 0.4 0.6-0.1 0.5 1 0.6-0.4 0.5-1.6 0.6-0.2 0.5 0.1 0.6-0.1 0.6 1.1 0.5 0.2 0.6-0.8 0.5-0.2 0.6 0.9 0.5 0.5 0.6-0.6 0.6-0.7 0.5-0.7 0.6 1.4 0.5 0.8 0.6-1 0.5-0.3 0.6-0.1 " fill="none" stroke="#151515" stroke-width="0.7" stroke-opacity="0.9" stroke-linejoin="round"/>
<path d="M395.5 580.2l0.6-3.6 0.5-4.2 0.6-5.2 0.5-3.8 0.6-3.5 0.5-5.4 0.6-5.7 0.6-3.5 0.5-4.1 0.6 0.9 0.5 1.4 0.6 4.1 0.5 2.4 0.6-0.7 0.6 1.5 0.5 3.2 0.6 2.8 0.5 0 0.6-0.3 0.5 3 0.6 3.6 0.6 0.7 0.5 0.5 0.6 2.6 0.5 2.5 0.6 0.4 0.5-0.2 0.6 2.7 0.6 1.9 0.5 0 0.6 1.4 0.5 1.4 0.6 0.7 0.5 2 0.6 1.5 0.6 1.1 0.5 0.1 0.6 0.3 0.5 1.8 0.6-0.6 0.5 0.3 0.6 1.4 0.6 2.1 0.5 0.4 0.6-1 0.5 0.4 0.6 1.6 0.5 0.1 0.6-1.4 0.6 1.2 0.5 1.3 0.6 1.9 0.5 1.4 0.6 1.2 0.5-0.3 0.6-1.1 0.6 2.6 0.5 0 0.6-1 0.5 1.5 0.6 1.7 0.5-1.5 0.6 1.4 0.6 1.7 0.5-1.1 0.6 0.5 0.5 1 0.6 0 0.5 0.1 0.6 0.1 0.6-0.1 0.5 2.3 0.6 1.1 0.5 0.3 0.6-0.4 0.5 0 0.6 0.5 0.5 0.4 0.6 1.6 0.6 0.7 0.5-0.6 0.6 0.3 0.5 0.1 0.6-0.5 0.5 0.3 0.6-0.2 0.6 1.4 0.5 0.2 0.6-0.9 0.5 0 0.6 0.3 0.5-0.2 0.6 0.4 0.6 0 0.5 0.6 0.6-0.3 0.5-1.3 0.6 2 0.5 0.7 0.6 0.5 0.6 0.8 0.5 0.7 0.6 0.1 0.5 0 0.6-0.2 0.5-1.1 0.6 1.1 0.6 1.7 0.5-0.6 0.6-1.4 0.5-0.2 0.6-1.1 0.5 0.5 0.6 1.3 0.6-0.3 0.5 0.5 0.6-0.1 0.5 0.5 0.6-0.6 0.5-0.4 0.6 0.6 0.6 1.3 0.5-1 0.6-0.6 0.5 0.2 0.6 0.5 0.5 1.1 0.6-1.8 0.6-0.1 0.5 0.6 0.6-1.2 0.5 1.2 0.6 1.7 0.5-1.7 0.6-0.1 0.6 0.4 0.5-0.9 0.6-0.1 0.5 0.6 0.6 0.3 0.5-1.1 0.6 0.1 0.6 0.5 0.5-1.2 0.6-1 0.5 1.5 0.6 1.3 0.5-1.7 0.6-0.8 " fill="none" stroke="#151515" stroke-width="0.7" stroke-opacity="0.9" stroke-linejoin="round"/>
<path d="M395.5 571.8l0.6-3.7 0.5-3.6 0.6-3.6 0.5-2.9 0.6-2.6 0.5-3.7 0.6-3.6 0.6-2.3 0.5-2.5 0.6-3.2 0.5-1.4 0.6 0.9 0.5 1.6 0.6 0.8 0.6 1.4 0.5 2.2 0.6 2 0.5 1.1 0.6 1.1 0.5 1.5 0.6 1.7 0.6 2.4 0.5 1.6 0.6 2.6 0.5 3.3 0.6 0.8 0.5 0.3 0.6 2 0.6 1.9 0.5 0.7 0.6 0.8 0.5 2.2 0.6 2.3 0.5 1.2 0.6 0.6 0.6 0.4 0.5 1.9 0.6 1.2 0.5 0.9 0.6 1.2 0.5 1.7 0.6 1.3 0.6-1.4 0.5-0.3 0.6 1.5 0.5 0.3 0.6 0.3 0.5 1.7 0.6 1.1 0.6 0.5 0.5-0.2 0.6 1.2 0.5-0.1 0.6 0.4 0.5 1.3 0.6 0.3 0.6 1.8 0.5-0.2 0.6 0.3 0.5 0.9 0.6-0.4 0.5 1.9 0.6 1.7 0.6 0.5 0.5 0.1 0.6 0.5 0.5 2.1 0.6 1 0.5-1.6 0.6 0 0.6 1.8 0.5 0.4 0.6 0.3 0.5-1.5 0.6 0.6 0.5 1.9 0.6 0 0.5-0.8 0.6 0.5 0.6-0.2 0.5 0.4 0.6 0.8 0.5 0.3 0.6 0 0.5-0.6 0.6-0.2 0.6-0.5 0.5 0.6 0.6-0.5 0.5-0.4 0.6 1.1 0.5 1.7 0.6-0.8 0.6-1.7 0.5-0.7 0.6 1.2 0.5 0.6 0.6-0.7 0.5-0.4 0.6-1 0.6 0.2 0.5 0.6 0.6-0.4 0.5 0.9 0.6 0.3 0.5 0.1 0.6-0.1 0.6 0.7 0.5 0.3 0.6-1 0.5 0.3 0.6 1 0.5-0.4 0.6-0.4 0.6 0.3 0.5 0.2 0.6 0.5 0.5-0.1 0.6-0.4 0.5 0.5 0.6-0.4 0.6-0.1 0.5-0.1 0.6-0.6 0.5 1.1 0.6 0.6 0.5 0.5 0.6-0.5 0.6-0.9 0.5 1.2 0.6 0.5 0.5-1.2 0.6 0.1 0.5 0.6 0.6 0.8 0.6 0.3 0.5-0.5 0.6-0.4 0.5 0.6 0.6 0.1 0.5 0.4 0.6 0.4 0.6-0.1 0.5 0.4 0.6-0.1 0.5-0.2 0.6 0.8 0.5 0.4 0.6-0.8 " fill="none" stroke="#151515" stroke-width="0.7" stroke-opacity="0.9" stroke-linejoin="round"/>
<path d="M395.5 574.9l0.6-2.4 0.5-3.1 0.6-4.3 0.5-4.3 0.6-4.3 0.5-4.4 0.6-3.7 0.6-2.9 0.5-1.5 0.6-0.7 0.5 0.4 0.6 1.6 0.5 1.6 0.6 1.4 0.6 1.7 0.5 1.5 0.6 1.3 0.5 1.9 0.6 1.3 0.5 1.5 0.6 1.2 0.6 1 0.5 1.7 0.6 1.7 0.5 1.7 0.6 1.4 0.5 1.3 0.6 0.7 0.6 1.3 0.5 1.6 0.6 1.3 0.5 1.5 0.6 1.2 0.5 1.3 0.6 1.2 0.6 1.2 0.5 1.3 0.6 0.9 0.5 0.8 0.6 0.8 0.5 0.6 0.6 0.9 0.6 1 0.5 1 0.6 0.9 0.5 0.6 0.6 0.7 0.5 0.7 0.6 0.8 0.6 0.8 0.5 0.7 0.6 0.4 0.5 0.4 0.6 0.5 0.5 0.5 0.6 0.4 0.6 0.5 0.5 0.4 0.6 0.3 0.5 0.7 0.6 0.6 0.5 0.7 0.6 0.4 0.6 0.3 0.5 0.7 0.6 0.3 0.5 0.8 0.6 0.6 0.5 0 0.6 0.6 0.6 0.2 0.5 0.8 0.6 0.5 0.5 0.5 0.6 0.5 0.5 0.2 0.6 0.7 0.5 0.5 0.6 0.6 0.6 0.1 0.5 0.1 0.6 0.3 0.5 0 0.6 0.2 0.5 0.3 0.6 0 0.6 0.1 0.5 0.2 0.6 0.4 0.5-0.1 0.6 0 0.5 0.2 0.6-0.1 0.6 0.2 0.5-0.1 0.6-0.2 0.5-0.1 0.6 0.2 0.5 0.2 0.6 0.4 0.6 0.4 0.5-0.2 0.6 0.4 0.5-0.2 0.6 0.1 0.5 0.5 0.6-0.3 0.6 0.6 0.5 0 0.6-0.1 0.5 0.4 0.6 0 0.5 0.2 0.6-0.2 0.6 0.2 0.5 0 0.6 0 0.5 0.5 0.6-0.3 0.5 0 0.6 0.1 0.6-0.2 0.5 0.3 0.6-0.1 0.5 0.1 0.6 0.1 0.5-0.2 0.6-0.1 0.6 0.1 0.5 0.2 0.6-0.1 0.5 0 0.6 0.2 0.5-0.3 0.6 0.2 0.6 0.1 0.5-0.4 0.6 0.2 0.5 0 0.6 0.2 0.5 0 0.6-0.1 0.6 0 0.5-0.1 0.6 0.4 0.5 0.2 0.6 0.2 0.5 0.1 0.6-0.2 " fill="none" stroke="#1a8582" stroke-width="2.7" stroke-linejoin="round" stroke-linecap="round"/>
<text x="437.50" y="523.00" font-size="13.5" fill="#111" text-anchor="middle" font-weight="bold" >Trials 30 - 35</text>
<text x="280.20" y="309.50" font-size="13.3" fill="#5f5f5f" text-anchor="middle" textLength="17" lengthAdjust="spacingAndGlyphs" >0.1</text>
<text x="279.70" y="338.50" font-size="13.3" fill="#5f5f5f" text-anchor="middle" textLength="26" lengthAdjust="spacingAndGlyphs" >0.05</text>
<text x="282.10" y="367.50" font-size="13.3" fill="#5f5f5f" text-anchor="middle" >0</text>
<text x="280.20" y="431.10" font-size="13.3" fill="#5f5f5f" text-anchor="middle" textLength="17" lengthAdjust="spacingAndGlyphs" >0.1</text>
<text x="279.70" y="460.10" font-size="13.3" fill="#5f5f5f" text-anchor="middle" textLength="26" lengthAdjust="spacingAndGlyphs" >0.05</text>
<text x="282.10" y="489.10" font-size="13.3" fill="#5f5f5f" text-anchor="middle" >0</text>
<text x="280.20" y="552.30" font-size="13.3" fill="#5f5f5f" text-anchor="middle" textLength="17" lengthAdjust="spacingAndGlyphs" >0.1</text>
<text x="279.70" y="581.30" font-size="13.3" fill="#5f5f5f" text-anchor="middle" textLength="26" lengthAdjust="spacingAndGlyphs" >0.05</text>
<text x="282.10" y="610.30" font-size="13.3" fill="#5f5f5f" text-anchor="middle" >0</text>
<text x="297.70" y="636.80" font-size="13.5" fill="#5f5f5f" text-anchor="middle" >0</text>
<text x="338.95" y="636.80" font-size="13.5" fill="#5f5f5f" text-anchor="middle" >5</text>
<text x="381.40" y="636.80" font-size="13.5" fill="#5f5f5f" text-anchor="middle" >10</text>
<text x="396.70" y="636.80" font-size="13.5" fill="#5f5f5f" text-anchor="middle" >0</text>
<text x="438.20" y="636.80" font-size="13.5" fill="#5f5f5f" text-anchor="middle" >5</text>
<text x="480.90" y="636.80" font-size="13.5" fill="#5f5f5f" text-anchor="middle" >10</text>
<text x="395.50" y="656.00" font-size="16" fill="#666" text-anchor="middle" textLength="60" lengthAdjust="spacingAndGlyphs" >Time (s)</text>
<rect x="599.40" y="37.80" width="4.98" height="4.98" fill="#000000" />
<rect x="603.78" y="37.80" width="4.98" height="4.98" fill="#e02a1a" />
<rect x="608.16" y="37.80" width="4.98" height="4.98" fill="#e02a1a" />
<rect x="612.54" y="37.80" width="4.98" height="4.98" fill="#e02a1a" />
<rect x="616.92" y="37.80" width="4.98" height="4.98" fill="#e02a1a" />
<rect x="621.30" y="37.80" width="4.98" height="4.98" fill="#e02a1a" />
<rect x="625.68" y="37.80" width="4.98" height="4.98" fill="#e02a1a" />
<rect x="630.06" y="37.80" width="4.98" height="4.98" fill="#e02a1a" />
<rect x="634.44" y="37.80" width="4.98" height="4.98" fill="#e02a1a" />
<rect x="638.82" y="37.80" width="4.98" height="4.98" fill="#a31812" />
<rect x="643.20" y="37.80" width="4.98" height="4.98" fill="#a31812" />
<rect x="647.58" y="37.80" width="4.98" height="4.98" fill="#a31812" />
<rect x="651.96" y="37.80" width="4.98" height="4.98" fill="#a31812" />
<rect x="656.34" y="37.80" width="4.98" height="4.98" fill="#a31812" />
<rect x="660.72" y="37.80" width="4.98" height="4.98" fill="#a31812" />
<rect x="665.10" y="37.80" width="4.98" height="4.98" fill="#a31812" />
<rect x="669.48" y="37.80" width="4.98" height="4.98" fill="#a31812" />
<rect x="673.86" y="37.80" width="4.98" height="4.98" fill="#a31812" />
<rect x="678.24" y="37.80" width="4.98" height="4.98" fill="#a31812" />
<rect x="682.62" y="37.80" width="4.98" height="4.98" fill="#a31812" />
<rect x="687.00" y="37.80" width="4.98" height="4.98" fill="#a31812" />
<rect x="691.38" y="37.80" width="4.98" height="4.98" fill="#4a0c0a" />
<rect x="695.76" y="37.80" width="4.98" height="4.98" fill="#4a0c0a" />
<rect x="700.14" y="37.80" width="4.98" height="4.98" fill="#4a0c0a" />
<rect x="704.52" y="37.80" width="4.98" height="4.98" fill="#4a0c0a" />
<rect x="599.40" y="42.18" width="4.98" height="4.98" fill="#e02a1a" />
<rect x="603.78" y="42.18" width="4.98" height="4.98" fill="#000000" />
<rect x="608.16" y="42.18" width="4.98" height="4.98" fill="#e02a1a" />
<rect x="612.54" y="42.18" width="4.98" height="4.98" fill="#e02a1a" />
<rect x="616.92" y="42.18" width="4.98" height="4.98" fill="#ee5c1a" />
<rect x="621.30" y="42.18" width="4.98" height="4.98" fill="#e02a1a" />
<rect x="625.68" y="42.18" width="4.98" height="4.98" fill="#e02a1a" />
<rect x="630.06" y="42.18" width="4.98" height="4.98" fill="#e02a1a" />
<rect x="634.44" y="42.18" width="4.98" height="4.98" fill="#e02a1a" />
<rect x="638.82" y="42.18" width="4.98" height="4.98" fill="#e02a1a" />
<rect x="643.20" y="42.18" width="4.98" height="4.98" fill="#e02a1a" />
<rect x="647.58" y="42.18" width="4.98" height="4.98" fill="#ee5c1a" />
<rect x="651.96" y="42.18" width="4.98" height="4.98" fill="#ee5c1a" />
<rect x="656.34" y="42.18" width="4.98" height="4.98" fill="#e02a1a" />
<rect x="660.72" y="42.18" width="4.98" height="4.98" fill="#e02a1a" />
<rect x="665.10" y="42.18" width="4.98" height="4.98" fill="#e02a1a" />
<rect x="669.48" y="42.18" width="4.98" height="4.98" fill="#e02a1a" />
<rect x="673.86" y="42.18" width="4.98" height="4.98" fill="#ee5c1a" />
<rect x="678.24" y="42.18" width="4.98" height="4.98" fill="#e02a1a" />
<rect x="682.62" y="42.18" width="4.98" height="4.98" fill="#f6a224" />
<rect x="687.00" y="42.18" width="4.98" height="4.98" fill="#e02a1a" />
<rect x="691.38" y="42.18" width="4.98" height="4.98" fill="#e02a1a" />
<rect x="695.76" y="42.18" width="4.98" height="4.98" fill="#e02a1a" />
<rect x="700.14" y="42.18" width="4.98" height="4.98" fill="#e02a1a" />
<rect x="704.52" y="42.18" width="4.98" height="4.98" fill="#a31812" />
<rect x="599.40" y="46.56" width="4.98" height="4.98" fill="#e02a1a" />
<rect x="603.78" y="46.56" width="4.98" height="4.98" fill="#e02a1a" />
<rect x="608.16" y="46.56" width="4.98" height="4.98" fill="#000000" />
<rect x="612.54" y="46.56" width="4.98" height="4.98" fill="#f8e234" />
<rect x="616.92" y="46.56" width="4.98" height="4.98" fill="#f8e234" />
<rect x="621.30" y="46.56" width="4.98" height="4.98" fill="#f6a224" />
<rect x="625.68" y="46.56" width="4.98" height="4.98" fill="#f8e234" />
<rect x="630.06" y="46.56" width="4.98" height="4.98" fill="#f8e234" />
<rect x="634.44" y="46.56" width="4.98" height="4.98" fill="#f6a224" />
<rect x="638.82" y="46.56" width="4.98" height="4.98" fill="#e02a1a" />
<rect x="643.20" y="46.56" width="4.98" height="4.98" fill="#e02a1a" />
<rect x="647.58" y="46.56" width="4.98" height="4.98" fill="#f6a224" />
<rect x="651.96" y="46.56" width="4.98" height="4.98" fill="#f6a224" />
<rect x="656.34" y="46.56" width="4.98" height="4.98" fill="#e02a1a" />
<rect x="660.72" y="46.56" width="4.98" height="4.98" fill="#f8e234" />
<rect x="665.10" y="46.56" width="4.98" height="4.98" fill="#ee5c1a" />
<rect x="669.48" y="46.56" width="4.98" height="4.98" fill="#ee5c1a" />
<rect x="673.86" y="46.56" width="4.98" height="4.98" fill="#f6a224" />
<rect x="678.24" y="46.56" width="4.98" height="4.98" fill="#e02a1a" />
<rect x="682.62" y="46.56" width="4.98" height="4.98" fill="#f6a224" />
<rect x="687.00" y="46.56" width="4.98" height="4.98" fill="#e02a1a" />
<rect x="691.38" y="46.56" width="4.98" height="4.98" fill="#e02a1a" />
<rect x="695.76" y="46.56" width="4.98" height="4.98" fill="#e02a1a" />
<rect x="700.14" y="46.56" width="4.98" height="4.98" fill="#e02a1a" />
<rect x="704.52" y="46.56" width="4.98" height="4.98" fill="#e02a1a" />
<rect x="599.40" y="50.94" width="4.98" height="4.98" fill="#e02a1a" />
<rect x="603.78" y="50.94" width="4.98" height="4.98" fill="#e02a1a" />
<rect x="608.16" y="50.94" width="4.98" height="4.98" fill="#f8e234" />
<rect x="612.54" y="50.94" width="4.98" height="4.98" fill="#000000" />
<rect x="616.92" y="50.94" width="4.98" height="4.98" fill="#fbf38c" />
<rect x="621.30" y="50.94" width="4.98" height="4.98" fill="#f6a224" />
<rect x="625.68" y="50.94" width="4.98" height="4.98" fill="#f6a224" />
<rect x="630.06" y="50.94" width="4.98" height="4.98" fill="#f8e234" />
<rect x="634.44" y="50.94" width="4.98" height="4.98" fill="#f6a224" />
<rect x="638.82" y="50.94" width="4.98" height="4.98" fill="#e02a1a" />
<rect x="643.20" y="50.94" width="4.98" height="4.98" fill="#e02a1a" />
<rect x="647.58" y="50.94" width="4.98" height="4.98" fill="#f6a224" />
<rect x="651.96" y="50.94" width="4.98" height="4.98" fill="#f6a224" />
<rect x="656.34" y="50.94" width="4.98" height="4.98" fill="#e02a1a" />
<rect x="660.72" y="50.94" width="4.98" height="4.98" fill="#f8e234" />
<rect x="665.10" y="50.94" width="4.98" height="4.98" fill="#f6a224" />
<rect x="669.48" y="50.94" width="4.98" height="4.98" fill="#f6a224" />
<rect x="673.86" y="50.94" width="4.98" height="4.98" fill="#f8e234" />
<rect x="678.24" y="50.94" width="4.98" height="4.98" fill="#e02a1a" />
<rect x="682.62" y="50.94" width="4.98" height="4.98" fill="#f8e234" />
<rect x="687.00" y="50.94" width="4.98" height="4.98" fill="#ee5c1a" />
<rect x="691.38" y="50.94" width="4.98" height="4.98" fill="#e02a1a" />
<rect x="695.76" y="50.94" width="4.98" height="4.98" fill="#e02a1a" />
<rect x="700.14" y="50.94" width="4.98" height="4.98" fill="#4a0c0a" />
<rect x="704.52" y="50.94" width="4.98" height="4.98" fill="#e02a1a" />
<rect x="599.40" y="55.32" width="4.98" height="4.98" fill="#e02a1a" />
<rect x="603.78" y="55.32" width="4.98" height="4.98" fill="#ee5c1a" />
<rect x="608.16" y="55.32" width="4.98" height="4.98" fill="#f8e234" />
<rect x="612.54" y="55.32" width="4.98" height="4.98" fill="#fbf38c" />
<rect x="616.92" y="55.32" width="4.98" height="4.98" fill="#000000" />
<rect x="621.30" y="55.32" width="4.98" height="4.98" fill="#ee5c1a" />
<rect x="625.68" y="55.32" width="4.98" height="4.98" fill="#f6a224" />
<rect x="630.06" y="55.32" width="4.98" height="4.98" fill="#f8e234" />
<rect x="634.44" y="55.32" width="4.98" height="4.98" fill="#f6a224" />
<rect x="638.82" y="55.32" width="4.98" height="4.98" fill="#e02a1a" />
<rect x="643.20" y="55.32" width="4.98" height="4.98" fill="#f6a224" />
<rect x="647.58" y="55.32" width="4.98" height="4.98" fill="#f6a224" />
<rect x="651.96" y="55.32" width="4.98" height="4.98" fill="#f8e234" />
<rect x="656.34" y="55.32" width="4.98" height="4.98" fill="#e02a1a" />
<rect x="660.72" y="55.32" width="4.98" height="4.98" fill="#f8e234" />
<rect x="665.10" y="55.32" width="4.98" height="4.98" fill="#ee5c1a" />
<rect x="669.48" y="55.32" width="4.98" height="4.98" fill="#f6a224" />
<rect x="673.86" y="55.32" width="4.98" height="4.98" fill="#e02a1a" />
<rect x="678.24" y="55.32" width="4.98" height="4.98" fill="#a31812" />
<rect x="682.62" y="55.32" width="4.98" height="4.98" fill="#f6a224" />
<rect x="687.00" y="55.32" width="4.98" height="4.98" fill="#ee5c1a" />
<rect x="691.38" y="55.32" width="4.98" height="4.98" fill="#a31812" />
<rect x="695.76" y="55.32" width="4.98" height="4.98" fill="#e02a1a" />
<rect x="700.14" y="55.32" width="4.98" height="4.98" fill="#f6a224" />
<rect x="704.52" y="55.32" width="4.98" height="4.98" fill="#f6a224" />
<rect x="599.40" y="59.70" width="4.98" height="4.98" fill="#e02a1a" />
<rect x="603.78" y="59.70" width="4.98" height="4.98" fill="#e02a1a" />
<rect x="608.16" y="59.70" width="4.98" height="4.98" fill="#f6a224" />
<rect x="612.54" y="59.70" width="4.98" height="4.98" fill="#f6a224" />
<rect x="616.92" y="59.70" width="4.98" height="4.98" fill="#ee5c1a" />
<rect x="621.30" y="59.70" width="4.98" height="4.98" fill="#000000" />
<rect x="625.68" y="59.70" width="4.98" height="4.98" fill="#ee5c1a" />
<rect x="630.06" y="59.70" width="4.98" height="4.98" fill="#f6a224" />
<rect x="634.44" y="59.70" width="4.98" height="4.98" fill="#f6a224" />
<rect x="638.82" y="59.70" width="4.98" height="4.98" fill="#ee5c1a" />
<rect x="643.20" y="59.70" width="4.98" height="4.98" fill="#a31812" />
<rect x="647.58" y="59.70" width="4.98" height="4.98" fill="#f6a224" />
<rect x="651.96" y="59.70" width="4.98" height="4.98" fill="#e02a1a" />
<rect x="656.34" y="59.70" width="4.98" height="4.98" fill="#e02a1a" />
<rect x="660.72" y="59.70" width="4.98" height="4.98" fill="#f6a224" />
<rect x="665.10" y="59.70" width="4.98" height="4.98" fill="#f6a224" />
<rect x="669.48" y="59.70" width="4.98" height="4.98" fill="#e02a1a" />
<rect x="673.86" y="59.70" width="4.98" height="4.98" fill="#ee5c1a" />
<rect x="678.24" y="59.70" width="4.98" height="4.98" fill="#f6a224" />
<rect x="682.62" y="59.70" width="4.98" height="4.98" fill="#ee5c1a" />
<rect x="687.00" y="59.70" width="4.98" height="4.98" fill="#f6a224" />
<rect x="691.38" y="59.70" width="4.98" height="4.98" fill="#e02a1a" />
<rect x="695.76" y="59.70" width="4.98" height="4.98" fill="#e02a1a" />
<rect x="700.14" y="59.70" width="4.98" height="4.98" fill="#e02a1a" />
<rect x="704.52" y="59.70" width="4.98" height="4.98" fill="#e02a1a" />
<rect x="599.40" y="64.08" width="4.98" height="4.98" fill="#e02a1a" />
<rect x="603.78" y="64.08" width="4.98" height="4.98" fill="#e02a1a" />
<rect x="608.16" y="64.08" width="4.98" height="4.98" fill="#f8e234" />
<rect x="612.54" y="64.08" width="4.98" height="4.98" fill="#f6a224" />
<rect x="616.92" y="64.08" width="4.98" height="4.98" fill="#f6a224" />
<rect x="621.30" y="64.08" width="4.98" height="4.98" fill="#ee5c1a" />
<rect x="625.68" y="64.08" width="4.98" height="4.98" fill="#000000" />
<rect x="630.06" y="64.08" width="4.98" height="4.98" fill="#f8e234" />
<rect x="634.44" y="64.08" width="4.98" height="4.98" fill="#f8e234" />
<rect x="638.82" y="64.08" width="4.98" height="4.98" fill="#f6a224" />
<rect x="643.20" y="64.08" width="4.98" height="4.98" fill="#f6a224" />
<rect x="647.58" y="64.08" width="4.98" height="4.98" fill="#f8e234" />
<rect x="651.96" y="64.08" width="4.98" height="4.98" fill="#f8e234" />
<rect x="656.34" y="64.08" width="4.98" height="4.98" fill="#f6a224" />
<rect x="660.72" y="64.08" width="4.98" height="4.98" fill="#f8e234" />
<rect x="665.10" y="64.08" width="4.98" height="4.98" fill="#f6a224" />
<rect x="669.48" y="64.08" width="4.98" height="4.98" fill="#ee5c1a" />
<rect x="673.86" y="64.08" width="4.98" height="4.98" fill="#f8e234" />
<rect x="678.24" y="64.08" width="4.98" height="4.98" fill="#f6a224" />
<rect x="682.62" y="64.08" width="4.98" height="4.98" fill="#ee5c1a" />
<rect x="687.00" y="64.08" width="4.98" height="4.98" fill="#f6a224" />
<rect x="691.38" y="64.08" width="4.98" height="4.98" fill="#e02a1a" />
<rect x="695.76" y="64.08" width="4.98" height="4.98" fill="#ee5c1a" />
<rect x="700.14" y="64.08" width="4.98" height="4.98" fill="#e02a1a" />
<rect x="704.52" y="64.08" width="4.98" height="4.98" fill="#e02a1a" />
<rect x="599.40" y="68.46" width="4.98" height="4.98" fill="#e02a1a" />
<rect x="603.78" y="68.46" width="4.98" height="4.98" fill="#e02a1a" />
<rect x="608.16" y="68.46" width="4.98" height="4.98" fill="#f8e234" />
<rect x="612.54" y="68.46" width="4.98" height="4.98" fill="#f8e234" />
<rect x="616.92" y="68.46" width="4.98" height="4.98" fill="#f8e234" />
<rect x="621.30" y="68.46" width="4.98" height="4.98" fill="#f6a224" />
<rect x="625.68" y="68.46" width="4.98" height="4.98" fill="#f8e234" />
<rect x="630.06" y="68.46" width="4.98" height="4.98" fill="#000000" />
<rect x="634.44" y="68.46" width="4.98" height="4.98" fill="#f8e234" />
<rect x="638.82" y="68.46" width="4.98" height="4.98" fill="#f6a224" />
<rect x="643.20" y="68.46" width="4.98" height="4.98" fill="#f6a224" />
<rect x="647.58" y="68.46" width="4.98" height="4.98" fill="#fbf38c" />
<rect x="651.96" y="68.46" width="4.98" height="4.98" fill="#fbf38c" />
<rect x="656.34" y="68.46" width="4.98" height="4.98" fill="#f8e234" />
<rect x="660.72" y="68.46" width="4.98" height="4.98" fill="#fbf38c" />
<rect x="665.10" y="68.46" width="4.98" height="4.98" fill="#f8e234" />
<rect x="669.48" y="68.46" width="4.98" height="4.98" fill="#f6a224" />
<rect x="673.86" y="68.46" width="4.98" height="4.98" fill="#f8e234" />
<rect x="678.24" y="68.46" width="4.98" height="4.98" fill="#f8e234" />
<rect x="682.62" y="68.46" width="4.98" height="4.98" fill="#f8e234" />
<rect x="687.00" y="68.46" width="4.98" height="4.98" fill="#f8e234" />
<rect x="691.38" y="68.46" width="4.98" height="4.98" fill="#f8e234" />
<rect x="695.76" y="68.46" width="4.98" height="4.98" fill="#f6a224" />
<rect x="700.14" y="68.46" width="4.98" height="4.98" fill="#ee5c1a" />
<rect x="704.52" y="68.46" width="4.98" height="4.98" fill="#e02a1a" />
<rect x="599.40" y="72.84" width="4.98" height="4.98" fill="#e02a1a" />
<rect x="603.78" y="72.84" width="4.98" height="4.98" fill="#e02a1a" />
<rect x="608.16" y="72.84" width="4.98" height="4.98" fill="#f6a224" />
<rect x="612.54" y="72.84" width="4.98" height="4.98" fill="#f6a224" />
<rect x="616.92" y="72.84" width="4.98" height="4.98" fill="#f6a224" />
<rect x="621.30" y="72.84" width="4.98" height="4.98" fill="#f6a224" />
<rect x="625.68" y="72.84" width="4.98" height="4.98" fill="#f8e234" />
<rect x="630.06" y="72.84" width="4.98" height="4.98" fill="#f8e234" />
<rect x="634.44" y="72.84" width="4.98" height="4.98" fill="#000000" />
<rect x="638.82" y="72.84" width="4.98" height="4.98" fill="#f6a224" />
<rect x="643.20" y="72.84" width="4.98" height="4.98" fill="#ee5c1a" />
<rect x="647.58" y="72.84" width="4.98" height="4.98" fill="#f8e234" />
<rect x="651.96" y="72.84" width="4.98" height="4.98" fill="#f8e234" />
<rect x="656.34" y="72.84" width="4.98" height="4.98" fill="#f8e234" />
<rect x="660.72" y="72.84" width="4.98" height="4.98" fill="#f8e234" />
<rect x="665.10" y="72.84" width="4.98" height="4.98" fill="#f8e234" />
<rect x="669.48" y="72.84" width="4.98" height="4.98" fill="#e02a1a" />
<rect x="673.86" y="72.84" width="4.98" height="4.98" fill="#f8e234" />
<rect x="678.24" y="72.84" width="4.98" height="4.98" fill="#f8e234" />
<rect x="682.62" y="72.84" width="4.98" height="4.98" fill="#f6a224" />
<rect x="687.00" y="72.84" width="4.98" height="4.98" fill="#f6a224" />
<rect x="691.38" y="72.84" width="4.98" height="4.98" fill="#e02a1a" />
<rect x="695.76" y="72.84" width="4.98" height="4.98" fill="#ee5c1a" />
<rect x="700.14" y="72.84" width="4.98" height="4.98" fill="#e02a1a" />
<rect x="704.52" y="72.84" width="4.98" height="4.98" fill="#e02a1a" />
<rect x="599.40" y="77.22" width="4.98" height="4.98" fill="#a31812" />
<rect x="603.78" y="77.22" width="4.98" height="4.98" fill="#e02a1a" />
<rect x="608.16" y="77.22" width="4.98" height="4.98" fill="#e02a1a" />
<rect x="612.54" y="77.22" width="4.98" height="4.98" fill="#e02a1a" />
<rect x="616.92" y="77.22" width="4.98" height="4.98" fill="#e02a1a" />
<rect x="621.30" y="77.22" width="4.98" height="4.98" fill="#ee5c1a" />
<rect x="625.68" y="77.22" width="4.98" height="4.98" fill="#f6a224" />
<rect x="630.06" y="77.22" width="4.98" height="4.98" fill="#f6a224" />
<rect x="634.44" y="77.22" width="4.98" height="4.98" fill="#f6a224" />
<rect x="638.82" y="77.22" width="4.98" height="4.98" fill="#000000" />
<rect x="643.20" y="77.22" width="4.98" height="4.98" fill="#e02a1a" />
<rect x="647.58" y="77.22" width="4.98" height="4.98" fill="#f6a224" />
<rect x="651.96" y="77.22" width="4.98" height="4.98" fill="#e02a1a" />
<rect x="656.34" y="77.22" width="4.98" height="4.98" fill="#e02a1a" />
<rect x="660.72" y="77.22" width="4.98" height="4.98" fill="#f6a224" />
<rect x="665.10" y="77.22" width="4.98" height="4.98" fill="#f8e234" />
<rect x="669.48" y="77.22" width="4.98" height="4.98" fill="#e02a1a" />
<rect x="673.86" y="77.22" width="4.98" height="4.98" fill="#e02a1a" />
<rect x="678.24" y="77.22" width="4.98" height="4.98" fill="#e02a1a" />
<rect x="682.62" y="77.22" width="4.98" height="4.98" fill="#f6a224" />
<rect x="687.00" y="77.22" width="4.98" height="4.98" fill="#e02a1a" />
<rect x="691.38" y="77.22" width="4.98" height="4.98" fill="#e02a1a" />
<rect x="695.76" y="77.22" width="4.98" height="4.98" fill="#f6a224" />
<rect x="700.14" y="77.22" width="4.98" height="4.98" fill="#a31812" />
<rect x="704.52" y="77.22" width="4.98" height="4.98" fill="#e02a1a" />
<rect x="599.40" y="81.60" width="4.98" height="4.98" fill="#a31812" />
<rect x="603.78" y="81.60" width="4.98" height="4.98" fill="#e02a1a" />
<rect x="608.16" y="81.60" width="4.98" height="4.98" fill="#e02a1a" />
<rect x="612.54" y="81.60" width="4.98" height="4.98" fill="#e02a1a" />
<rect x="616.92" y="81.60" width="4.98" height="4.98" fill="#f6a224" />
<rect x="621.30" y="81.60" width="4.98" height="4.98" fill="#a31812" />
<rect x="625.68" y="81.60" width="4.98" height="4.98" fill="#f6a224" />
<rect x="630.06" y="81.60" width="4.98" height="4.98" fill="#f6a224" />
<rect x="634.44" y="81.60" width="4.98" height="4.98" fill="#ee5c1a" />
<rect x="638.82" y="81.60" width="4.98" height="4.98" fill="#e02a1a" />
<rect x="643.20" y="81.60" width="4.98" height="4.98" fill="#000000" />
<rect x="647.58" y="81.60" width="4.98" height="4.98" fill="#f6a224" />
<rect x="651.96" y="81.60" width="4.98" height="4.98" fill="#e02a1a" />
<rect x="656.34" y="81.60" width="4.98" height="4.98" fill="#e02a1a" />
<rect x="660.72" y="81.60" width="4.98" height="4.98" fill="#f6a224" />
<rect x="665.10" y="81.60" width="4.98" height="4.98" fill="#ee5c1a" />
<rect x="669.48" y="81.60" width="4.98" height="4.98" fill="#e02a1a" />
<rect x="673.86" y="81.60" width="4.98" height="4.98" fill="#e02a1a" />
<rect x="678.24" y="81.60" width="4.98" height="4.98" fill="#e02a1a" />
<rect x="682.62" y="81.60" width="4.98" height="4.98" fill="#f6a224" />
<rect x="687.00" y="81.60" width="4.98" height="4.98" fill="#e02a1a" />
<rect x="691.38" y="81.60" width="4.98" height="4.98" fill="#e02a1a" />
<rect x="695.76" y="81.60" width="4.98" height="4.98" fill="#e02a1a" />
<rect x="700.14" y="81.60" width="4.98" height="4.98" fill="#a31812" />
<rect x="704.52" y="81.60" width="4.98" height="4.98" fill="#a31812" />
<rect x="599.40" y="85.98" width="4.98" height="4.98" fill="#a31812" />
<rect x="603.78" y="85.98" width="4.98" height="4.98" fill="#ee5c1a" />
<rect x="608.16" y="85.98" width="4.98" height="4.98" fill="#f6a224" />
<rect x="612.54" y="85.98" width="4.98" height="4.98" fill="#f6a224" />
<rect x="616.92" y="85.98" width="4.98" height="4.98" fill="#f6a224" />
<rect x="621.30" y="85.98" width="4.98" height="4.98" fill="#f6a224" />
<rect x="625.68" y="85.98" width="4.98" height="4.98" fill="#f8e234" />
<rect x="630.06" y="85.98" width="4.98" height="4.98" fill="#fbf38c" />
<rect x="634.44" y="85.98" width="4.98" height="4.98" fill="#f8e234" />
<rect x="638.82" y="85.98" width="4.98" height="4.98" fill="#f6a224" />
<rect x="643.20" y="85.98" width="4.98" height="4.98" fill="#f6a224" />
<rect x="647.58" y="85.98" width="4.98" height="4.98" fill="#000000" />
<rect x="651.96" y="85.98" width="4.98" height="4.98" fill="#f8e234" />
<rect x="656.34" y="85.98" width="4.98" height="4.98" fill="#f8e234" />
<rect x="660.72" y="85.98" width="4.98" height="4.98" fill="#fbf38c" />
<rect x="665.10" y="85.98" width="4.98" height="4.98" fill="#fbf38c" />
<rect x="669.48" y="85.98" width="4.98" height="4.98" fill="#f8e234" />
<rect x="673.86" y="85.98" width="4.98" height="4.98" fill="#f8e234" />
<rect x="678.24" y="85.98" width="4.98" height="4.98" fill="#f8e234" />
<rect x="682.62" y="85.98" width="4.98" height="4.98" fill="#fbf38c" />
<rect x="687.00" y="85.98" width="4.98" height="4.98" fill="#f8e234" />
<rect x="691.38" y="85.98" width="4.98" height="4.98" fill="#f8e234" />
<rect x="695.76" y="85.98" width="4.98" height="4.98" fill="#f8e234" />
<rect x="700.14" y="85.98" width="4.98" height="4.98" fill="#f6a224" />
<rect x="704.52" y="85.98" width="4.98" height="4.98" fill="#f6a224" />
<rect x="599.40" y="90.36" width="4.98" height="4.98" fill="#a31812" />
<rect x="603.78" y="90.36" width="4.98" height="4.98" fill="#ee5c1a" />
<rect x="608.16" y="90.36" width="4.98" height="4.98" fill="#f6a224" />
<rect x="612.54" y="90.36" width="4.98" height="4.98" fill="#f6a224" />
<rect x="616.92" y="90.36" width="4.98" height="4.98" fill="#f8e234" />
<rect x="621.30" y="90.36" width="4.98" height="4.98" fill="#e02a1a" />
<rect x="625.68" y="90.36" width="4.98" height="4.98" fill="#f8e234" />
<rect x="630.06" y="90.36" width="4.98" height="4.98" fill="#fbf38c" />
<rect x="634.44" y="90.36" width="4.98" height="4.98" fill="#f8e234" />
<rect x="638.82" y="90.36" width="4.98" height="4.98" fill="#e02a1a" />
<rect x="643.20" y="90.36" width="4.98" height="4.98" fill="#e02a1a" />
<rect x="647.58" y="90.36" width="4.98" height="4.98" fill="#f8e234" />
<rect x="651.96" y="90.36" width="4.98" height="4.98" fill="#000000" />
<rect x="656.34" y="90.36" width="4.98" height="4.98" fill="#f8e234" />
<rect x="660.72" y="90.36" width="4.98" height="4.98" fill="#fbf38c" />
<rect x="665.10" y="90.36" width="4.98" height="4.98" fill="#f8e234" />
<rect x="669.48" y="90.36" width="4.98" height="4.98" fill="#f8e234" />
<rect x="673.86" y="90.36" width="4.98" height="4.98" fill="#f8e234" />
<rect x="678.24" y="90.36" width="4.98" height="4.98" fill="#f8e234" />
<rect x="682.62" y="90.36" width="4.98" height="4.98" fill="#f8e234" />
<rect x="687.00" y="90.36" width="4.98" height="4.98" fill="#f8e234" />
<rect x="691.38" y="90.36" width="4.98" height="4.98" fill="#e02a1a" />
<rect x="695.76" y="90.36" width="4.98" height="4.98" fill="#f8e234" />
<rect x="700.14" y="90.36" width="4.98" height="4.98" fill="#e02a1a" />
<rect x="704.52" y="90.36" width="4.98" height="4.98" fill="#e02a1a" />
<rect x="599.40" y="94.74" width="4.98" height="4.98" fill="#a31812" />
<rect x="603.78" y="94.74" width="4.98" height="4.98" fill="#e02a1a" />
<rect x="608.16" y="94.74" width="4.98" height="4.98" fill="#e02a1a" />
<rect x="612.54" y="94.74" width="4.98" height="4.98" fill="#e02a1a" />
<rect x="616.92" y="94.74" width="4.98" height="4.98" fill="#e02a1a" />
<rect x="621.30" y="94.74" width="4.98" height="4.98" fill="#e02a1a" />
<rect x="625.68" y="94.74" width="4.98" height="4.98" fill="#f6a224" />
<rect x="630.06" y="94.74" width="4.98" height="4.98" fill="#f8e234" />
<rect x="634.44" y="94.74" width="4.98" height="4.98" fill="#f8e234" />
<rect x="638.82" y="94.74" width="4.98" height="4.98" fill="#e02a1a" />
<rect x="643.20" y="94.74" width="4.98" height="4.98" fill="#e02a1a" />
<rect x="647.58" y="94.74" width="4.98" height="4.98" fill="#f8e234" />
<rect x="651.96" y="94.74" width="4.98" height="4.98" fill="#f8e234" />
<rect x="656.34" y="94.74" width="4.98" height="4.98" fill="#000000" />
<rect x="660.72" y="94.74" width="4.98" height="4.98" fill="#fffbe0" />
<rect x="665.10" y="94.74" width="4.98" height="4.98" fill="#f8e234" />
<rect x="669.48" y="94.74" width="4.98" height="4.98" fill="#f6a224" />
<rect x="673.86" y="94.74" width="4.98" height="4.98" fill="#f8e234" />
<rect x="678.24" y="94.74" width="4.98" height="4.98" fill="#f8e234" />
<rect x="682.62" y="94.74" width="4.98" height="4.98" fill="#f6a224" />
<rect x="687.00" y="94.74" width="4.98" height="4.98" fill="#f8e234" />
<rect x="691.38" y="94.74" width="4.98" height="4.98" fill="#e02a1a" />
<rect x="695.76" y="94.74" width="4.98" height="4.98" fill="#f8e234" />
<rect x="700.14" y="94.74" width="4.98" height="4.98" fill="#ee5c1a" />
<rect x="704.52" y="94.74" width="4.98" height="4.98" fill="#e02a1a" />
<rect x="599.40" y="99.12" width="4.98" height="4.98" fill="#a31812" />
<rect x="603.78" y="99.12" width="4.98" height="4.98" fill="#e02a1a" />
<rect x="608.16" y="99.12" width="4.98" height="4.98" fill="#f8e234" />
<rect x="612.54" y="99.12" width="4.98" height="4.98" fill="#f8e234" />
<rect x="616.92" y="99.12" width="4.98" height="4.98" fill="#f8e234" />
<rect x="621.30" y="99.12" width="4.98" height="4.98" fill="#f6a224" />
<rect x="625.68" y="99.12" width="4.98" height="4.98" fill="#f8e234" />
<rect x="630.06" y="99.12" width="4.98" height="4.98" fill="#fbf38c" />
<rect x="634.44" y="99.12" width="4.98" height="4.98" fill="#f8e234" />
<rect x="638.82" y="99.12" width="4.98" height="4.98" fill="#f6a224" />
<rect x="643.20" y="99.12" width="4.98" height="4.98" fill="#f6a224" />
<rect x="647.58" y="99.12" width="4.98" height="4.98" fill="#fbf38c" />
<rect x="651.96" y="99.12" width="4.98" height="4.98" fill="#fbf38c" />
<rect x="656.34" y="99.12" width="4.98" height="4.98" fill="#fffbe0" />
<rect x="660.72" y="99.12" width="4.98" height="4.98" fill="#000000" />
<rect x="665.10" y="99.12" width="4.98" height="4.98" fill="#fbf38c" />
<rect x="669.48" y="99.12" width="4.98" height="4.98" fill="#f8e234" />
<rect x="673.86" y="99.12" width="4.98" height="4.98" fill="#fffbe0" />
<rect x="678.24" y="99.12" width="4.98" height="4.98" fill="#fbf38c" />
<rect x="682.62" y="99.12" width="4.98" height="4.98" fill="#f8e234" />
<rect x="687.00" y="99.12" width="4.98" height="4.98" fill="#f8e234" />
<rect x="691.38" y="99.12" width="4.98" height="4.98" fill="#f8e234" />
<rect x="695.76" y="99.12" width="4.98" height="4.98" fill="#fbf38c" />
<rect x="700.14" y="99.12" width="4.98" height="4.98" fill="#f6a224" />
<rect x="704.52" y="99.12" width="4.98" height="4.98" fill="#f6a224" />
<rect x="599.40" y="103.50" width="4.98" height="4.98" fill="#a31812" />
<rect x="603.78" y="103.50" width="4.98" height="4.98" fill="#e02a1a" />
<rect x="608.16" y="103.50" width="4.98" height="4.98" fill="#ee5c1a" />
<rect x="612.54" y="103.50" width="4.98" height="4.98" fill="#f6a224" />
<rect x="616.92" y="103.50" width="4.98" height="4.98" fill="#ee5c1a" />
<rect x="621.30" y="103.50" width="4.98" height="4.98" fill="#f6a224" />
<rect x="625.68" y="103.50" width="4.98" height="4.98" fill="#f6a224" />
<rect x="630.06" y="103.50" width="4.98" height="4.98" fill="#f8e234" />
<rect x="634.44" y="103.50" width="4.98" height="4.98" fill="#f8e234" />
<rect x="638.82" y="103.50" width="4.98" height="4.98" fill="#f8e234" />
<rect x="643.20" y="103.50" width="4.98" height="4.98" fill="#ee5c1a" />
<rect x="647.58" y="103.50" width="4.98" height="4.98" fill="#fbf38c" />
<rect x="651.96" y="103.50" width="4.98" height="4.98" fill="#f8e234" />
<rect x="656.34" y="103.50" width="4.98" height="4.98" fill="#f8e234" />
<rect x="660.72" y="103.50" width="4.98" height="4.98" fill="#fbf38c" />
<rect x="665.10" y="103.50" width="4.98" height="4.98" fill="#000000" />
<rect x="669.48" y="103.50" width="4.98" height="4.98" fill="#f8e234" />
<rect x="673.86" y="103.50" width="4.98" height="4.98" fill="#f8e234" />
<rect x="678.24" y="103.50" width="4.98" height="4.98" fill="#f8e234" />
<rect x="682.62" y="103.50" width="4.98" height="4.98" fill="#f8e234" />
<rect x="687.00" y="103.50" width="4.98" height="4.98" fill="#f8e234" />
<rect x="691.38" y="103.50" width="4.98" height="4.98" fill="#f8e234" />
<rect x="695.76" y="103.50" width="4.98" height="4.98" fill="#f8e234" />
<rect x="700.14" y="103.50" width="4.98" height="4.98" fill="#f8e234" />
<rect x="704.52" y="103.50" width="4.98" height="4.98" fill="#f6a224" />
<rect x="599.40" y="107.88" width="4.98" height="4.98" fill="#a31812" />
<rect x="603.78" y="107.88" width="4.98" height="4.98" fill="#e02a1a" />
<rect x="608.16" y="107.88" width="4.98" height="4.98" fill="#ee5c1a" />
<rect x="612.54" y="107.88" width="4.98" height="4.98" fill="#f6a224" />
<rect x="616.92" y="107.88" width="4.98" height="4.98" fill="#f6a224" />
<rect x="621.30" y="107.88" width="4.98" height="4.98" fill="#e02a1a" />
<rect x="625.68" y="107.88" width="4.98" height="4.98" fill="#ee5c1a" />
<rect x="630.06" y="107.88" width="4.98" height="4.98" fill="#f6a224" />
<rect x="634.44" y="107.88" width="4.98" height="4.98" fill="#e02a1a" />
<rect x="638.82" y="107.88" width="4.98" height="4.98" fill="#e02a1a" />
<rect x="643.20" y="107.88" width="4.98" height="4.98" fill="#e02a1a" />
<rect x="647.58" y="107.88" width="4.98" height="4.98" fill="#f8e234" />
<rect x="651.96" y="107.88" width="4.98" height="4.98" fill="#f8e234" />
<rect x="656.34" y="107.88" width="4.98" height="4.98" fill="#f6a224" />
<rect x="660.72" y="107.88" width="4.98" height="4.98" fill="#f8e234" />
<rect x="665.10" y="107.88" width="4.98" height="4.98" fill="#f8e234" />
<rect x="669.48" y="107.88" width="4.98" height="4.98" fill="#000000" />
<rect x="673.86" y="107.88" width="4.98" height="4.98" fill="#f8e234" />
<rect x="678.24" y="107.88" width="4.98" height="4.98" fill="#f8e234" />
<rect x="682.62" y="107.88" width="4.98" height="4.98" fill="#ee5c1a" />
<rect x="687.00" y="107.88" width="4.98" height="4.98" fill="#ee5c1a" />
<rect x="691.38" y="107.88" width="4.98" height="4.98" fill="#f6a224" />
<rect x="695.76" y="107.88" width="4.98" height="4.98" fill="#ee5c1a" />
<rect x="700.14" y="107.88" width="4.98" height="4.98" fill="#e02a1a" />
<rect x="704.52" y="107.88" width="4.98" height="4.98" fill="#f6a224" />
<rect x="599.40" y="112.26" width="4.98" height="4.98" fill="#a31812" />
<rect x="603.78" y="112.26" width="4.98" height="4.98" fill="#ee5c1a" />
<rect x="608.16" y="112.26" width="4.98" height="4.98" fill="#f6a224" />
<rect x="612.54" y="112.26" width="4.98" height="4.98" fill="#f8e234" />
<rect x="616.92" y="112.26" width="4.98" height="4.98" fill="#e02a1a" />
<rect x="621.30" y="112.26" width="4.98" height="4.98" fill="#ee5c1a" />
<rect x="625.68" y="112.26" width="4.98" height="4.98" fill="#f8e234" />
<rect x="630.06" y="112.26" width="4.98" height="4.98" fill="#f8e234" />
<rect x="634.44" y="112.26" width="4.98" height="4.98" fill="#f8e234" />
<rect x="638.82" y="112.26" width="4.98" height="4.98" fill="#e02a1a" />
<rect x="643.20" y="112.26" width="4.98" height="4.98" fill="#e02a1a" />
<rect x="647.58" y="112.26" width="4.98" height="4.98" fill="#f8e234" />
<rect x="651.96" y="112.26" width="4.98" height="4.98" fill="#f8e234" />
<rect x="656.34" y="112.26" width="4.98" height="4.98" fill="#f8e234" />
<rect x="660.72" y="112.26" width="4.98" height="4.98" fill="#fffbe0" />
<rect x="665.10" y="112.26" width="4.98" height="4.98" fill="#f8e234" />
<rect x="669.48" y="112.26" width="4.98" height="4.98" fill="#f8e234" />
<rect x="673.86" y="112.26" width="4.98" height="4.98" fill="#000000" />
<rect x="678.24" y="112.26" width="4.98" height="4.98" fill="#f8e234" />
<rect x="682.62" y="112.26" width="4.98" height="4.98" fill="#fffbe0" />
<rect x="687.00" y="112.26" width="4.98" height="4.98" fill="#f8e234" />
<rect x="691.38" y="112.26" width="4.98" height="4.98" fill="#f8e234" />
<rect x="695.76" y="112.26" width="4.98" height="4.98" fill="#f8e234" />
<rect x="700.14" y="112.26" width="4.98" height="4.98" fill="#f6a224" />
<rect x="704.52" y="112.26" width="4.98" height="4.98" fill="#f6a224" />
<rect x="599.40" y="116.64" width="4.98" height="4.98" fill="#a31812" />
<rect x="603.78" y="116.64" width="4.98" height="4.98" fill="#e02a1a" />
<rect x="608.16" y="116.64" width="4.98" height="4.98" fill="#e02a1a" />
<rect x="612.54" y="116.64" width="4.98" height="4.98" fill="#e02a1a" />
<rect x="616.92" y="116.64" width="4.98" height="4.98" fill="#a31812" />
<rect x="621.30" y="116.64" width="4.98" height="4.98" fill="#f6a224" />
<rect x="625.68" y="116.64" width="4.98" height="4.98" fill="#f6a224" />
<rect x="630.06" y="116.64" width="4.98" height="4.98" fill="#f8e234" />
<rect x="634.44" y="116.64" width="4.98" height="4.98" fill="#f8e234" />
<rect x="638.82" y="116.64" width="4.98" height="4.98" fill="#e02a1a" />
<rect x="643.20" y="116.64" width="4.98" height="4.98" fill="#e02a1a" />
<rect x="647.58" y="116.64" width="4.98" height="4.98" fill="#f8e234" />
<rect x="651.96" y="116.64" width="4.98" height="4.98" fill="#f8e234" />
<rect x="656.34" y="116.64" width="4.98" height="4.98" fill="#f8e234" />
<rect x="660.72" y="116.64" width="4.98" height="4.98" fill="#fbf38c" />
<rect x="665.10" y="116.64" width="4.98" height="4.98" fill="#f8e234" />
<rect x="669.48" y="116.64" width="4.98" height="4.98" fill="#f8e234" />
<rect x="673.86" y="116.64" width="4.98" height="4.98" fill="#f8e234" />
<rect x="678.24" y="116.64" width="4.98" height="4.98" fill="#000000" />
<rect x="682.62" y="116.64" width="4.98" height="4.98" fill="#f6a224" />
<rect x="687.00" y="116.64" width="4.98" height="4.98" fill="#fbf38c" />
<rect x="691.38" y="116.64" width="4.98" height="4.98" fill="#f6a224" />
<rect x="695.76" y="116.64" width="4.98" height="4.98" fill="#f8e234" />
<rect x="700.14" y="116.64" width="4.98" height="4.98" fill="#f8e234" />
<rect x="704.52" y="116.64" width="4.98" height="4.98" fill="#f8e234" />
<rect x="599.40" y="121.02" width="4.98" height="4.98" fill="#a31812" />
<rect x="603.78" y="121.02" width="4.98" height="4.98" fill="#f6a224" />
<rect x="608.16" y="121.02" width="4.98" height="4.98" fill="#f6a224" />
<rect x="612.54" y="121.02" width="4.98" height="4.98" fill="#f8e234" />
<rect x="616.92" y="121.02" width="4.98" height="4.98" fill="#f6a224" />
<rect x="621.30" y="121.02" width="4.98" height="4.98" fill="#ee5c1a" />
<rect x="625.68" y="121.02" width="4.98" height="4.98" fill="#ee5c1a" />
<rect x="630.06" y="121.02" width="4.98" height="4.98" fill="#f8e234" />
<rect x="634.44" y="121.02" width="4.98" height="4.98" fill="#f6a224" />
<rect x="638.82" y="121.02" width="4.98" height="4.98" fill="#f6a224" />
<rect x="643.20" y="121.02" width="4.98" height="4.98" fill="#f6a224" />
<rect x="647.58" y="121.02" width="4.98" height="4.98" fill="#fbf38c" />
<rect x="651.96" y="121.02" width="4.98" height="4.98" fill="#f8e234" />
<rect x="656.34" y="121.02" width="4.98" height="4.98" fill="#f6a224" />
<rect x="660.72" y="121.02" width="4.98" height="4.98" fill="#f8e234" />
<rect x="665.10" y="121.02" width="4.98" height="4.98" fill="#f8e234" />
<rect x="669.48" y="121.02" width="4.98" height="4.98" fill="#ee5c1a" />
<rect x="673.86" y="121.02" width="4.98" height="4.98" fill="#fffbe0" />
<rect x="678.24" y="121.02" width="4.98" height="4.98" fill="#f6a224" />
<rect x="682.62" y="121.02" width="4.98" height="4.98" fill="#000000" />
<rect x="687.00" y="121.02" width="4.98" height="4.98" fill="#f6a224" />
<rect x="691.38" y="121.02" width="4.98" height="4.98" fill="#ee5c1a" />
<rect x="695.76" y="121.02" width="4.98" height="4.98" fill="#f8e234" />
<rect x="700.14" y="121.02" width="4.98" height="4.98" fill="#f8e234" />
<rect x="704.52" y="121.02" width="4.98" height="4.98" fill="#e02a1a" />
<rect x="599.40" y="125.40" width="4.98" height="4.98" fill="#a31812" />
<rect x="603.78" y="125.40" width="4.98" height="4.98" fill="#e02a1a" />
<rect x="608.16" y="125.40" width="4.98" height="4.98" fill="#e02a1a" />
<rect x="612.54" y="125.40" width="4.98" height="4.98" fill="#ee5c1a" />
<rect x="616.92" y="125.40" width="4.98" height="4.98" fill="#ee5c1a" />
<rect x="621.30" y="125.40" width="4.98" height="4.98" fill="#f6a224" />
<rect x="625.68" y="125.40" width="4.98" height="4.98" fill="#f6a224" />
<rect x="630.06" y="125.40" width="4.98" height="4.98" fill="#f8e234" />
<rect x="634.44" y="125.40" width="4.98" height="4.98" fill="#f6a224" />
<rect x="638.82" y="125.40" width="4.98" height="4.98" fill="#e02a1a" />
<rect x="643.20" y="125.40" width="4.98" height="4.98" fill="#e02a1a" />
<rect x="647.58" y="125.40" width="4.98" height="4.98" fill="#f8e234" />
<rect x="651.96" y="125.40" width="4.98" height="4.98" fill="#f8e234" />
<rect x="656.34" y="125.40" width="4.98" height="4.98" fill="#f8e234" />
<rect x="660.72" y="125.40" width="4.98" height="4.98" fill="#f8e234" />
<rect x="665.10" y="125.40" width="4.98" height="4.98" fill="#f8e234" />
<rect x="669.48" y="125.40" width="4.98" height="4.98" fill="#ee5c1a" />
<rect x="673.86" y="125.40" width="4.98" height="4.98" fill="#f8e234" />
<rect x="678.24" y="125.40" width="4.98" height="4.98" fill="#fbf38c" />
<rect x="682.62" y="125.40" width="4.98" height="4.98" fill="#f6a224" />
<rect x="687.00" y="125.40" width="4.98" height="4.98" fill="#000000" />
<rect x="691.38" y="125.40" width="4.98" height="4.98" fill="#f8e234" />
<rect x="695.76" y="125.40" width="4.98" height="4.98" fill="#f8e234" />
<rect x="700.14" y="125.40" width="4.98" height="4.98" fill="#f8e234" />
<rect x="704.52" y="125.40" width="4.98" height="4.98" fill="#f8e234" />
<rect x="599.40" y="129.78" width="4.98" height="4.98" fill="#4a0c0a" />
<rect x="603.78" y="129.78" width="4.98" height="4.98" fill="#e02a1a" />
<rect x="608.16" y="129.78" width="4.98" height="4.98" fill="#e02a1a" />
<rect x="612.54" y="129.78" width="4.98" height="4.98" fill="#e02a1a" />
<rect x="616.92" y="129.78" width="4.98" height="4.98" fill="#a31812" />
<rect x="621.30" y="129.78" width="4.98" height="4.98" fill="#e02a1a" />
<rect x="625.68" y="129.78" width="4.98" height="4.98" fill="#e02a1a" />
<rect x="630.06" y="129.78" width="4.98" height="4.98" fill="#f8e234" />
<rect x="634.44" y="129.78" width="4.98" height="4.98" fill="#e02a1a" />
<rect x="638.82" y="129.78" width="4.98" height="4.98" fill="#e02a1a" />
<rect x="643.20" y="129.78" width="4.98" height="4.98" fill="#e02a1a" />
<rect x="647.58" y="129.78" width="4.98" height="4.98" fill="#f8e234" />
<rect x="651.96" y="129.78" width="4.98" height="4.98" fill="#e02a1a" />
<rect x="656.34" y="129.78" width="4.98" height="4.98" fill="#e02a1a" />
<rect x="660.72" y="129.78" width="4.98" height="4.98" fill="#f8e234" />
<rect x="665.10" y="129.78" width="4.98" height="4.98" fill="#f8e234" />
<rect x="669.48" y="129.78" width="4.98" height="4.98" fill="#f6a224" />
<rect x="673.86" y="129.78" width="4.98" height="4.98" fill="#f8e234" />
<rect x="678.24" y="129.78" width="4.98" height="4.98" fill="#f6a224" />
<rect x="682.62" y="129.78" width="4.98" height="4.98" fill="#ee5c1a" />
<rect x="687.00" y="129.78" width="4.98" height="4.98" fill="#f8e234" />
<rect x="691.38" y="129.78" width="4.98" height="4.98" fill="#000000" />
<rect x="695.76" y="129.78" width="4.98" height="4.98" fill="#f6a224" />
<rect x="700.14" y="129.78" width="4.98" height="4.98" fill="#f6a224" />
<rect x="704.52" y="129.78" width="4.98" height="4.98" fill="#f8e234" />
<rect x="599.40" y="134.16" width="4.98" height="4.98" fill="#4a0c0a" />
<rect x="603.78" y="134.16" width="4.98" height="4.98" fill="#e02a1a" />
<rect x="608.16" y="134.16" width="4.98" height="4.98" fill="#e02a1a" />
<rect x="612.54" y="134.16" width="4.98" height="4.98" fill="#e02a1a" />
<rect x="616.92" y="134.16" width="4.98" height="4.98" fill="#e02a1a" />
<rect x="621.30" y="134.16" width="4.98" height="4.98" fill="#e02a1a" />
<rect x="625.68" y="134.16" width="4.98" height="4.98" fill="#ee5c1a" />
<rect x="630.06" y="134.16" width="4.98" height="4.98" fill="#f6a224" />
<rect x="634.44" y="134.16" width="4.98" height="4.98" fill="#ee5c1a" />
<rect x="638.82" y="134.16" width="4.98" height="4.98" fill="#f6a224" />
<rect x="643.20" y="134.16" width="4.98" height="4.98" fill="#e02a1a" />
<rect x="647.58" y="134.16" width="4.98" height="4.98" fill="#f8e234" />
<rect x="651.96" y="134.16" width="4.98" height="4.98" fill="#f8e234" />
<rect x="656.34" y="134.16" width="4.98" height="4.98" fill="#f8e234" />
<rect x="660.72" y="134.16" width="4.98" height="4.98" fill="#fbf38c" />
<rect x="665.10" y="134.16" width="4.98" height="4.98" fill="#f8e234" />
<rect x="669.48" y="134.16" width="4.98" height="4.98" fill="#ee5c1a" />
<rect x="673.86" y="134.16" width="4.98" height="4.98" fill="#f8e234" />
<rect x="678.24" y="134.16" width="4.98" height="4.98" fill="#f8e234" />
<rect x="682.62" y="134.16" width="4.98" height="4.98" fill="#f8e234" />
<rect x="687.00" y="134.16" width="4.98" height="4.98" fill="#f8e234" />
<rect x="691.38" y="134.16" width="4.98" height="4.98" fill="#f6a224" />
<rect x="695.76" y="134.16" width="4.98" height="4.98" fill="#000000" />
<rect x="700.14" y="134.16" width="4.98" height="4.98" fill="#f8e234" />
<rect x="704.52" y="134.16" width="4.98" height="4.98" fill="#f6a224" />
<rect x="599.40" y="138.54" width="4.98" height="4.98" fill="#4a0c0a" />
<rect x="603.78" y="138.54" width="4.98" height="4.98" fill="#e02a1a" />
<rect x="608.16" y="138.54" width="4.98" height="4.98" fill="#e02a1a" />
<rect x="612.54" y="138.54" width="4.98" height="4.98" fill="#4a0c0a" />
<rect x="616.92" y="138.54" width="4.98" height="4.98" fill="#f6a224" />
<rect x="621.30" y="138.54" width="4.98" height="4.98" fill="#e02a1a" />
<rect x="625.68" y="138.54" width="4.98" height="4.98" fill="#e02a1a" />
<rect x="630.06" y="138.54" width="4.98" height="4.98" fill="#ee5c1a" />
<rect x="634.44" y="138.54" width="4.98" height="4.98" fill="#e02a1a" />
<rect x="638.82" y="138.54" width="4.98" height="4.98" fill="#a31812" />
<rect x="643.20" y="138.54" width="4.98" height="4.98" fill="#a31812" />
<rect x="647.58" y="138.54" width="4.98" height="4.98" fill="#f6a224" />
<rect x="651.96" y="138.54" width="4.98" height="4.98" fill="#e02a1a" />
<rect x="656.34" y="138.54" width="4.98" height="4.98" fill="#ee5c1a" />
<rect x="660.72" y="138.54" width="4.98" height="4.98" fill="#f6a224" />
<rect x="665.10" y="138.54" width="4.98" height="4.98" fill="#f8e234" />
<rect x="669.48" y="138.54" width="4.98" height="4.98" fill="#e02a1a" />
<rect x="673.86" y="138.54" width="4.98" height="4.98" fill="#f6a224" />
<rect x="678.24" y="138.54" width="4.98" height="4.98" fill="#f8e234" />
<rect x="682.62" y="138.54" width="4.98" height="4.98" fill="#f8e234" />
<rect x="687.00" y="138.54" width="4.98" height="4.98" fill="#f8e234" />
<rect x="691.38" y="138.54" width="4.98" height="4.98" fill="#f6a224" />
<rect x="695.76" y="138.54" width="4.98" height="4.98" fill="#f8e234" />
<rect x="700.14" y="138.54" width="4.98" height="4.98" fill="#000000" />
<rect x="704.52" y="138.54" width="4.98" height="4.98" fill="#f8e234" />
<rect x="599.40" y="142.92" width="4.98" height="4.98" fill="#4a0c0a" />
<rect x="603.78" y="142.92" width="4.98" height="4.98" fill="#a31812" />
<rect x="608.16" y="142.92" width="4.98" height="4.98" fill="#e02a1a" />
<rect x="612.54" y="142.92" width="4.98" height="4.98" fill="#e02a1a" />
<rect x="616.92" y="142.92" width="4.98" height="4.98" fill="#f6a224" />
<rect x="621.30" y="142.92" width="4.98" height="4.98" fill="#e02a1a" />
<rect x="625.68" y="142.92" width="4.98" height="4.98" fill="#e02a1a" />
<rect x="630.06" y="142.92" width="4.98" height="4.98" fill="#e02a1a" />
<rect x="634.44" y="142.92" width="4.98" height="4.98" fill="#e02a1a" />
<rect x="638.82" y="142.92" width="4.98" height="4.98" fill="#e02a1a" />
<rect x="643.20" y="142.92" width="4.98" height="4.98" fill="#a31812" />
<rect x="647.58" y="142.92" width="4.98" height="4.98" fill="#f6a224" />
<rect x="651.96" y="142.92" width="4.98" height="4.98" fill="#e02a1a" />
<rect x="656.34" y="142.92" width="4.98" height="4.98" fill="#e02a1a" />
<rect x="660.72" y="142.92" width="4.98" height="4.98" fill="#f6a224" />
<rect x="665.10" y="142.92" width="4.98" height="4.98" fill="#f6a224" />
<rect x="669.48" y="142.92" width="4.98" height="4.98" fill="#f6a224" />
<rect x="673.86" y="142.92" width="4.98" height="4.98" fill="#f6a224" />
<rect x="678.24" y="142.92" width="4.98" height="4.98" fill="#f8e234" />
<rect x="682.62" y="142.92" width="4.98" height="4.98" fill="#e02a1a" />
<rect x="687.00" y="142.92" width="4.98" height="4.98" fill="#f8e234" />
<rect x="691.38" y="142.92" width="4.98" height="4.98" fill="#f8e234" />
<rect x="695.76" y="142.92" width="4.98" height="4.98" fill="#f6a224" />
<rect x="700.14" y="142.92" width="4.98" height="4.98" fill="#f8e234" />
<rect x="704.52" y="142.92" width="4.98" height="4.98" fill="#000000" />
<rect x="599.3" y="37.9" width="110.2" height="109.8" fill="none" stroke="#505050" stroke-width="4.2"/>
<rect x="726.40" y="37.00" width="16.20" height="110.50" fill="url(#hbar)" stroke="#333" stroke-width="0.6"/>
<text x="734.20" y="33.50" font-size="14" fill="#5f5f5f" text-anchor="middle" textLength="27" lengthAdjust="spacingAndGlyphs" >0.39</text>
<text x="734.20" y="165.30" font-size="14" fill="#5f5f5f" text-anchor="middle" textLength="27" lengthAdjust="spacingAndGlyphs" >0.23</text>
<text x="752.40" y="92.70" font-size="18" fill="#555" text-anchor="middle" transform="rotate(90 752.40 92.70)" >r</text>
<text x="594.30" y="64.52" font-size="14.3" fill="#5f5f5f" text-anchor="end" >5</text>
<text x="619.12" y="168.80" font-size="14.3" fill="#5f5f5f" text-anchor="middle" >5</text>
<text x="594.30" y="86.42" font-size="14.3" fill="#5f5f5f" text-anchor="end" >10</text>
<text x="641.02" y="168.80" font-size="14.3" fill="#5f5f5f" text-anchor="middle" >10</text>
<text x="594.30" y="108.32" font-size="14.3" fill="#5f5f5f" text-anchor="end" >15</text>
<text x="662.92" y="168.80" font-size="14.3" fill="#5f5f5f" text-anchor="middle" >15</text>
<text x="594.30" y="130.22" font-size="14.3" fill="#5f5f5f" text-anchor="end" >20</text>
<text x="684.82" y="168.80" font-size="14.3" fill="#5f5f5f" text-anchor="middle" >20</text>
<text x="594.30" y="152.12" font-size="14.3" fill="#5f5f5f" text-anchor="end" >25</text>
<text x="706.72" y="168.80" font-size="14.3" fill="#5f5f5f" text-anchor="middle" >25</text>
<text x="571.40" y="93.00" font-size="18" fill="#666" text-anchor="middle" textLength="32.3" lengthAdjust="spacingAndGlyphs" transform="rotate(-90 571.40 93.00)" >Trial</text>
<text x="654.30" y="190.00" font-size="18" fill="#666" text-anchor="middle" textLength="32.3" lengthAdjust="spacingAndGlyphs" >Trial</text>
<line x1="595.30" y1="199.50" x2="595.30" y2="346.80" stroke="#474747" stroke-width="3.0" />
<line x1="593.90" y1="345.40" x2="724.20" y2="345.40" stroke="#474747" stroke-width="2.8" />
<line x1="593.10" y1="297.40" x2="595.30" y2="297.40" stroke="#474747" stroke-width="1.2" />
<line x1="593.10" y1="249.40" x2="595.30" y2="249.40" stroke="#474747" stroke-width="1.2" />
<line x1="593.10" y1="201.40" x2="595.30" y2="201.40" stroke="#474747" stroke-width="1.2" />
<line x1="597.50" y1="345.40" x2="597.50" y2="348.40" stroke="#474747" stroke-width="1.4" />
<line x1="646.00" y1="345.40" x2="646.00" y2="348.40" stroke="#474747" stroke-width="1.4" />
<line x1="694.50" y1="345.40" x2="694.50" y2="348.40" stroke="#474747" stroke-width="1.4" />
<text x="590.30" y="205.00" font-size="13.5" fill="#5f5f5f" text-anchor="end" textLength="25.5" lengthAdjust="spacingAndGlyphs" >0.35</text>
<text x="590.30" y="253.00" font-size="13.5" fill="#5f5f5f" text-anchor="end" >0.3</text>
<text x="590.30" y="301.00" font-size="13.5" fill="#5f5f5f" text-anchor="end" textLength="25.5" lengthAdjust="spacingAndGlyphs" >0.25</text>
<text x="588.80" y="349.50" font-size="13.5" fill="#5f5f5f" text-anchor="end" >0.2</text>
<text x="598.40" y="361.30" font-size="13.5" fill="#5f5f5f" text-anchor="middle" >0</text>
<text x="648.40" y="361.30" font-size="13.5" fill="#5f5f5f" text-anchor="middle" >10</text>
<text x="696.30" y="361.30" font-size="13.5" fill="#5f5f5f" text-anchor="middle" >20</text>
<text x="657.80" y="375.80" font-size="17" fill="#666" text-anchor="middle" textLength="60.5" lengthAdjust="spacingAndGlyphs" >Trial lag</text>
<text x="558.50" y="273.00" font-size="17" fill="#666" text-anchor="middle" textLength="104" lengthAdjust="spacingAndGlyphs" transform="rotate(-90 558.50 273.00)" >Correlation (r)</text>
<polyline points="602.1,213.8 606.9,214.5 611.8,217.7 616.6,215.0 621.5,223.0 626.4,221.1 631.2,232.8 636.1,233.2 640.9,235.4 645.8,235.0 650.7,237.5 655.5,243.9 660.4,250.0 665.2,253.4 670.1,259.8 675.0,257.7 679.8,263.0 684.7,270.4 689.5,273.6 694.4,283.2 699.3,287.8 704.1,300.6 709.0,299.1 713.8,298.5" fill="none" stroke="#1a8582" stroke-width="2.8" stroke-linejoin="round" stroke-linecap="round" />
<line x1="602.06" y1="208.80" x2="602.06" y2="218.80" stroke="#1a8582" stroke-width="3.1" />
<line x1="606.92" y1="209.70" x2="606.92" y2="219.30" stroke="#1a8582" stroke-width="3.1" />
<line x1="611.78" y1="211.90" x2="611.78" y2="223.50" stroke="#1a8582" stroke-width="3.1" />
<line x1="616.64" y1="209.50" x2="616.64" y2="220.50" stroke="#1a8582" stroke-width="3.1" />
<line x1="621.50" y1="218.20" x2="621.50" y2="227.80" stroke="#1a8582" stroke-width="3.1" />
<line x1="626.36" y1="215.50" x2="626.36" y2="226.70" stroke="#1a8582" stroke-width="3.1" />
<line x1="631.22" y1="227.20" x2="631.22" y2="238.40" stroke="#1a8582" stroke-width="3.1" />
<line x1="636.08" y1="227.90" x2="636.08" y2="238.50" stroke="#1a8582" stroke-width="3.1" />
<line x1="640.94" y1="230.10" x2="640.94" y2="240.70" stroke="#1a8582" stroke-width="3.1" />
<line x1="645.80" y1="229.40" x2="645.80" y2="240.60" stroke="#1a8582" stroke-width="3.1" />
<line x1="650.66" y1="231.50" x2="650.66" y2="243.50" stroke="#1a8582" stroke-width="3.1" />
<line x1="655.52" y1="237.50" x2="655.52" y2="250.30" stroke="#1a8582" stroke-width="3.1" />
<line x1="660.38" y1="243.40" x2="660.38" y2="256.60" stroke="#1a8582" stroke-width="3.1" />
<line x1="665.24" y1="247.00" x2="665.24" y2="259.80" stroke="#1a8582" stroke-width="3.1" />
<line x1="670.10" y1="253.40" x2="670.10" y2="266.20" stroke="#1a8582" stroke-width="3.1" />
<line x1="674.96" y1="251.30" x2="674.96" y2="264.10" stroke="#1a8582" stroke-width="3.1" />
<line x1="679.82" y1="256.60" x2="679.82" y2="269.40" stroke="#1a8582" stroke-width="3.1" />
<line x1="684.68" y1="263.00" x2="684.68" y2="277.80" stroke="#1a8582" stroke-width="3.1" />
<line x1="689.54" y1="266.20" x2="689.54" y2="281.00" stroke="#1a8582" stroke-width="3.1" />
<line x1="694.40" y1="275.80" x2="694.40" y2="290.60" stroke="#1a8582" stroke-width="3.1" />
<line x1="699.26" y1="278.80" x2="699.26" y2="296.80" stroke="#1a8582" stroke-width="3.1" />
<line x1="704.12" y1="289.60" x2="704.12" y2="311.60" stroke="#1a8582" stroke-width="3.1" />
<line x1="708.98" y1="284.20" x2="708.98" y2="314.00" stroke="#1a8582" stroke-width="3.1" />
<line x1="713.84" y1="275.70" x2="713.84" y2="321.30" stroke="#1a8582" stroke-width="3.1" />
<text x="679.50" y="227.20" font-size="23.5" fill="#1a8582" text-anchor="start" font-weight="bold" letter-spacing="1.3">***</text>
<rect x="552.80" y="414.80" width="42.30" height="212.20" fill="#2b2b8c" />
<path d="M552.8 414.80h1.21v1.23h-1.21zM555.2 414.80h1.21v1.23h-1.21zM557.6 414.80h2.42v1.23h-2.42zM563.7 414.80h3.63v1.23h-3.63zM574.6 414.80h4.83v1.23h-4.83zM552.8 416.03h2.42v1.23h-2.42zM556.4 416.03h2.42v1.23h-2.42zM561.3 416.03h1.21v1.23h-1.21zM563.7 416.03h3.63v1.23h-3.63zM569.7 416.03h2.42v1.23h-2.42zM573.3 416.03h3.63v1.23h-3.63zM579.4 416.03h2.42v1.23h-2.42zM556.4 417.27h3.63v1.23h-3.63zM564.9 417.27h14.50v1.23h-14.50zM580.6 417.27h1.21v1.23h-1.21zM552.8 418.50h3.63v1.23h-3.63zM557.6 418.50h6.04v1.23h-6.04zM567.3 418.50h2.42v1.23h-2.42zM570.9 418.50h2.42v1.23h-2.42zM575.8 418.50h1.21v1.23h-1.21zM581.8 418.50h1.21v1.23h-1.21zM585.4 418.50h1.21v1.23h-1.21zM554.0 419.73h2.42v1.23h-2.42zM557.6 419.73h10.88v1.23h-10.88zM569.7 419.73h6.04v1.23h-6.04zM578.2 419.73h1.21v1.23h-1.21zM580.6 419.73h1.21v1.23h-1.21zM552.8 420.97h4.83v1.23h-4.83zM560.1 420.97h6.04v1.23h-6.04zM567.3 420.97h14.50v1.23h-14.50zM552.8 422.20h7.25v1.23h-7.25zM562.5 422.20h14.50v1.23h-14.50zM578.2 422.20h1.21v1.23h-1.21zM580.6 422.20h6.04v1.23h-6.04zM554.0 423.44h1.21v1.23h-1.21zM556.4 423.44h1.21v1.23h-1.21zM558.8 423.44h12.09v1.23h-12.09zM573.3 423.44h1.21v1.23h-1.21zM575.8 423.44h2.42v1.23h-2.42zM557.6 424.67h2.42v1.23h-2.42zM562.5 424.67h3.63v1.23h-3.63zM579.4 424.67h1.21v1.23h-1.21zM554.0 425.90h13.29v1.23h-13.29zM572.1 425.90h2.42v1.23h-2.42zM575.8 425.90h2.42v1.23h-2.42zM554.0 427.14h15.71v1.23h-15.71zM570.9 427.14h8.46v1.23h-8.46zM584.2 427.14h6.04v1.23h-6.04zM552.8 428.37h27.80v1.23h-27.80zM584.2 428.37h1.21v1.23h-1.21zM586.6 428.37h1.21v1.23h-1.21zM556.4 429.60h2.42v1.23h-2.42zM561.3 429.60h1.21v1.23h-1.21zM563.7 429.60h21.75v1.23h-21.75zM558.8 430.84h1.21v1.23h-1.21zM562.5 430.84h3.63v1.23h-3.63zM569.7 430.84h6.04v1.23h-6.04zM578.2 430.84h2.42v1.23h-2.42zM583.0 430.84h1.21v1.23h-1.21zM556.4 432.07h3.63v1.23h-3.63zM561.3 432.07h4.83v1.23h-4.83zM569.7 432.07h4.83v1.23h-4.83zM577.0 432.07h1.21v1.23h-1.21zM592.7 432.07h2.42v1.23h-2.42zM552.8 433.31h8.46v1.23h-8.46zM562.5 433.31h12.09v1.23h-12.09zM575.8 433.31h1.21v1.23h-1.21zM578.2 433.31h4.83v1.23h-4.83zM591.5 433.31h1.21v1.23h-1.21zM552.8 434.54h6.04v1.23h-6.04zM562.5 434.54h3.63v1.23h-3.63zM569.7 434.54h1.21v1.23h-1.21zM573.3 434.54h2.42v1.23h-2.42zM585.4 434.54h3.63v1.23h-3.63zM590.3 434.54h3.63v1.23h-3.63zM554.0 435.77h2.42v1.23h-2.42zM562.5 435.77h4.83v1.23h-4.83zM569.7 435.77h2.42v1.23h-2.42zM574.6 435.77h2.42v1.23h-2.42zM580.6 435.77h1.21v1.23h-1.21zM586.6 435.77h1.21v1.23h-1.21zM552.8 437.01h7.25v1.23h-7.25zM561.3 437.01h7.25v1.23h-7.25zM569.7 437.01h2.42v1.23h-2.42zM575.8 437.01h6.04v1.23h-6.04zM585.4 437.01h1.21v1.23h-1.21zM587.8 437.01h1.21v1.23h-1.21zM552.8 438.24h3.63v1.23h-3.63zM557.6 438.24h8.46v1.23h-8.46zM569.7 438.24h1.21v1.23h-1.21zM574.6 438.24h6.04v1.23h-6.04zM581.8 438.24h2.42v1.23h-2.42zM586.6 438.24h1.21v1.23h-1.21zM589.1 438.24h1.21v1.23h-1.21zM592.7 438.24h1.21v1.23h-1.21zM557.6 439.47h3.63v1.23h-3.63zM567.3 439.47h2.42v1.23h-2.42zM570.9 439.47h1.21v1.23h-1.21zM581.8 439.47h1.21v1.23h-1.21zM584.2 439.47h1.21v1.23h-1.21zM593.9 439.47h1.21v1.23h-1.21zM554.0 440.71h1.21v1.23h-1.21zM558.8 440.71h15.71v1.23h-15.71zM577.0 440.71h7.25v1.23h-7.25zM585.4 440.71h2.42v1.23h-2.42zM554.0 441.94h1.21v1.23h-1.21zM556.4 441.94h1.21v1.23h-1.21zM558.8 441.94h2.42v1.23h-2.42zM564.9 441.94h2.42v1.23h-2.42zM568.5 441.94h1.21v1.23h-1.21zM572.1 441.94h1.21v1.23h-1.21zM574.6 441.94h4.83v1.23h-4.83zM581.8 441.94h1.21v1.23h-1.21zM584.2 441.94h1.21v1.23h-1.21zM587.8 441.94h1.21v1.23h-1.21zM590.3 441.94h2.42v1.23h-2.42zM554.0 443.18h1.21v1.23h-1.21zM558.8 443.18h3.63v1.23h-3.63zM563.7 443.18h7.25v1.23h-7.25zM572.1 443.18h3.63v1.23h-3.63zM581.8 443.18h4.83v1.23h-4.83zM554.0 444.41h2.42v1.23h-2.42zM558.8 444.41h1.21v1.23h-1.21zM566.1 444.41h6.04v1.23h-6.04zM573.3 444.41h1.21v1.23h-1.21zM578.2 444.41h4.83v1.23h-4.83zM586.6 444.41h2.42v1.23h-2.42zM590.3 444.41h4.83v1.23h-4.83zM560.1 445.64h2.42v1.23h-2.42zM564.9 445.64h7.25v1.23h-7.25zM573.3 445.64h3.63v1.23h-3.63zM581.8 445.64h1.21v1.23h-1.21zM584.2 445.64h1.21v1.23h-1.21zM587.8 445.64h2.42v1.23h-2.42zM555.2 446.88h1.21v1.23h-1.21zM558.8 446.88h2.42v1.23h-2.42zM562.5 446.88h1.21v1.23h-1.21zM564.9 446.88h2.42v1.23h-2.42zM568.5 446.88h1.21v1.23h-1.21zM572.1 446.88h2.42v1.23h-2.42zM577.0 446.88h3.63v1.23h-3.63zM581.8 446.88h1.21v1.23h-1.21zM584.2 446.88h4.83v1.23h-4.83zM593.9 446.88h1.21v1.23h-1.21zM552.8 448.11h8.46v1.23h-8.46zM562.5 448.11h10.88v1.23h-10.88zM574.6 448.11h1.21v1.23h-1.21zM579.4 448.11h4.83v1.23h-4.83zM585.4 448.11h4.83v1.23h-4.83zM591.5 448.11h3.63v1.23h-3.63zM556.4 449.34h3.63v1.23h-3.63zM566.1 449.34h1.21v1.23h-1.21zM572.1 449.34h1.21v1.23h-1.21zM574.6 449.34h2.42v1.23h-2.42zM579.4 449.34h12.09v1.23h-12.09zM592.7 449.34h2.42v1.23h-2.42zM552.8 450.58h1.21v1.23h-1.21zM555.2 450.58h15.71v1.23h-15.71zM572.1 450.58h2.42v1.23h-2.42zM575.8 450.58h2.42v1.23h-2.42zM579.4 450.58h15.71v1.23h-15.71zM557.6 451.81h1.21v1.23h-1.21zM560.1 451.81h2.42v1.23h-2.42zM563.7 451.81h3.63v1.23h-3.63zM569.7 451.81h2.42v1.23h-2.42zM580.6 451.81h4.83v1.23h-4.83zM586.6 451.81h4.83v1.23h-4.83zM554.0 453.05h2.42v1.23h-2.42zM557.6 453.05h1.21v1.23h-1.21zM560.1 453.05h22.96v1.23h-22.96zM586.6 453.05h1.21v1.23h-1.21zM590.3 453.05h1.21v1.23h-1.21zM593.9 453.05h1.21v1.23h-1.21zM552.8 454.28h6.04v1.23h-6.04zM560.1 454.28h6.04v1.23h-6.04zM567.3 454.28h1.21v1.23h-1.21zM569.7 454.28h1.21v1.23h-1.21zM573.3 454.28h4.83v1.23h-4.83zM579.4 454.28h1.21v1.23h-1.21zM584.2 454.28h1.21v1.23h-1.21zM586.6 454.28h4.83v1.23h-4.83zM552.8 455.51h1.21v1.23h-1.21zM555.2 455.51h2.42v1.23h-2.42zM558.8 455.51h1.21v1.23h-1.21zM562.5 455.51h4.83v1.23h-4.83zM572.1 455.51h1.21v1.23h-1.21zM577.0 455.51h6.04v1.23h-6.04zM586.6 455.51h6.04v1.23h-6.04zM556.4 456.75h1.21v1.23h-1.21zM563.7 456.75h2.42v1.23h-2.42zM568.5 456.75h6.04v1.23h-6.04zM575.8 456.75h1.21v1.23h-1.21zM586.6 456.75h1.21v1.23h-1.21zM552.8 457.98h1.21v1.23h-1.21zM560.1 457.98h8.46v1.23h-8.46zM569.7 457.98h1.21v1.23h-1.21zM577.0 457.98h1.21v1.23h-1.21zM581.8 457.98h2.42v1.23h-2.42zM585.4 457.98h4.83v1.23h-4.83zM592.7 457.98h2.42v1.23h-2.42zM556.4 459.21h1.21v1.23h-1.21zM569.7 459.21h1.21v1.23h-1.21zM574.6 459.21h2.42v1.23h-2.42zM581.8 459.21h2.42v1.23h-2.42zM586.6 459.21h2.42v1.23h-2.42zM552.8 460.45h4.83v1.23h-4.83zM560.1 460.45h3.63v1.23h-3.63zM564.9 460.45h1.21v1.23h-1.21zM574.6 460.45h3.63v1.23h-3.63zM579.4 460.45h1.21v1.23h-1.21zM585.4 460.45h6.04v1.23h-6.04zM556.4 461.68h6.04v1.23h-6.04zM564.9 461.68h7.25v1.23h-7.25zM573.3 461.68h1.21v1.23h-1.21zM577.0 461.68h6.04v1.23h-6.04zM586.6 461.68h7.25v1.23h-7.25zM552.8 462.92h1.21v1.23h-1.21zM558.8 462.92h1.21v1.23h-1.21zM561.3 462.92h10.88v1.23h-10.88zM580.6 462.92h1.21v1.23h-1.21zM586.6 462.92h8.46v1.23h-8.46zM552.8 464.15h26.59v1.23h-26.59zM583.0 464.15h12.09v1.23h-12.09zM554.0 465.38h10.88v1.23h-10.88zM566.1 465.38h14.50v1.23h-14.50zM581.8 465.38h10.88v1.23h-10.88zM552.8 466.62h18.13v1.23h-18.13zM578.2 466.62h12.09v1.23h-12.09zM592.7 466.62h2.42v1.23h-2.42zM552.8 467.85h6.04v1.23h-6.04zM562.5 467.85h9.67v1.23h-9.67zM573.3 467.85h6.04v1.23h-6.04zM583.0 467.85h10.88v1.23h-10.88zM552.8 469.08h10.88v1.23h-10.88zM564.9 469.08h1.21v1.23h-1.21zM567.3 469.08h2.42v1.23h-2.42zM574.6 469.08h3.63v1.23h-3.63zM580.6 469.08h1.21v1.23h-1.21zM585.4 469.08h9.67v1.23h-9.67zM555.2 470.32h21.75v1.23h-21.75zM578.2 470.32h1.21v1.23h-1.21zM580.6 470.32h14.50v1.23h-14.50zM552.8 471.55h3.63v1.23h-3.63zM557.6 471.55h2.42v1.23h-2.42zM564.9 471.55h7.25v1.23h-7.25zM575.8 471.55h2.42v1.23h-2.42zM580.6 471.55h2.42v1.23h-2.42zM589.1 471.55h1.21v1.23h-1.21zM555.2 472.78h1.21v1.23h-1.21zM557.6 472.78h6.04v1.23h-6.04zM564.9 472.78h2.42v1.23h-2.42zM569.7 472.78h3.63v1.23h-3.63zM575.8 472.78h2.42v1.23h-2.42zM579.4 472.78h1.21v1.23h-1.21zM585.4 472.78h1.21v1.23h-1.21zM590.3 472.78h4.83v1.23h-4.83zM556.4 474.02h1.21v1.23h-1.21zM558.8 474.02h7.25v1.23h-7.25zM579.4 474.02h2.42v1.23h-2.42zM583.0 474.02h1.21v1.23h-1.21zM587.8 474.02h3.63v1.23h-3.63zM592.7 474.02h2.42v1.23h-2.42zM556.4 475.25h9.67v1.23h-9.67zM567.3 475.25h2.42v1.23h-2.42zM572.1 475.25h10.88v1.23h-10.88zM584.2 475.25h3.63v1.23h-3.63zM590.3 475.25h4.83v1.23h-4.83zM554.0 476.49h14.50v1.23h-14.50zM575.8 476.49h4.83v1.23h-4.83zM581.8 476.49h13.29v1.23h-13.29zM552.8 477.72h4.83v1.23h-4.83zM558.8 477.72h4.83v1.23h-4.83zM564.9 477.72h2.42v1.23h-2.42zM569.7 477.72h6.04v1.23h-6.04zM577.0 477.72h13.29v1.23h-13.29zM554.0 478.95h2.42v1.23h-2.42zM558.8 478.95h9.67v1.23h-9.67zM569.7 478.95h1.21v1.23h-1.21zM572.1 478.95h6.04v1.23h-6.04zM579.4 478.95h2.42v1.23h-2.42zM586.6 478.95h4.83v1.23h-4.83zM556.4 480.19h3.63v1.23h-3.63zM563.7 480.19h1.21v1.23h-1.21zM569.7 480.19h4.83v1.23h-4.83zM577.0 480.19h6.04v1.23h-6.04zM585.4 480.19h7.25v1.23h-7.25zM552.8 481.42h3.63v1.23h-3.63zM558.8 481.42h1.21v1.23h-1.21zM563.7 481.42h1.21v1.23h-1.21zM568.5 481.42h7.25v1.23h-7.25zM577.0 481.42h1.21v1.23h-1.21zM579.4 481.42h1.21v1.23h-1.21zM581.8 481.42h3.63v1.23h-3.63zM586.6 481.42h3.63v1.23h-3.63zM592.7 481.42h2.42v1.23h-2.42zM555.2 482.65h1.21v1.23h-1.21zM557.6 482.65h12.09v1.23h-12.09zM577.0 482.65h1.21v1.23h-1.21zM579.4 482.65h15.71v1.23h-15.71zM554.0 483.89h1.21v1.23h-1.21zM556.4 483.89h4.83v1.23h-4.83zM566.1 483.89h1.21v1.23h-1.21zM568.5 483.89h3.63v1.23h-3.63zM573.3 483.89h1.21v1.23h-1.21zM577.0 483.89h1.21v1.23h-1.21zM579.4 483.89h7.25v1.23h-7.25zM589.1 483.89h6.04v1.23h-6.04zM554.0 485.12h10.88v1.23h-10.88zM566.1 485.12h18.13v1.23h-18.13zM585.4 485.12h4.83v1.23h-4.83zM591.5 485.12h3.63v1.23h-3.63zM552.8 486.36h13.29v1.23h-13.29zM572.1 486.36h7.25v1.23h-7.25zM580.6 486.36h7.25v1.23h-7.25zM590.3 486.36h4.83v1.23h-4.83zM552.8 487.59h3.63v1.23h-3.63zM557.6 487.59h1.21v1.23h-1.21zM561.3 487.59h1.21v1.23h-1.21zM563.7 487.59h4.83v1.23h-4.83zM574.6 487.59h1.21v1.23h-1.21zM578.2 487.59h1.21v1.23h-1.21zM584.2 487.59h2.42v1.23h-2.42zM589.1 487.59h2.42v1.23h-2.42zM592.7 487.59h2.42v1.23h-2.42zM552.8 488.82h32.63v1.23h-32.63zM586.6 488.82h8.46v1.23h-8.46zM558.8 490.06h1.21v1.23h-1.21zM561.3 490.06h3.63v1.23h-3.63zM566.1 490.06h1.21v1.23h-1.21zM568.5 490.06h4.83v1.23h-4.83zM578.2 490.06h6.04v1.23h-6.04zM593.9 490.06h1.21v1.23h-1.21zM552.8 491.29h1.21v1.23h-1.21zM555.2 491.29h9.67v1.23h-9.67zM566.1 491.29h4.83v1.23h-4.83zM572.1 491.29h4.83v1.23h-4.83zM589.1 491.29h2.42v1.23h-2.42zM557.6 492.52h3.63v1.23h-3.63zM562.5 492.52h7.25v1.23h-7.25zM570.9 492.52h1.21v1.23h-1.21zM573.3 492.52h1.21v1.23h-1.21zM575.8 492.52h1.21v1.23h-1.21zM578.2 492.52h1.21v1.23h-1.21zM580.6 492.52h4.83v1.23h-4.83zM589.1 492.52h1.21v1.23h-1.21zM554.0 493.76h4.83v1.23h-4.83zM561.3 493.76h6.04v1.23h-6.04zM568.5 493.76h1.21v1.23h-1.21zM573.3 493.76h21.75v1.23h-21.75zM554.0 494.99h1.21v1.23h-1.21zM556.4 494.99h27.80v1.23h-27.80zM585.4 494.99h2.42v1.23h-2.42zM589.1 494.99h1.21v1.23h-1.21zM591.5 494.99h3.63v1.23h-3.63zM555.2 496.23h3.63v1.23h-3.63zM560.1 496.23h1.21v1.23h-1.21zM562.5 496.23h2.42v1.23h-2.42zM566.1 496.23h4.83v1.23h-4.83zM575.8 496.23h4.83v1.23h-4.83zM584.2 496.23h1.21v1.23h-1.21zM586.6 496.23h7.25v1.23h-7.25zM555.2 497.46h2.42v1.23h-2.42zM558.8 497.46h9.67v1.23h-9.67zM577.0 497.46h2.42v1.23h-2.42zM580.6 497.46h1.21v1.23h-1.21zM583.0 497.46h2.42v1.23h-2.42zM586.6 497.46h8.46v1.23h-8.46zM554.0 498.69h2.42v1.23h-2.42zM560.1 498.69h8.46v1.23h-8.46zM570.9 498.69h4.83v1.23h-4.83zM586.6 498.69h2.42v1.23h-2.42zM552.8 499.93h1.21v1.23h-1.21zM556.4 499.93h3.63v1.23h-3.63zM567.3 499.93h10.88v1.23h-10.88zM580.6 499.93h8.46v1.23h-8.46zM590.3 499.93h4.83v1.23h-4.83zM556.4 501.16h3.63v1.23h-3.63zM562.5 501.16h1.21v1.23h-1.21zM567.3 501.16h8.46v1.23h-8.46zM577.0 501.16h4.83v1.23h-4.83zM586.6 501.16h2.42v1.23h-2.42zM590.3 501.16h4.83v1.23h-4.83zM552.8 502.39h18.13v1.23h-18.13zM573.3 502.39h3.63v1.23h-3.63zM578.2 502.39h2.42v1.23h-2.42zM581.8 502.39h4.83v1.23h-4.83zM554.0 503.63h6.04v1.23h-6.04zM563.7 503.63h3.63v1.23h-3.63zM570.9 503.63h4.83v1.23h-4.83zM577.0 503.63h2.42v1.23h-2.42zM583.0 503.63h6.04v1.23h-6.04zM558.8 504.86h4.83v1.23h-4.83zM567.3 504.86h1.21v1.23h-1.21zM578.2 504.86h1.21v1.23h-1.21zM580.6 504.86h9.67v1.23h-9.67zM552.8 506.10h2.42v1.23h-2.42zM556.4 506.10h1.21v1.23h-1.21zM563.7 506.10h7.25v1.23h-7.25zM572.1 506.10h4.83v1.23h-4.83zM578.2 506.10h1.21v1.23h-1.21zM585.4 506.10h2.42v1.23h-2.42zM589.1 506.10h2.42v1.23h-2.42zM593.9 506.10h1.21v1.23h-1.21zM552.8 507.33h3.63v1.23h-3.63zM560.1 507.33h2.42v1.23h-2.42zM563.7 507.33h1.21v1.23h-1.21zM566.1 507.33h2.42v1.23h-2.42zM569.7 507.33h9.67v1.23h-9.67zM580.6 507.33h9.67v1.23h-9.67zM591.5 507.33h3.63v1.23h-3.63zM552.8 508.56h1.21v1.23h-1.21zM556.4 508.56h1.21v1.23h-1.21zM566.1 508.56h6.04v1.23h-6.04zM573.3 508.56h2.42v1.23h-2.42zM577.0 508.56h1.21v1.23h-1.21zM579.4 508.56h8.46v1.23h-8.46zM591.5 508.56h1.21v1.23h-1.21zM554.0 509.80h8.46v1.23h-8.46zM566.1 509.80h1.21v1.23h-1.21zM573.3 509.80h1.21v1.23h-1.21zM575.8 509.80h4.83v1.23h-4.83zM581.8 509.80h2.42v1.23h-2.42zM586.6 509.80h4.83v1.23h-4.83zM555.2 511.03h1.21v1.23h-1.21zM563.7 511.03h1.21v1.23h-1.21zM566.1 511.03h1.21v1.23h-1.21zM569.7 511.03h4.83v1.23h-4.83zM577.0 511.03h4.83v1.23h-4.83zM586.6 511.03h1.21v1.23h-1.21zM589.1 511.03h6.04v1.23h-6.04zM552.8 512.26h12.09v1.23h-12.09zM568.5 512.26h26.59v1.23h-26.59zM552.8 513.50h42.30v1.23h-42.30zM554.0 514.73h4.83v1.23h-4.83zM560.1 514.73h1.21v1.23h-1.21zM563.7 514.73h31.42v1.23h-31.42zM552.8 515.97h2.42v1.23h-2.42zM558.8 515.97h1.21v1.23h-1.21zM561.3 515.97h3.63v1.23h-3.63zM566.1 515.97h29.01v1.23h-29.01zM556.4 517.20h38.67v1.23h-38.67zM554.0 518.43h21.75v1.23h-21.75zM578.2 518.43h1.21v1.23h-1.21zM581.8 518.43h9.67v1.23h-9.67zM592.7 518.43h2.42v1.23h-2.42zM552.8 519.67h7.25v1.23h-7.25zM564.9 519.67h6.04v1.23h-6.04zM572.1 519.67h9.67v1.23h-9.67zM586.6 519.67h6.04v1.23h-6.04zM593.9 519.67h1.21v1.23h-1.21zM552.8 520.90h7.25v1.23h-7.25zM561.3 520.90h1.21v1.23h-1.21zM563.7 520.90h9.67v1.23h-9.67zM574.6 520.90h6.04v1.23h-6.04zM585.4 520.90h3.63v1.23h-3.63zM592.7 520.90h2.42v1.23h-2.42zM555.2 522.13h13.29v1.23h-13.29zM572.1 522.13h2.42v1.23h-2.42zM575.8 522.13h2.42v1.23h-2.42zM579.4 522.13h4.83v1.23h-4.83zM586.6 522.13h3.63v1.23h-3.63zM591.5 522.13h3.63v1.23h-3.63zM552.8 523.37h42.30v1.23h-42.30zM556.4 524.60h4.83v1.23h-4.83zM564.9 524.60h1.21v1.23h-1.21zM567.3 524.60h4.83v1.23h-4.83zM577.0 524.60h4.83v1.23h-4.83zM583.0 524.60h9.67v1.23h-9.67zM593.9 524.60h1.21v1.23h-1.21zM552.8 525.83h13.29v1.23h-13.29zM567.3 525.83h2.42v1.23h-2.42zM573.3 525.83h3.63v1.23h-3.63zM586.6 525.83h3.63v1.23h-3.63zM591.5 525.83h2.42v1.23h-2.42zM557.6 527.07h1.21v1.23h-1.21zM560.1 527.07h3.63v1.23h-3.63zM567.3 527.07h10.88v1.23h-10.88zM579.4 527.07h2.42v1.23h-2.42zM584.2 527.07h4.83v1.23h-4.83zM552.8 528.30h24.17v1.23h-24.17zM585.4 528.30h3.63v1.23h-3.63zM590.3 528.30h2.42v1.23h-2.42zM552.8 529.54h1.21v1.23h-1.21zM558.8 529.54h6.04v1.23h-6.04zM568.5 529.54h1.21v1.23h-1.21zM570.9 529.54h1.21v1.23h-1.21zM574.6 529.54h7.25v1.23h-7.25zM586.6 529.54h8.46v1.23h-8.46zM552.8 530.77h1.21v1.23h-1.21zM558.8 530.77h21.75v1.23h-21.75zM581.8 530.77h13.29v1.23h-13.29zM552.8 532.00h2.42v1.23h-2.42zM556.4 532.00h10.88v1.23h-10.88zM569.7 532.00h8.46v1.23h-8.46zM580.6 532.00h10.88v1.23h-10.88zM593.9 532.00h1.21v1.23h-1.21zM552.8 533.24h2.42v1.23h-2.42zM556.4 533.24h3.63v1.23h-3.63zM561.3 533.24h7.25v1.23h-7.25zM569.7 533.24h6.04v1.23h-6.04zM580.6 533.24h4.83v1.23h-4.83zM586.6 533.24h2.42v1.23h-2.42zM592.7 533.24h2.42v1.23h-2.42zM555.2 534.47h1.21v1.23h-1.21zM560.1 534.47h2.42v1.23h-2.42zM567.3 534.47h6.04v1.23h-6.04zM578.2 534.47h1.21v1.23h-1.21zM581.8 534.47h12.09v1.23h-12.09zM552.8 535.70h3.63v1.23h-3.63zM562.5 535.70h4.83v1.23h-4.83zM569.7 535.70h18.13v1.23h-18.13zM593.9 535.70h1.21v1.23h-1.21zM552.8 536.94h4.83v1.23h-4.83zM558.8 536.94h4.83v1.23h-4.83zM573.3 536.94h8.46v1.23h-8.46zM583.0 536.94h12.09v1.23h-12.09zM552.8 538.17h2.42v1.23h-2.42zM558.8 538.17h10.88v1.23h-10.88zM575.8 538.17h12.09v1.23h-12.09zM592.7 538.17h2.42v1.23h-2.42zM554.0 539.41h3.63v1.23h-3.63zM558.8 539.41h2.42v1.23h-2.42zM569.7 539.41h2.42v1.23h-2.42zM573.3 539.41h1.21v1.23h-1.21zM575.8 539.41h13.29v1.23h-13.29zM590.3 539.41h4.83v1.23h-4.83zM561.3 540.64h2.42v1.23h-2.42zM566.1 540.64h6.04v1.23h-6.04zM573.3 540.64h3.63v1.23h-3.63zM583.0 540.64h1.21v1.23h-1.21zM587.8 540.64h2.42v1.23h-2.42zM557.6 541.87h1.21v1.23h-1.21zM560.1 541.87h2.42v1.23h-2.42zM563.7 541.87h3.63v1.23h-3.63zM570.9 541.87h2.42v1.23h-2.42zM577.0 541.87h2.42v1.23h-2.42zM580.6 541.87h7.25v1.23h-7.25zM591.5 541.87h3.63v1.23h-3.63zM552.8 543.11h1.21v1.23h-1.21zM555.2 543.11h3.63v1.23h-3.63zM560.1 543.11h4.83v1.23h-4.83zM566.1 543.11h4.83v1.23h-4.83zM574.6 543.11h1.21v1.23h-1.21zM578.2 543.11h2.42v1.23h-2.42zM581.8 543.11h1.21v1.23h-1.21zM584.2 543.11h1.21v1.23h-1.21zM589.1 543.11h4.83v1.23h-4.83zM558.8 544.34h4.83v1.23h-4.83zM568.5 544.34h2.42v1.23h-2.42zM572.1 544.34h2.42v1.23h-2.42zM575.8 544.34h1.21v1.23h-1.21zM579.4 544.34h4.83v1.23h-4.83zM587.8 544.34h3.63v1.23h-3.63zM557.6 545.57h13.29v1.23h-13.29zM572.1 545.57h8.46v1.23h-8.46zM581.8 545.57h9.67v1.23h-9.67zM592.7 545.57h2.42v1.23h-2.42zM552.8 546.81h8.46v1.23h-8.46zM562.5 546.81h1.21v1.23h-1.21zM574.6 546.81h1.21v1.23h-1.21zM583.0 546.81h1.21v1.23h-1.21zM585.4 546.81h2.42v1.23h-2.42zM590.3 546.81h2.42v1.23h-2.42zM552.8 548.04h1.21v1.23h-1.21zM556.4 548.04h7.25v1.23h-7.25zM564.9 548.04h1.21v1.23h-1.21zM568.5 548.04h1.21v1.23h-1.21zM570.9 548.04h1.21v1.23h-1.21zM574.6 548.04h2.42v1.23h-2.42zM578.2 548.04h6.04v1.23h-6.04zM587.8 548.04h1.21v1.23h-1.21zM590.3 548.04h2.42v1.23h-2.42zM593.9 548.04h1.21v1.23h-1.21zM556.4 549.28h3.63v1.23h-3.63zM562.5 549.28h1.21v1.23h-1.21zM569.7 549.28h7.25v1.23h-7.25zM580.6 549.28h6.04v1.23h-6.04zM589.1 549.28h6.04v1.23h-6.04zM552.8 550.51h2.42v1.23h-2.42zM563.7 550.51h3.63v1.23h-3.63zM570.9 550.51h1.21v1.23h-1.21zM574.6 550.51h2.42v1.23h-2.42zM584.2 550.51h2.42v1.23h-2.42zM587.8 550.51h3.63v1.23h-3.63zM592.7 550.51h2.42v1.23h-2.42zM560.1 551.74h1.21v1.23h-1.21zM562.5 551.74h6.04v1.23h-6.04zM577.0 551.74h7.25v1.23h-7.25zM589.1 551.74h1.21v1.23h-1.21zM592.7 551.74h1.21v1.23h-1.21zM567.3 552.98h1.21v1.23h-1.21zM569.7 552.98h1.21v1.23h-1.21zM580.6 552.98h1.21v1.23h-1.21zM583.0 552.98h4.83v1.23h-4.83zM592.7 552.98h2.42v1.23h-2.42zM552.8 554.21h9.67v1.23h-9.67zM563.7 554.21h14.50v1.23h-14.50zM579.4 554.21h4.83v1.23h-4.83zM586.6 554.21h4.83v1.23h-4.83zM592.7 554.21h2.42v1.23h-2.42zM554.0 555.44h6.04v1.23h-6.04zM562.5 555.44h4.83v1.23h-4.83zM568.5 555.44h2.42v1.23h-2.42zM574.6 555.44h1.21v1.23h-1.21zM577.0 555.44h9.67v1.23h-9.67zM587.8 555.44h1.21v1.23h-1.21zM593.9 555.44h1.21v1.23h-1.21zM554.0 556.68h3.63v1.23h-3.63zM558.8 556.68h1.21v1.23h-1.21zM566.1 556.68h1.21v1.23h-1.21zM569.7 556.68h4.83v1.23h-4.83zM575.8 556.68h1.21v1.23h-1.21zM589.1 556.68h3.63v1.23h-3.63zM555.2 557.91h1.21v1.23h-1.21zM562.5 557.91h4.83v1.23h-4.83zM568.5 557.91h2.42v1.23h-2.42zM573.3 557.91h1.21v1.23h-1.21zM575.8 557.91h1.21v1.23h-1.21zM583.0 557.91h3.63v1.23h-3.63zM587.8 557.91h1.21v1.23h-1.21zM590.3 557.91h4.83v1.23h-4.83zM554.0 559.15h8.46v1.23h-8.46zM566.1 559.15h2.42v1.23h-2.42zM578.2 559.15h2.42v1.23h-2.42zM581.8 559.15h2.42v1.23h-2.42zM586.6 559.15h8.46v1.23h-8.46zM552.8 560.38h6.04v1.23h-6.04zM562.5 560.38h1.21v1.23h-1.21zM575.8 560.38h4.83v1.23h-4.83zM586.6 560.38h1.21v1.23h-1.21zM592.7 560.38h2.42v1.23h-2.42zM555.2 561.61h4.83v1.23h-4.83zM562.5 561.61h3.63v1.23h-3.63zM567.3 561.61h1.21v1.23h-1.21zM569.7 561.61h1.21v1.23h-1.21zM573.3 561.61h3.63v1.23h-3.63zM585.4 561.61h1.21v1.23h-1.21zM587.8 561.61h1.21v1.23h-1.21zM552.8 562.85h1.21v1.23h-1.21zM555.2 562.85h6.04v1.23h-6.04zM564.9 562.85h1.21v1.23h-1.21zM568.5 562.85h2.42v1.23h-2.42zM578.2 562.85h3.63v1.23h-3.63zM584.2 562.85h4.83v1.23h-4.83zM591.5 562.85h1.21v1.23h-1.21zM561.3 564.08h6.04v1.23h-6.04zM572.1 564.08h2.42v1.23h-2.42zM586.6 564.08h8.46v1.23h-8.46zM564.9 565.31h1.21v1.23h-1.21zM569.7 565.31h1.21v1.23h-1.21zM572.1 565.31h6.04v1.23h-6.04zM584.2 565.31h1.21v1.23h-1.21zM587.8 565.31h3.63v1.23h-3.63zM592.7 565.31h1.21v1.23h-1.21zM567.3 566.55h6.04v1.23h-6.04zM574.6 566.55h1.21v1.23h-1.21zM577.0 566.55h2.42v1.23h-2.42zM580.6 566.55h1.21v1.23h-1.21zM556.4 567.78h8.46v1.23h-8.46zM566.1 567.78h2.42v1.23h-2.42zM574.6 567.78h2.42v1.23h-2.42zM583.0 567.78h3.63v1.23h-3.63zM589.1 567.78h1.21v1.23h-1.21zM591.5 567.78h3.63v1.23h-3.63zM555.2 569.02h4.83v1.23h-4.83zM566.1 569.02h4.83v1.23h-4.83zM577.0 569.02h2.42v1.23h-2.42zM580.6 569.02h4.83v1.23h-4.83zM586.6 569.02h1.21v1.23h-1.21zM592.7 569.02h2.42v1.23h-2.42zM552.8 570.25h2.42v1.23h-2.42zM556.4 570.25h1.21v1.23h-1.21zM562.5 570.25h16.92v1.23h-16.92zM580.6 570.25h4.83v1.23h-4.83zM587.8 570.25h7.25v1.23h-7.25zM555.2 571.48h2.42v1.23h-2.42zM562.5 571.48h2.42v1.23h-2.42zM566.1 571.48h3.63v1.23h-3.63zM581.8 571.48h2.42v1.23h-2.42zM585.4 571.48h3.63v1.23h-3.63zM590.3 571.48h3.63v1.23h-3.63zM554.0 572.72h1.21v1.23h-1.21zM556.4 572.72h3.63v1.23h-3.63zM562.5 572.72h4.83v1.23h-4.83zM568.5 572.72h26.59v1.23h-26.59zM554.0 573.95h1.21v1.23h-1.21zM556.4 573.95h1.21v1.23h-1.21zM562.5 573.95h2.42v1.23h-2.42zM566.1 573.95h1.21v1.23h-1.21zM568.5 573.95h1.21v1.23h-1.21zM570.9 573.95h3.63v1.23h-3.63zM575.8 573.95h1.21v1.23h-1.21zM580.6 573.95h3.63v1.23h-3.63zM587.8 573.95h2.42v1.23h-2.42zM552.8 575.18h8.46v1.23h-8.46zM562.5 575.18h6.04v1.23h-6.04zM572.1 575.18h1.21v1.23h-1.21zM574.6 575.18h3.63v1.23h-3.63zM580.6 575.18h1.21v1.23h-1.21zM584.2 575.18h6.04v1.23h-6.04zM593.9 575.18h1.21v1.23h-1.21zM552.8 576.42h1.21v1.23h-1.21zM557.6 576.42h2.42v1.23h-2.42zM563.7 576.42h2.42v1.23h-2.42zM567.3 576.42h1.21v1.23h-1.21zM573.3 576.42h2.42v1.23h-2.42zM577.0 576.42h3.63v1.23h-3.63zM583.0 576.42h12.09v1.23h-12.09zM554.0 577.65h1.21v1.23h-1.21zM566.1 577.65h2.42v1.23h-2.42zM572.1 577.65h2.42v1.23h-2.42zM575.8 577.65h3.63v1.23h-3.63zM583.0 577.65h1.21v1.23h-1.21zM585.4 577.65h3.63v1.23h-3.63zM590.3 577.65h4.83v1.23h-4.83zM555.2 578.88h2.42v1.23h-2.42zM561.3 578.88h2.42v1.23h-2.42zM567.3 578.88h2.42v1.23h-2.42zM580.6 578.88h14.50v1.23h-14.50zM557.6 580.12h1.21v1.23h-1.21zM560.1 580.12h2.42v1.23h-2.42zM564.9 580.12h4.83v1.23h-4.83zM575.8 580.12h1.21v1.23h-1.21zM579.4 580.12h1.21v1.23h-1.21zM581.8 580.12h1.21v1.23h-1.21zM585.4 580.12h1.21v1.23h-1.21zM587.8 580.12h1.21v1.23h-1.21zM592.7 580.12h2.42v1.23h-2.42zM561.3 581.35h3.63v1.23h-3.63zM567.3 581.35h1.21v1.23h-1.21zM569.7 581.35h9.67v1.23h-9.67zM580.6 581.35h1.21v1.23h-1.21zM584.2 581.35h10.88v1.23h-10.88zM558.8 582.59h2.42v1.23h-2.42zM564.9 582.59h13.29v1.23h-13.29zM585.4 582.59h2.42v1.23h-2.42zM589.1 582.59h2.42v1.23h-2.42zM561.3 583.82h2.42v1.23h-2.42zM568.5 583.82h1.21v1.23h-1.21zM570.9 583.82h12.09v1.23h-12.09zM584.2 583.82h3.63v1.23h-3.63zM591.5 583.82h3.63v1.23h-3.63zM558.8 585.05h1.21v1.23h-1.21zM572.1 585.05h3.63v1.23h-3.63zM578.2 585.05h2.42v1.23h-2.42zM581.8 585.05h3.63v1.23h-3.63zM556.4 586.29h1.21v1.23h-1.21zM566.1 586.29h2.42v1.23h-2.42zM569.7 586.29h1.21v1.23h-1.21zM577.0 586.29h9.67v1.23h-9.67zM591.5 586.29h3.63v1.23h-3.63zM554.0 587.52h1.21v1.23h-1.21zM563.7 587.52h9.67v1.23h-9.67zM574.6 587.52h7.25v1.23h-7.25zM585.4 587.52h2.42v1.23h-2.42zM554.0 588.75h1.21v1.23h-1.21zM556.4 588.75h3.63v1.23h-3.63zM563.7 588.75h4.83v1.23h-4.83zM570.9 588.75h2.42v1.23h-2.42zM579.4 588.75h1.21v1.23h-1.21zM581.8 588.75h2.42v1.23h-2.42zM585.4 588.75h8.46v1.23h-8.46zM557.6 589.99h2.42v1.23h-2.42zM561.3 589.99h6.04v1.23h-6.04zM568.5 589.99h2.42v1.23h-2.42zM572.1 589.99h1.21v1.23h-1.21zM575.8 589.99h4.83v1.23h-4.83zM584.2 589.99h2.42v1.23h-2.42zM587.8 589.99h7.25v1.23h-7.25zM556.4 591.22h1.21v1.23h-1.21zM560.1 591.22h8.46v1.23h-8.46zM569.7 591.22h22.96v1.23h-22.96zM593.9 591.22h1.21v1.23h-1.21zM557.6 592.46h1.21v1.23h-1.21zM560.1 592.46h18.13v1.23h-18.13zM579.4 592.46h1.21v1.23h-1.21zM585.4 592.46h1.21v1.23h-1.21zM587.8 592.46h2.42v1.23h-2.42zM557.6 593.69h2.42v1.23h-2.42zM567.3 593.69h20.55v1.23h-20.55zM589.1 593.69h6.04v1.23h-6.04zM563.7 594.92h1.21v1.23h-1.21zM566.1 594.92h7.25v1.23h-7.25zM574.6 594.92h4.83v1.23h-4.83zM580.6 594.92h3.63v1.23h-3.63zM593.9 594.92h1.21v1.23h-1.21zM568.5 596.16h2.42v1.23h-2.42zM572.1 596.16h3.63v1.23h-3.63zM579.4 596.16h1.21v1.23h-1.21zM581.8 596.16h4.83v1.23h-4.83zM591.5 596.16h3.63v1.23h-3.63zM567.3 597.39h3.63v1.23h-3.63zM574.6 597.39h1.21v1.23h-1.21zM577.0 597.39h4.83v1.23h-4.83zM583.0 597.39h1.21v1.23h-1.21zM585.4 597.39h6.04v1.23h-6.04zM560.1 598.62h1.21v1.23h-1.21zM563.7 598.62h1.21v1.23h-1.21zM566.1 598.62h1.21v1.23h-1.21zM570.9 598.62h2.42v1.23h-2.42zM575.8 598.62h3.63v1.23h-3.63zM581.8 598.62h1.21v1.23h-1.21zM586.6 598.62h4.83v1.23h-4.83zM592.7 598.62h2.42v1.23h-2.42zM566.1 599.86h1.21v1.23h-1.21zM570.9 599.86h1.21v1.23h-1.21zM573.3 599.86h1.21v1.23h-1.21zM580.6 599.86h1.21v1.23h-1.21zM590.3 599.86h2.42v1.23h-2.42zM593.9 599.86h1.21v1.23h-1.21zM555.2 601.09h2.42v1.23h-2.42zM566.1 601.09h4.83v1.23h-4.83zM579.4 601.09h1.21v1.23h-1.21zM584.2 601.09h1.21v1.23h-1.21zM589.1 601.09h1.21v1.23h-1.21zM592.7 601.09h2.42v1.23h-2.42zM555.2 602.33h1.21v1.23h-1.21zM561.3 602.33h1.21v1.23h-1.21zM564.9 602.33h1.21v1.23h-1.21zM568.5 602.33h9.67v1.23h-9.67zM579.4 602.33h7.25v1.23h-7.25zM592.7 602.33h2.42v1.23h-2.42zM569.7 603.56h2.42v1.23h-2.42zM573.3 603.56h2.42v1.23h-2.42zM579.4 603.56h2.42v1.23h-2.42zM584.2 603.56h3.63v1.23h-3.63zM589.1 603.56h1.21v1.23h-1.21zM592.7 603.56h2.42v1.23h-2.42zM562.5 604.79h3.63v1.23h-3.63zM577.0 604.79h7.25v1.23h-7.25zM586.6 604.79h2.42v1.23h-2.42zM591.5 604.79h3.63v1.23h-3.63zM561.3 606.03h1.21v1.23h-1.21zM563.7 606.03h2.42v1.23h-2.42zM567.3 606.03h2.42v1.23h-2.42zM572.1 606.03h1.21v1.23h-1.21zM574.6 606.03h1.21v1.23h-1.21zM584.2 606.03h3.63v1.23h-3.63zM590.3 606.03h2.42v1.23h-2.42zM593.9 606.03h1.21v1.23h-1.21zM562.5 607.26h6.04v1.23h-6.04zM574.6 607.26h4.83v1.23h-4.83zM580.6 607.26h7.25v1.23h-7.25zM589.1 607.26h6.04v1.23h-6.04zM561.3 608.49h1.21v1.23h-1.21zM563.7 608.49h2.42v1.23h-2.42zM567.3 608.49h3.63v1.23h-3.63zM573.3 608.49h4.83v1.23h-4.83zM579.4 608.49h1.21v1.23h-1.21zM583.0 608.49h3.63v1.23h-3.63zM563.7 609.73h2.42v1.23h-2.42zM572.1 609.73h1.21v1.23h-1.21zM574.6 609.73h1.21v1.23h-1.21zM578.2 609.73h9.67v1.23h-9.67zM589.1 609.73h2.42v1.23h-2.42zM567.3 610.96h1.21v1.23h-1.21zM584.2 610.96h3.63v1.23h-3.63zM589.1 610.96h1.21v1.23h-1.21zM592.7 610.96h1.21v1.23h-1.21zM564.9 612.20h1.21v1.23h-1.21zM569.7 612.20h3.63v1.23h-3.63zM575.8 612.20h3.63v1.23h-3.63zM580.6 612.20h2.42v1.23h-2.42zM585.4 612.20h4.83v1.23h-4.83zM592.7 612.20h2.42v1.23h-2.42zM567.3 613.43h1.21v1.23h-1.21zM570.9 613.43h1.21v1.23h-1.21zM574.6 613.43h6.04v1.23h-6.04zM581.8 613.43h1.21v1.23h-1.21zM584.2 613.43h4.83v1.23h-4.83zM590.3 613.43h4.83v1.23h-4.83zM563.7 614.66h1.21v1.23h-1.21zM573.3 614.66h4.83v1.23h-4.83zM579.4 614.66h3.63v1.23h-3.63zM584.2 614.66h7.25v1.23h-7.25zM592.7 614.66h2.42v1.23h-2.42zM558.8 615.90h3.63v1.23h-3.63zM567.3 615.90h2.42v1.23h-2.42zM573.3 615.90h1.21v1.23h-1.21zM575.8 615.90h2.42v1.23h-2.42zM584.2 615.90h10.88v1.23h-10.88zM567.3 617.13h6.04v1.23h-6.04zM575.8 617.13h3.63v1.23h-3.63zM580.6 617.13h1.21v1.23h-1.21zM583.0 617.13h1.21v1.23h-1.21zM585.4 617.13h7.25v1.23h-7.25zM593.9 617.13h1.21v1.23h-1.21zM570.9 618.36h1.21v1.23h-1.21zM580.6 618.36h9.67v1.23h-9.67zM574.6 619.60h1.21v1.23h-1.21zM578.2 619.60h7.25v1.23h-7.25zM586.6 619.60h6.04v1.23h-6.04zM593.9 619.60h1.21v1.23h-1.21zM554.0 620.83h1.21v1.23h-1.21zM567.3 620.83h1.21v1.23h-1.21zM573.3 620.83h21.75v1.23h-21.75zM567.3 622.07h2.42v1.23h-2.42zM570.9 622.07h2.42v1.23h-2.42zM577.0 622.07h1.21v1.23h-1.21zM579.4 622.07h3.63v1.23h-3.63zM589.1 622.07h1.21v1.23h-1.21zM591.5 622.07h1.21v1.23h-1.21zM593.9 622.07h1.21v1.23h-1.21zM562.5 623.30h2.42v1.23h-2.42zM570.9 623.30h1.21v1.23h-1.21zM574.6 623.30h3.63v1.23h-3.63zM579.4 623.30h6.04v1.23h-6.04zM591.5 623.30h3.63v1.23h-3.63zM573.3 624.53h4.83v1.23h-4.83zM579.4 624.53h10.88v1.23h-10.88zM593.9 624.53h1.21v1.23h-1.21zM573.3 625.77h1.21v1.23h-1.21zM581.8 625.77h1.21v1.23h-1.21zM586.6 625.77h4.83v1.23h-4.83zM593.9 625.77h1.21v1.23h-1.21z" fill="#f2e629"/>
<text x="550.00" y="418.20" font-size="15.5" fill="#555" text-anchor="end" >1</text>
<text x="551.20" y="628.90" font-size="16.5" fill="#555" text-anchor="end" textLength="27.5" lengthAdjust="spacingAndGlyphs" >172</text>
<text x="573.80" y="651.00" font-size="16" fill="#666" text-anchor="middle" textLength="39.5" lengthAdjust="spacingAndGlyphs" >Trials</text>
<text x="535.50" y="520.50" font-size="17" fill="#666" text-anchor="middle" textLength="45" lengthAdjust="spacingAndGlyphs" transform="rotate(-90 535.50 520.50)" >Cell #</text>
<rect x="600.00" y="453.50" width="7.00" height="7.00" fill="#f2e629" stroke="#333" stroke-width="0.8"/>
<rect x="600.00" y="483.50" width="7.00" height="7.00" fill="#2b2b8c" stroke="#333" stroke-width="0.8"/>
<text x="610.80" y="453.00" font-size="11.4" fill="#555" text-anchor="start" >Fired on</text>
<text x="610.80" y="466.50" font-size="11.4" fill="#555" text-anchor="start" >this trial</text>
<text x="610.80" y="483.00" font-size="11.4" fill="#555" text-anchor="start" >Did not fire</text>
<text x="610.80" y="496.50" font-size="11.4" fill="#555" text-anchor="start" >on this trial</text>
<line x1="731.00" y1="457.00" x2="731.00" y2="594.70" stroke="#474747" stroke-width="2.5" />
<line x1="729.80" y1="593.50" x2="800.00" y2="593.50" stroke="#474747" stroke-width="2.5" />
<line x1="728.80" y1="587.00" x2="731.00" y2="587.00" stroke="#474747" stroke-width="1.2" />
<line x1="728.80" y1="560.55" x2="731.00" y2="560.55" stroke="#474747" stroke-width="1.2" />
<line x1="728.80" y1="534.10" x2="731.00" y2="534.10" stroke="#474747" stroke-width="1.2" />
<line x1="728.80" y1="507.65" x2="731.00" y2="507.65" stroke="#474747" stroke-width="1.2" />
<line x1="728.80" y1="481.20" x2="731.00" y2="481.20" stroke="#474747" stroke-width="1.2" />
<text x="718.00" y="486.40" font-size="14" fill="#5f5f5f" text-anchor="middle" textLength="16" lengthAdjust="spacingAndGlyphs" >40</text>
<text x="718.00" y="539.30" font-size="14" fill="#5f5f5f" text-anchor="middle" textLength="16" lengthAdjust="spacingAndGlyphs" >20</text>
<text x="721.00" y="592.20" font-size="14" fill="#5f5f5f" text-anchor="middle" >0</text>
<line x1="749.70" y1="593.50" x2="749.70" y2="596.00" stroke="#474747" stroke-width="1.3" />
<line x1="778.40" y1="593.50" x2="778.40" y2="596.00" stroke="#474747" stroke-width="1.3" />
<rect x="749.51" y="498.39" width="3.20" height="1.30" fill="#c4c4c4" />
<rect x="749.50" y="516.91" width="3.20" height="1.30" fill="#c4c4c4" />
<rect x="747.09" y="515.59" width="3.20" height="1.30" fill="#c4c4c4" />
<rect x="746.98" y="522.20" width="3.20" height="1.30" fill="#c4c4c4" />
<rect x="749.61" y="531.46" width="3.20" height="1.30" fill="#c4c4c4" />
<rect x="750.29" y="510.30" width="3.20" height="1.30" fill="#c4c4c4" />
<rect x="776.12" y="465.32" width="4.00" height="1.30" fill="#c0c0c0" />
<rect x="775.19" y="469.57" width="4.00" height="1.30" fill="#c0c0c0" />
<rect x="777.96" y="481.28" width="4.00" height="1.30" fill="#c0c0c0" />
<rect x="775.80" y="499.36" width="4.00" height="1.30" fill="#c0c0c0" />
<rect x="774.95" y="502.55" width="4.00" height="1.30" fill="#c0c0c0" />
<rect x="775.17" y="513.19" width="4.00" height="1.30" fill="#c0c0c0" />
<rect x="778.53" y="514.89" width="4.00" height="1.30" fill="#c0c0c0" />
<rect x="778.97" y="516.38" width="4.00" height="1.30" fill="#c0c0c0" />
<rect x="775.94" y="533.40" width="4.00" height="1.30" fill="#c0c0c0" />
<rect x="779.19" y="534.89" width="4.00" height="1.30" fill="#c0c0c0" />
<rect x="778.67" y="536.60" width="4.00" height="1.30" fill="#c0c0c0" />
<rect x="777.78" y="546.17" width="4.00" height="1.30" fill="#c0c0c0" />
<rect x="777.72" y="548.30" width="4.00" height="1.30" fill="#c0c0c0" />
<rect x="776.81" y="550.43" width="4.00" height="1.30" fill="#c0c0c0" />
<rect x="775.38" y="551.91" width="4.00" height="1.30" fill="#c0c0c0" />
<rect x="776.58" y="553.62" width="4.00" height="1.30" fill="#c0c0c0" />
<rect x="776.17" y="564.26" width="4.00" height="1.30" fill="#c0c0c0" />
<rect x="777.73" y="566.38" width="4.00" height="1.30" fill="#c0c0c0" />
<rect x="776.21" y="568.51" width="4.00" height="1.30" fill="#c0c0c0" />
<rect x="778.81" y="570.64" width="4.00" height="1.30" fill="#c0c0c0" />
<rect x="777.17" y="572.77" width="4.00" height="1.30" fill="#c0c0c0" />
<line x1="749.70" y1="471.41" x2="749.70" y2="491.78" stroke="#000" stroke-width="2.3" stroke-dasharray="3,2.5"/>
<line x1="749.70" y1="543.09" x2="749.70" y2="572.45" stroke="#000" stroke-width="2.3" stroke-dasharray="3,2.5"/>
<line x1="746.80" y1="471.41" x2="752.90" y2="471.41" stroke="#000" stroke-width="2" />
<line x1="746.80" y1="572.45" x2="752.90" y2="572.45" stroke="#000" stroke-width="2" />
<rect x="743.6" y="491.78" width="12.2" height="51.31" fill="none" stroke="#000" stroke-width="1.8"/>
<line x1="743.60" y1="522.99" x2="755.80" y2="522.99" stroke="#000" stroke-width="1.8" />
<line x1="778.40" y1="485.17" x2="778.40" y2="528.81" stroke="#e4141e" stroke-width="2.3" stroke-dasharray="3,2.5"/>
<line x1="778.40" y1="559.23" x2="778.40" y2="587.00" stroke="#e4141e" stroke-width="2.3" stroke-dasharray="3,2.5"/>
<line x1="775.40" y1="485.17" x2="781.40" y2="485.17" stroke="#e4141e" stroke-width="2" />
<line x1="775.40" y1="587.00" x2="781.40" y2="587.00" stroke="#e4141e" stroke-width="2" />
<rect x="772.3" y="528.81" width="12.1" height="30.42" fill="none" stroke="#e4141e" stroke-width="1.8"/>
<line x1="772.30" y1="544.68" x2="784.40" y2="544.68" stroke="#e4141e" stroke-width="1.8" />
<text x="765.00" y="471.00" font-size="17" fill="#111" text-anchor="middle" textLength="22" lengthAdjust="spacingAndGlyphs" >***</text>
<text x="688.00" y="526.00" font-size="15" fill="#666" text-anchor="middle" textLength="125" lengthAdjust="spacingAndGlyphs" transform="rotate(-90 688.00 526.00)" >% trials with correctly</text>
<text x="705.00" y="526.00" font-size="15" fill="#666" text-anchor="middle" textLength="120" lengthAdjust="spacingAndGlyphs" transform="rotate(-90 705.00 526.00)" >decoded trial identity</text>
<text x="766.50" y="607.50" font-size="17.5" fill="#555" text-anchor="end" textLength="39" lengthAdjust="spacingAndGlyphs" transform="rotate(-45 766.50 607.50)" >Real</text>
<text x="801.00" y="602.50" font-size="17.5" fill="#555" text-anchor="end" textLength="56" lengthAdjust="spacingAndGlyphs" transform="rotate(-45 801.00 602.50)" >Shuffle</text>
</svg></body></html>
